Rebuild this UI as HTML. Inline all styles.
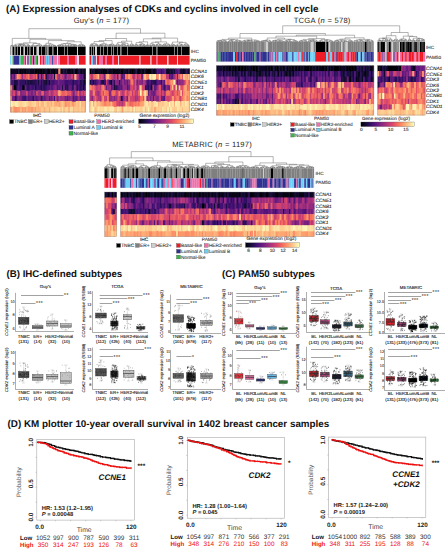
<!DOCTYPE html><html><head><meta charset="utf-8"><style>html,body{margin:0;padding:0;background:#fff;}svg{display:block;}</style></head><body><svg width="447" height="550" viewBox="0 0 447 550" text-rendering="geometricPrecision" font-family='"Liberation Sans", sans-serif'>
<rect width="447" height="550" fill="#fff"/>
<text x="6.00" y="12.20" font-size="9.85" text-anchor="start" font-weight="bold" font-style="normal" fill="#111" >(A) Expression analyses of CDKs and cyclins involved in cell cycle</text>
<text x="101.50" y="23.00" font-size="7.6" text-anchor="middle" font-weight="normal" font-style="normal" fill="#222" letter-spacing="0.25">Guy's (<tspan font-style='italic'>n</tspan> = 177)</text>
<path d="M10.6 46.6V46.0H11.2V46.6M11.9 46.6V46.0H12.4V46.6M10.9 46.0V45.6H12.1V46.0M12.8 46.6V45.9H13.2V46.6M11.5 45.6V45.3H13.0V45.9M13.7 46.6V45.9H14.3V46.6M15.1 46.6V46.0H15.8V46.6M16.6 46.6V46.0H17.4V46.6M15.5 46.0V45.7H17.0V46.0M14.0 45.9V45.3H16.2V45.7M18.0 46.6V45.9H18.5V46.6M18.2 45.9V45.5H19.1V46.6M19.7 46.6V46.0H20.2V46.6M21.3 46.6V46.2H21.7V46.6M20.7 46.6V45.8H21.5V46.2M19.9 46.0V45.4H21.1V45.8M18.7 45.5V45.0H20.5V45.4M22.4 46.6V45.8H22.9V46.6M24.3 46.6V46.2H24.8V46.6M23.5 46.6V45.8H24.6V46.2M22.7 45.8V45.5H24.0V45.8M25.4 46.6V46.0H26.0V46.6M23.3 45.5V45.1H25.7V46.0M19.6 45.0V44.5H24.5V45.1M15.1 45.3V44.2H22.1V44.5M26.4 46.6V46.1H27.1V46.6M26.7 46.1V45.8H27.8V46.6M28.3 46.6V46.0H28.9V46.6M29.9 46.6V46.2H30.5V46.6M29.3 46.6V45.8H30.2V46.2M28.6 46.0V45.5H29.8V45.8M27.2 45.8V45.0H29.2V45.5M18.6 44.2V43.8H28.2V45.0M31.9 46.6V46.4H32.4V46.6M32.1 46.4V46.0H32.9V46.6M31.2 46.6V45.7H32.5V46.0M33.4 46.6V46.1H34.0V46.6M33.7 46.1V45.7H34.6V46.6M31.9 45.7V45.0H34.1V45.7M35.8 46.6V46.5H36.3V46.6M36.0 46.5V46.2H36.9V46.6M35.2 46.6V45.8H36.5V46.2M37.6 46.6V45.8H38.3V46.6M35.8 45.8V45.5H38.0V45.8M39.0 46.6V45.9H39.7V46.6M36.9 45.5V45.1H39.3V45.9M40.2 46.6V46.3H40.7V46.6M40.4 46.3V46.0H41.4V46.6M40.9 46.0V45.6H42.1V46.6M38.1 45.1V44.8H41.5V45.6M33.0 45.0V43.5H39.8V44.8M23.4 43.8V42.8H36.4V43.5M43.7 46.6V46.5H44.3V46.6M44.0 46.5V46.1H44.9V46.6M42.9 46.6V45.8H44.4V46.1M45.3 46.6V45.9H45.9V46.6M43.7 45.8V45.4H45.6V45.9M46.5 46.6V46.0H47.0V46.6M46.7 46.0V45.6H47.5V46.6M44.6 45.4V45.1H47.1V45.6M48.1 46.6V45.9H48.6V46.6M49.8 46.6V46.0H50.3V46.6M49.2 46.6V45.6H50.1V46.0M48.3 45.9V45.3H49.6V45.6M51.4 46.6V46.2H51.9V46.6M50.9 46.6V45.8H51.6V46.2M52.5 46.6V46.5H52.9V46.6M52.7 46.5V46.1H53.5V46.6M53.1 46.1V45.8H54.2V46.6M55.8 46.6V46.5H56.3V46.6M55.4 46.6V46.1H56.1V46.5M54.9 46.6V45.8H55.7V46.1M53.6 45.8V45.4H55.3V45.8M51.3 45.8V45.1H54.5V45.4M49.0 45.3V44.2H52.9V45.1M45.9 45.1V43.3H50.9V44.2M57.0 46.6V45.8H57.6V46.6M58.9 46.6V46.2H59.3V46.6M58.2 46.6V45.8H59.1V46.2M57.3 45.8V45.5H58.6V45.8M59.7 46.6V45.9H60.2V46.6M59.9 45.9V45.5H60.9V46.6M58.0 45.5V45.1H60.4V45.5M61.7 46.6V46.0H62.1V46.6M61.9 46.0V45.7H62.6V46.6M63.4 46.6V45.9H64.1V46.6M62.3 45.7V45.3H63.7V45.9M59.2 45.1V44.8H63.0V45.3M64.6 46.6V45.8H65.2V46.6M65.8 46.6V46.1H66.3V46.6M66.0 46.1V45.8H66.7V46.6M64.9 45.8V45.4H66.4V45.8M61.1 44.8V43.9H65.6V45.4M67.2 46.6V45.9H67.8V46.6M68.6 46.6V46.4H69.1V46.6M68.2 46.6V46.0H68.8V46.4M68.5 46.0V45.7H69.5V46.6M67.5 45.9V45.3H69.0V45.7M70.6 46.6V46.2H71.1V46.6M70.1 46.6V45.9H70.9V46.2M71.7 46.6V45.9H72.3V46.6M70.5 45.9V45.5H72.0V45.9M73.4 46.6V46.1H73.9V46.6M72.8 46.6V45.7H73.6V46.1M74.2 46.6V46.4H74.7V46.6M74.4 46.4V46.0H75.2V46.6M74.8 46.0V45.7H75.6V46.6M73.2 45.7V45.3H75.2V45.7M77.0 46.6V46.0H77.4V46.6M76.4 46.6V45.5H77.2V46.0M74.2 45.3V44.9H76.8V45.5M71.2 45.5V44.6H75.5V44.9M68.3 45.3V44.2H73.4V44.6M63.4 43.9V43.5H70.8V44.2M78.1 46.6V45.7H78.8V46.6M80.1 46.6V46.2H80.6V46.6M80.3 46.2V45.9H81.0V46.6M79.5 46.6V45.5H80.7V45.9M78.4 45.7V45.2H80.1V45.5M82.3 46.6V45.9H83.1V46.6M81.6 46.6V45.6H82.7V45.9M84.7 46.6V46.2H85.2V46.6M84.3 46.6V45.9H84.9V46.2M83.8 46.6V45.5H84.6V45.9M82.1 45.6V45.1H84.2V45.5M79.3 45.2V44.4H83.2V45.1M67.1 43.5V41.8H81.2V44.4M48.4 43.3V40.6H74.2V41.8M29.9 42.8V39.3H61.3V40.6M12.3 45.3V38.4H45.6V39.3M89.9 46.6V45.4H90.8V46.6M91.3 46.6V45.6H91.8V46.6M91.6 45.6V45.3H92.4V46.6M93.1 46.6V45.6H93.7V46.6M92.0 45.3V44.8H93.4V45.6M90.4 45.4V44.3H92.7V44.8M94.3 46.6V45.5H95.1V46.6M95.9 46.6V45.6H96.5V46.6M94.7 45.5V45.1H96.2V45.6M97.0 46.6V45.6H97.6V46.6M97.3 45.6V45.3H98.2V46.6M95.5 45.1V44.6H97.8V45.3M91.5 44.3V43.7H96.6V44.6M98.8 46.6V45.7H99.3V46.6M99.1 45.7V45.4H99.7V46.6M100.0 46.6V45.5H100.5V46.6M101.4 46.6V45.8H101.9V46.6M101.0 46.6V45.5H101.7V45.8M100.3 45.5V45.1H101.3V45.5M99.4 45.4V44.8H100.8V45.1M102.3 46.6V45.6H102.9V46.6M102.6 45.6V45.2H103.7V46.6M100.1 44.8V44.4H103.1V45.2M105.1 46.6V45.9H105.6V46.6M105.4 45.9V45.6H106.3V46.6M104.5 46.6V45.2H105.8V45.6M107.0 46.6V45.3H107.7V46.6M105.2 45.2V44.4H107.3V45.3M101.6 44.4V43.8H106.3V44.4M94.1 43.7V41.5H103.9V43.8M109.2 46.6V45.7H109.8V46.6M110.3 46.6V45.6H110.8V46.6M109.5 45.7V45.3H110.6V45.6M108.5 46.6V44.8H110.0V45.3M111.5 46.6V45.4H112.1V46.6M109.3 44.8V44.5H111.8V45.4M112.4 46.6V45.9H112.9V46.6M112.7 45.9V45.5H113.4V46.6M114.1 46.6V45.6H114.7V46.6M113.0 45.5V44.9H114.4V45.6M110.5 44.5V44.1H113.7V44.9M99.0 41.5V40.6H112.1V44.1M115.3 46.6V45.5H116.0V46.6M116.7 46.6V45.5H117.4V46.6M115.7 45.5V45.2H117.0V45.5M118.0 46.6V45.6H118.7V46.6M119.4 46.6V45.7H119.8V46.6M118.4 45.6V44.9H119.6V45.7M116.3 45.2V44.2H119.0V44.9M120.3 46.6V45.5H121.0V46.6M120.6 45.5V45.2H121.7V46.6M122.7 46.6V45.7H123.2V46.6M122.3 46.6V45.3H123.0V45.7M123.8 46.6V45.7H124.4V46.6M125.7 46.6V45.5H126.2V46.6M125.1 46.6V45.1H125.9V45.5M124.1 45.7V44.8H125.5V45.1M122.6 45.3V44.4H124.8V44.8M121.2 45.2V44.1H123.7V44.4M127.5 46.6V45.8H128.0V46.6M126.9 46.6V45.5H127.8V45.8M128.5 46.6V45.6H129.0V46.6M127.3 45.5V45.0H128.8V45.6M122.4 44.1V43.3H128.0V45.0M117.7 44.2V42.4H125.2V43.3M130.5 46.6V45.5H131.2V46.6M129.7 46.6V45.1H130.9V45.5M131.7 46.6V45.7H132.2V46.6M132.0 45.7V45.3H132.9V46.6M133.6 46.6V45.4H134.3V46.6M132.4 45.3V44.9H133.9V45.4M130.3 45.1V44.2H133.2V44.9M121.5 42.4V41.2H131.7V44.2M105.6 40.6V38.5H126.6V41.2M134.9 46.6V45.4H135.5V46.6M136.8 46.6V45.7H137.4V46.6M137.1 45.7V45.3H138.2V46.6M136.2 46.6V44.9H137.6V45.3M135.2 45.4V44.4H136.9V44.9M138.9 46.6V45.5H139.5V46.6M140.6 46.6V45.8H141.2V46.6M140.1 46.6V45.5H140.9V45.8M141.8 46.6V45.7H142.4V46.6M140.5 45.5V44.8H142.1V45.7M139.2 45.5V44.4H141.3V44.8M143.6 46.6V45.9H144.1V46.6M142.9 46.6V45.5H143.8V45.9M144.3 46.6V46.0H144.8V46.6M144.5 46.0V45.6H145.3V46.6M143.4 45.5V44.6H144.9V45.6M140.3 44.4V44.0H144.2V44.6M136.0 44.4V42.6H142.2V44.0M145.8 46.6V45.6H146.3V46.6M147.0 46.6V45.6H147.8V46.6M146.0 45.6V45.2H147.4V45.6M148.3 46.6V45.6H148.8V46.6M146.7 45.2V44.9H148.6V45.6M139.1 42.6V41.8H147.6V44.9M150.1 46.6V46.0H150.6V46.6M150.3 46.0V45.7H151.0V46.6M149.5 46.6V45.3H150.7V45.7M151.5 46.6V45.5H152.1V46.6M152.8 46.6V45.5H153.4V46.6M151.8 45.5V45.2H153.1V45.5M153.9 46.6V45.6H154.5V46.6M154.2 45.6V45.3H155.0V46.6M152.5 45.2V44.5H154.6V45.3M150.1 45.3V43.8H153.5V44.5M156.3 46.6V45.6H156.8V46.6M155.7 46.6V45.2H156.5V45.6M157.4 46.6V45.4H158.0V46.6M156.1 45.2V44.6H157.7V45.4M158.5 46.6V45.8H159.0V46.6M158.8 45.8V45.5H159.7V46.6M160.4 46.6V45.7H161.1V46.6M160.7 45.7V45.3H161.7V46.6M159.3 45.5V44.4H161.2V45.3M156.9 44.6V44.0H160.3V44.4M151.8 43.8V42.3H158.6V44.0M162.3 46.6V45.8H162.8V46.6M162.5 45.8V45.4H163.2V46.6M162.8 45.4V44.9H163.8V46.6M164.9 46.6V45.8H165.6V46.6M164.4 46.6V45.4H165.3V45.8M166.1 46.6V45.7H166.6V46.6M164.8 45.4V44.9H166.3V45.7M163.3 44.9V44.2H165.6V44.9M167.3 46.6V45.3H168.0V46.6M168.7 46.6V45.8H169.3V46.6M169.0 45.8V45.4H169.7V46.6M169.4 45.4V45.1H170.2V46.6M167.6 45.3V44.6H169.8V45.1M164.4 44.2V43.8H168.7V44.6M155.2 42.3V41.9H166.6V43.8M143.4 41.8V38.8H160.9V41.9M170.9 46.6V45.2H171.6V46.6M172.6 46.6V45.8H173.1V46.6M172.2 46.6V45.5H172.9V45.8M173.6 46.6V45.5H174.3V46.6M175.1 46.6V45.5H175.7V46.6M174.0 45.5V45.1H175.4V45.5M172.5 45.5V44.8H174.7V45.1M171.3 45.2V44.1H173.6V44.8M176.9 46.6V46.2H177.4V46.6M177.1 46.2V45.9H177.9V46.6M177.5 45.9V45.5H178.5V46.6M176.4 46.6V45.2H178.0V45.5M179.3 46.6V45.7H180.1V46.6M179.7 45.7V45.3H180.8V46.6M181.4 46.6V45.7H181.9V46.6M180.2 45.3V45.0H181.7V45.7M182.4 46.6V45.7H182.9V46.6M181.0 45.0V44.6H182.7V45.7M177.2 45.2V44.0H181.8V44.6M183.6 46.6V45.5H184.4V46.6M185.1 46.6V45.4H185.8V46.6M184.0 45.5V44.5H185.4V45.4M186.4 46.6V45.7H186.9V46.6M187.5 46.6V45.6H188.2V46.6M188.7 46.6V45.7H189.2V46.6M187.9 45.6V45.3H189.0V45.7M186.7 45.7V44.6H188.4V45.3M184.7 44.5V43.8H187.5V44.6M179.5 44.0V42.4H186.1V43.8M172.4 44.1V42.1H182.8V42.4M152.1 38.8V38.1H177.6V42.1M116.1 38.5V33.2H164.9V38.1M28.9 38.4V28.7H140.5V33.2" fill="none" stroke="#505050" stroke-width="0.42"/>
<rect x="10.20" y="46.70" width="0.90" height="8.50" fill="#7f7f7f"/>
<rect x="11.00" y="46.70" width="1.60" height="8.50" fill="#cfcfcf"/>
<rect x="12.50" y="46.70" width="1.60" height="8.50" fill="#000000"/>
<rect x="14.00" y="46.70" width="1.60" height="8.50" fill="#7f7f7f"/>
<rect x="15.50" y="46.70" width="1.60" height="8.50" fill="#000000"/>
<rect x="17.00" y="46.70" width="1.10" height="8.50" fill="#7f7f7f"/>
<rect x="18.00" y="46.70" width="2.10" height="8.50" fill="#000000"/>
<rect x="20.00" y="46.70" width="1.10" height="8.50" fill="#cfcfcf"/>
<rect x="21.00" y="46.70" width="2.10" height="8.50" fill="#000000"/>
<rect x="23.00" y="46.70" width="1.10" height="8.50" fill="#7f7f7f"/>
<rect x="24.00" y="46.70" width="1.10" height="8.50" fill="#cfcfcf"/>
<rect x="25.00" y="46.70" width="2.10" height="8.50" fill="#000000"/>
<rect x="27.00" y="46.70" width="1.10" height="8.50" fill="#7f7f7f"/>
<rect x="28.00" y="46.70" width="1.60" height="8.50" fill="#000000"/>
<rect x="29.50" y="46.70" width="1.10" height="8.50" fill="#7f7f7f"/>
<rect x="30.50" y="46.70" width="2.60" height="8.50" fill="#000000"/>
<rect x="33.00" y="46.70" width="1.10" height="8.50" fill="#cfcfcf"/>
<rect x="34.00" y="46.70" width="2.10" height="8.50" fill="#000000"/>
<rect x="36.00" y="46.70" width="1.10" height="8.50" fill="#7f7f7f"/>
<rect x="37.00" y="46.70" width="2.10" height="8.50" fill="#cfcfcf"/>
<rect x="39.00" y="46.70" width="2.10" height="8.50" fill="#000000"/>
<rect x="41.00" y="46.70" width="1.10" height="8.50" fill="#7f7f7f"/>
<rect x="42.00" y="46.70" width="3.60" height="8.50" fill="#000000"/>
<rect x="45.50" y="46.70" width="1.10" height="8.50" fill="#7f7f7f"/>
<rect x="46.50" y="46.70" width="1.10" height="8.50" fill="#000000"/>
<rect x="47.50" y="46.70" width="1.10" height="8.50" fill="#cfcfcf"/>
<rect x="48.50" y="46.70" width="3.60" height="8.50" fill="#000000"/>
<rect x="52.00" y="46.70" width="1.60" height="8.50" fill="#7f7f7f"/>
<rect x="53.50" y="46.70" width="3.60" height="8.50" fill="#000000"/>
<rect x="57.00" y="46.70" width="1.10" height="8.50" fill="#cfcfcf"/>
<rect x="58.00" y="46.70" width="6.10" height="8.50" fill="#000000"/>
<rect x="64.00" y="46.70" width="1.10" height="8.50" fill="#7f7f7f"/>
<rect x="65.00" y="46.70" width="2.10" height="8.50" fill="#000000"/>
<rect x="67.00" y="46.70" width="1.10" height="8.50" fill="#7f7f7f"/>
<rect x="68.00" y="46.70" width="9.10" height="8.50" fill="#000000"/>
<rect x="77.00" y="46.70" width="1.10" height="8.50" fill="#cfcfcf"/>
<rect x="78.00" y="46.70" width="7.60" height="8.50" fill="#000000"/>
<rect x="89.50" y="46.70" width="1.60" height="8.50" fill="#000000"/>
<rect x="91.00" y="46.70" width="1.10" height="8.50" fill="#7f7f7f"/>
<rect x="92.00" y="46.70" width="1.10" height="8.50" fill="#000000"/>
<rect x="93.00" y="46.70" width="1.10" height="8.50" fill="#7f7f7f"/>
<rect x="94.00" y="46.70" width="1.10" height="8.50" fill="#000000"/>
<rect x="95.00" y="46.70" width="2.10" height="8.50" fill="#cfcfcf"/>
<rect x="97.00" y="46.70" width="3.10" height="8.50" fill="#000000"/>
<rect x="100.00" y="46.70" width="1.10" height="8.50" fill="#7f7f7f"/>
<rect x="101.00" y="46.70" width="2.10" height="8.50" fill="#000000"/>
<rect x="103.00" y="46.70" width="1.10" height="8.50" fill="#7f7f7f"/>
<rect x="104.00" y="46.70" width="3.10" height="8.50" fill="#000000"/>
<rect x="107.00" y="46.70" width="1.10" height="8.50" fill="#7f7f7f"/>
<rect x="108.00" y="46.70" width="3.10" height="8.50" fill="#000000"/>
<rect x="111.00" y="46.70" width="1.10" height="8.50" fill="#7f7f7f"/>
<rect x="112.00" y="46.70" width="1.10" height="8.50" fill="#000000"/>
<rect x="113.00" y="46.70" width="1.10" height="8.50" fill="#7f7f7f"/>
<rect x="114.00" y="46.70" width="3.10" height="8.50" fill="#000000"/>
<rect x="117.00" y="46.70" width="1.10" height="8.50" fill="#7f7f7f"/>
<rect x="118.00" y="46.70" width="2.10" height="8.50" fill="#000000"/>
<rect x="120.00" y="46.70" width="1.60" height="8.50" fill="#7f7f7f"/>
<rect x="121.50" y="46.70" width="5.60" height="8.50" fill="#000000"/>
<rect x="127.00" y="46.70" width="1.10" height="8.50" fill="#7f7f7f"/>
<rect x="128.00" y="46.70" width="24.10" height="8.50" fill="#000000"/>
<rect x="152.00" y="46.70" width="1.10" height="8.50" fill="#7f7f7f"/>
<rect x="153.00" y="46.70" width="3.60" height="8.50" fill="#000000"/>
<rect x="156.50" y="46.70" width="1.10" height="8.50" fill="#7f7f7f"/>
<rect x="157.50" y="46.70" width="16.60" height="8.50" fill="#000000"/>
<rect x="174.00" y="46.70" width="1.10" height="8.50" fill="#7f7f7f"/>
<rect x="175.00" y="46.70" width="2.10" height="8.50" fill="#000000"/>
<rect x="177.00" y="46.70" width="1.10" height="8.50" fill="#7f7f7f"/>
<rect x="178.00" y="46.70" width="3.10" height="8.50" fill="#000000"/>
<rect x="181.00" y="46.70" width="1.10" height="8.50" fill="#7f7f7f"/>
<rect x="182.00" y="46.70" width="7.60" height="8.50" fill="#000000"/>
<rect x="10.20" y="55.70" width="1.40" height="9.00" fill="#6dcff6"/>
<rect x="11.50" y="55.70" width="1.10" height="9.00" fill="#f4d7e4"/>
<rect x="12.50" y="55.70" width="1.10" height="9.00" fill="#39b54a"/>
<rect x="13.50" y="55.70" width="6.10" height="9.00" fill="#2e3192"/>
<rect x="19.50" y="55.70" width="1.10" height="9.00" fill="#6dcff6"/>
<rect x="20.50" y="55.70" width="3.60" height="9.00" fill="#39b54a"/>
<rect x="24.00" y="55.70" width="1.10" height="9.00" fill="#f06eaa"/>
<rect x="25.00" y="55.70" width="1.10" height="9.00" fill="#ee1c25"/>
<rect x="26.00" y="55.70" width="1.10" height="9.00" fill="#f4d7e4"/>
<rect x="27.00" y="55.70" width="2.10" height="9.00" fill="#8b5fa8"/>
<rect x="29.00" y="55.70" width="1.10" height="9.00" fill="#6dcff6"/>
<rect x="30.00" y="55.70" width="2.10" height="9.00" fill="#39b54a"/>
<rect x="32.00" y="55.70" width="1.10" height="9.00" fill="#f06eaa"/>
<rect x="33.00" y="55.70" width="1.60" height="9.00" fill="#2e3192"/>
<rect x="34.50" y="55.70" width="1.60" height="9.00" fill="#f06eaa"/>
<rect x="36.00" y="55.70" width="1.10" height="9.00" fill="#39b54a"/>
<rect x="37.00" y="55.70" width="1.10" height="9.00" fill="#ee1c25"/>
<rect x="38.00" y="55.70" width="2.10" height="9.00" fill="#f4d7e4"/>
<rect x="40.00" y="55.70" width="1.10" height="9.00" fill="#ee1c25"/>
<rect x="41.00" y="55.70" width="2.10" height="9.00" fill="#f06eaa"/>
<rect x="43.00" y="55.70" width="1.60" height="9.00" fill="#ee1c25"/>
<rect x="44.50" y="55.70" width="1.60" height="9.00" fill="#f06eaa"/>
<rect x="46.00" y="55.70" width="1.10" height="9.00" fill="#6dcff6"/>
<rect x="47.00" y="55.70" width="1.10" height="9.00" fill="#f06eaa"/>
<rect x="48.00" y="55.70" width="1.10" height="9.00" fill="#6dcff6"/>
<rect x="49.00" y="55.70" width="3.10" height="9.00" fill="#f06eaa"/>
<rect x="52.00" y="55.70" width="1.60" height="9.00" fill="#3a4fa0"/>
<rect x="53.50" y="55.70" width="3.60" height="9.00" fill="#f06eaa"/>
<rect x="57.00" y="55.70" width="1.10" height="9.00" fill="#f4d7e4"/>
<rect x="58.00" y="55.70" width="2.10" height="9.00" fill="#f06eaa"/>
<rect x="60.00" y="55.70" width="7.10" height="9.00" fill="#ee1c25"/>
<rect x="67.00" y="55.70" width="2.10" height="9.00" fill="#f06eaa"/>
<rect x="69.00" y="55.70" width="6.10" height="9.00" fill="#ee1c25"/>
<rect x="75.00" y="55.70" width="2.10" height="9.00" fill="#f06eaa"/>
<rect x="77.00" y="55.70" width="2.10" height="9.00" fill="#f4d7e4"/>
<rect x="79.00" y="55.70" width="6.60" height="9.00" fill="#ee1c25"/>
<rect x="89.50" y="55.70" width="1.60" height="9.00" fill="#ee1c25"/>
<rect x="91.00" y="55.70" width="2.10" height="9.00" fill="#6dcff6"/>
<rect x="93.00" y="55.70" width="3.10" height="9.00" fill="#8b5fa8"/>
<rect x="96.00" y="55.70" width="1.10" height="9.00" fill="#f4d7e4"/>
<rect x="97.00" y="55.70" width="2.10" height="9.00" fill="#ee1c25"/>
<rect x="99.00" y="55.70" width="4.10" height="9.00" fill="#f06eaa"/>
<rect x="103.00" y="55.70" width="2.10" height="9.00" fill="#ee1c25"/>
<rect x="105.00" y="55.70" width="2.10" height="9.00" fill="#f06eaa"/>
<rect x="107.00" y="55.70" width="5.10" height="9.00" fill="#ee1c25"/>
<rect x="112.00" y="55.70" width="2.10" height="9.00" fill="#f06eaa"/>
<rect x="114.00" y="55.70" width="4.10" height="9.00" fill="#ee1c25"/>
<rect x="118.00" y="55.70" width="1.10" height="9.00" fill="#f4d7e4"/>
<rect x="119.00" y="55.70" width="20.60" height="9.00" fill="#ee1c25"/>
<rect x="139.50" y="55.70" width="1.10" height="9.00" fill="#f4d7e4"/>
<rect x="140.50" y="55.70" width="10.10" height="9.00" fill="#ee1c25"/>
<rect x="150.50" y="55.70" width="1.10" height="9.00" fill="#f4d7e4"/>
<rect x="151.50" y="55.70" width="5.10" height="9.00" fill="#ee1c25"/>
<rect x="156.50" y="55.70" width="1.10" height="9.00" fill="#f06eaa"/>
<rect x="157.50" y="55.70" width="9.60" height="9.00" fill="#ee1c25"/>
<rect x="167.00" y="55.70" width="1.60" height="9.00" fill="#f4d7e4"/>
<rect x="168.50" y="55.70" width="8.60" height="9.00" fill="#ee1c25"/>
<rect x="177.00" y="55.70" width="1.10" height="9.00" fill="#f4d7e4"/>
<rect x="178.00" y="55.70" width="11.60" height="9.00" fill="#ee1c25"/>
<path fill="#070515" d="M10.2 68.5h2.1v5.9h-2.1zM16.6 68.5h2.1v5.9h-2.1zM21.4 68.5h2.1v5.9h-2.1zM34.2 68.5h2.1v5.9h-2.1zM42.2 68.5h2.1v5.9h-2.1zM48.7 68.5h2.1v5.9h-2.1zM56.7 68.5h2.1v5.9h-2.1zM67.9 68.5h2.1v5.9h-2.1zM83.9 68.5h2.1v5.9h-2.1zM83.9 79.4h2.1v5.9h-2.1z"/>
<path fill="#0d0925" d="M11.8 68.5h2.1v5.9h-2.1zM13.4 68.5h2.1v5.9h-2.1zM15.0 68.5h2.1v5.9h-2.1zM23.0 68.5h2.1v5.9h-2.1zM26.2 68.5h2.1v5.9h-2.1zM31.0 68.5h2.1v5.9h-2.1zM51.9 68.5h2.1v5.9h-2.1zM61.5 68.5h2.1v5.9h-2.1zM66.3 68.5h2.1v5.9h-2.1zM15.0 84.8h2.1v5.9h-2.1zM21.4 84.8h2.1v5.9h-2.1zM82.3 84.8h2.1v5.9h-2.1z"/>
<path fill="#140e36" d="M18.2 68.5h2.1v5.9h-2.1zM55.1 68.5h2.1v5.9h-2.1zM79.1 68.5h2.1v5.9h-2.1zM27.8 79.4h2.1v5.9h-2.1zM37.4 79.4h2.1v5.9h-2.1zM43.8 79.4h2.1v5.9h-2.1zM34.2 84.8h2.1v5.9h-2.1zM64.7 84.8h2.1v5.9h-2.1z"/>
<path fill="#03020c" d="M19.8 68.5h2.1v5.9h-2.1zM24.6 68.5h2.1v5.9h-2.1zM37.4 68.5h2.1v5.9h-2.1zM47.0 68.5h2.1v5.9h-2.1zM53.5 68.5h2.1v5.9h-2.1zM71.1 68.5h2.1v5.9h-2.1zM74.3 68.5h2.1v5.9h-2.1z"/>
<path fill="#110c2e" d="M27.8 68.5h2.1v5.9h-2.1zM45.4 68.5h2.1v5.9h-2.1zM64.7 68.5h2.1v5.9h-2.1zM82.3 68.5h2.1v5.9h-2.1zM45.4 79.4h2.1v5.9h-2.1z"/>
<path fill="#0a071d" d="M29.4 68.5h2.1v5.9h-2.1zM32.6 68.5h2.1v5.9h-2.1zM39.0 68.5h2.1v5.9h-2.1zM43.8 68.5h2.1v5.9h-2.1zM50.3 68.5h2.1v5.9h-2.1zM59.9 68.5h2.1v5.9h-2.1zM69.5 68.5h2.1v5.9h-2.1zM80.7 68.5h2.1v5.9h-2.1zM48.7 79.4h2.1v5.9h-2.1z"/>
<path fill="#000004" d="M35.8 68.5h2.1v5.9h-2.1zM40.6 68.5h2.1v5.9h-2.1zM75.9 68.5h2.1v5.9h-2.1zM83.9 73.9h2.1v5.9h-2.1zM13.4 84.8h2.1v5.9h-2.1zM23.0 84.8h2.1v5.9h-2.1z"/>
<path fill="#fa8864" d="M58.3 68.5h2.1v5.9h-2.1zM10.2 95.7h2.1v5.9h-2.1zM15.0 106.6h2.1v5.9h-2.1zM31.0 106.6h2.1v5.9h-2.1z"/>
<path fill="#1a0e40" d="M63.1 68.5h2.1v5.9h-2.1zM72.7 68.5h2.1v5.9h-2.1zM77.5 68.5h2.1v5.9h-2.1zM53.5 73.9h2.1v5.9h-2.1zM13.4 79.4h2.1v5.9h-2.1zM15.0 79.4h2.1v5.9h-2.1zM24.6 79.4h2.1v5.9h-2.1zM29.4 79.4h2.1v5.9h-2.1zM31.0 79.4h2.1v5.9h-2.1zM72.7 79.4h2.1v5.9h-2.1z"/>
<path fill="#421173" d="M10.2 73.9h2.1v5.9h-2.1zM82.3 73.9h2.1v5.9h-2.1zM11.8 79.4h2.1v5.9h-2.1zM32.6 84.8h2.1v5.9h-2.1zM39.0 84.8h2.1v5.9h-2.1zM56.7 84.8h2.1v5.9h-2.1zM53.5 95.7h2.1v5.9h-2.1z"/>
<path fill="#852681" d="M11.8 73.9h2.1v5.9h-2.1zM26.2 95.7h2.1v5.9h-2.1zM45.4 95.7h2.1v5.9h-2.1z"/>
<path fill="#56167b" d="M13.4 73.9h2.1v5.9h-2.1zM80.7 73.9h2.1v5.9h-2.1zM55.1 79.4h2.1v5.9h-2.1zM11.8 84.8h2.1v5.9h-2.1zM48.7 84.8h2.1v5.9h-2.1zM58.3 84.8h2.1v5.9h-2.1zM19.8 90.2h2.1v5.9h-2.1zM48.7 95.7h2.1v5.9h-2.1zM75.9 95.7h2.1v5.9h-2.1zM79.1 95.7h2.1v5.9h-2.1zM83.9 95.7h2.1v5.9h-2.1z"/>
<path fill="#a2307d" d="M15.0 73.9h2.1v5.9h-2.1zM56.7 73.9h2.1v5.9h-2.1zM67.9 73.9h2.1v5.9h-2.1zM69.5 73.9h2.1v5.9h-2.1zM77.5 73.9h2.1v5.9h-2.1zM32.6 90.2h2.1v5.9h-2.1zM45.4 90.2h2.1v5.9h-2.1zM47.0 90.2h2.1v5.9h-2.1zM75.9 90.2h2.1v5.9h-2.1zM61.5 95.7h2.1v5.9h-2.1zM63.1 95.7h2.1v5.9h-2.1zM77.5 95.7h2.1v5.9h-2.1z"/>
<path fill="#fd976a" d="M16.6 73.9h2.1v5.9h-2.1zM71.1 101.1h2.1v5.9h-2.1zM72.7 101.1h2.1v5.9h-2.1zM10.2 106.6h2.1v5.9h-2.1zM16.6 106.6h2.1v5.9h-2.1zM18.2 106.6h2.1v5.9h-2.1zM21.4 106.6h2.1v5.9h-2.1zM24.6 106.6h2.1v5.9h-2.1zM34.2 106.6h2.1v5.9h-2.1z"/>
<path fill="#f98062" d="M18.2 73.9h2.1v5.9h-2.1zM59.9 90.2h2.1v5.9h-2.1z"/>
<path fill="#ef6360" d="M19.8 73.9h2.1v5.9h-2.1zM42.2 90.2h2.1v5.9h-2.1zM77.5 90.2h2.1v5.9h-2.1z"/>
<path fill="#932b80" d="M21.4 73.9h2.1v5.9h-2.1zM23.0 90.2h2.1v5.9h-2.1zM24.6 90.2h2.1v5.9h-2.1zM29.4 90.2h2.1v5.9h-2.1zM71.1 95.7h2.1v5.9h-2.1z"/>
<path fill="#de4968" d="M23.0 73.9h2.1v5.9h-2.1z"/>
<path fill="#d1436e" d="M24.6 73.9h2.1v5.9h-2.1zM26.2 90.2h2.1v5.9h-2.1z"/>
<path fill="#ea5d62" d="M26.2 73.9h2.1v5.9h-2.1zM59.9 73.9h2.1v5.9h-2.1zM18.2 90.2h2.1v5.9h-2.1zM35.8 90.2h2.1v5.9h-2.1zM61.5 90.2h2.1v5.9h-2.1zM63.1 90.2h2.1v5.9h-2.1z"/>
<path fill="#f8785f" d="M27.8 73.9h2.1v5.9h-2.1zM10.2 84.8h2.1v5.9h-2.1z"/>
<path fill="#be3a76" d="M29.4 73.9h2.1v5.9h-2.1zM34.2 73.9h2.1v5.9h-2.1zM55.1 95.7h2.1v5.9h-2.1zM58.3 95.7h2.1v5.9h-2.1z"/>
<path fill="#c43d73" d="M31.0 73.9h2.1v5.9h-2.1z"/>
<path fill="#e25066" d="M32.6 73.9h2.1v5.9h-2.1zM10.2 90.2h2.1v5.9h-2.1zM40.6 90.2h2.1v5.9h-2.1zM67.9 90.2h2.1v5.9h-2.1z"/>
<path fill="#f7705c" d="M35.8 73.9h2.1v5.9h-2.1z"/>
<path fill="#3b0f70" d="M37.4 73.9h2.1v5.9h-2.1zM40.6 73.9h2.1v5.9h-2.1zM51.9 79.4h2.1v5.9h-2.1zM64.7 79.4h2.1v5.9h-2.1zM66.3 79.4h2.1v5.9h-2.1zM74.3 79.4h2.1v5.9h-2.1zM75.9 79.4h2.1v5.9h-2.1zM19.8 84.8h2.1v5.9h-2.1zM31.0 84.8h2.1v5.9h-2.1zM37.4 84.8h2.1v5.9h-2.1zM45.4 84.8h2.1v5.9h-2.1zM23.0 95.7h2.1v5.9h-2.1zM24.6 95.7h2.1v5.9h-2.1z"/>
<path fill="#b0357a" d="M39.0 73.9h2.1v5.9h-2.1zM51.9 73.9h2.1v5.9h-2.1zM66.3 73.9h2.1v5.9h-2.1z"/>
<path fill="#8c2981" d="M42.2 73.9h2.1v5.9h-2.1zM21.4 90.2h2.1v5.9h-2.1zM43.8 90.2h2.1v5.9h-2.1zM39.0 95.7h2.1v5.9h-2.1zM47.0 95.7h2.1v5.9h-2.1zM69.5 95.7h2.1v5.9h-2.1z"/>
<path fill="#e65664" d="M43.8 73.9h2.1v5.9h-2.1zM56.7 90.2h2.1v5.9h-2.1zM66.3 90.2h2.1v5.9h-2.1zM69.5 90.2h2.1v5.9h-2.1zM83.9 90.2h2.1v5.9h-2.1z"/>
<path fill="#210e49" d="M45.4 73.9h2.1v5.9h-2.1zM40.6 79.4h2.1v5.9h-2.1zM79.1 79.4h2.1v5.9h-2.1zM82.3 79.4h2.1v5.9h-2.1zM40.6 84.8h2.1v5.9h-2.1zM61.5 84.8h2.1v5.9h-2.1z"/>
<path fill="#5d187d" d="M47.0 73.9h2.1v5.9h-2.1zM79.1 73.9h2.1v5.9h-2.1zM56.7 79.4h2.1v5.9h-2.1zM61.5 79.4h2.1v5.9h-2.1zM51.9 84.8h2.1v5.9h-2.1zM15.0 90.2h2.1v5.9h-2.1zM29.4 95.7h2.1v5.9h-2.1zM31.0 95.7h2.1v5.9h-2.1zM43.8 95.7h2.1v5.9h-2.1zM66.3 95.7h2.1v5.9h-2.1z"/>
<path fill="#7f2481" d="M48.7 73.9h2.1v5.9h-2.1zM27.8 90.2h2.1v5.9h-2.1zM19.8 95.7h2.1v5.9h-2.1zM67.9 95.7h2.1v5.9h-2.1z"/>
<path fill="#711f80" d="M50.3 73.9h2.1v5.9h-2.1zM72.7 73.9h2.1v5.9h-2.1zM55.1 84.8h2.1v5.9h-2.1zM59.9 84.8h2.1v5.9h-2.1zM11.8 95.7h2.1v5.9h-2.1zM18.2 95.7h2.1v5.9h-2.1zM37.4 95.7h2.1v5.9h-2.1zM42.2 95.7h2.1v5.9h-2.1zM64.7 95.7h2.1v5.9h-2.1z"/>
<path fill="#f36a5e" d="M55.1 73.9h2.1v5.9h-2.1zM64.7 90.2h2.1v5.9h-2.1z"/>
<path fill="#9a2e7e" d="M58.3 73.9h2.1v5.9h-2.1zM63.1 73.9h2.1v5.9h-2.1zM39.0 90.2h2.1v5.9h-2.1zM79.1 90.2h2.1v5.9h-2.1zM51.9 95.7h2.1v5.9h-2.1zM59.9 95.7h2.1v5.9h-2.1z"/>
<path fill="#b73779" d="M61.5 73.9h2.1v5.9h-2.1zM75.9 73.9h2.1v5.9h-2.1zM11.8 90.2h2.1v5.9h-2.1zM51.9 90.2h2.1v5.9h-2.1zM71.1 90.2h2.1v5.9h-2.1zM82.3 90.2h2.1v5.9h-2.1z"/>
<path fill="#6b1c80" d="M64.7 73.9h2.1v5.9h-2.1zM58.3 79.4h2.1v5.9h-2.1zM24.6 84.8h2.1v5.9h-2.1zM63.1 84.8h2.1v5.9h-2.1zM67.9 84.8h2.1v5.9h-2.1zM13.4 95.7h2.1v5.9h-2.1zM50.3 95.7h2.1v5.9h-2.1z"/>
<path fill="#cb4070" d="M71.1 73.9h2.1v5.9h-2.1zM16.6 90.2h2.1v5.9h-2.1zM55.1 90.2h2.1v5.9h-2.1zM74.3 90.2h2.1v5.9h-2.1zM80.7 90.2h2.1v5.9h-2.1z"/>
<path fill="#feaf79" d="M74.3 73.9h2.1v5.9h-2.1zM37.4 101.1h2.1v5.9h-2.1zM53.5 101.1h2.1v5.9h-2.1zM56.7 101.1h2.1v5.9h-2.1zM74.3 101.1h2.1v5.9h-2.1zM32.6 106.6h2.1v5.9h-2.1zM37.4 106.6h2.1v5.9h-2.1zM72.7 106.6h2.1v5.9h-2.1z"/>
<path fill="#501478" d="M10.2 79.4h2.1v5.9h-2.1zM39.0 79.4h2.1v5.9h-2.1zM63.1 79.4h2.1v5.9h-2.1zM77.5 79.4h2.1v5.9h-2.1zM16.6 84.8h2.1v5.9h-2.1zM29.4 84.8h2.1v5.9h-2.1zM47.0 84.8h2.1v5.9h-2.1zM50.3 84.8h2.1v5.9h-2.1zM77.5 84.8h2.1v5.9h-2.1zM27.8 95.7h2.1v5.9h-2.1zM35.8 95.7h2.1v5.9h-2.1z"/>
<path fill="#280e53" d="M16.6 79.4h2.1v5.9h-2.1zM19.8 79.4h2.1v5.9h-2.1zM26.2 79.4h2.1v5.9h-2.1zM32.6 79.4h2.1v5.9h-2.1zM34.2 79.4h2.1v5.9h-2.1zM43.8 84.8h2.1v5.9h-2.1zM66.3 84.8h2.1v5.9h-2.1zM75.9 84.8h2.1v5.9h-2.1zM79.1 84.8h2.1v5.9h-2.1zM32.6 95.7h2.1v5.9h-2.1z"/>
<path fill="#491375" d="M18.2 79.4h2.1v5.9h-2.1zM50.3 79.4h2.1v5.9h-2.1zM53.5 79.4h2.1v5.9h-2.1zM67.9 79.4h2.1v5.9h-2.1zM69.5 79.4h2.1v5.9h-2.1zM18.2 84.8h2.1v5.9h-2.1zM72.7 84.8h2.1v5.9h-2.1zM21.4 95.7h2.1v5.9h-2.1zM72.7 95.7h2.1v5.9h-2.1z"/>
<path fill="#2e0f5d" d="M21.4 79.4h2.1v5.9h-2.1zM42.2 79.4h2.1v5.9h-2.1zM80.7 79.4h2.1v5.9h-2.1zM27.8 84.8h2.1v5.9h-2.1zM42.2 84.8h2.1v5.9h-2.1zM71.1 84.8h2.1v5.9h-2.1zM83.9 84.8h2.1v5.9h-2.1zM15.0 95.7h2.1v5.9h-2.1zM40.6 95.7h2.1v5.9h-2.1z"/>
<path fill="#340f66" d="M23.0 79.4h2.1v5.9h-2.1zM35.8 79.4h2.1v5.9h-2.1zM47.0 79.4h2.1v5.9h-2.1zM71.1 79.4h2.1v5.9h-2.1zM26.2 84.8h2.1v5.9h-2.1zM35.8 84.8h2.1v5.9h-2.1zM80.7 84.8h2.1v5.9h-2.1z"/>
<path fill="#641a80" d="M59.9 79.4h2.1v5.9h-2.1zM69.5 84.8h2.1v5.9h-2.1zM34.2 95.7h2.1v5.9h-2.1zM74.3 95.7h2.1v5.9h-2.1z"/>
<path fill="#782180" d="M53.5 84.8h2.1v5.9h-2.1zM74.3 84.8h2.1v5.9h-2.1zM31.0 90.2h2.1v5.9h-2.1zM34.2 90.2h2.1v5.9h-2.1zM72.7 90.2h2.1v5.9h-2.1zM16.6 95.7h2.1v5.9h-2.1zM56.7 95.7h2.1v5.9h-2.1zM80.7 95.7h2.1v5.9h-2.1zM82.3 95.7h2.1v5.9h-2.1z"/>
<path fill="#d8466b" d="M13.4 90.2h2.1v5.9h-2.1zM48.7 90.2h2.1v5.9h-2.1zM53.5 90.2h2.1v5.9h-2.1z"/>
<path fill="#a9327c" d="M37.4 90.2h2.1v5.9h-2.1zM50.3 90.2h2.1v5.9h-2.1z"/>
<path fill="#fea773" d="M58.3 90.2h2.1v5.9h-2.1zM42.2 101.1h2.1v5.9h-2.1zM50.3 101.1h2.1v5.9h-2.1zM55.1 101.1h2.1v5.9h-2.1zM66.3 101.1h2.1v5.9h-2.1zM80.7 101.1h2.1v5.9h-2.1zM23.0 106.6h2.1v5.9h-2.1zM29.4 106.6h2.1v5.9h-2.1zM43.8 106.6h2.1v5.9h-2.1zM48.7 106.6h2.1v5.9h-2.1z"/>
<path fill="#fcf5b7" d="M10.2 101.1h2.1v5.9h-2.1z"/>
<path fill="#fde6a8" d="M11.8 101.1h2.1v5.9h-2.1zM16.6 101.1h2.1v5.9h-2.1zM24.6 101.1h2.1v5.9h-2.1z"/>
<path fill="#fddea1" d="M13.4 101.1h2.1v5.9h-2.1zM23.0 101.1h2.1v5.9h-2.1zM34.2 101.1h2.1v5.9h-2.1zM79.1 101.1h2.1v5.9h-2.1zM51.9 106.6h2.1v5.9h-2.1zM58.3 106.6h2.1v5.9h-2.1zM61.5 106.6h2.1v5.9h-2.1zM69.5 106.6h2.1v5.9h-2.1z"/>
<path fill="#fdeeb0" d="M15.0 101.1h2.1v5.9h-2.1z"/>
<path fill="#fed799" d="M18.2 101.1h2.1v5.9h-2.1zM21.4 101.1h2.1v5.9h-2.1zM26.2 101.1h2.1v5.9h-2.1zM39.0 101.1h2.1v5.9h-2.1zM43.8 101.1h2.1v5.9h-2.1zM56.7 106.6h2.1v5.9h-2.1zM64.7 106.6h2.1v5.9h-2.1zM66.3 106.6h2.1v5.9h-2.1zM71.1 106.6h2.1v5.9h-2.1zM79.1 106.6h2.1v5.9h-2.1z"/>
<path fill="#fecf92" d="M19.8 101.1h2.1v5.9h-2.1zM31.0 101.1h2.1v5.9h-2.1zM32.6 101.1h2.1v5.9h-2.1zM40.6 106.6h2.1v5.9h-2.1zM50.3 106.6h2.1v5.9h-2.1zM55.1 106.6h2.1v5.9h-2.1zM82.3 106.6h2.1v5.9h-2.1z"/>
<path fill="#fec78c" d="M27.8 101.1h2.1v5.9h-2.1zM45.4 101.1h2.1v5.9h-2.1zM51.9 101.1h2.1v5.9h-2.1zM61.5 101.1h2.1v5.9h-2.1zM75.9 101.1h2.1v5.9h-2.1zM45.4 106.6h2.1v5.9h-2.1zM47.0 106.6h2.1v5.9h-2.1zM53.5 106.6h2.1v5.9h-2.1zM59.9 106.6h2.1v5.9h-2.1zM74.3 106.6h2.1v5.9h-2.1zM75.9 106.6h2.1v5.9h-2.1z"/>
<path fill="#febf86" d="M29.4 101.1h2.1v5.9h-2.1zM35.8 101.1h2.1v5.9h-2.1zM48.7 101.1h2.1v5.9h-2.1zM59.9 101.1h2.1v5.9h-2.1zM11.8 106.6h2.1v5.9h-2.1zM42.2 106.6h2.1v5.9h-2.1zM63.1 106.6h2.1v5.9h-2.1zM77.5 106.6h2.1v5.9h-2.1zM80.7 106.6h2.1v5.9h-2.1z"/>
<path fill="#feb77f" d="M40.6 101.1h2.1v5.9h-2.1zM47.0 101.1h2.1v5.9h-2.1zM63.1 101.1h2.1v5.9h-2.1zM69.5 101.1h2.1v5.9h-2.1zM77.5 101.1h2.1v5.9h-2.1zM82.3 101.1h2.1v5.9h-2.1zM83.9 101.1h2.1v5.9h-2.1zM19.8 106.6h2.1v5.9h-2.1zM26.2 106.6h2.1v5.9h-2.1zM35.8 106.6h2.1v5.9h-2.1zM39.0 106.6h2.1v5.9h-2.1zM67.9 106.6h2.1v5.9h-2.1zM83.9 106.6h2.1v5.9h-2.1z"/>
<path fill="#fe9f6d" d="M58.3 101.1h2.1v5.9h-2.1zM67.9 101.1h2.1v5.9h-2.1zM27.8 106.6h2.1v5.9h-2.1z"/>
<path fill="#fc8f67" d="M64.7 101.1h2.1v5.9h-2.1zM13.4 106.6h2.1v5.9h-2.1z"/>
<rect x="10.20" y="68.50" width="75.30" height="43.50" fill="none" stroke="#888" stroke-width="0.35"/>
<path fill="#000004" d="M89.5 68.5h2.1v5.9h-2.1zM112.1 68.5h2.1v5.9h-2.1zM121.8 68.5h2.1v5.9h-2.1zM131.4 68.5h2.1v5.9h-2.1zM137.9 68.5h2.1v5.9h-2.1zM146.0 68.5h2.1v5.9h-2.1zM147.6 68.5h2.1v5.9h-2.1zM149.2 68.5h2.1v5.9h-2.1zM150.8 84.8h2.1v5.9h-2.1z"/>
<path fill="#140e36" d="M91.1 68.5h2.1v5.9h-2.1zM92.7 68.5h2.1v5.9h-2.1zM150.8 68.5h2.1v5.9h-2.1zM165.3 68.5h2.1v5.9h-2.1zM168.5 68.5h2.1v5.9h-2.1zM173.4 68.5h2.1v5.9h-2.1z"/>
<path fill="#070515" d="M94.3 68.5h2.1v5.9h-2.1zM96.0 68.5h2.1v5.9h-2.1zM100.8 68.5h2.1v5.9h-2.1zM104.0 68.5h2.1v5.9h-2.1zM105.6 68.5h2.1v5.9h-2.1zM113.7 68.5h2.1v5.9h-2.1zM115.3 68.5h2.1v5.9h-2.1zM116.9 68.5h2.1v5.9h-2.1zM120.1 68.5h2.1v5.9h-2.1zM126.6 68.5h2.1v5.9h-2.1zM141.1 68.5h2.1v5.9h-2.1zM142.7 68.5h2.1v5.9h-2.1zM154.0 68.5h2.1v5.9h-2.1z"/>
<path fill="#0d0925" d="M97.6 68.5h2.1v5.9h-2.1zM99.2 68.5h2.1v5.9h-2.1zM110.5 68.5h2.1v5.9h-2.1zM139.5 68.5h2.1v5.9h-2.1zM152.4 68.5h2.1v5.9h-2.1zM166.9 68.5h2.1v5.9h-2.1zM92.7 79.4h2.1v5.9h-2.1zM110.5 79.4h2.1v5.9h-2.1z"/>
<path fill="#03020c" d="M102.4 68.5h2.1v5.9h-2.1zM129.8 68.5h2.1v5.9h-2.1z"/>
<path fill="#110c2e" d="M107.2 68.5h2.1v5.9h-2.1zM123.4 68.5h2.1v5.9h-2.1zM125.0 68.5h2.1v5.9h-2.1zM128.2 68.5h2.1v5.9h-2.1zM144.3 68.5h2.1v5.9h-2.1zM170.1 68.5h2.1v5.9h-2.1zM181.4 68.5h2.1v5.9h-2.1z"/>
<path fill="#0a071d" d="M108.9 68.5h2.1v5.9h-2.1zM118.5 68.5h2.1v5.9h-2.1zM133.0 68.5h2.1v5.9h-2.1zM136.3 68.5h2.1v5.9h-2.1zM179.8 68.5h2.1v5.9h-2.1zM183.0 68.5h2.1v5.9h-2.1zM187.9 68.5h2.1v5.9h-2.1zM113.7 84.8h2.1v5.9h-2.1z"/>
<path fill="#1a0e40" d="M134.7 68.5h2.1v5.9h-2.1zM171.8 68.5h2.1v5.9h-2.1zM89.5 79.4h2.1v5.9h-2.1zM100.8 79.4h2.1v5.9h-2.1zM102.4 79.4h2.1v5.9h-2.1zM150.8 79.4h2.1v5.9h-2.1zM154.0 79.4h2.1v5.9h-2.1zM120.1 95.7h2.1v5.9h-2.1z"/>
<path fill="#2e0f5d" d="M155.6 68.5h2.1v5.9h-2.1zM160.5 68.5h2.1v5.9h-2.1zM118.5 79.4h2.1v5.9h-2.1zM152.4 79.4h2.1v5.9h-2.1zM160.5 79.4h2.1v5.9h-2.1zM144.3 84.8h2.1v5.9h-2.1z"/>
<path fill="#491375" d="M157.2 68.5h2.1v5.9h-2.1zM175.0 68.5h2.1v5.9h-2.1zM171.8 73.9h2.1v5.9h-2.1zM126.6 84.8h2.1v5.9h-2.1zM147.6 90.2h2.1v5.9h-2.1zM121.8 95.7h2.1v5.9h-2.1z"/>
<path fill="#501478" d="M158.9 68.5h2.1v5.9h-2.1zM176.6 68.5h2.1v5.9h-2.1zM168.5 73.9h2.1v5.9h-2.1zM149.2 79.4h2.1v5.9h-2.1zM116.9 84.8h2.1v5.9h-2.1zM120.1 84.8h2.1v5.9h-2.1zM152.4 95.7h2.1v5.9h-2.1z"/>
<path fill="#421173" d="M162.1 68.5h2.1v5.9h-2.1zM146.0 79.4h2.1v5.9h-2.1zM146.0 84.8h2.1v5.9h-2.1z"/>
<path fill="#641a80" d="M163.7 68.5h2.1v5.9h-2.1zM120.1 73.9h2.1v5.9h-2.1zM176.6 73.9h2.1v5.9h-2.1zM120.1 79.4h2.1v5.9h-2.1zM141.1 79.4h2.1v5.9h-2.1zM105.6 84.8h2.1v5.9h-2.1zM112.1 84.8h2.1v5.9h-2.1zM152.4 90.2h2.1v5.9h-2.1zM162.1 95.7h2.1v5.9h-2.1z"/>
<path fill="#56167b" d="M178.2 68.5h2.1v5.9h-2.1zM121.8 73.9h2.1v5.9h-2.1zM99.2 79.4h2.1v5.9h-2.1zM158.9 79.4h2.1v5.9h-2.1zM163.7 79.4h2.1v5.9h-2.1zM163.7 95.7h2.1v5.9h-2.1z"/>
<path fill="#210e49" d="M184.7 68.5h2.1v5.9h-2.1zM108.9 79.4h2.1v5.9h-2.1z"/>
<path fill="#280e53" d="M186.3 68.5h2.1v5.9h-2.1zM113.7 79.4h2.1v5.9h-2.1zM115.3 84.8h2.1v5.9h-2.1zM147.6 84.8h2.1v5.9h-2.1z"/>
<path fill="#d8466b" d="M89.5 73.9h2.1v5.9h-2.1zM110.5 73.9h2.1v5.9h-2.1zM115.3 73.9h2.1v5.9h-2.1zM131.4 73.9h2.1v5.9h-2.1zM105.6 79.4h2.1v5.9h-2.1zM166.9 79.4h2.1v5.9h-2.1zM141.1 84.8h2.1v5.9h-2.1zM102.4 90.2h2.1v5.9h-2.1zM116.9 90.2h2.1v5.9h-2.1zM123.4 90.2h2.1v5.9h-2.1zM176.6 90.2h2.1v5.9h-2.1zM181.4 90.2h2.1v5.9h-2.1zM142.7 95.7h2.1v5.9h-2.1zM165.3 95.7h2.1v5.9h-2.1z"/>
<path fill="#a9327c" d="M91.1 73.9h2.1v5.9h-2.1zM136.3 73.9h2.1v5.9h-2.1zM99.2 84.8h2.1v5.9h-2.1zM160.5 90.2h2.1v5.9h-2.1zM97.6 95.7h2.1v5.9h-2.1zM123.4 95.7h2.1v5.9h-2.1zM136.3 95.7h2.1v5.9h-2.1zM154.0 95.7h2.1v5.9h-2.1zM121.8 101.1h2.1v5.9h-2.1z"/>
<path fill="#ea5d62" d="M92.7 73.9h2.1v5.9h-2.1zM108.9 73.9h2.1v5.9h-2.1zM126.6 73.9h2.1v5.9h-2.1zM91.1 84.8h2.1v5.9h-2.1zM100.8 84.8h2.1v5.9h-2.1zM134.7 84.8h2.1v5.9h-2.1zM107.2 90.2h2.1v5.9h-2.1zM173.4 90.2h2.1v5.9h-2.1zM100.8 95.7h2.1v5.9h-2.1zM129.8 101.1h2.1v5.9h-2.1z"/>
<path fill="#f7705c" d="M94.3 73.9h2.1v5.9h-2.1zM129.8 73.9h2.1v5.9h-2.1zM129.8 79.4h2.1v5.9h-2.1zM92.7 84.8h2.1v5.9h-2.1zM113.7 90.2h2.1v5.9h-2.1zM165.3 90.2h2.1v5.9h-2.1zM168.5 90.2h2.1v5.9h-2.1zM141.1 95.7h2.1v5.9h-2.1zM175.0 95.7h2.1v5.9h-2.1zM128.2 101.1h2.1v5.9h-2.1zM137.9 101.1h2.1v5.9h-2.1z"/>
<path fill="#fa8864" d="M96.0 73.9h2.1v5.9h-2.1zM89.5 84.8h2.1v5.9h-2.1zM183.0 90.2h2.1v5.9h-2.1zM102.4 95.7h2.1v5.9h-2.1zM108.9 101.1h2.1v5.9h-2.1zM126.6 101.1h2.1v5.9h-2.1zM133.0 101.1h2.1v5.9h-2.1zM136.3 101.1h2.1v5.9h-2.1z"/>
<path fill="#feb77f" d="M97.6 73.9h2.1v5.9h-2.1zM184.7 95.7h2.1v5.9h-2.1zM96.0 101.1h2.1v5.9h-2.1zM110.5 101.1h2.1v5.9h-2.1zM125.0 101.1h2.1v5.9h-2.1zM157.2 101.1h2.1v5.9h-2.1z"/>
<path fill="#c43d73" d="M99.2 73.9h2.1v5.9h-2.1zM137.9 73.9h2.1v5.9h-2.1zM175.0 79.4h2.1v5.9h-2.1zM94.3 90.2h2.1v5.9h-2.1zM99.2 90.2h2.1v5.9h-2.1zM115.3 90.2h2.1v5.9h-2.1zM157.2 90.2h2.1v5.9h-2.1zM96.0 95.7h2.1v5.9h-2.1zM118.5 95.7h2.1v5.9h-2.1zM125.0 95.7h2.1v5.9h-2.1zM120.1 101.1h2.1v5.9h-2.1z"/>
<path fill="#de4968" d="M100.8 73.9h2.1v5.9h-2.1zM175.0 73.9h2.1v5.9h-2.1zM94.3 84.8h2.1v5.9h-2.1zM131.4 84.8h2.1v5.9h-2.1zM110.5 90.2h2.1v5.9h-2.1zM158.9 90.2h2.1v5.9h-2.1zM116.9 95.7h2.1v5.9h-2.1zM170.1 95.7h2.1v5.9h-2.1zM123.4 101.1h2.1v5.9h-2.1z"/>
<path fill="#b73779" d="M102.4 73.9h2.1v5.9h-2.1zM142.7 79.4h2.1v5.9h-2.1zM152.4 84.8h2.1v5.9h-2.1zM157.2 84.8h2.1v5.9h-2.1zM96.0 90.2h2.1v5.9h-2.1zM136.3 90.2h2.1v5.9h-2.1z"/>
<path fill="#782180" d="M104.0 73.9h2.1v5.9h-2.1zM162.1 79.4h2.1v5.9h-2.1zM121.8 84.8h2.1v5.9h-2.1zM155.6 84.8h2.1v5.9h-2.1zM160.5 84.8h2.1v5.9h-2.1zM113.7 95.7h2.1v5.9h-2.1zM126.6 95.7h2.1v5.9h-2.1zM146.0 95.7h2.1v5.9h-2.1z"/>
<path fill="#fe9f6d" d="M105.6 73.9h2.1v5.9h-2.1zM170.1 79.4h2.1v5.9h-2.1zM183.0 84.8h2.1v5.9h-2.1zM142.7 90.2h2.1v5.9h-2.1zM187.9 90.2h2.1v5.9h-2.1zM183.0 95.7h2.1v5.9h-2.1zM187.9 95.7h2.1v5.9h-2.1zM92.7 101.1h2.1v5.9h-2.1zM100.8 101.1h2.1v5.9h-2.1zM139.5 101.1h2.1v5.9h-2.1zM141.1 101.1h2.1v5.9h-2.1zM179.8 101.1h2.1v5.9h-2.1z"/>
<path fill="#feaf79" d="M107.2 73.9h2.1v5.9h-2.1zM99.2 101.1h2.1v5.9h-2.1zM173.4 101.1h2.1v5.9h-2.1z"/>
<path fill="#be3a76" d="M112.1 73.9h2.1v5.9h-2.1zM165.3 73.9h2.1v5.9h-2.1zM166.9 73.9h2.1v5.9h-2.1zM183.0 79.4h2.1v5.9h-2.1zM96.0 84.8h2.1v5.9h-2.1zM104.0 84.8h2.1v5.9h-2.1zM133.0 84.8h2.1v5.9h-2.1zM137.9 84.8h2.1v5.9h-2.1zM89.5 90.2h2.1v5.9h-2.1zM131.4 90.2h2.1v5.9h-2.1zM134.7 90.2h2.1v5.9h-2.1zM105.6 95.7h2.1v5.9h-2.1zM129.8 95.7h2.1v5.9h-2.1zM179.8 95.7h2.1v5.9h-2.1zM118.5 101.1h2.1v5.9h-2.1z"/>
<path fill="#9a2e7e" d="M113.7 73.9h2.1v5.9h-2.1zM133.0 79.4h2.1v5.9h-2.1zM144.3 79.4h2.1v5.9h-2.1zM97.6 90.2h2.1v5.9h-2.1zM115.3 95.7h2.1v5.9h-2.1z"/>
<path fill="#6b1c80" d="M116.9 73.9h2.1v5.9h-2.1zM123.4 73.9h2.1v5.9h-2.1zM107.2 79.4h2.1v5.9h-2.1zM123.4 79.4h2.1v5.9h-2.1zM157.2 79.4h2.1v5.9h-2.1zM166.9 84.8h2.1v5.9h-2.1zM168.5 84.8h2.1v5.9h-2.1zM150.8 90.2h2.1v5.9h-2.1zM154.0 90.2h2.1v5.9h-2.1zM91.1 95.7h2.1v5.9h-2.1zM149.2 95.7h2.1v5.9h-2.1zM160.5 95.7h2.1v5.9h-2.1z"/>
<path fill="#e65664" d="M118.5 73.9h2.1v5.9h-2.1zM134.7 73.9h2.1v5.9h-2.1zM181.4 73.9h2.1v5.9h-2.1zM184.7 79.4h2.1v5.9h-2.1zM187.9 79.4h2.1v5.9h-2.1zM128.2 90.2h2.1v5.9h-2.1zM133.0 90.2h2.1v5.9h-2.1zM173.4 95.7h2.1v5.9h-2.1z"/>
<path fill="#f8785f" d="M125.0 73.9h2.1v5.9h-2.1zM155.6 73.9h2.1v5.9h-2.1zM131.4 79.4h2.1v5.9h-2.1zM165.3 79.4h2.1v5.9h-2.1zM187.9 84.8h2.1v5.9h-2.1zM141.1 90.2h2.1v5.9h-2.1zM166.9 90.2h2.1v5.9h-2.1zM107.2 95.7h2.1v5.9h-2.1zM181.4 95.7h2.1v5.9h-2.1zM134.7 101.1h2.1v5.9h-2.1z"/>
<path fill="#fd976a" d="M128.2 73.9h2.1v5.9h-2.1zM142.7 73.9h2.1v5.9h-2.1zM162.1 73.9h2.1v5.9h-2.1zM179.8 73.9h2.1v5.9h-2.1zM186.3 73.9h2.1v5.9h-2.1zM186.3 90.2h2.1v5.9h-2.1zM171.8 95.7h2.1v5.9h-2.1zM102.4 101.1h2.1v5.9h-2.1zM107.2 101.1h2.1v5.9h-2.1zM121.8 106.6h2.1v5.9h-2.1z"/>
<path fill="#b0357a" d="M133.0 73.9h2.1v5.9h-2.1zM91.1 90.2h2.1v5.9h-2.1zM121.8 90.2h2.1v5.9h-2.1zM155.6 90.2h2.1v5.9h-2.1zM89.5 95.7h2.1v5.9h-2.1z"/>
<path fill="#e25066" d="M139.5 73.9h2.1v5.9h-2.1zM134.7 79.4h2.1v5.9h-2.1zM158.9 84.8h2.1v5.9h-2.1zM179.8 84.8h2.1v5.9h-2.1zM181.4 84.8h2.1v5.9h-2.1zM170.1 90.2h2.1v5.9h-2.1zM178.2 95.7h2.1v5.9h-2.1zM115.3 101.1h2.1v5.9h-2.1z"/>
<path fill="#711f80" d="M141.1 73.9h2.1v5.9h-2.1zM97.6 79.4h2.1v5.9h-2.1zM136.3 79.4h2.1v5.9h-2.1zM162.1 84.8h2.1v5.9h-2.1z"/>
<path fill="#fec78c" d="M144.3 73.9h2.1v5.9h-2.1zM150.8 73.9h2.1v5.9h-2.1zM178.2 84.8h2.1v5.9h-2.1zM179.8 90.2h2.1v5.9h-2.1zM144.3 95.7h2.1v5.9h-2.1zM147.6 101.1h2.1v5.9h-2.1zM158.9 101.1h2.1v5.9h-2.1zM134.7 106.6h2.1v5.9h-2.1zM157.2 106.6h2.1v5.9h-2.1zM160.5 106.6h2.1v5.9h-2.1zM165.3 106.6h2.1v5.9h-2.1zM168.5 106.6h2.1v5.9h-2.1zM173.4 106.6h2.1v5.9h-2.1z"/>
<path fill="#fc8f67" d="M146.0 73.9h2.1v5.9h-2.1zM157.2 73.9h2.1v5.9h-2.1zM171.8 79.4h2.1v5.9h-2.1zM186.3 79.4h2.1v5.9h-2.1zM146.0 90.2h2.1v5.9h-2.1zM105.6 101.1h2.1v5.9h-2.1z"/>
<path fill="#f98062" d="M147.6 73.9h2.1v5.9h-2.1zM163.7 73.9h2.1v5.9h-2.1zM102.4 84.8h2.1v5.9h-2.1zM92.7 90.2h2.1v5.9h-2.1zM104.0 90.2h2.1v5.9h-2.1zM118.5 90.2h2.1v5.9h-2.1zM176.6 95.7h2.1v5.9h-2.1zM186.3 95.7h2.1v5.9h-2.1zM104.0 101.1h2.1v5.9h-2.1zM112.1 101.1h2.1v5.9h-2.1z"/>
<path fill="#fcf5b7" d="M149.2 73.9h2.1v5.9h-2.1zM154.0 73.9h2.1v5.9h-2.1zM175.0 101.1h2.1v5.9h-2.1zM104.0 106.6h2.1v5.9h-2.1zM112.1 106.6h2.1v5.9h-2.1zM147.6 106.6h2.1v5.9h-2.1z"/>
<path fill="#fdeeb0" d="M152.4 73.9h2.1v5.9h-2.1zM173.4 79.4h2.1v5.9h-2.1zM155.6 101.1h2.1v5.9h-2.1zM184.7 101.1h2.1v5.9h-2.1zM91.1 106.6h2.1v5.9h-2.1zM92.7 106.6h2.1v5.9h-2.1zM108.9 106.6h2.1v5.9h-2.1zM133.0 106.6h2.1v5.9h-2.1zM166.9 106.6h2.1v5.9h-2.1zM170.1 106.6h2.1v5.9h-2.1zM176.6 106.6h2.1v5.9h-2.1z"/>
<path fill="#fcfdbf" d="M158.9 73.9h2.1v5.9h-2.1zM139.5 90.2h2.1v5.9h-2.1zM168.5 101.1h2.1v5.9h-2.1z"/>
<path fill="#ef6360" d="M160.5 73.9h2.1v5.9h-2.1zM178.2 73.9h2.1v5.9h-2.1zM170.1 84.8h2.1v5.9h-2.1zM186.3 84.8h2.1v5.9h-2.1zM100.8 90.2h2.1v5.9h-2.1zM178.2 90.2h2.1v5.9h-2.1zM94.3 95.7h2.1v5.9h-2.1z"/>
<path fill="#5d187d" d="M170.1 73.9h2.1v5.9h-2.1zM96.0 79.4h2.1v5.9h-2.1zM112.1 79.4h2.1v5.9h-2.1zM126.6 79.4h2.1v5.9h-2.1zM176.6 79.4h2.1v5.9h-2.1zM110.5 84.8h2.1v5.9h-2.1zM118.5 84.8h2.1v5.9h-2.1zM128.2 84.8h2.1v5.9h-2.1zM154.0 84.8h2.1v5.9h-2.1z"/>
<path fill="#a2307d" d="M173.4 73.9h2.1v5.9h-2.1zM137.9 79.4h2.1v5.9h-2.1zM108.9 84.8h2.1v5.9h-2.1zM176.6 84.8h2.1v5.9h-2.1zM99.2 95.7h2.1v5.9h-2.1zM112.1 95.7h2.1v5.9h-2.1zM134.7 95.7h2.1v5.9h-2.1zM147.6 95.7h2.1v5.9h-2.1z"/>
<path fill="#fecf92" d="M183.0 73.9h2.1v5.9h-2.1zM139.5 84.8h2.1v5.9h-2.1zM175.0 84.8h2.1v5.9h-2.1zM152.4 101.1h2.1v5.9h-2.1zM160.5 101.1h2.1v5.9h-2.1zM166.9 101.1h2.1v5.9h-2.1zM183.0 101.1h2.1v5.9h-2.1zM187.9 101.1h2.1v5.9h-2.1zM89.5 106.6h2.1v5.9h-2.1zM96.0 106.6h2.1v5.9h-2.1zM113.7 106.6h2.1v5.9h-2.1zM126.6 106.6h2.1v5.9h-2.1zM128.2 106.6h2.1v5.9h-2.1zM139.5 106.6h2.1v5.9h-2.1zM141.1 106.6h2.1v5.9h-2.1zM149.2 106.6h2.1v5.9h-2.1zM152.4 106.6h2.1v5.9h-2.1zM155.6 106.6h2.1v5.9h-2.1zM158.9 106.6h2.1v5.9h-2.1zM171.8 106.6h2.1v5.9h-2.1zM175.0 106.6h2.1v5.9h-2.1zM187.9 106.6h2.1v5.9h-2.1z"/>
<path fill="#fea773" d="M184.7 73.9h2.1v5.9h-2.1zM184.7 84.8h2.1v5.9h-2.1zM184.7 90.2h2.1v5.9h-2.1zM142.7 101.1h2.1v5.9h-2.1zM154.0 106.6h2.1v5.9h-2.1z"/>
<path fill="#febf86" d="M187.9 73.9h2.1v5.9h-2.1zM171.8 84.8h2.1v5.9h-2.1zM89.5 101.1h2.1v5.9h-2.1zM97.6 101.1h2.1v5.9h-2.1zM150.8 101.1h2.1v5.9h-2.1zM162.1 101.1h2.1v5.9h-2.1zM94.3 106.6h2.1v5.9h-2.1zM115.3 106.6h2.1v5.9h-2.1zM120.1 106.6h2.1v5.9h-2.1zM131.4 106.6h2.1v5.9h-2.1zM144.3 106.6h2.1v5.9h-2.1zM150.8 106.6h2.1v5.9h-2.1zM181.4 106.6h2.1v5.9h-2.1z"/>
<path fill="#3b0f70" d="M91.1 79.4h2.1v5.9h-2.1zM94.3 79.4h2.1v5.9h-2.1zM104.0 79.4h2.1v5.9h-2.1zM147.6 79.4h2.1v5.9h-2.1zM155.6 79.4h2.1v5.9h-2.1zM149.2 84.8h2.1v5.9h-2.1z"/>
<path fill="#8c2981" d="M115.3 79.4h2.1v5.9h-2.1zM128.2 79.4h2.1v5.9h-2.1zM139.5 79.4h2.1v5.9h-2.1zM181.4 79.4h2.1v5.9h-2.1zM125.0 84.8h2.1v5.9h-2.1zM108.9 95.7h2.1v5.9h-2.1zM110.5 95.7h2.1v5.9h-2.1z"/>
<path fill="#7f2481" d="M116.9 79.4h2.1v5.9h-2.1zM125.0 79.4h2.1v5.9h-2.1z"/>
<path fill="#932b80" d="M121.8 79.4h2.1v5.9h-2.1zM179.8 79.4h2.1v5.9h-2.1zM107.2 84.8h2.1v5.9h-2.1zM123.4 84.8h2.1v5.9h-2.1zM136.3 84.8h2.1v5.9h-2.1zM165.3 84.8h2.1v5.9h-2.1zM149.2 90.2h2.1v5.9h-2.1zM163.7 90.2h2.1v5.9h-2.1zM150.8 95.7h2.1v5.9h-2.1z"/>
<path fill="#f36a5e" d="M168.5 79.4h2.1v5.9h-2.1zM105.6 90.2h2.1v5.9h-2.1zM112.1 90.2h2.1v5.9h-2.1zM125.0 90.2h2.1v5.9h-2.1zM129.8 90.2h2.1v5.9h-2.1zM137.9 90.2h2.1v5.9h-2.1zM175.0 90.2h2.1v5.9h-2.1zM128.2 95.7h2.1v5.9h-2.1zM139.5 95.7h2.1v5.9h-2.1zM113.7 101.1h2.1v5.9h-2.1zM131.4 101.1h2.1v5.9h-2.1z"/>
<path fill="#852681" d="M178.2 79.4h2.1v5.9h-2.1zM108.9 90.2h2.1v5.9h-2.1zM155.6 95.7h2.1v5.9h-2.1zM157.2 95.7h2.1v5.9h-2.1z"/>
<path fill="#d1436e" d="M97.6 84.8h2.1v5.9h-2.1zM142.7 84.8h2.1v5.9h-2.1zM173.4 84.8h2.1v5.9h-2.1zM120.1 90.2h2.1v5.9h-2.1zM162.1 90.2h2.1v5.9h-2.1zM104.0 95.7h2.1v5.9h-2.1zM131.4 95.7h2.1v5.9h-2.1zM137.9 95.7h2.1v5.9h-2.1zM168.5 95.7h2.1v5.9h-2.1zM116.9 101.1h2.1v5.9h-2.1z"/>
<path fill="#cb4070" d="M129.8 84.8h2.1v5.9h-2.1zM126.6 90.2h2.1v5.9h-2.1zM171.8 90.2h2.1v5.9h-2.1zM92.7 95.7h2.1v5.9h-2.1zM133.0 95.7h2.1v5.9h-2.1zM158.9 95.7h2.1v5.9h-2.1zM166.9 95.7h2.1v5.9h-2.1z"/>
<path fill="#340f66" d="M163.7 84.8h2.1v5.9h-2.1z"/>
<path fill="#fddea1" d="M144.3 90.2h2.1v5.9h-2.1zM144.3 101.1h2.1v5.9h-2.1zM154.0 101.1h2.1v5.9h-2.1zM181.4 101.1h2.1v5.9h-2.1zM186.3 101.1h2.1v5.9h-2.1zM100.8 106.6h2.1v5.9h-2.1zM123.4 106.6h2.1v5.9h-2.1zM129.8 106.6h2.1v5.9h-2.1zM178.2 106.6h2.1v5.9h-2.1z"/>
<path fill="#fde6a8" d="M91.1 101.1h2.1v5.9h-2.1zM146.0 101.1h2.1v5.9h-2.1zM171.8 101.1h2.1v5.9h-2.1zM176.6 101.1h2.1v5.9h-2.1zM178.2 101.1h2.1v5.9h-2.1zM97.6 106.6h2.1v5.9h-2.1zM105.6 106.6h2.1v5.9h-2.1zM110.5 106.6h2.1v5.9h-2.1zM116.9 106.6h2.1v5.9h-2.1zM142.7 106.6h2.1v5.9h-2.1zM162.1 106.6h2.1v5.9h-2.1z"/>
<path fill="#fed799" d="M94.3 101.1h2.1v5.9h-2.1zM149.2 101.1h2.1v5.9h-2.1zM163.7 101.1h2.1v5.9h-2.1zM165.3 101.1h2.1v5.9h-2.1zM170.1 101.1h2.1v5.9h-2.1zM99.2 106.6h2.1v5.9h-2.1zM102.4 106.6h2.1v5.9h-2.1zM107.2 106.6h2.1v5.9h-2.1zM118.5 106.6h2.1v5.9h-2.1zM125.0 106.6h2.1v5.9h-2.1zM136.3 106.6h2.1v5.9h-2.1zM137.9 106.6h2.1v5.9h-2.1zM146.0 106.6h2.1v5.9h-2.1zM163.7 106.6h2.1v5.9h-2.1zM179.8 106.6h2.1v5.9h-2.1zM183.0 106.6h2.1v5.9h-2.1zM184.7 106.6h2.1v5.9h-2.1zM186.3 106.6h2.1v5.9h-2.1z"/>
<rect x="89.50" y="68.50" width="100.00" height="43.50" fill="none" stroke="#888" stroke-width="0.35"/>
<text x="190.80" y="53.00" font-size="4.7" text-anchor="start" font-weight="normal" font-style="normal" fill="#333"  stroke="#333" stroke-width="0.1">IHC</text>
<text x="190.80" y="62.30" font-size="4.7" text-anchor="start" font-weight="normal" font-style="normal" fill="#333"  stroke="#333" stroke-width="0.1">PAM50</text>
<text x="190.80" y="72.92" font-size="4.8" text-anchor="start" font-weight="normal" font-style="italic" fill="#222"  stroke="#222" stroke-width="0.1">CCNA1</text>
<text x="190.80" y="78.36" font-size="4.8" text-anchor="start" font-weight="normal" font-style="italic" fill="#222"  stroke="#222" stroke-width="0.1">CDK6</text>
<text x="190.80" y="83.79" font-size="4.8" text-anchor="start" font-weight="normal" font-style="italic" fill="#222"  stroke="#222" stroke-width="0.1">CCNE1</text>
<text x="190.80" y="89.23" font-size="4.8" text-anchor="start" font-weight="normal" font-style="italic" fill="#222"  stroke="#222" stroke-width="0.1">CDK1</text>
<text x="190.80" y="94.67" font-size="4.8" text-anchor="start" font-weight="normal" font-style="italic" fill="#222"  stroke="#222" stroke-width="0.1">CDK2</text>
<text x="190.80" y="100.11" font-size="4.8" text-anchor="start" font-weight="normal" font-style="italic" fill="#222"  stroke="#222" stroke-width="0.1">CCNB1</text>
<text x="190.80" y="105.54" font-size="4.8" text-anchor="start" font-weight="normal" font-style="italic" fill="#222"  stroke="#222" stroke-width="0.1">CCND1</text>
<text x="190.80" y="110.98" font-size="4.8" text-anchor="start" font-weight="normal" font-style="italic" fill="#222"  stroke="#222" stroke-width="0.1">CDK4</text>
<text x="37.10" y="116.80" font-size="4.8" text-anchor="middle" font-weight="normal" font-style="normal" fill="#222"  stroke="#222" stroke-width="0.1">IHC</text>
<rect x="9.60" y="119.80" width="4.00" height="3.70" fill="#000" stroke="#444" stroke-width="0.3"/>
<text x="14.20" y="123.10" font-size="4.8" text-anchor="start" font-weight="normal" font-style="normal" fill="#333"  stroke="#333" stroke-width="0.1">TNBC</text>
<rect x="28.50" y="119.80" width="4.00" height="3.70" fill="#7f7f7f" stroke="#444" stroke-width="0.3"/>
<text x="33.00" y="123.10" font-size="4.8" text-anchor="start" font-weight="normal" font-style="normal" fill="#333"  stroke="#333" stroke-width="0.1">ER+</text>
<rect x="44.40" y="119.80" width="4.00" height="3.70" fill="#cfcfcf" stroke="#444" stroke-width="0.3"/>
<text x="48.90" y="123.10" font-size="4.8" text-anchor="start" font-weight="normal" font-style="normal" fill="#333"  stroke="#333" stroke-width="0.1">HER2+</text>
<text x="102.00" y="116.80" font-size="4.8" text-anchor="middle" font-weight="normal" font-style="normal" fill="#333"  stroke="#333" stroke-width="0.1">PAM50</text>
<rect x="69.00" y="119.80" width="4.00" height="3.70" fill="#ee1c25" stroke="#444" stroke-width="0.3"/>
<text x="73.60" y="123.10" font-size="4.8" text-anchor="start" font-weight="normal" font-style="normal" fill="#333"  stroke="#333" stroke-width="0.1">Basal-like</text>
<rect x="96.80" y="119.80" width="4.00" height="3.70" fill="#f06eaa" stroke="#444" stroke-width="0.3"/>
<text x="101.40" y="123.10" font-size="4.8" text-anchor="start" font-weight="normal" font-style="normal" fill="#333"  stroke="#333" stroke-width="0.1">HER2-enriched</text>
<rect x="69.00" y="125.60" width="4.00" height="3.70" fill="#2e3192" stroke="#444" stroke-width="0.3"/>
<text x="73.60" y="128.90" font-size="4.8" text-anchor="start" font-weight="normal" font-style="normal" fill="#333"  stroke="#333" stroke-width="0.1">Luminal A</text>
<rect x="96.80" y="125.60" width="4.00" height="3.70" fill="#6dcff6" stroke="#444" stroke-width="0.3"/>
<text x="101.40" y="128.90" font-size="4.8" text-anchor="start" font-weight="normal" font-style="normal" fill="#333"  stroke="#333" stroke-width="0.1">Luminal B</text>
<rect x="69.00" y="131.40" width="4.00" height="3.70" fill="#39b54a" stroke="#444" stroke-width="0.3"/>
<text x="73.60" y="134.70" font-size="4.8" text-anchor="start" font-weight="normal" font-style="normal" fill="#333"  stroke="#333" stroke-width="0.1">Normal-like</text>
<text x="139.60" y="116.60" font-size="4.8" text-anchor="start" font-weight="normal" font-style="normal" fill="#333"  stroke="#333" stroke-width="0.1">Gene expression (log2)</text>
<defs><linearGradient id="g138"><stop offset="0.0" stop-color="#000004"/><stop offset="0.1" stop-color="#140e36"/><stop offset="0.2" stop-color="#3b0f70"/><stop offset="0.3" stop-color="#641a80"/><stop offset="0.4" stop-color="#8c2981"/><stop offset="0.5" stop-color="#b73779"/><stop offset="0.6" stop-color="#de4968"/><stop offset="0.7" stop-color="#f7705c"/><stop offset="0.8" stop-color="#fe9f6d"/><stop offset="0.9" stop-color="#fecf92"/><stop offset="1.0" stop-color="#fcfdbf"/></linearGradient></defs>
<rect x="138.60" y="119.00" width="55" height="4.6" fill="url(#g138)" stroke="#555" stroke-width="0.3"/>
<text x="139.50" y="127.70" font-size="4.8" text-anchor="middle" font-weight="normal" font-style="normal" fill="#333"  stroke="#333" stroke-width="0.1">5</text>
<text x="154.30" y="127.70" font-size="4.8" text-anchor="middle" font-weight="normal" font-style="normal" fill="#333"  stroke="#333" stroke-width="0.1">7</text>
<text x="167.60" y="127.70" font-size="4.8" text-anchor="middle" font-weight="normal" font-style="normal" fill="#333"  stroke="#333" stroke-width="0.1">9</text>
<text x="182.00" y="127.70" font-size="4.8" text-anchor="middle" font-weight="normal" font-style="normal" fill="#333"  stroke="#333" stroke-width="0.1">11</text>
<text x="322.20" y="23.00" font-size="7.6" text-anchor="middle" font-weight="normal" font-style="normal" fill="#222" letter-spacing="0.25">TCGA (<tspan font-style='italic'>n</tspan> = 578)</text>
<path d="M216.7 41.8V41.3H217.4V41.8M219.5 41.8V42.0H220.0V41.8M218.7 41.8V41.6H219.7V42.0M218.0 41.8V41.3H219.2V41.6M217.0 41.3V40.9H218.6V41.3M221.7 41.8V42.1H222.2V41.8M221.1 41.8V41.7H222.0V42.1M221.6 41.7V41.4H222.7V41.8M220.5 41.8V41.0H222.1V41.4M217.8 40.9V40.5H221.3V41.0M223.3 41.8V41.3H224.0V41.8M225.3 41.8V41.8H225.9V41.8M224.6 41.8V41.4H225.6V41.8M226.5 41.8V41.4H227.2V41.8M225.1 41.4V41.1H226.8V41.4M223.6 41.3V40.7H226.0V41.1M219.6 40.5V40.2H224.8V40.7M227.9 41.8V41.8H228.5V41.8M229.1 41.8V41.8H229.5V41.8M228.2 41.8V41.4H229.3V41.8M228.7 41.4V41.1H230.1V41.8M230.8 41.8V41.3H231.3V41.8M232.3 41.8V41.8H233.0V41.8M231.8 41.8V41.5H232.6V41.8M232.2 41.5V41.1H233.7V41.8M231.0 41.3V40.8H233.0V41.1M229.4 41.1V40.4H232.0V40.8M234.5 41.8V41.6H234.9V41.8M234.7 41.6V41.3H235.5V41.8M237.3 41.8V42.0H237.8V41.8M236.9 41.8V41.6H237.6V42.0M236.2 41.8V41.3H237.2V41.6M235.1 41.3V40.9H236.7V41.3M239.3 41.8V41.6H239.8V41.8M238.6 41.8V41.2H239.5V41.6M240.2 41.8V41.9H240.7V41.8M240.4 41.9V41.6H241.2V41.8M240.8 41.6V41.2H241.7V41.8M239.1 41.2V40.9H241.3V41.2M235.9 40.9V40.4H240.2V40.9M230.7 40.4V39.7H238.0V40.4M222.2 40.2V39.4H234.4V39.7M242.3 41.8V41.6H242.8V41.8M242.6 41.6V41.3H243.3V41.8M244.1 41.8V41.5H244.8V41.8M245.2 41.8V41.8H245.6V41.8M245.4 41.8V41.5H246.2V41.8M244.4 41.5V41.1H245.8V41.5M242.9 41.3V40.7H245.1V41.1M247.2 41.8V41.6H247.6V41.8M246.6 41.8V41.3H247.4V41.6M249.0 41.8V41.6H249.7V41.8M248.2 41.8V41.3H249.3V41.6M247.0 41.3V40.9H248.8V41.3M251.2 41.8V41.6H251.8V41.8M250.4 41.8V41.3H251.5V41.6M252.5 41.8V41.3H253.2V41.8M251.0 41.3V40.9H252.8V41.3M247.9 40.9V40.6H251.9V40.9M244.0 40.7V40.2H249.9V40.6M254.5 41.8V41.7H255.0V41.8M254.8 41.7V41.4H255.4V41.8M253.9 41.8V41.0H255.1V41.4M255.8 41.8V42.1H256.3V41.8M256.1 42.1V41.7H256.9V41.8M258.2 41.8V42.1H258.7V41.8M257.6 41.8V41.7H258.5V42.1M256.5 41.7V41.4H258.0V41.7M259.7 41.8V41.7H260.2V41.8M259.2 41.8V41.4H259.9V41.7M257.3 41.4V41.0H259.5V41.4M254.5 41.0V40.7H258.4V41.0M246.9 40.2V39.9H256.4V40.7M228.3 39.4V38.1H251.7V39.9M260.5 41.8V41.6H261.2V41.8M262.3 41.8V41.9H262.9V41.8M261.8 41.8V41.6H262.6V41.9M260.9 41.6V41.2H262.2V41.6M263.5 41.8V41.6H264.1V41.8M263.8 41.6V41.2H264.6V41.8M261.5 41.2V40.9H264.2V41.2M265.3 41.8V41.3H266.1V41.8M267.4 41.8V41.6H268.1V41.8M266.8 41.8V41.2H267.8V41.6M265.7 41.3V40.9H267.3V41.2M262.9 40.9V40.5H266.5V40.9M268.7 41.8V41.3H269.2V41.8M270.8 41.8V41.6H271.3V41.8M270.1 41.8V41.3H271.1V41.6M268.9 41.3V40.9H270.6V41.3M264.7 40.5V40.1H269.8V40.9M272.1 41.8V41.3H272.7V41.8M273.9 41.8V41.6H274.5V41.8M273.2 41.8V41.3H274.2V41.6M272.4 41.3V40.9H273.7V41.3M275.0 41.8V41.6H275.6V41.8M275.3 41.6V41.2H276.0V41.8M277.1 41.8V41.5H277.6V41.8M276.5 41.8V41.2H277.4V41.5M275.6 41.2V40.8H277.0V41.2M273.0 40.9V40.5H276.3V40.8M278.1 41.8V41.4H278.6V41.8M280.4 41.8V42.1H280.8V41.8M279.8 41.8V41.7H280.6V42.1M279.2 41.8V41.4H280.2V41.7M278.4 41.4V41.0H279.7V41.4M281.3 41.8V41.4H282.0V41.8M283.4 41.8V41.7H284.0V41.8M282.7 41.8V41.4H283.7V41.7M281.7 41.4V41.0H283.2V41.4M279.0 41.0V40.7H282.4V41.0M274.7 40.5V40.1H280.7V40.7M284.4 41.8V41.5H285.0V41.8M284.7 41.5V41.2H285.7V41.8M286.2 41.8V41.5H286.7V41.8M287.4 41.8V41.9H287.9V41.8M287.6 41.9V41.5H288.3V41.8M286.4 41.5V41.2H288.0V41.5M285.2 41.2V40.8H287.2V41.2M289.4 41.8V41.6H289.9V41.8M288.8 41.8V41.3H289.6V41.6M291.2 41.8V42.0H291.7V41.8M290.9 41.8V41.6H291.4V42.0M290.4 41.8V41.3H291.2V41.6M289.2 41.3V40.9H290.8V41.3M286.2 40.8V40.2H290.0V40.9M293.1 41.8V41.5H293.7V41.8M292.5 41.8V41.2H293.4V41.5M295.0 41.8V41.6H295.6V41.8M294.4 41.8V41.3H295.3V41.6M296.3 41.8V41.6H296.8V41.8M297.4 41.8V41.6H298.0V41.8M296.6 41.6V41.3H297.7V41.6M294.8 41.3V40.9H297.1V41.3M292.9 41.2V40.6H296.0V40.9M288.1 40.2V39.5H294.5V40.6M277.7 40.1V39.2H291.3V39.5M267.2 40.1V38.0H284.5V39.2M298.7 41.8V41.8H299.1V41.8M299.6 41.8V41.8H300.2V41.8M298.9 41.8V41.4H299.9V41.8M299.4 41.4V41.1H300.7V41.8M303.0 41.8V42.1H303.5V41.8M302.7 41.8V41.8H303.3V42.1M302.2 41.8V41.4H303.0V41.8M301.5 41.8V41.1H302.6V41.4M300.0 41.1V40.7H302.0V41.1M304.2 41.8V41.3H304.7V41.8M305.1 41.8V41.8H305.8V41.8M305.4 41.8V41.4H306.4V41.8M305.9 41.4V41.1H307.0V41.8M304.5 41.3V40.7H306.5V41.1M301.0 40.7V40.3H305.5V40.7M307.7 41.8V41.5H308.2V41.8M308.8 41.8V41.5H309.2V41.8M308.0 41.5V41.2H309.0V41.5M309.7 41.8V41.4H310.4V41.8M310.8 41.8V41.8H311.3V41.8M311.1 41.8V41.4H312.0V41.8M310.0 41.4V41.1H311.5V41.4M308.5 41.2V40.7H310.8V41.1M312.5 41.8V41.6H313.0V41.8M312.8 41.6V41.3H313.5V41.8M314.0 41.8V41.6H314.6V41.8M314.3 41.6V41.3H315.1V41.8M313.1 41.3V40.9H314.7V41.3M309.6 40.7V40.4H313.9V40.9M315.5 41.8V41.4H316.1V41.8M317.5 41.8V41.7H318.2V41.8M316.8 41.8V41.4H317.9V41.7M315.8 41.4V41.0H317.3V41.4M311.8 40.4V40.0H316.6V41.0M303.3 40.3V39.4H314.2V40.0M318.7 41.8V41.4H319.1V41.8M319.6 41.8V41.7H320.2V41.8M320.7 41.8V41.7H321.2V41.8M319.9 41.7V41.4H321.0V41.7M318.9 41.4V41.0H320.4V41.4M322.5 41.8V41.5H323.0V41.8M321.9 41.8V41.2H322.7V41.5M319.7 41.0V40.7H322.3V41.2M323.5 41.8V41.5H324.0V41.8M324.6 41.8V41.5H325.3V41.8M323.8 41.5V41.1H325.0V41.5M326.0 41.8V41.7H326.4V41.8M326.2 41.7V41.4H327.0V41.8M327.5 41.8V41.4H328.2V41.8M326.6 41.4V41.0H327.9V41.4M324.4 41.1V40.7H327.2V41.0M328.9 41.8V41.5H329.4V41.8M329.1 41.5V41.1H330.1V41.8M330.8 41.8V41.5H331.4V41.8M332.1 41.8V41.8H332.7V41.8M332.4 41.8V41.5H333.4V41.8M331.1 41.5V41.1H332.9V41.5M329.6 41.1V40.8H332.0V41.1M325.8 40.7V40.0H330.8V40.8M321.0 40.7V39.6H328.3V40.0M308.7 39.4V38.6H324.6V39.6M275.9 38.0V36.2H316.7V38.6M334.2 41.8V41.4H334.7V41.8M335.2 41.8V41.4H335.7V41.8M334.4 41.4V41.1H335.5V41.4M336.4 41.8V41.7H336.9V41.8M336.7 41.7V41.3H337.3V41.8M337.8 41.8V41.9H338.3V41.8M338.1 41.9V41.5H338.9V41.8M338.5 41.5V41.2H339.5V41.8M337.0 41.3V40.8H339.0V41.2M335.0 41.1V40.5H338.0V40.8M342.2 41.8V42.0H342.6V41.8M341.8 41.8V41.7H342.4V42.0M341.1 41.8V41.3H342.1V41.7M340.3 41.8V41.0H341.6V41.3M344.1 41.8V41.9H344.6V41.8M344.3 41.9V41.6H345.1V41.8M343.3 41.8V41.2H344.7V41.6M345.6 41.8V41.9H346.0V41.8M345.8 41.9V41.6H346.4V41.8M347.0 41.8V41.6H347.6V41.8M346.1 41.6V41.2H347.3V41.6M344.0 41.2V40.9H346.7V41.2M340.9 41.0V40.2H345.3V40.9M336.5 40.5V39.9H343.1V40.2M349.3 41.8V41.8H349.7V41.8M348.7 41.8V41.4H349.5V41.8M348.1 41.8V41.1H349.1V41.4M350.0 41.8V41.7H350.5V41.8M351.2 41.8V41.7H351.7V41.8M350.3 41.7V41.3H351.5V41.7M352.2 41.8V41.3H352.9V41.8M350.9 41.3V41.0H352.6V41.3M348.6 41.1V40.6H351.7V41.0M339.8 39.9V39.1H350.2V40.6M353.7 41.8V41.3H354.5V41.8M354.1 41.3V40.9H355.3V41.8M356.0 41.8V41.8H356.6V41.8M357.3 41.8V41.8H357.9V41.8M356.3 41.8V41.4H357.6V41.8M356.9 41.4V41.1H358.5V41.8M354.7 40.9V40.6H357.7V41.1M359.2 41.8V41.3H359.8V41.8M360.9 41.8V41.6H361.5V41.8M360.5 41.8V41.3H361.2V41.6M359.5 41.3V40.9H360.9V41.3M362.3 41.8V41.4H362.8V41.8M363.3 41.8V41.4H363.8V41.8M362.6 41.4V41.1H363.5V41.4M360.2 40.9V40.5H363.0V41.1M356.2 40.6V39.9H361.6V40.5M365.4 41.8V41.4H366.1V41.8M364.5 41.8V41.1H365.7V41.4M366.5 41.8V41.5H367.0V41.8M368.0 41.8V41.8H368.6V41.8M367.5 41.8V41.5H368.3V41.8M366.8 41.5V41.1H367.9V41.5M369.6 41.8V41.5H370.1V41.8M369.1 41.8V41.2H369.8V41.5M367.3 41.1V40.8H369.5V41.2M365.1 41.1V40.4H368.4V40.8M370.7 41.8V41.2H371.4V41.8M372.0 41.8V41.5H372.7V41.8M372.3 41.5V41.1H373.4V41.8M371.1 41.2V40.8H372.9V41.1M366.8 40.4V40.0H372.0V40.8M358.9 39.9V39.4H369.4V40.0M345.0 39.1V37.8H364.1V39.4M296.3 36.2V35.2H354.6V37.8M240.0 38.1V33.5H325.4V35.2M377.9 41.8V40.9H378.4V41.8M379.0 41.8V40.7H379.8V41.8M380.6 41.8V40.7H381.2V41.8M379.4 40.7V40.3H380.9V40.7M378.1 40.9V40.0H380.2V40.3M381.5 41.8V41.0H382.0V41.8M382.5 41.8V41.0H383.0V41.8M381.8 41.0V40.6H382.8V41.0M382.3 40.6V40.3H383.8V41.8M384.6 41.8V40.7H385.1V41.8M385.6 41.8V40.8H386.1V41.8M384.9 40.7V40.1H385.9V40.8M386.5 41.8V40.8H387.0V41.8M386.7 40.8V40.4H387.6V41.8M387.2 40.4V40.1H388.2V41.8M385.4 40.1V39.3H387.7V40.1M383.0 40.3V38.7H386.5V39.3M379.1 40.0V38.3H384.8V38.7M389.9 41.8V41.0H390.3V41.8M389.5 41.8V40.7H390.1V41.0M388.9 41.8V40.3H389.8V40.7M391.0 41.8V40.8H391.9V41.8M391.5 40.8V40.4H392.6V41.8M389.3 40.3V39.4H392.0V40.4M382.0 38.3V38.0H390.7V39.4M393.0 41.8V40.8H393.6V41.8M393.3 40.8V40.4H394.5V41.8M393.9 40.4V40.1H395.3V41.8M395.8 41.8V41.0H396.3V41.8M396.1 41.0V40.6H397.0V41.8M397.7 41.8V41.0H398.1V41.8M397.9 41.0V40.6H398.6V41.8M396.5 40.6V40.1H398.2V40.6M394.6 40.1V39.3H397.4V40.1M386.3 38.0V35.7H396.0V39.3M399.1 41.8V40.9H399.6V41.8M399.4 40.9V40.3H400.2V41.8M401.2 41.8V40.9H401.8V41.8M400.7 41.8V40.6H401.5V40.9M403.0 41.8V40.7H403.5V41.8M402.4 41.8V40.4H403.3V40.7M401.1 40.6V39.9H402.8V40.4M399.8 40.3V39.3H402.0V39.9M404.5 41.8V41.1H405.0V41.8M403.9 41.8V40.7H404.7V41.1M404.3 40.7V40.3H405.5V41.8M406.8 41.8V41.1H407.3V41.8M406.2 41.8V40.7H407.1V41.1M404.9 40.3V39.7H406.6V40.7M400.9 39.3V39.0H405.8V39.7M407.8 41.8V40.9H408.4V41.8M408.1 40.9V40.6H409.0V41.8M411.2 41.8V40.9H411.8V41.8M410.4 41.8V40.5H411.5V40.9M409.7 41.8V40.1H411.0V40.5M408.6 40.6V39.3H410.3V40.1M412.3 41.8V40.9H412.9V41.8M414.5 41.8V41.0H415.0V41.8M414.2 41.8V40.7H414.8V41.0M413.5 41.8V40.3H414.5V40.7M412.6 40.9V39.9H414.0V40.3M415.6 41.8V40.8H416.3V41.8M416.0 40.8V40.2H416.9V41.8M416.4 40.2V39.9H417.5V41.8M418.0 41.8V40.8H418.5V41.8M418.2 40.8V40.4H419.2V41.8M419.7 41.8V40.8H420.2V41.8M418.7 40.4V40.1H420.0V40.8M417.0 39.9V39.1H419.3V40.1M421.0 41.8V40.8H421.5V41.8M422.1 41.8V40.6H422.8V41.8M422.5 40.6V40.0H423.5V41.8M424.1 41.8V40.8H424.6V41.8M423.0 40.0V39.6H424.4V40.8M421.2 40.8V39.3H423.7V39.6M418.2 39.1V38.5H422.5V39.3M413.3 39.9V38.2H420.3V38.5M409.4 39.3V36.5H416.8V38.2M403.3 39.0V36.1H413.1V36.5M391.2 35.7V32.5H408.2V36.1M282.7 33.5V25.8H399.7V32.5" fill="none" stroke="#505050" stroke-width="0.42"/>
<rect x="216.30" y="42.00" width="2.19" height="10.00" fill="#7f7f7f"/>
<rect x="218.39" y="42.00" width="2.61" height="10.00" fill="#7f7f7f"/>
<rect x="220.90" y="42.00" width="2.48" height="10.00" fill="#7f7f7f"/>
<rect x="223.28" y="42.00" width="0.77" height="10.00" fill="#7f7f7f"/>
<rect x="223.95" y="42.00" width="2.96" height="10.00" fill="#7f7f7f"/>
<rect x="226.81" y="42.00" width="2.86" height="10.00" fill="#7f7f7f"/>
<rect x="229.58" y="42.00" width="1.83" height="10.00" fill="#7f7f7f"/>
<rect x="231.30" y="42.00" width="2.01" height="10.00" fill="#7f7f7f"/>
<rect x="233.21" y="42.00" width="0.73" height="10.00" fill="#7f7f7f"/>
<rect x="233.84" y="42.00" width="1.37" height="10.00" fill="#7f7f7f"/>
<rect x="235.11" y="42.00" width="2.54" height="10.00" fill="#7f7f7f"/>
<rect x="237.55" y="42.00" width="2.61" height="10.00" fill="#7f7f7f"/>
<rect x="240.06" y="42.00" width="2.18" height="10.00" fill="#7f7f7f"/>
<rect x="242.14" y="42.00" width="0.70" height="10.00" fill="#7f7f7f"/>
<rect x="242.75" y="42.00" width="1.20" height="10.00" fill="#7f7f7f"/>
<rect x="243.85" y="42.00" width="3.06" height="10.00" fill="#7f7f7f"/>
<rect x="246.81" y="42.00" width="1.39" height="10.00" fill="#7f7f7f"/>
<rect x="248.10" y="42.00" width="1.99" height="10.00" fill="#7f7f7f"/>
<rect x="249.99" y="42.00" width="1.19" height="10.00" fill="#7f7f7f"/>
<rect x="251.09" y="42.00" width="2.36" height="10.00" fill="#7f7f7f"/>
<rect x="253.34" y="42.00" width="2.84" height="10.00" fill="#7f7f7f"/>
<rect x="256.09" y="42.00" width="1.57" height="10.00" fill="#7f7f7f"/>
<rect x="257.55" y="42.00" width="1.05" height="10.00" fill="#7f7f7f"/>
<rect x="258.50" y="42.00" width="1.42" height="10.00" fill="#7f7f7f"/>
<rect x="259.83" y="42.00" width="0.71" height="10.00" fill="#7f7f7f"/>
<rect x="260.44" y="42.00" width="1.51" height="10.00" fill="#7f7f7f"/>
<rect x="261.85" y="42.00" width="2.66" height="10.00" fill="#7f7f7f"/>
<rect x="264.41" y="42.00" width="1.46" height="10.00" fill="#7f7f7f"/>
<rect x="265.77" y="42.00" width="2.39" height="10.00" fill="#cfcfcf"/>
<rect x="268.06" y="42.00" width="2.98" height="10.00" fill="#7f7f7f"/>
<rect x="270.94" y="42.00" width="1.67" height="10.00" fill="#7f7f7f"/>
<rect x="272.51" y="42.00" width="1.71" height="10.00" fill="#7f7f7f"/>
<rect x="274.11" y="42.00" width="2.72" height="10.00" fill="#7f7f7f"/>
<rect x="276.73" y="42.00" width="2.40" height="10.00" fill="#7f7f7f"/>
<rect x="279.03" y="42.00" width="2.99" height="10.00" fill="#7f7f7f"/>
<rect x="281.92" y="42.00" width="1.29" height="10.00" fill="#7f7f7f"/>
<rect x="283.11" y="42.00" width="1.81" height="10.00" fill="#7f7f7f"/>
<rect x="284.82" y="42.00" width="2.84" height="10.00" fill="#7f7f7f"/>
<rect x="287.56" y="42.00" width="1.81" height="10.00" fill="#7f7f7f"/>
<rect x="289.28" y="42.00" width="2.57" height="10.00" fill="#7f7f7f"/>
<rect x="291.75" y="42.00" width="1.41" height="10.00" fill="#7f7f7f"/>
<rect x="293.06" y="42.00" width="3.05" height="10.00" fill="#7f7f7f"/>
<rect x="296.01" y="42.00" width="1.93" height="10.00" fill="#7f7f7f"/>
<rect x="297.84" y="42.00" width="1.06" height="10.00" fill="#7f7f7f"/>
<rect x="298.79" y="42.00" width="2.39" height="10.00" fill="#7f7f7f"/>
<rect x="301.08" y="42.00" width="2.35" height="10.00" fill="#7f7f7f"/>
<rect x="303.33" y="42.00" width="2.62" height="10.00" fill="#7f7f7f"/>
<rect x="305.84" y="42.00" width="2.43" height="10.00" fill="#7f7f7f"/>
<rect x="308.17" y="42.00" width="1.86" height="10.00" fill="#7f7f7f"/>
<rect x="309.94" y="42.00" width="0.89" height="10.00" fill="#7f7f7f"/>
<rect x="310.73" y="42.00" width="2.92" height="10.00" fill="#cfcfcf"/>
<rect x="313.55" y="42.00" width="2.13" height="10.00" fill="#7f7f7f"/>
<rect x="315.57" y="42.00" width="0.53" height="10.00" fill="#7f7f7f"/>
<rect x="316.00" y="42.00" width="9.10" height="10.00" fill="#000000"/>
<rect x="325.00" y="42.00" width="0.81" height="10.00" fill="#7f7f7f"/>
<rect x="325.71" y="42.00" width="0.76" height="10.00" fill="#7f7f7f"/>
<rect x="326.37" y="42.00" width="2.29" height="10.00" fill="#000000"/>
<rect x="328.56" y="42.00" width="1.77" height="10.00" fill="#cfcfcf"/>
<rect x="330.23" y="42.00" width="0.90" height="10.00" fill="#7f7f7f"/>
<rect x="331.04" y="42.00" width="0.98" height="10.00" fill="#7f7f7f"/>
<rect x="331.92" y="42.00" width="1.26" height="10.00" fill="#7f7f7f"/>
<rect x="333.08" y="42.00" width="2.60" height="10.00" fill="#7f7f7f"/>
<rect x="335.58" y="42.00" width="2.55" height="10.00" fill="#7f7f7f"/>
<rect x="338.03" y="42.00" width="1.63" height="10.00" fill="#7f7f7f"/>
<rect x="339.56" y="42.00" width="1.61" height="10.00" fill="#7f7f7f"/>
<rect x="341.07" y="42.00" width="1.47" height="10.00" fill="#cfcfcf"/>
<rect x="342.44" y="42.00" width="2.26" height="10.00" fill="#7f7f7f"/>
<rect x="344.60" y="42.00" width="1.04" height="10.00" fill="#7f7f7f"/>
<rect x="345.54" y="42.00" width="2.35" height="10.00" fill="#cfcfcf"/>
<rect x="347.79" y="42.00" width="1.22" height="10.00" fill="#7f7f7f"/>
<rect x="348.91" y="42.00" width="2.35" height="10.00" fill="#7f7f7f"/>
<rect x="351.15" y="42.00" width="2.19" height="10.00" fill="#7f7f7f"/>
<rect x="353.25" y="42.00" width="2.02" height="10.00" fill="#7f7f7f"/>
<rect x="355.17" y="42.00" width="2.14" height="10.00" fill="#7f7f7f"/>
<rect x="357.21" y="42.00" width="2.04" height="10.00" fill="#7f7f7f"/>
<rect x="359.15" y="42.00" width="1.62" height="10.00" fill="#7f7f7f"/>
<rect x="360.67" y="42.00" width="2.01" height="10.00" fill="#7f7f7f"/>
<rect x="362.58" y="42.00" width="2.50" height="10.00" fill="#7f7f7f"/>
<rect x="364.98" y="42.00" width="1.80" height="10.00" fill="#000000"/>
<rect x="366.68" y="42.00" width="2.17" height="10.00" fill="#7f7f7f"/>
<rect x="368.75" y="42.00" width="1.22" height="10.00" fill="#7f7f7f"/>
<rect x="369.87" y="42.00" width="1.65" height="10.00" fill="#7f7f7f"/>
<rect x="371.42" y="42.00" width="1.38" height="10.00" fill="#7f7f7f"/>
<rect x="372.70" y="42.00" width="1.00" height="10.00" fill="#7f7f7f"/>
<rect x="377.50" y="42.00" width="1.27" height="10.00" fill="#000000"/>
<rect x="378.67" y="42.00" width="0.94" height="10.00" fill="#000000"/>
<rect x="379.51" y="42.00" width="1.33" height="10.00" fill="#7f7f7f"/>
<rect x="380.74" y="42.00" width="1.43" height="10.00" fill="#000000"/>
<rect x="382.07" y="42.00" width="0.93" height="10.00" fill="#000000"/>
<rect x="382.90" y="42.00" width="2.01" height="10.00" fill="#000000"/>
<rect x="384.81" y="42.00" width="0.29" height="10.00" fill="#000000"/>
<rect x="385.00" y="42.00" width="1.72" height="10.00" fill="#cfcfcf"/>
<rect x="386.62" y="42.00" width="1.42" height="10.00" fill="#7f7f7f"/>
<rect x="387.95" y="42.00" width="1.12" height="10.00" fill="#7f7f7f"/>
<rect x="388.97" y="42.00" width="1.91" height="10.00" fill="#000000"/>
<rect x="390.78" y="42.00" width="0.97" height="10.00" fill="#7f7f7f"/>
<rect x="391.66" y="42.00" width="1.57" height="10.00" fill="#cfcfcf"/>
<rect x="393.13" y="42.00" width="0.95" height="10.00" fill="#7f7f7f"/>
<rect x="393.98" y="42.00" width="2.08" height="10.00" fill="#7f7f7f"/>
<rect x="395.96" y="42.00" width="0.93" height="10.00" fill="#7f7f7f"/>
<rect x="396.80" y="42.00" width="0.86" height="10.00" fill="#7f7f7f"/>
<rect x="397.55" y="42.00" width="1.38" height="10.00" fill="#7f7f7f"/>
<rect x="398.83" y="42.00" width="1.27" height="10.00" fill="#cfcfcf"/>
<rect x="400.00" y="42.00" width="1.56" height="10.00" fill="#000000"/>
<rect x="401.46" y="42.00" width="1.03" height="10.00" fill="#000000"/>
<rect x="402.39" y="42.00" width="0.70" height="10.00" fill="#000000"/>
<rect x="402.99" y="42.00" width="1.09" height="10.00" fill="#000000"/>
<rect x="403.98" y="42.00" width="0.86" height="10.00" fill="#000000"/>
<rect x="404.74" y="42.00" width="1.22" height="10.00" fill="#7f7f7f"/>
<rect x="405.86" y="42.00" width="0.83" height="10.00" fill="#000000"/>
<rect x="406.60" y="42.00" width="1.18" height="10.00" fill="#000000"/>
<rect x="407.67" y="42.00" width="2.04" height="10.00" fill="#000000"/>
<rect x="409.61" y="42.00" width="0.49" height="10.00" fill="#000000"/>
<rect x="410.00" y="42.00" width="1.60" height="10.00" fill="#000000"/>
<rect x="411.50" y="42.00" width="0.92" height="10.00" fill="#000000"/>
<rect x="412.32" y="42.00" width="2.04" height="10.00" fill="#7f7f7f"/>
<rect x="414.26" y="42.00" width="1.55" height="10.00" fill="#000000"/>
<rect x="415.71" y="42.00" width="1.23" height="10.00" fill="#000000"/>
<rect x="416.85" y="42.00" width="1.16" height="10.00" fill="#7f7f7f"/>
<rect x="417.90" y="42.00" width="1.49" height="10.00" fill="#7f7f7f"/>
<rect x="419.29" y="42.00" width="0.81" height="10.00" fill="#7f7f7f"/>
<rect x="420.00" y="42.00" width="1.37" height="10.00" fill="#000000"/>
<rect x="421.27" y="42.00" width="1.24" height="10.00" fill="#000000"/>
<rect x="422.41" y="42.00" width="0.92" height="10.00" fill="#000000"/>
<rect x="423.23" y="42.00" width="1.74" height="10.00" fill="#000000"/>
<rect x="424.87" y="42.00" width="0.23" height="10.00" fill="#7f7f7f"/>
<rect x="216.30" y="52.00" width="1.49" height="9.60" fill="#8b5fa8"/>
<rect x="217.69" y="52.00" width="0.74" height="9.60" fill="#2e3192"/>
<rect x="218.32" y="52.00" width="2.24" height="9.60" fill="#39b54a"/>
<rect x="220.46" y="52.00" width="1.95" height="9.60" fill="#2e3192"/>
<rect x="222.31" y="52.00" width="0.72" height="9.60" fill="#2e3192"/>
<rect x="222.93" y="52.00" width="1.14" height="9.60" fill="#2e3192"/>
<rect x="223.97" y="52.00" width="1.95" height="9.60" fill="#3a4fa0"/>
<rect x="225.82" y="52.00" width="2.05" height="9.60" fill="#2e3192"/>
<rect x="227.77" y="52.00" width="1.16" height="9.60" fill="#2e3192"/>
<rect x="228.83" y="52.00" width="2.29" height="9.60" fill="#2e3192"/>
<rect x="231.02" y="52.00" width="2.08" height="9.60" fill="#2e3192"/>
<rect x="233.00" y="52.00" width="2.13" height="9.60" fill="#6dcff6"/>
<rect x="235.03" y="52.00" width="1.18" height="9.60" fill="#2e3192"/>
<rect x="236.11" y="52.00" width="1.24" height="9.60" fill="#ee1c25"/>
<rect x="237.25" y="52.00" width="0.74" height="9.60" fill="#2e3192"/>
<rect x="237.89" y="52.00" width="1.89" height="9.60" fill="#2e3192"/>
<rect x="239.69" y="52.00" width="0.76" height="9.60" fill="#8b5fa8"/>
<rect x="240.34" y="52.00" width="1.80" height="9.60" fill="#2e3192"/>
<rect x="242.04" y="52.00" width="1.57" height="9.60" fill="#f06eaa"/>
<rect x="243.51" y="52.00" width="1.99" height="9.60" fill="#2e3192"/>
<rect x="245.41" y="52.00" width="1.80" height="9.60" fill="#2e3192"/>
<rect x="247.11" y="52.00" width="1.74" height="9.60" fill="#2e3192"/>
<rect x="248.75" y="52.00" width="2.05" height="9.60" fill="#2e3192"/>
<rect x="250.69" y="52.00" width="1.79" height="9.60" fill="#2e3192"/>
<rect x="252.38" y="52.00" width="2.14" height="9.60" fill="#2e3192"/>
<rect x="254.42" y="52.00" width="1.91" height="9.60" fill="#39b54a"/>
<rect x="256.24" y="52.00" width="1.81" height="9.60" fill="#2e3192"/>
<rect x="257.95" y="52.00" width="1.16" height="9.60" fill="#2e3192"/>
<rect x="259.01" y="52.00" width="2.16" height="9.60" fill="#8b5fa8"/>
<rect x="261.06" y="52.00" width="1.81" height="9.60" fill="#2e3192"/>
<rect x="262.77" y="52.00" width="2.26" height="9.60" fill="#2e3192"/>
<rect x="264.93" y="52.00" width="1.38" height="9.60" fill="#2e3192"/>
<rect x="266.21" y="52.00" width="0.78" height="9.60" fill="#2e3192"/>
<rect x="266.89" y="52.00" width="1.13" height="9.60" fill="#39b54a"/>
<rect x="267.92" y="52.00" width="1.76" height="9.60" fill="#2e3192"/>
<rect x="269.58" y="52.00" width="1.39" height="9.60" fill="#8b5fa8"/>
<rect x="270.87" y="52.00" width="1.82" height="9.60" fill="#f06eaa"/>
<rect x="272.59" y="52.00" width="0.90" height="9.60" fill="#2e3192"/>
<rect x="273.38" y="52.00" width="2.02" height="9.60" fill="#6dcff6"/>
<rect x="275.30" y="52.00" width="0.80" height="9.60" fill="#2e3192"/>
<rect x="276.00" y="52.00" width="1.40" height="9.60" fill="#f06eaa"/>
<rect x="277.30" y="52.00" width="1.36" height="9.60" fill="#3a4fa0"/>
<rect x="278.56" y="52.00" width="1.04" height="9.60" fill="#6dcff6"/>
<rect x="279.50" y="52.00" width="1.76" height="9.60" fill="#6dcff6"/>
<rect x="281.16" y="52.00" width="1.15" height="9.60" fill="#6dcff6"/>
<rect x="282.21" y="52.00" width="0.89" height="9.60" fill="#3a4fa0"/>
<rect x="283.00" y="52.00" width="0.91" height="9.60" fill="#8b5fa8"/>
<rect x="283.81" y="52.00" width="1.80" height="9.60" fill="#8b5fa8"/>
<rect x="285.51" y="52.00" width="2.20" height="9.60" fill="#2e3192"/>
<rect x="287.61" y="52.00" width="0.92" height="9.60" fill="#3a4fa0"/>
<rect x="288.43" y="52.00" width="1.71" height="9.60" fill="#6dcff6"/>
<rect x="290.04" y="52.00" width="2.16" height="9.60" fill="#6dcff6"/>
<rect x="292.10" y="52.00" width="1.69" height="9.60" fill="#3a4fa0"/>
<rect x="293.69" y="52.00" width="1.08" height="9.60" fill="#6dcff6"/>
<rect x="294.67" y="52.00" width="1.15" height="9.60" fill="#6dcff6"/>
<rect x="295.72" y="52.00" width="1.99" height="9.60" fill="#6dcff6"/>
<rect x="297.62" y="52.00" width="1.43" height="9.60" fill="#f06eaa"/>
<rect x="298.94" y="52.00" width="1.84" height="9.60" fill="#6dcff6"/>
<rect x="300.68" y="52.00" width="0.84" height="9.60" fill="#6dcff6"/>
<rect x="301.42" y="52.00" width="0.85" height="9.60" fill="#3a4fa0"/>
<rect x="302.16" y="52.00" width="1.43" height="9.60" fill="#ee1c25"/>
<rect x="303.49" y="52.00" width="1.47" height="9.60" fill="#3a4fa0"/>
<rect x="304.86" y="52.00" width="0.75" height="9.60" fill="#6dcff6"/>
<rect x="305.51" y="52.00" width="0.79" height="9.60" fill="#ee1c25"/>
<rect x="306.19" y="52.00" width="1.79" height="9.60" fill="#2e3192"/>
<rect x="307.88" y="52.00" width="0.83" height="9.60" fill="#6dcff6"/>
<rect x="308.62" y="52.00" width="1.49" height="9.60" fill="#3a4fa0"/>
<rect x="310.00" y="52.00" width="1.30" height="9.60" fill="#6dcff6"/>
<rect x="311.20" y="52.00" width="1.16" height="9.60" fill="#6dcff6"/>
<rect x="312.27" y="52.00" width="1.83" height="9.60" fill="#6dcff6"/>
<rect x="314.00" y="52.00" width="1.31" height="9.60" fill="#6dcff6"/>
<rect x="315.20" y="52.00" width="0.90" height="9.60" fill="#ee1c25"/>
<rect x="316.00" y="52.00" width="10.10" height="9.60" fill="#ee1c25"/>
<rect x="326.00" y="52.00" width="2.24" height="9.60" fill="#6dcff6"/>
<rect x="328.14" y="52.00" width="1.65" height="9.60" fill="#ee1c25"/>
<rect x="329.69" y="52.00" width="1.88" height="9.60" fill="#6dcff6"/>
<rect x="331.47" y="52.00" width="0.76" height="9.60" fill="#f06eaa"/>
<rect x="332.13" y="52.00" width="0.76" height="9.60" fill="#ee1c25"/>
<rect x="332.79" y="52.00" width="1.47" height="9.60" fill="#ee1c25"/>
<rect x="334.16" y="52.00" width="0.70" height="9.60" fill="#8b5fa8"/>
<rect x="334.76" y="52.00" width="1.22" height="9.60" fill="#f06eaa"/>
<rect x="335.88" y="52.00" width="0.95" height="9.60" fill="#2e3192"/>
<rect x="336.73" y="52.00" width="2.09" height="9.60" fill="#ee1c25"/>
<rect x="338.72" y="52.00" width="1.45" height="9.60" fill="#ee1c25"/>
<rect x="340.07" y="52.00" width="0.88" height="9.60" fill="#ee1c25"/>
<rect x="340.85" y="52.00" width="1.90" height="9.60" fill="#ee1c25"/>
<rect x="342.65" y="52.00" width="0.75" height="9.60" fill="#ee1c25"/>
<rect x="343.30" y="52.00" width="1.25" height="9.60" fill="#ee1c25"/>
<rect x="344.45" y="52.00" width="1.21" height="9.60" fill="#6dcff6"/>
<rect x="345.56" y="52.00" width="1.78" height="9.60" fill="#f06eaa"/>
<rect x="347.23" y="52.00" width="0.89" height="9.60" fill="#ee1c25"/>
<rect x="348.02" y="52.00" width="1.17" height="9.60" fill="#ee1c25"/>
<rect x="349.09" y="52.00" width="1.87" height="9.60" fill="#f06eaa"/>
<rect x="350.86" y="52.00" width="1.84" height="9.60" fill="#ee1c25"/>
<rect x="352.60" y="52.00" width="1.75" height="9.60" fill="#ee1c25"/>
<rect x="354.25" y="52.00" width="2.16" height="9.60" fill="#ee1c25"/>
<rect x="356.31" y="52.00" width="1.79" height="9.60" fill="#2e3192"/>
<rect x="358.00" y="52.00" width="0.10" height="9.60" fill="#ee1c25"/>
<rect x="358.00" y="52.00" width="1.85" height="9.60" fill="#6dcff6"/>
<rect x="359.75" y="52.00" width="0.98" height="9.60" fill="#6dcff6"/>
<rect x="360.63" y="52.00" width="1.73" height="9.60" fill="#2e3192"/>
<rect x="362.26" y="52.00" width="2.26" height="9.60" fill="#6dcff6"/>
<rect x="364.42" y="52.00" width="1.42" height="9.60" fill="#2e3192"/>
<rect x="365.75" y="52.00" width="0.97" height="9.60" fill="#3a4fa0"/>
<rect x="366.62" y="52.00" width="2.20" height="9.60" fill="#2e3192"/>
<rect x="368.72" y="52.00" width="1.08" height="9.60" fill="#2e3192"/>
<rect x="369.70" y="52.00" width="0.85" height="9.60" fill="#2e3192"/>
<rect x="370.45" y="52.00" width="1.79" height="9.60" fill="#2e3192"/>
<rect x="372.14" y="52.00" width="1.50" height="9.60" fill="#2e3192"/>
<rect x="373.54" y="52.00" width="0.16" height="9.60" fill="#2e3192"/>
<rect x="377.50" y="52.00" width="1.32" height="9.60" fill="#ee1c25"/>
<rect x="378.72" y="52.00" width="1.93" height="9.60" fill="#ee1c25"/>
<rect x="380.55" y="52.00" width="0.97" height="9.60" fill="#ee1c25"/>
<rect x="381.42" y="52.00" width="1.60" height="9.60" fill="#8b5fa8"/>
<rect x="382.92" y="52.00" width="0.82" height="9.60" fill="#f06eaa"/>
<rect x="383.64" y="52.00" width="0.82" height="9.60" fill="#ee1c25"/>
<rect x="384.36" y="52.00" width="0.93" height="9.60" fill="#8b5fa8"/>
<rect x="385.18" y="52.00" width="1.57" height="9.60" fill="#6dcff6"/>
<rect x="386.66" y="52.00" width="1.38" height="9.60" fill="#ee1c25"/>
<rect x="387.94" y="52.00" width="1.23" height="9.60" fill="#ee1c25"/>
<rect x="389.07" y="52.00" width="1.72" height="9.60" fill="#ee1c25"/>
<rect x="390.68" y="52.00" width="1.13" height="9.60" fill="#8b5fa8"/>
<rect x="391.71" y="52.00" width="1.48" height="9.60" fill="#f4d7e4"/>
<rect x="393.09" y="52.00" width="0.82" height="9.60" fill="#ee1c25"/>
<rect x="393.81" y="52.00" width="1.85" height="9.60" fill="#8b5fa8"/>
<rect x="395.56" y="52.00" width="1.45" height="9.60" fill="#f06eaa"/>
<rect x="396.91" y="52.00" width="1.82" height="9.60" fill="#ee1c25"/>
<rect x="398.63" y="52.00" width="1.47" height="9.60" fill="#f4d7e4"/>
<rect x="400.00" y="52.00" width="1.68" height="9.60" fill="#f06eaa"/>
<rect x="401.58" y="52.00" width="1.81" height="9.60" fill="#ee1c25"/>
<rect x="403.30" y="52.00" width="1.94" height="9.60" fill="#f06eaa"/>
<rect x="405.14" y="52.00" width="1.23" height="9.60" fill="#ee1c25"/>
<rect x="406.27" y="52.00" width="0.70" height="9.60" fill="#ee1c25"/>
<rect x="406.87" y="52.00" width="2.02" height="9.60" fill="#f06eaa"/>
<rect x="408.78" y="52.00" width="1.32" height="9.60" fill="#ee1c25"/>
<rect x="410.00" y="52.00" width="1.62" height="9.60" fill="#ee1c25"/>
<rect x="411.52" y="52.00" width="1.72" height="9.60" fill="#ee1c25"/>
<rect x="413.14" y="52.00" width="1.07" height="9.60" fill="#ee1c25"/>
<rect x="414.11" y="52.00" width="1.24" height="9.60" fill="#f06eaa"/>
<rect x="415.25" y="52.00" width="1.13" height="9.60" fill="#f06eaa"/>
<rect x="416.28" y="52.00" width="1.65" height="9.60" fill="#ee1c25"/>
<rect x="417.82" y="52.00" width="0.79" height="9.60" fill="#ee1c25"/>
<rect x="418.51" y="52.00" width="1.48" height="9.60" fill="#f06eaa"/>
<rect x="419.89" y="52.00" width="2.06" height="9.60" fill="#ee1c25"/>
<rect x="421.85" y="52.00" width="1.31" height="9.60" fill="#ee1c25"/>
<rect x="423.06" y="52.00" width="2.03" height="9.60" fill="#f06eaa"/>
<rect x="424.99" y="52.00" width="0.11" height="9.60" fill="#ee1c25"/>
<path fill="#0a071d" d="M216.3 65.6h2.0v6.0h-2.0zM222.3 65.6h2.0v6.0h-2.0zM223.8 65.6h2.0v6.0h-2.0zM226.8 65.6h2.0v6.0h-2.0zM229.8 65.6h2.0v6.0h-2.0zM243.3 65.6h2.0v6.0h-2.0zM246.3 65.6h2.0v6.0h-2.0zM271.7 65.6h2.0v6.0h-2.0zM279.2 65.6h2.0v6.0h-2.0zM283.7 65.6h2.0v6.0h-2.0zM289.7 65.6h2.0v6.0h-2.0zM292.7 65.6h2.0v6.0h-2.0zM303.2 65.6h2.0v6.0h-2.0zM315.2 65.6h2.0v6.0h-2.0zM331.7 65.6h2.0v6.0h-2.0zM343.6 65.6h2.0v6.0h-2.0zM352.6 65.6h2.0v6.0h-2.0zM364.6 65.6h2.0v6.0h-2.0zM231.3 71.1h2.0v6.0h-2.0zM234.3 71.1h2.0v6.0h-2.0zM249.3 71.1h2.0v6.0h-2.0zM259.7 71.1h2.0v6.0h-2.0zM264.2 71.1h2.0v6.0h-2.0zM280.7 71.1h2.0v6.0h-2.0zM288.2 71.1h2.0v6.0h-2.0zM342.1 71.1h2.0v6.0h-2.0zM357.1 71.1h2.0v6.0h-2.0zM358.6 71.1h2.0v6.0h-2.0zM370.6 71.1h2.0v6.0h-2.0zM345.1 76.6h2.0v6.0h-2.0zM348.1 76.6h2.0v6.0h-2.0zM361.6 76.6h2.0v6.0h-2.0z"/>
<path fill="#110c2e" d="M217.8 65.6h2.0v6.0h-2.0zM219.3 65.6h2.0v6.0h-2.0zM220.8 65.6h2.0v6.0h-2.0zM247.8 65.6h2.0v6.0h-2.0zM249.3 65.6h2.0v6.0h-2.0zM258.2 65.6h2.0v6.0h-2.0zM277.7 65.6h2.0v6.0h-2.0zM297.2 65.6h2.0v6.0h-2.0zM300.2 65.6h2.0v6.0h-2.0zM355.6 65.6h2.0v6.0h-2.0zM366.1 65.6h2.0v6.0h-2.0zM247.8 71.1h2.0v6.0h-2.0zM255.3 71.1h2.0v6.0h-2.0zM256.7 71.1h2.0v6.0h-2.0zM261.2 71.1h2.0v6.0h-2.0zM283.7 71.1h2.0v6.0h-2.0zM349.6 71.1h2.0v6.0h-2.0zM352.6 71.1h2.0v6.0h-2.0zM361.6 71.1h2.0v6.0h-2.0zM366.1 71.1h2.0v6.0h-2.0zM343.6 76.6h2.0v6.0h-2.0zM352.6 76.6h2.0v6.0h-2.0zM372.1 76.6h2.0v6.0h-2.0z"/>
<path fill="#0d0925" d="M225.3 65.6h2.0v6.0h-2.0zM231.3 65.6h2.0v6.0h-2.0zM235.8 65.6h2.0v6.0h-2.0zM256.7 65.6h2.0v6.0h-2.0zM259.7 65.6h2.0v6.0h-2.0zM261.2 65.6h2.0v6.0h-2.0zM262.7 65.6h2.0v6.0h-2.0zM264.2 65.6h2.0v6.0h-2.0zM267.2 65.6h2.0v6.0h-2.0zM280.7 65.6h2.0v6.0h-2.0zM288.2 65.6h2.0v6.0h-2.0zM294.2 65.6h2.0v6.0h-2.0zM301.7 65.6h2.0v6.0h-2.0zM312.2 65.6h2.0v6.0h-2.0zM313.7 65.6h2.0v6.0h-2.0zM318.2 65.6h2.0v6.0h-2.0zM324.2 65.6h2.0v6.0h-2.0zM340.6 65.6h2.0v6.0h-2.0zM342.1 65.6h2.0v6.0h-2.0zM345.1 65.6h2.0v6.0h-2.0zM361.6 65.6h2.0v6.0h-2.0zM369.1 65.6h2.0v6.0h-2.0zM240.3 71.1h2.0v6.0h-2.0zM243.3 71.1h2.0v6.0h-2.0zM258.2 71.1h2.0v6.0h-2.0zM273.2 71.1h2.0v6.0h-2.0zM289.7 71.1h2.0v6.0h-2.0zM363.1 71.1h2.0v6.0h-2.0zM340.6 76.6h2.0v6.0h-2.0zM370.6 76.6h2.0v6.0h-2.0zM234.3 98.5h2.0v6.0h-2.0z"/>
<path fill="#03020c" d="M228.3 65.6h2.0v6.0h-2.0zM237.3 65.6h2.0v6.0h-2.0zM244.8 65.6h2.0v6.0h-2.0zM286.7 65.6h2.0v6.0h-2.0zM291.2 65.6h2.0v6.0h-2.0zM295.7 65.6h2.0v6.0h-2.0zM304.7 65.6h2.0v6.0h-2.0zM306.2 65.6h2.0v6.0h-2.0zM325.7 65.6h2.0v6.0h-2.0zM328.7 65.6h2.0v6.0h-2.0zM333.2 65.6h2.0v6.0h-2.0zM337.6 65.6h2.0v6.0h-2.0zM348.1 65.6h2.0v6.0h-2.0zM349.6 65.6h2.0v6.0h-2.0zM354.1 65.6h2.0v6.0h-2.0zM372.1 65.6h2.0v6.0h-2.0zM277.7 71.1h2.0v6.0h-2.0zM285.2 71.1h2.0v6.0h-2.0zM349.6 76.6h2.0v6.0h-2.0zM355.6 76.6h2.0v6.0h-2.0z"/>
<path fill="#070515" d="M232.8 65.6h2.0v6.0h-2.0zM240.3 65.6h2.0v6.0h-2.0zM250.8 65.6h2.0v6.0h-2.0zM253.8 65.6h2.0v6.0h-2.0zM265.7 65.6h2.0v6.0h-2.0zM268.7 65.6h2.0v6.0h-2.0zM274.7 65.6h2.0v6.0h-2.0zM282.2 65.6h2.0v6.0h-2.0zM309.2 65.6h2.0v6.0h-2.0zM310.7 65.6h2.0v6.0h-2.0zM316.7 65.6h2.0v6.0h-2.0zM319.7 65.6h2.0v6.0h-2.0zM321.2 65.6h2.0v6.0h-2.0zM330.2 65.6h2.0v6.0h-2.0zM339.1 65.6h2.0v6.0h-2.0zM370.6 65.6h2.0v6.0h-2.0zM268.7 71.1h2.0v6.0h-2.0zM292.7 71.1h2.0v6.0h-2.0zM364.6 71.1h2.0v6.0h-2.0zM357.1 76.6h2.0v6.0h-2.0z"/>
<path fill="#000004" d="M234.3 65.6h2.0v6.0h-2.0zM238.8 65.6h2.0v6.0h-2.0zM241.8 65.6h2.0v6.0h-2.0zM252.3 65.6h2.0v6.0h-2.0zM255.3 65.6h2.0v6.0h-2.0zM270.2 65.6h2.0v6.0h-2.0zM276.2 65.6h2.0v6.0h-2.0zM298.7 65.6h2.0v6.0h-2.0zM307.7 65.6h2.0v6.0h-2.0zM322.7 65.6h2.0v6.0h-2.0zM334.6 65.6h2.0v6.0h-2.0zM336.1 65.6h2.0v6.0h-2.0zM346.6 65.6h2.0v6.0h-2.0zM351.1 65.6h2.0v6.0h-2.0zM222.3 71.1h2.0v6.0h-2.0zM237.3 98.5h2.0v6.0h-2.0z"/>
<path fill="#140e36" d="M273.2 65.6h2.0v6.0h-2.0zM285.2 65.6h2.0v6.0h-2.0zM327.2 65.6h2.0v6.0h-2.0zM358.6 65.6h2.0v6.0h-2.0zM265.7 71.1h2.0v6.0h-2.0zM271.7 71.1h2.0v6.0h-2.0zM286.7 71.1h2.0v6.0h-2.0zM291.2 71.1h2.0v6.0h-2.0zM300.2 71.1h2.0v6.0h-2.0zM355.6 71.1h2.0v6.0h-2.0zM237.3 76.6h2.0v6.0h-2.0zM255.3 76.6h2.0v6.0h-2.0zM364.6 76.6h2.0v6.0h-2.0zM366.1 76.6h2.0v6.0h-2.0z"/>
<path fill="#280e53" d="M357.1 65.6h2.0v6.0h-2.0zM363.1 65.6h2.0v6.0h-2.0zM217.8 71.1h2.0v6.0h-2.0zM219.3 71.1h2.0v6.0h-2.0zM253.8 71.1h2.0v6.0h-2.0zM297.2 71.1h2.0v6.0h-2.0zM303.2 71.1h2.0v6.0h-2.0zM327.2 71.1h2.0v6.0h-2.0zM333.2 71.1h2.0v6.0h-2.0zM360.1 71.1h2.0v6.0h-2.0zM372.1 71.1h2.0v6.0h-2.0zM256.7 76.6h2.0v6.0h-2.0zM300.2 76.6h2.0v6.0h-2.0zM360.1 76.6h2.0v6.0h-2.0zM369.1 76.6h2.0v6.0h-2.0zM219.3 82.1h2.0v6.0h-2.0zM295.7 82.1h2.0v6.0h-2.0zM300.2 82.1h2.0v6.0h-2.0zM232.8 98.5h2.0v6.0h-2.0z"/>
<path fill="#1a0e40" d="M360.1 65.6h2.0v6.0h-2.0zM367.6 65.6h2.0v6.0h-2.0zM235.8 71.1h2.0v6.0h-2.0zM237.3 71.1h2.0v6.0h-2.0zM244.8 71.1h2.0v6.0h-2.0zM250.8 71.1h2.0v6.0h-2.0zM267.2 71.1h2.0v6.0h-2.0zM310.7 71.1h2.0v6.0h-2.0zM336.1 71.1h2.0v6.0h-2.0zM340.6 71.1h2.0v6.0h-2.0zM343.6 71.1h2.0v6.0h-2.0zM346.6 71.1h2.0v6.0h-2.0zM348.1 71.1h2.0v6.0h-2.0zM367.6 71.1h2.0v6.0h-2.0zM244.8 76.6h2.0v6.0h-2.0zM265.7 76.6h2.0v6.0h-2.0zM273.2 76.6h2.0v6.0h-2.0zM342.1 76.6h2.0v6.0h-2.0zM358.6 76.6h2.0v6.0h-2.0zM219.3 93.0h2.0v6.0h-2.0z"/>
<path fill="#501478" d="M216.3 71.1h2.0v6.0h-2.0zM318.2 71.1h2.0v6.0h-2.0zM235.8 76.6h2.0v6.0h-2.0zM241.8 76.6h2.0v6.0h-2.0zM247.8 76.6h2.0v6.0h-2.0zM258.2 76.6h2.0v6.0h-2.0zM268.7 76.6h2.0v6.0h-2.0zM274.7 76.6h2.0v6.0h-2.0zM276.2 76.6h2.0v6.0h-2.0zM277.7 76.6h2.0v6.0h-2.0zM313.7 76.6h2.0v6.0h-2.0zM316.7 76.6h2.0v6.0h-2.0zM217.8 82.1h2.0v6.0h-2.0zM297.2 82.1h2.0v6.0h-2.0zM298.7 82.1h2.0v6.0h-2.0zM265.7 93.0h2.0v6.0h-2.0zM225.3 98.5h2.0v6.0h-2.0zM244.8 98.5h2.0v6.0h-2.0zM249.3 98.5h2.0v6.0h-2.0zM265.7 98.5h2.0v6.0h-2.0z"/>
<path fill="#3b0f70" d="M220.8 71.1h2.0v6.0h-2.0zM246.3 71.1h2.0v6.0h-2.0zM304.7 71.1h2.0v6.0h-2.0zM306.2 71.1h2.0v6.0h-2.0zM321.2 71.1h2.0v6.0h-2.0zM328.7 71.1h2.0v6.0h-2.0zM339.1 71.1h2.0v6.0h-2.0zM369.1 71.1h2.0v6.0h-2.0zM234.3 76.6h2.0v6.0h-2.0zM243.3 76.6h2.0v6.0h-2.0zM249.3 76.6h2.0v6.0h-2.0zM252.3 76.6h2.0v6.0h-2.0zM280.7 76.6h2.0v6.0h-2.0zM283.7 76.6h2.0v6.0h-2.0zM307.7 76.6h2.0v6.0h-2.0zM321.2 76.6h2.0v6.0h-2.0zM354.1 76.6h2.0v6.0h-2.0zM367.6 76.6h2.0v6.0h-2.0zM313.7 82.1h2.0v6.0h-2.0zM217.8 93.0h2.0v6.0h-2.0zM225.3 93.0h2.0v6.0h-2.0zM235.8 93.0h2.0v6.0h-2.0zM237.3 93.0h2.0v6.0h-2.0zM241.8 98.5h2.0v6.0h-2.0z"/>
<path fill="#2e0f5d" d="M223.8 71.1h2.0v6.0h-2.0zM226.8 71.1h2.0v6.0h-2.0zM229.8 71.1h2.0v6.0h-2.0zM262.7 71.1h2.0v6.0h-2.0zM279.2 71.1h2.0v6.0h-2.0zM295.7 71.1h2.0v6.0h-2.0zM345.1 71.1h2.0v6.0h-2.0zM238.8 76.6h2.0v6.0h-2.0zM315.2 76.6h2.0v6.0h-2.0zM324.2 76.6h2.0v6.0h-2.0zM351.1 76.6h2.0v6.0h-2.0zM222.3 93.0h2.0v6.0h-2.0z"/>
<path fill="#210e49" d="M225.3 71.1h2.0v6.0h-2.0zM228.3 71.1h2.0v6.0h-2.0zM232.8 71.1h2.0v6.0h-2.0zM241.8 71.1h2.0v6.0h-2.0zM252.3 71.1h2.0v6.0h-2.0zM276.2 71.1h2.0v6.0h-2.0zM309.2 71.1h2.0v6.0h-2.0zM324.2 71.1h2.0v6.0h-2.0zM351.1 71.1h2.0v6.0h-2.0zM261.2 76.6h2.0v6.0h-2.0zM289.7 76.6h2.0v6.0h-2.0zM309.2 76.6h2.0v6.0h-2.0zM219.3 98.5h2.0v6.0h-2.0zM235.8 98.5h2.0v6.0h-2.0z"/>
<path fill="#340f66" d="M238.8 71.1h2.0v6.0h-2.0zM274.7 71.1h2.0v6.0h-2.0zM282.2 71.1h2.0v6.0h-2.0zM294.2 71.1h2.0v6.0h-2.0zM334.6 71.1h2.0v6.0h-2.0zM310.7 76.6h2.0v6.0h-2.0zM301.7 82.1h2.0v6.0h-2.0zM228.3 98.5h2.0v6.0h-2.0z"/>
<path fill="#421173" d="M270.2 71.1h2.0v6.0h-2.0zM315.2 71.1h2.0v6.0h-2.0zM223.8 76.6h2.0v6.0h-2.0zM253.8 76.6h2.0v6.0h-2.0zM288.2 76.6h2.0v6.0h-2.0zM292.7 76.6h2.0v6.0h-2.0zM303.2 76.6h2.0v6.0h-2.0zM333.2 76.6h2.0v6.0h-2.0zM334.6 76.6h2.0v6.0h-2.0zM234.3 93.0h2.0v6.0h-2.0zM241.8 93.0h2.0v6.0h-2.0zM231.3 98.5h2.0v6.0h-2.0z"/>
<path fill="#491375" d="M298.7 71.1h2.0v6.0h-2.0zM312.2 71.1h2.0v6.0h-2.0zM313.7 71.1h2.0v6.0h-2.0zM354.1 71.1h2.0v6.0h-2.0zM246.3 76.6h2.0v6.0h-2.0zM267.2 76.6h2.0v6.0h-2.0zM271.7 76.6h2.0v6.0h-2.0zM279.2 76.6h2.0v6.0h-2.0zM304.7 76.6h2.0v6.0h-2.0zM328.7 76.6h2.0v6.0h-2.0zM336.1 76.6h2.0v6.0h-2.0zM363.1 76.6h2.0v6.0h-2.0zM309.2 82.1h2.0v6.0h-2.0zM216.3 93.0h2.0v6.0h-2.0zM271.7 93.0h2.0v6.0h-2.0zM222.3 98.5h2.0v6.0h-2.0zM240.3 98.5h2.0v6.0h-2.0zM256.7 98.5h2.0v6.0h-2.0z"/>
<path fill="#56167b" d="M301.7 71.1h2.0v6.0h-2.0zM319.7 71.1h2.0v6.0h-2.0zM322.7 71.1h2.0v6.0h-2.0zM219.3 76.6h2.0v6.0h-2.0zM259.7 76.6h2.0v6.0h-2.0zM270.2 76.6h2.0v6.0h-2.0zM282.2 76.6h2.0v6.0h-2.0zM301.7 76.6h2.0v6.0h-2.0zM310.7 82.1h2.0v6.0h-2.0zM223.8 93.0h2.0v6.0h-2.0zM216.3 98.5h2.0v6.0h-2.0zM255.3 98.5h2.0v6.0h-2.0zM262.7 98.5h2.0v6.0h-2.0zM324.2 98.5h2.0v6.0h-2.0z"/>
<path fill="#641a80" d="M307.7 71.1h2.0v6.0h-2.0zM325.7 71.1h2.0v6.0h-2.0zM337.6 71.1h2.0v6.0h-2.0zM217.8 76.6h2.0v6.0h-2.0zM225.3 76.6h2.0v6.0h-2.0zM240.3 76.6h2.0v6.0h-2.0zM250.8 76.6h2.0v6.0h-2.0zM286.7 76.6h2.0v6.0h-2.0zM291.2 76.6h2.0v6.0h-2.0zM298.7 76.6h2.0v6.0h-2.0zM330.2 76.6h2.0v6.0h-2.0zM265.7 82.1h2.0v6.0h-2.0zM304.7 82.1h2.0v6.0h-2.0zM228.3 93.0h2.0v6.0h-2.0zM240.3 93.0h2.0v6.0h-2.0zM244.8 93.0h2.0v6.0h-2.0zM267.2 93.0h2.0v6.0h-2.0zM358.6 93.0h2.0v6.0h-2.0zM217.8 98.5h2.0v6.0h-2.0zM229.8 98.5h2.0v6.0h-2.0zM271.7 98.5h2.0v6.0h-2.0z"/>
<path fill="#5d187d" d="M316.7 71.1h2.0v6.0h-2.0zM331.7 71.1h2.0v6.0h-2.0zM232.8 76.6h2.0v6.0h-2.0zM294.2 76.6h2.0v6.0h-2.0zM226.8 98.5h2.0v6.0h-2.0zM250.8 98.5h2.0v6.0h-2.0z"/>
<path fill="#711f80" d="M330.2 71.1h2.0v6.0h-2.0zM228.3 76.6h2.0v6.0h-2.0zM297.2 76.6h2.0v6.0h-2.0zM319.7 76.6h2.0v6.0h-2.0zM322.7 76.6h2.0v6.0h-2.0zM337.6 76.6h2.0v6.0h-2.0zM339.1 76.6h2.0v6.0h-2.0zM261.2 82.1h2.0v6.0h-2.0zM268.7 82.1h2.0v6.0h-2.0zM261.2 87.6h2.0v6.0h-2.0zM229.8 93.0h2.0v6.0h-2.0zM249.3 93.0h2.0v6.0h-2.0zM261.2 93.0h2.0v6.0h-2.0zM285.2 93.0h2.0v6.0h-2.0zM259.7 98.5h2.0v6.0h-2.0zM268.7 98.5h2.0v6.0h-2.0zM355.6 98.5h2.0v6.0h-2.0z"/>
<path fill="#782180" d="M216.3 76.6h2.0v6.0h-2.0zM262.7 76.6h2.0v6.0h-2.0zM220.8 82.1h2.0v6.0h-2.0zM273.2 82.1h2.0v6.0h-2.0zM265.7 87.6h2.0v6.0h-2.0zM226.8 93.0h2.0v6.0h-2.0zM232.8 93.0h2.0v6.0h-2.0zM247.8 93.0h2.0v6.0h-2.0zM256.7 93.0h2.0v6.0h-2.0zM223.8 98.5h2.0v6.0h-2.0zM289.7 98.5h2.0v6.0h-2.0zM364.6 98.5h2.0v6.0h-2.0z"/>
<path fill="#932b80" d="M220.8 76.6h2.0v6.0h-2.0zM252.3 82.1h2.0v6.0h-2.0zM315.2 82.1h2.0v6.0h-2.0zM219.3 87.6h2.0v6.0h-2.0zM241.8 87.6h2.0v6.0h-2.0zM244.8 87.6h2.0v6.0h-2.0zM246.3 87.6h2.0v6.0h-2.0zM231.3 93.0h2.0v6.0h-2.0zM286.7 98.5h2.0v6.0h-2.0zM363.1 98.5h2.0v6.0h-2.0z"/>
<path fill="#6b1c80" d="M222.3 76.6h2.0v6.0h-2.0zM229.8 76.6h2.0v6.0h-2.0zM231.3 76.6h2.0v6.0h-2.0zM264.2 76.6h2.0v6.0h-2.0zM285.2 76.6h2.0v6.0h-2.0zM295.7 76.6h2.0v6.0h-2.0zM312.2 76.6h2.0v6.0h-2.0zM318.2 76.6h2.0v6.0h-2.0zM325.7 76.6h2.0v6.0h-2.0zM327.2 76.6h2.0v6.0h-2.0zM346.6 76.6h2.0v6.0h-2.0zM303.2 82.1h2.0v6.0h-2.0zM306.2 82.1h2.0v6.0h-2.0zM312.2 82.1h2.0v6.0h-2.0zM237.3 87.6h2.0v6.0h-2.0zM246.3 98.5h2.0v6.0h-2.0zM264.2 98.5h2.0v6.0h-2.0z"/>
<path fill="#8c2981" d="M226.8 76.6h2.0v6.0h-2.0zM306.2 76.6h2.0v6.0h-2.0zM241.8 82.1h2.0v6.0h-2.0zM280.7 82.1h2.0v6.0h-2.0zM286.7 82.1h2.0v6.0h-2.0zM327.2 82.1h2.0v6.0h-2.0zM336.1 82.1h2.0v6.0h-2.0zM222.3 87.6h2.0v6.0h-2.0zM240.3 87.6h2.0v6.0h-2.0zM220.8 93.0h2.0v6.0h-2.0zM250.8 93.0h2.0v6.0h-2.0zM357.1 93.0h2.0v6.0h-2.0zM252.3 98.5h2.0v6.0h-2.0z"/>
<path fill="#852681" d="M331.7 76.6h2.0v6.0h-2.0zM216.3 82.1h2.0v6.0h-2.0zM237.3 82.1h2.0v6.0h-2.0zM276.2 82.1h2.0v6.0h-2.0zM271.7 87.6h2.0v6.0h-2.0zM243.3 93.0h2.0v6.0h-2.0zM247.8 98.5h2.0v6.0h-2.0zM253.8 98.5h2.0v6.0h-2.0z"/>
<path fill="#f36a5e" d="M222.3 82.1h2.0v6.0h-2.0zM244.8 82.1h2.0v6.0h-2.0zM357.1 87.6h2.0v6.0h-2.0zM279.2 93.0h2.0v6.0h-2.0zM286.7 93.0h2.0v6.0h-2.0zM289.7 93.0h2.0v6.0h-2.0zM294.2 93.0h2.0v6.0h-2.0zM303.2 93.0h2.0v6.0h-2.0zM312.2 93.0h2.0v6.0h-2.0zM315.2 93.0h2.0v6.0h-2.0zM318.2 98.5h2.0v6.0h-2.0z"/>
<path fill="#e65664" d="M223.8 82.1h2.0v6.0h-2.0zM229.8 82.1h2.0v6.0h-2.0zM238.8 82.1h2.0v6.0h-2.0zM340.6 82.1h2.0v6.0h-2.0zM243.3 87.6h2.0v6.0h-2.0zM258.2 87.6h2.0v6.0h-2.0zM286.7 87.6h2.0v6.0h-2.0zM313.7 87.6h2.0v6.0h-2.0zM327.2 87.6h2.0v6.0h-2.0zM328.7 87.6h2.0v6.0h-2.0zM355.6 87.6h2.0v6.0h-2.0zM363.1 87.6h2.0v6.0h-2.0zM304.7 93.0h2.0v6.0h-2.0zM313.7 93.0h2.0v6.0h-2.0zM325.7 93.0h2.0v6.0h-2.0zM337.6 93.0h2.0v6.0h-2.0zM346.6 93.0h2.0v6.0h-2.0zM372.1 93.0h2.0v6.0h-2.0zM274.7 98.5h2.0v6.0h-2.0zM306.2 98.5h2.0v6.0h-2.0zM354.1 98.5h2.0v6.0h-2.0zM366.1 98.5h2.0v6.0h-2.0z"/>
<path fill="#be3a76" d="M225.3 82.1h2.0v6.0h-2.0zM240.3 82.1h2.0v6.0h-2.0zM319.7 82.1h2.0v6.0h-2.0zM345.1 82.1h2.0v6.0h-2.0zM361.6 82.1h2.0v6.0h-2.0zM364.6 82.1h2.0v6.0h-2.0zM217.8 87.6h2.0v6.0h-2.0zM231.3 87.6h2.0v6.0h-2.0zM259.7 87.6h2.0v6.0h-2.0zM280.7 87.6h2.0v6.0h-2.0zM285.2 87.6h2.0v6.0h-2.0zM321.2 87.6h2.0v6.0h-2.0zM273.2 93.0h2.0v6.0h-2.0zM301.7 93.0h2.0v6.0h-2.0zM288.2 98.5h2.0v6.0h-2.0zM312.2 98.5h2.0v6.0h-2.0zM339.1 98.5h2.0v6.0h-2.0zM367.6 98.5h2.0v6.0h-2.0z"/>
<path fill="#a2307d" d="M226.8 82.1h2.0v6.0h-2.0zM262.7 82.1h2.0v6.0h-2.0zM228.3 87.6h2.0v6.0h-2.0zM229.8 87.6h2.0v6.0h-2.0zM249.3 87.6h2.0v6.0h-2.0zM252.3 87.6h2.0v6.0h-2.0zM267.2 87.6h2.0v6.0h-2.0zM324.2 87.6h2.0v6.0h-2.0zM364.6 87.6h2.0v6.0h-2.0zM268.7 93.0h2.0v6.0h-2.0zM270.2 93.0h2.0v6.0h-2.0zM343.6 93.0h2.0v6.0h-2.0zM364.6 93.0h2.0v6.0h-2.0zM367.6 93.0h2.0v6.0h-2.0zM238.8 98.5h2.0v6.0h-2.0zM349.6 98.5h2.0v6.0h-2.0z"/>
<path fill="#f8785f" d="M228.3 82.1h2.0v6.0h-2.0zM274.7 82.1h2.0v6.0h-2.0zM282.2 87.6h2.0v6.0h-2.0zM292.7 87.6h2.0v6.0h-2.0zM300.2 87.6h2.0v6.0h-2.0zM322.7 87.6h2.0v6.0h-2.0zM283.7 93.0h2.0v6.0h-2.0zM306.2 93.0h2.0v6.0h-2.0zM330.2 93.0h2.0v6.0h-2.0zM331.7 93.0h2.0v6.0h-2.0zM339.1 93.0h2.0v6.0h-2.0zM370.6 93.0h2.0v6.0h-2.0z"/>
<path fill="#ea5d62" d="M231.3 82.1h2.0v6.0h-2.0zM274.7 87.6h2.0v6.0h-2.0zM319.7 87.6h2.0v6.0h-2.0zM367.6 87.6h2.0v6.0h-2.0zM369.1 87.6h2.0v6.0h-2.0zM372.1 87.6h2.0v6.0h-2.0zM334.6 93.0h2.0v6.0h-2.0zM283.7 98.5h2.0v6.0h-2.0zM295.7 98.5h2.0v6.0h-2.0zM334.6 98.5h2.0v6.0h-2.0z"/>
<path fill="#d1436e" d="M232.8 82.1h2.0v6.0h-2.0zM292.7 82.1h2.0v6.0h-2.0zM334.6 82.1h2.0v6.0h-2.0zM349.6 82.1h2.0v6.0h-2.0zM268.7 87.6h2.0v6.0h-2.0zM270.2 87.6h2.0v6.0h-2.0zM295.7 87.6h2.0v6.0h-2.0zM301.7 87.6h2.0v6.0h-2.0zM310.7 87.6h2.0v6.0h-2.0zM348.1 87.6h2.0v6.0h-2.0zM360.1 87.6h2.0v6.0h-2.0zM366.1 87.6h2.0v6.0h-2.0zM324.2 93.0h2.0v6.0h-2.0zM354.1 93.0h2.0v6.0h-2.0zM310.7 98.5h2.0v6.0h-2.0zM321.2 98.5h2.0v6.0h-2.0zM331.7 98.5h2.0v6.0h-2.0zM343.6 98.5h2.0v6.0h-2.0z"/>
<path fill="#b73779" d="M234.3 82.1h2.0v6.0h-2.0zM282.2 82.1h2.0v6.0h-2.0zM283.7 82.1h2.0v6.0h-2.0zM357.1 82.1h2.0v6.0h-2.0zM238.8 87.6h2.0v6.0h-2.0zM264.2 87.6h2.0v6.0h-2.0zM316.7 87.6h2.0v6.0h-2.0zM331.7 87.6h2.0v6.0h-2.0zM252.3 93.0h2.0v6.0h-2.0zM309.2 93.0h2.0v6.0h-2.0zM360.1 93.0h2.0v6.0h-2.0zM258.2 98.5h2.0v6.0h-2.0zM309.2 98.5h2.0v6.0h-2.0zM315.2 98.5h2.0v6.0h-2.0zM358.6 98.5h2.0v6.0h-2.0z"/>
<path fill="#de4968" d="M235.8 82.1h2.0v6.0h-2.0zM247.8 82.1h2.0v6.0h-2.0zM333.2 82.1h2.0v6.0h-2.0zM363.1 82.1h2.0v6.0h-2.0zM220.8 87.6h2.0v6.0h-2.0zM273.2 87.6h2.0v6.0h-2.0zM334.6 87.6h2.0v6.0h-2.0zM336.1 87.6h2.0v6.0h-2.0zM276.2 93.0h2.0v6.0h-2.0zM361.6 93.0h2.0v6.0h-2.0zM352.6 98.5h2.0v6.0h-2.0z"/>
<path fill="#f98062" d="M243.3 82.1h2.0v6.0h-2.0zM330.2 82.1h2.0v6.0h-2.0zM276.2 87.6h2.0v6.0h-2.0zM312.2 87.6h2.0v6.0h-2.0zM282.2 93.0h2.0v6.0h-2.0zM328.7 93.0h2.0v6.0h-2.0zM307.7 98.5h2.0v6.0h-2.0zM304.7 109.5h2.0v6.0h-2.0z"/>
<path fill="#cb4070" d="M246.3 82.1h2.0v6.0h-2.0zM255.3 82.1h2.0v6.0h-2.0zM270.2 82.1h2.0v6.0h-2.0zM294.2 82.1h2.0v6.0h-2.0zM328.7 82.1h2.0v6.0h-2.0zM360.1 82.1h2.0v6.0h-2.0zM370.6 82.1h2.0v6.0h-2.0zM225.3 87.6h2.0v6.0h-2.0zM250.8 87.6h2.0v6.0h-2.0zM255.3 87.6h2.0v6.0h-2.0zM262.7 87.6h2.0v6.0h-2.0zM283.7 87.6h2.0v6.0h-2.0zM288.2 87.6h2.0v6.0h-2.0zM303.2 87.6h2.0v6.0h-2.0zM333.2 87.6h2.0v6.0h-2.0zM358.6 87.6h2.0v6.0h-2.0zM274.7 93.0h2.0v6.0h-2.0zM280.7 93.0h2.0v6.0h-2.0zM316.7 93.0h2.0v6.0h-2.0zM282.2 98.5h2.0v6.0h-2.0zM294.2 98.5h2.0v6.0h-2.0zM336.1 98.5h2.0v6.0h-2.0zM337.6 98.5h2.0v6.0h-2.0z"/>
<path fill="#d8466b" d="M249.3 82.1h2.0v6.0h-2.0zM250.8 82.1h2.0v6.0h-2.0zM291.2 82.1h2.0v6.0h-2.0zM346.6 82.1h2.0v6.0h-2.0zM235.8 87.6h2.0v6.0h-2.0zM277.7 87.6h2.0v6.0h-2.0zM318.2 87.6h2.0v6.0h-2.0zM345.1 87.6h2.0v6.0h-2.0zM349.6 87.6h2.0v6.0h-2.0zM288.2 93.0h2.0v6.0h-2.0zM333.2 93.0h2.0v6.0h-2.0zM345.1 93.0h2.0v6.0h-2.0zM352.6 93.0h2.0v6.0h-2.0zM276.2 98.5h2.0v6.0h-2.0zM277.7 98.5h2.0v6.0h-2.0zM313.7 98.5h2.0v6.0h-2.0zM340.6 98.5h2.0v6.0h-2.0zM361.6 98.5h2.0v6.0h-2.0z"/>
<path fill="#7f2481" d="M253.8 82.1h2.0v6.0h-2.0zM271.7 82.1h2.0v6.0h-2.0zM277.7 82.1h2.0v6.0h-2.0zM285.2 82.1h2.0v6.0h-2.0zM288.2 82.1h2.0v6.0h-2.0zM307.7 82.1h2.0v6.0h-2.0zM358.6 82.1h2.0v6.0h-2.0zM238.8 93.0h2.0v6.0h-2.0zM246.3 93.0h2.0v6.0h-2.0zM243.3 98.5h2.0v6.0h-2.0zM292.7 98.5h2.0v6.0h-2.0z"/>
<path fill="#c43d73" d="M256.7 82.1h2.0v6.0h-2.0zM343.6 82.1h2.0v6.0h-2.0zM348.1 82.1h2.0v6.0h-2.0zM352.6 82.1h2.0v6.0h-2.0zM355.6 82.1h2.0v6.0h-2.0zM372.1 82.1h2.0v6.0h-2.0zM216.3 87.6h2.0v6.0h-2.0zM226.8 87.6h2.0v6.0h-2.0zM234.3 87.6h2.0v6.0h-2.0zM298.7 87.6h2.0v6.0h-2.0zM340.6 87.6h2.0v6.0h-2.0zM342.1 87.6h2.0v6.0h-2.0zM298.7 98.5h2.0v6.0h-2.0zM304.7 98.5h2.0v6.0h-2.0zM316.7 98.5h2.0v6.0h-2.0zM325.7 98.5h2.0v6.0h-2.0zM327.2 98.5h2.0v6.0h-2.0zM333.2 98.5h2.0v6.0h-2.0zM346.6 98.5h2.0v6.0h-2.0zM360.1 98.5h2.0v6.0h-2.0z"/>
<path fill="#a9327c" d="M258.2 82.1h2.0v6.0h-2.0zM267.2 82.1h2.0v6.0h-2.0zM279.2 82.1h2.0v6.0h-2.0zM289.7 82.1h2.0v6.0h-2.0zM324.2 82.1h2.0v6.0h-2.0zM367.6 82.1h2.0v6.0h-2.0zM223.8 87.6h2.0v6.0h-2.0zM256.7 87.6h2.0v6.0h-2.0zM289.7 87.6h2.0v6.0h-2.0zM253.8 93.0h2.0v6.0h-2.0zM258.2 93.0h2.0v6.0h-2.0zM259.7 93.0h2.0v6.0h-2.0zM262.7 93.0h2.0v6.0h-2.0zM264.2 93.0h2.0v6.0h-2.0zM327.2 93.0h2.0v6.0h-2.0zM220.8 98.5h2.0v6.0h-2.0zM261.2 98.5h2.0v6.0h-2.0zM267.2 98.5h2.0v6.0h-2.0zM273.2 98.5h2.0v6.0h-2.0zM279.2 98.5h2.0v6.0h-2.0zM285.2 98.5h2.0v6.0h-2.0zM348.1 98.5h2.0v6.0h-2.0z"/>
<path fill="#b0357a" d="M259.7 82.1h2.0v6.0h-2.0zM354.1 82.1h2.0v6.0h-2.0zM369.1 82.1h2.0v6.0h-2.0zM232.8 87.6h2.0v6.0h-2.0zM247.8 87.6h2.0v6.0h-2.0zM253.8 87.6h2.0v6.0h-2.0zM361.6 87.6h2.0v6.0h-2.0zM255.3 93.0h2.0v6.0h-2.0zM292.7 93.0h2.0v6.0h-2.0zM336.1 93.0h2.0v6.0h-2.0zM342.1 93.0h2.0v6.0h-2.0zM270.2 98.5h2.0v6.0h-2.0zM303.2 98.5h2.0v6.0h-2.0zM319.7 98.5h2.0v6.0h-2.0zM322.7 98.5h2.0v6.0h-2.0zM342.1 98.5h2.0v6.0h-2.0zM345.1 98.5h2.0v6.0h-2.0z"/>
<path fill="#e25066" d="M264.2 82.1h2.0v6.0h-2.0zM366.1 82.1h2.0v6.0h-2.0zM304.7 87.6h2.0v6.0h-2.0zM309.2 87.6h2.0v6.0h-2.0zM315.2 87.6h2.0v6.0h-2.0zM297.2 93.0h2.0v6.0h-2.0zM319.7 93.0h2.0v6.0h-2.0zM280.7 98.5h2.0v6.0h-2.0zM297.2 98.5h2.0v6.0h-2.0zM328.7 98.5h2.0v6.0h-2.0z"/>
<path fill="#febf86" d="M316.7 82.1h2.0v6.0h-2.0zM291.2 98.5h2.0v6.0h-2.0zM270.2 104.0h2.0v6.0h-2.0zM298.7 104.0h2.0v6.0h-2.0zM358.6 104.0h2.0v6.0h-2.0zM220.8 109.5h2.0v6.0h-2.0zM234.3 109.5h2.0v6.0h-2.0zM258.2 109.5h2.0v6.0h-2.0zM270.2 109.5h2.0v6.0h-2.0zM271.7 109.5h2.0v6.0h-2.0zM283.7 109.5h2.0v6.0h-2.0zM286.7 109.5h2.0v6.0h-2.0zM301.7 109.5h2.0v6.0h-2.0zM307.7 109.5h2.0v6.0h-2.0zM310.7 109.5h2.0v6.0h-2.0zM343.6 109.5h2.0v6.0h-2.0zM361.6 109.5h2.0v6.0h-2.0zM364.6 109.5h2.0v6.0h-2.0zM370.6 109.5h2.0v6.0h-2.0z"/>
<path fill="#fde6a8" d="M318.2 82.1h2.0v6.0h-2.0zM219.3 104.0h2.0v6.0h-2.0zM226.8 104.0h2.0v6.0h-2.0zM229.8 104.0h2.0v6.0h-2.0zM273.2 104.0h2.0v6.0h-2.0zM274.7 104.0h2.0v6.0h-2.0zM276.2 104.0h2.0v6.0h-2.0zM277.7 104.0h2.0v6.0h-2.0zM282.2 104.0h2.0v6.0h-2.0zM291.2 104.0h2.0v6.0h-2.0zM300.2 104.0h2.0v6.0h-2.0zM301.7 104.0h2.0v6.0h-2.0zM310.7 104.0h2.0v6.0h-2.0zM331.7 104.0h2.0v6.0h-2.0zM334.6 104.0h2.0v6.0h-2.0zM340.6 104.0h2.0v6.0h-2.0zM361.6 104.0h2.0v6.0h-2.0zM367.6 104.0h2.0v6.0h-2.0zM369.1 104.0h2.0v6.0h-2.0z"/>
<path fill="#fc8f67" d="M321.2 82.1h2.0v6.0h-2.0zM297.2 87.6h2.0v6.0h-2.0zM330.2 87.6h2.0v6.0h-2.0zM346.6 87.6h2.0v6.0h-2.0zM352.6 87.6h2.0v6.0h-2.0zM291.2 93.0h2.0v6.0h-2.0zM216.3 109.5h2.0v6.0h-2.0zM252.3 109.5h2.0v6.0h-2.0zM315.2 109.5h2.0v6.0h-2.0zM318.2 109.5h2.0v6.0h-2.0zM321.2 109.5h2.0v6.0h-2.0z"/>
<path fill="#feaf79" d="M322.7 82.1h2.0v6.0h-2.0zM339.1 87.6h2.0v6.0h-2.0zM231.3 109.5h2.0v6.0h-2.0zM237.3 109.5h2.0v6.0h-2.0zM246.3 109.5h2.0v6.0h-2.0zM249.3 109.5h2.0v6.0h-2.0zM250.8 109.5h2.0v6.0h-2.0zM259.7 109.5h2.0v6.0h-2.0zM268.7 109.5h2.0v6.0h-2.0zM277.7 109.5h2.0v6.0h-2.0zM279.2 109.5h2.0v6.0h-2.0zM285.2 109.5h2.0v6.0h-2.0zM291.2 109.5h2.0v6.0h-2.0zM295.7 109.5h2.0v6.0h-2.0zM297.2 109.5h2.0v6.0h-2.0zM330.2 109.5h2.0v6.0h-2.0zM331.7 109.5h2.0v6.0h-2.0zM336.1 109.5h2.0v6.0h-2.0zM339.1 109.5h2.0v6.0h-2.0z"/>
<path fill="#fa8864" d="M325.7 82.1h2.0v6.0h-2.0zM370.6 87.6h2.0v6.0h-2.0zM307.7 93.0h2.0v6.0h-2.0zM330.2 98.5h2.0v6.0h-2.0zM247.8 109.5h2.0v6.0h-2.0zM298.7 109.5h2.0v6.0h-2.0zM354.1 109.5h2.0v6.0h-2.0z"/>
<path fill="#fd976a" d="M331.7 82.1h2.0v6.0h-2.0zM279.2 87.6h2.0v6.0h-2.0zM294.2 87.6h2.0v6.0h-2.0zM337.6 87.6h2.0v6.0h-2.0zM277.7 93.0h2.0v6.0h-2.0zM351.1 93.0h2.0v6.0h-2.0zM222.3 109.5h2.0v6.0h-2.0zM225.3 109.5h2.0v6.0h-2.0zM232.8 109.5h2.0v6.0h-2.0zM238.8 109.5h2.0v6.0h-2.0zM241.8 109.5h2.0v6.0h-2.0zM244.8 109.5h2.0v6.0h-2.0zM264.2 109.5h2.0v6.0h-2.0zM288.2 109.5h2.0v6.0h-2.0zM303.2 109.5h2.0v6.0h-2.0zM346.6 109.5h2.0v6.0h-2.0zM367.6 109.5h2.0v6.0h-2.0z"/>
<path fill="#feb77f" d="M337.6 82.1h2.0v6.0h-2.0zM342.1 82.1h2.0v6.0h-2.0zM226.8 109.5h2.0v6.0h-2.0zM229.8 109.5h2.0v6.0h-2.0zM255.3 109.5h2.0v6.0h-2.0zM256.7 109.5h2.0v6.0h-2.0zM262.7 109.5h2.0v6.0h-2.0zM273.2 109.5h2.0v6.0h-2.0zM274.7 109.5h2.0v6.0h-2.0zM280.7 109.5h2.0v6.0h-2.0zM294.2 109.5h2.0v6.0h-2.0zM306.2 109.5h2.0v6.0h-2.0zM327.2 109.5h2.0v6.0h-2.0zM337.6 109.5h2.0v6.0h-2.0zM357.1 109.5h2.0v6.0h-2.0z"/>
<path fill="#fec78c" d="M339.1 82.1h2.0v6.0h-2.0zM244.8 104.0h2.0v6.0h-2.0zM271.7 104.0h2.0v6.0h-2.0zM294.2 104.0h2.0v6.0h-2.0zM322.7 104.0h2.0v6.0h-2.0zM324.2 104.0h2.0v6.0h-2.0zM339.1 104.0h2.0v6.0h-2.0zM276.2 109.5h2.0v6.0h-2.0zM289.7 109.5h2.0v6.0h-2.0zM334.6 109.5h2.0v6.0h-2.0zM348.1 109.5h2.0v6.0h-2.0zM351.1 109.5h2.0v6.0h-2.0zM363.1 109.5h2.0v6.0h-2.0zM369.1 109.5h2.0v6.0h-2.0z"/>
<path fill="#f7705c" d="M351.1 82.1h2.0v6.0h-2.0zM343.6 87.6h2.0v6.0h-2.0zM351.1 87.6h2.0v6.0h-2.0zM354.1 87.6h2.0v6.0h-2.0zM340.6 93.0h2.0v6.0h-2.0zM366.1 93.0h2.0v6.0h-2.0zM372.1 98.5h2.0v6.0h-2.0z"/>
<path fill="#fe9f6d" d="M291.2 87.6h2.0v6.0h-2.0zM295.7 93.0h2.0v6.0h-2.0zM322.7 93.0h2.0v6.0h-2.0zM217.8 109.5h2.0v6.0h-2.0zM223.8 109.5h2.0v6.0h-2.0zM228.3 109.5h2.0v6.0h-2.0zM261.2 109.5h2.0v6.0h-2.0zM265.7 109.5h2.0v6.0h-2.0zM300.2 109.5h2.0v6.0h-2.0zM316.7 109.5h2.0v6.0h-2.0zM319.7 109.5h2.0v6.0h-2.0zM322.7 109.5h2.0v6.0h-2.0zM325.7 109.5h2.0v6.0h-2.0zM333.2 109.5h2.0v6.0h-2.0zM366.1 109.5h2.0v6.0h-2.0z"/>
<path fill="#ef6360" d="M306.2 87.6h2.0v6.0h-2.0zM325.7 87.6h2.0v6.0h-2.0zM300.2 93.0h2.0v6.0h-2.0zM310.7 93.0h2.0v6.0h-2.0zM318.2 93.0h2.0v6.0h-2.0zM355.6 93.0h2.0v6.0h-2.0zM363.1 93.0h2.0v6.0h-2.0zM300.2 98.5h2.0v6.0h-2.0zM301.7 98.5h2.0v6.0h-2.0zM351.1 98.5h2.0v6.0h-2.0zM370.6 98.5h2.0v6.0h-2.0z"/>
<path fill="#fea773" d="M307.7 87.6h2.0v6.0h-2.0zM298.7 93.0h2.0v6.0h-2.0zM369.1 98.5h2.0v6.0h-2.0zM219.3 109.5h2.0v6.0h-2.0zM235.8 109.5h2.0v6.0h-2.0zM240.3 109.5h2.0v6.0h-2.0zM243.3 109.5h2.0v6.0h-2.0zM253.8 109.5h2.0v6.0h-2.0zM267.2 109.5h2.0v6.0h-2.0zM292.7 109.5h2.0v6.0h-2.0zM312.2 109.5h2.0v6.0h-2.0zM313.7 109.5h2.0v6.0h-2.0zM324.2 109.5h2.0v6.0h-2.0zM328.7 109.5h2.0v6.0h-2.0zM345.1 109.5h2.0v6.0h-2.0zM352.6 109.5h2.0v6.0h-2.0zM372.1 109.5h2.0v6.0h-2.0z"/>
<path fill="#9a2e7e" d="M321.2 93.0h2.0v6.0h-2.0zM348.1 93.0h2.0v6.0h-2.0zM349.6 93.0h2.0v6.0h-2.0zM369.1 93.0h2.0v6.0h-2.0zM357.1 98.5h2.0v6.0h-2.0z"/>
<path fill="#fcfdbf" d="M216.3 104.0h2.0v6.0h-2.0zM240.3 104.0h2.0v6.0h-2.0zM267.2 104.0h2.0v6.0h-2.0z"/>
<path fill="#fed799" d="M217.8 104.0h2.0v6.0h-2.0zM228.3 104.0h2.0v6.0h-2.0zM232.8 104.0h2.0v6.0h-2.0zM238.8 104.0h2.0v6.0h-2.0zM243.3 104.0h2.0v6.0h-2.0zM252.3 104.0h2.0v6.0h-2.0zM253.8 104.0h2.0v6.0h-2.0zM261.2 104.0h2.0v6.0h-2.0zM264.2 104.0h2.0v6.0h-2.0zM279.2 104.0h2.0v6.0h-2.0zM283.7 104.0h2.0v6.0h-2.0zM285.2 104.0h2.0v6.0h-2.0zM289.7 104.0h2.0v6.0h-2.0zM295.7 104.0h2.0v6.0h-2.0zM297.2 104.0h2.0v6.0h-2.0zM321.2 104.0h2.0v6.0h-2.0zM333.2 104.0h2.0v6.0h-2.0zM337.6 104.0h2.0v6.0h-2.0zM354.1 104.0h2.0v6.0h-2.0zM357.1 104.0h2.0v6.0h-2.0zM372.1 104.0h2.0v6.0h-2.0zM282.2 109.5h2.0v6.0h-2.0zM342.1 109.5h2.0v6.0h-2.0zM355.6 109.5h2.0v6.0h-2.0z"/>
<path fill="#fecf92" d="M220.8 104.0h2.0v6.0h-2.0zM223.8 104.0h2.0v6.0h-2.0zM225.3 104.0h2.0v6.0h-2.0zM231.3 104.0h2.0v6.0h-2.0zM237.3 104.0h2.0v6.0h-2.0zM246.3 104.0h2.0v6.0h-2.0zM258.2 104.0h2.0v6.0h-2.0zM306.2 104.0h2.0v6.0h-2.0zM342.1 104.0h2.0v6.0h-2.0zM345.1 104.0h2.0v6.0h-2.0zM349.6 104.0h2.0v6.0h-2.0zM355.6 104.0h2.0v6.0h-2.0zM370.6 104.0h2.0v6.0h-2.0zM309.2 109.5h2.0v6.0h-2.0zM340.6 109.5h2.0v6.0h-2.0zM349.6 109.5h2.0v6.0h-2.0zM358.6 109.5h2.0v6.0h-2.0zM360.1 109.5h2.0v6.0h-2.0z"/>
<path fill="#fcf5b7" d="M222.3 104.0h2.0v6.0h-2.0zM250.8 104.0h2.0v6.0h-2.0zM309.2 104.0h2.0v6.0h-2.0zM327.2 104.0h2.0v6.0h-2.0zM348.1 104.0h2.0v6.0h-2.0z"/>
<path fill="#fddea1" d="M234.3 104.0h2.0v6.0h-2.0zM235.8 104.0h2.0v6.0h-2.0zM241.8 104.0h2.0v6.0h-2.0zM249.3 104.0h2.0v6.0h-2.0zM255.3 104.0h2.0v6.0h-2.0zM262.7 104.0h2.0v6.0h-2.0zM268.7 104.0h2.0v6.0h-2.0zM292.7 104.0h2.0v6.0h-2.0zM307.7 104.0h2.0v6.0h-2.0zM312.2 104.0h2.0v6.0h-2.0zM313.7 104.0h2.0v6.0h-2.0zM316.7 104.0h2.0v6.0h-2.0zM318.2 104.0h2.0v6.0h-2.0zM319.7 104.0h2.0v6.0h-2.0zM328.7 104.0h2.0v6.0h-2.0zM330.2 104.0h2.0v6.0h-2.0zM343.6 104.0h2.0v6.0h-2.0zM352.6 104.0h2.0v6.0h-2.0zM363.1 104.0h2.0v6.0h-2.0zM366.1 104.0h2.0v6.0h-2.0z"/>
<path fill="#fdeeb0" d="M247.8 104.0h2.0v6.0h-2.0zM256.7 104.0h2.0v6.0h-2.0zM259.7 104.0h2.0v6.0h-2.0zM265.7 104.0h2.0v6.0h-2.0zM280.7 104.0h2.0v6.0h-2.0zM286.7 104.0h2.0v6.0h-2.0zM288.2 104.0h2.0v6.0h-2.0zM303.2 104.0h2.0v6.0h-2.0zM304.7 104.0h2.0v6.0h-2.0zM315.2 104.0h2.0v6.0h-2.0zM325.7 104.0h2.0v6.0h-2.0zM336.1 104.0h2.0v6.0h-2.0zM346.6 104.0h2.0v6.0h-2.0zM351.1 104.0h2.0v6.0h-2.0zM360.1 104.0h2.0v6.0h-2.0zM364.6 104.0h2.0v6.0h-2.0z"/>
<rect x="216.30" y="65.60" width="157.30" height="49.40" fill="none" stroke="#888" stroke-width="0.35"/>
<path fill="#070515" d="M377.5 65.6h2.1v6.0h-2.1zM387.0 65.6h2.1v6.0h-2.1zM396.5 65.6h2.1v6.0h-2.1z"/>
<path fill="#0d0925" d="M379.1 65.6h2.1v6.0h-2.1zM398.1 65.6h2.1v6.0h-2.1zM412.3 65.6h2.1v6.0h-2.1zM413.9 65.6h2.1v6.0h-2.1z"/>
<path fill="#000004" d="M380.7 65.6h2.1v6.0h-2.1zM388.6 65.6h2.1v6.0h-2.1zM390.2 65.6h2.1v6.0h-2.1zM399.7 65.6h2.1v6.0h-2.1z"/>
<path fill="#210e49" d="M382.2 65.6h2.1v6.0h-2.1z"/>
<path fill="#110c2e" d="M383.8 65.6h2.1v6.0h-2.1zM410.8 65.6h2.1v6.0h-2.1z"/>
<path fill="#140e36" d="M385.4 65.6h2.1v6.0h-2.1z"/>
<path fill="#03020c" d="M391.8 65.6h2.1v6.0h-2.1zM393.3 65.6h2.1v6.0h-2.1zM394.9 65.6h2.1v6.0h-2.1zM383.8 71.1h2.1v6.0h-2.1z"/>
<path fill="#a2307d" d="M401.2 65.6h2.1v6.0h-2.1zM406.0 71.1h2.1v6.0h-2.1zM410.8 71.1h2.1v6.0h-2.1zM380.7 82.1h2.1v6.0h-2.1zM401.2 82.1h2.1v6.0h-2.1zM388.6 104.0h2.1v6.0h-2.1z"/>
<path fill="#7f2481" d="M402.8 65.6h2.1v6.0h-2.1zM391.8 71.1h2.1v6.0h-2.1zM398.1 71.1h2.1v6.0h-2.1z"/>
<path fill="#852681" d="M404.4 65.6h2.1v6.0h-2.1zM407.6 65.6h2.1v6.0h-2.1zM423.4 71.1h2.1v6.0h-2.1zM379.1 82.1h2.1v6.0h-2.1zM399.7 82.1h2.1v6.0h-2.1z"/>
<path fill="#641a80" d="M406.0 65.6h2.1v6.0h-2.1zM415.5 65.6h2.1v6.0h-2.1zM421.8 65.6h2.1v6.0h-2.1zM404.4 71.1h2.1v6.0h-2.1zM391.8 76.6h2.1v6.0h-2.1zM423.4 76.6h2.1v6.0h-2.1z"/>
<path fill="#6b1c80" d="M409.2 65.6h2.1v6.0h-2.1zM423.4 65.6h2.1v6.0h-2.1zM390.2 71.1h2.1v6.0h-2.1zM402.8 71.1h2.1v6.0h-2.1zM407.6 71.1h2.1v6.0h-2.1zM382.2 76.6h2.1v6.0h-2.1zM402.8 76.6h2.1v6.0h-2.1zM379.1 104.0h2.1v6.0h-2.1zM380.7 104.0h2.1v6.0h-2.1z"/>
<path fill="#5d187d" d="M417.1 65.6h2.1v6.0h-2.1zM418.7 65.6h2.1v6.0h-2.1zM380.7 71.1h2.1v6.0h-2.1zM401.2 71.1h2.1v6.0h-2.1zM396.5 76.6h2.1v6.0h-2.1zM415.5 76.6h2.1v6.0h-2.1z"/>
<path fill="#711f80" d="M420.2 65.6h2.1v6.0h-2.1zM388.6 71.1h2.1v6.0h-2.1zM420.2 71.1h2.1v6.0h-2.1z"/>
<path fill="#fea773" d="M377.5 71.1h2.1v6.0h-2.1zM412.3 71.1h2.1v6.0h-2.1zM406.0 82.1h2.1v6.0h-2.1zM404.4 87.6h2.1v6.0h-2.1zM399.7 109.5h2.1v6.0h-2.1z"/>
<path fill="#b0357a" d="M379.1 71.1h2.1v6.0h-2.1zM409.2 71.1h2.1v6.0h-2.1zM418.7 71.1h2.1v6.0h-2.1zM385.4 104.0h2.1v6.0h-2.1zM390.2 104.0h2.1v6.0h-2.1z"/>
<path fill="#491375" d="M382.2 71.1h2.1v6.0h-2.1zM379.1 76.6h2.1v6.0h-2.1zM399.7 76.6h2.1v6.0h-2.1zM412.3 76.6h2.1v6.0h-2.1zM421.8 76.6h2.1v6.0h-2.1z"/>
<path fill="#a9327c" d="M385.4 71.1h2.1v6.0h-2.1zM407.6 98.5h2.1v6.0h-2.1z"/>
<path fill="#e25066" d="M387.0 71.1h2.1v6.0h-2.1zM398.1 82.1h2.1v6.0h-2.1zM415.5 82.1h2.1v6.0h-2.1zM410.8 87.6h2.1v6.0h-2.1zM415.5 87.6h2.1v6.0h-2.1zM387.0 98.5h2.1v6.0h-2.1zM391.8 98.5h2.1v6.0h-2.1zM394.9 98.5h2.1v6.0h-2.1z"/>
<path fill="#d1436e" d="M393.3 71.1h2.1v6.0h-2.1zM385.4 98.5h2.1v6.0h-2.1z"/>
<path fill="#cb4070" d="M394.9 71.1h2.1v6.0h-2.1zM399.7 71.1h2.1v6.0h-2.1zM377.5 104.0h2.1v6.0h-2.1zM382.2 104.0h2.1v6.0h-2.1z"/>
<path fill="#9a2e7e" d="M396.5 71.1h2.1v6.0h-2.1z"/>
<path fill="#be3a76" d="M413.9 71.1h2.1v6.0h-2.1zM391.8 82.1h2.1v6.0h-2.1z"/>
<path fill="#2e0f5d" d="M415.5 71.1h2.1v6.0h-2.1zM413.9 76.6h2.1v6.0h-2.1zM420.2 76.6h2.1v6.0h-2.1z"/>
<path fill="#501478" d="M417.1 71.1h2.1v6.0h-2.1zM385.4 76.6h2.1v6.0h-2.1zM417.1 76.6h2.1v6.0h-2.1z"/>
<path fill="#fc8f67" d="M421.8 71.1h2.1v6.0h-2.1zM390.2 82.1h2.1v6.0h-2.1zM388.6 87.6h2.1v6.0h-2.1zM402.8 87.6h2.1v6.0h-2.1zM413.9 87.6h2.1v6.0h-2.1zM388.6 93.0h2.1v6.0h-2.1zM390.2 93.0h2.1v6.0h-2.1zM396.5 98.5h2.1v6.0h-2.1zM401.2 104.0h2.1v6.0h-2.1zM404.4 104.0h2.1v6.0h-2.1zM410.8 104.0h2.1v6.0h-2.1zM423.4 104.0h2.1v6.0h-2.1z"/>
<path fill="#421173" d="M377.5 76.6h2.1v6.0h-2.1zM393.3 76.6h2.1v6.0h-2.1zM404.4 76.6h2.1v6.0h-2.1zM409.2 76.6h2.1v6.0h-2.1zM383.8 82.1h2.1v6.0h-2.1z"/>
<path fill="#340f66" d="M380.7 76.6h2.1v6.0h-2.1zM398.1 76.6h2.1v6.0h-2.1zM401.2 76.6h2.1v6.0h-2.1zM407.6 76.6h2.1v6.0h-2.1z"/>
<path fill="#280e53" d="M383.8 76.6h2.1v6.0h-2.1zM394.9 76.6h2.1v6.0h-2.1z"/>
<path fill="#3b0f70" d="M387.0 76.6h2.1v6.0h-2.1z"/>
<path fill="#0a071d" d="M388.6 76.6h2.1v6.0h-2.1z"/>
<path fill="#56167b" d="M390.2 76.6h2.1v6.0h-2.1z"/>
<path fill="#8c2981" d="M406.0 76.6h2.1v6.0h-2.1zM382.2 82.1h2.1v6.0h-2.1z"/>
<path fill="#1a0e40" d="M410.8 76.6h2.1v6.0h-2.1zM377.5 82.1h2.1v6.0h-2.1z"/>
<path fill="#932b80" d="M418.7 76.6h2.1v6.0h-2.1z"/>
<path fill="#fd976a" d="M385.4 82.1h2.1v6.0h-2.1zM382.2 87.6h2.1v6.0h-2.1zM407.6 87.6h2.1v6.0h-2.1zM394.9 93.0h2.1v6.0h-2.1zM421.8 93.0h2.1v6.0h-2.1zM420.2 98.5h2.1v6.0h-2.1zM399.7 104.0h2.1v6.0h-2.1zM417.1 104.0h2.1v6.0h-2.1z"/>
<path fill="#f98062" d="M387.0 82.1h2.1v6.0h-2.1zM398.1 87.6h2.1v6.0h-2.1zM399.7 87.6h2.1v6.0h-2.1zM409.2 87.6h2.1v6.0h-2.1zM377.5 93.0h2.1v6.0h-2.1zM409.2 93.0h2.1v6.0h-2.1zM379.1 98.5h2.1v6.0h-2.1zM417.1 98.5h2.1v6.0h-2.1zM418.7 98.5h2.1v6.0h-2.1zM393.3 104.0h2.1v6.0h-2.1z"/>
<path fill="#f8785f" d="M388.6 82.1h2.1v6.0h-2.1zM385.4 93.0h2.1v6.0h-2.1zM387.0 93.0h2.1v6.0h-2.1zM404.4 93.0h2.1v6.0h-2.1zM410.8 93.0h2.1v6.0h-2.1zM398.1 98.5h2.1v6.0h-2.1zM421.8 98.5h2.1v6.0h-2.1z"/>
<path fill="#fde6a8" d="M393.3 82.1h2.1v6.0h-2.1zM393.3 93.0h2.1v6.0h-2.1zM420.2 104.0h2.1v6.0h-2.1z"/>
<path fill="#d8466b" d="M394.9 82.1h2.1v6.0h-2.1zM377.5 87.6h2.1v6.0h-2.1zM383.8 87.6h2.1v6.0h-2.1zM391.8 87.6h2.1v6.0h-2.1zM404.4 98.5h2.1v6.0h-2.1zM415.5 98.5h2.1v6.0h-2.1zM387.0 104.0h2.1v6.0h-2.1z"/>
<path fill="#ea5d62" d="M396.5 82.1h2.1v6.0h-2.1zM404.4 82.1h2.1v6.0h-2.1zM417.1 82.1h2.1v6.0h-2.1zM420.2 82.1h2.1v6.0h-2.1zM421.8 82.1h2.1v6.0h-2.1zM390.2 87.6h2.1v6.0h-2.1zM406.0 87.6h2.1v6.0h-2.1zM383.8 93.0h2.1v6.0h-2.1zM407.6 93.0h2.1v6.0h-2.1zM406.0 98.5h2.1v6.0h-2.1z"/>
<path fill="#f7705c" d="M402.8 82.1h2.1v6.0h-2.1zM394.9 87.6h2.1v6.0h-2.1zM401.2 87.6h2.1v6.0h-2.1zM421.8 87.6h2.1v6.0h-2.1zM399.7 93.0h2.1v6.0h-2.1zM399.7 98.5h2.1v6.0h-2.1z"/>
<path fill="#feb77f" d="M407.6 82.1h2.1v6.0h-2.1zM402.8 93.0h2.1v6.0h-2.1zM398.1 104.0h2.1v6.0h-2.1zM394.9 109.5h2.1v6.0h-2.1zM402.8 109.5h2.1v6.0h-2.1z"/>
<path fill="#fa8864" d="M409.2 82.1h2.1v6.0h-2.1zM412.3 87.6h2.1v6.0h-2.1zM418.7 87.6h2.1v6.0h-2.1zM420.2 87.6h2.1v6.0h-2.1zM396.5 93.0h2.1v6.0h-2.1zM377.5 98.5h2.1v6.0h-2.1z"/>
<path fill="#e65664" d="M410.8 82.1h2.1v6.0h-2.1zM380.7 93.0h2.1v6.0h-2.1zM398.1 93.0h2.1v6.0h-2.1zM415.5 93.0h2.1v6.0h-2.1zM420.2 93.0h2.1v6.0h-2.1zM388.6 98.5h2.1v6.0h-2.1zM410.8 98.5h2.1v6.0h-2.1zM412.3 98.5h2.1v6.0h-2.1zM413.9 98.5h2.1v6.0h-2.1zM402.8 104.0h2.1v6.0h-2.1z"/>
<path fill="#de4968" d="M412.3 82.1h2.1v6.0h-2.1zM423.4 87.6h2.1v6.0h-2.1zM391.8 93.0h2.1v6.0h-2.1zM383.8 98.5h2.1v6.0h-2.1zM401.2 98.5h2.1v6.0h-2.1z"/>
<path fill="#fe9f6d" d="M413.9 82.1h2.1v6.0h-2.1zM418.7 82.1h2.1v6.0h-2.1zM393.3 87.6h2.1v6.0h-2.1zM412.3 93.0h2.1v6.0h-2.1zM417.1 93.0h2.1v6.0h-2.1zM418.7 93.0h2.1v6.0h-2.1zM421.8 104.0h2.1v6.0h-2.1zM421.8 109.5h2.1v6.0h-2.1z"/>
<path fill="#ef6360" d="M423.4 82.1h2.1v6.0h-2.1zM380.7 87.6h2.1v6.0h-2.1zM387.0 87.6h2.1v6.0h-2.1zM382.2 98.5h2.1v6.0h-2.1zM423.4 98.5h2.1v6.0h-2.1z"/>
<path fill="#f36a5e" d="M379.1 87.6h2.1v6.0h-2.1zM396.5 87.6h2.1v6.0h-2.1zM417.1 87.6h2.1v6.0h-2.1zM401.2 93.0h2.1v6.0h-2.1zM406.0 93.0h2.1v6.0h-2.1zM413.9 93.0h2.1v6.0h-2.1zM423.4 93.0h2.1v6.0h-2.1zM390.2 98.5h2.1v6.0h-2.1zM393.3 98.5h2.1v6.0h-2.1zM402.8 98.5h2.1v6.0h-2.1zM409.2 98.5h2.1v6.0h-2.1z"/>
<path fill="#c43d73" d="M385.4 87.6h2.1v6.0h-2.1zM380.7 98.5h2.1v6.0h-2.1z"/>
<path fill="#fec78c" d="M379.1 93.0h2.1v6.0h-2.1zM394.9 104.0h2.1v6.0h-2.1zM379.1 109.5h2.1v6.0h-2.1zM383.8 109.5h2.1v6.0h-2.1zM390.2 109.5h2.1v6.0h-2.1zM393.3 109.5h2.1v6.0h-2.1zM404.4 109.5h2.1v6.0h-2.1zM407.6 109.5h2.1v6.0h-2.1zM410.8 109.5h2.1v6.0h-2.1z"/>
<path fill="#fcfdbf" d="M382.2 93.0h2.1v6.0h-2.1z"/>
<path fill="#b73779" d="M383.8 104.0h2.1v6.0h-2.1z"/>
<path fill="#fecf92" d="M391.8 104.0h2.1v6.0h-2.1zM415.5 104.0h2.1v6.0h-2.1zM380.7 109.5h2.1v6.0h-2.1zM382.2 109.5h2.1v6.0h-2.1zM387.0 109.5h2.1v6.0h-2.1zM413.9 109.5h2.1v6.0h-2.1zM417.1 109.5h2.1v6.0h-2.1zM423.4 109.5h2.1v6.0h-2.1z"/>
<path fill="#fed799" d="M396.5 104.0h2.1v6.0h-2.1zM388.6 109.5h2.1v6.0h-2.1zM391.8 109.5h2.1v6.0h-2.1zM406.0 109.5h2.1v6.0h-2.1z"/>
<path fill="#fcf5b7" d="M406.0 104.0h2.1v6.0h-2.1zM407.6 104.0h2.1v6.0h-2.1z"/>
<path fill="#feaf79" d="M409.2 104.0h2.1v6.0h-2.1zM412.3 109.5h2.1v6.0h-2.1z"/>
<path fill="#fdeeb0" d="M412.3 104.0h2.1v6.0h-2.1zM413.9 104.0h2.1v6.0h-2.1z"/>
<path fill="#fddea1" d="M418.7 104.0h2.1v6.0h-2.1zM415.5 109.5h2.1v6.0h-2.1zM418.7 109.5h2.1v6.0h-2.1z"/>
<path fill="#febf86" d="M377.5 109.5h2.1v6.0h-2.1zM385.4 109.5h2.1v6.0h-2.1zM396.5 109.5h2.1v6.0h-2.1zM398.1 109.5h2.1v6.0h-2.1zM401.2 109.5h2.1v6.0h-2.1zM409.2 109.5h2.1v6.0h-2.1zM420.2 109.5h2.1v6.0h-2.1z"/>
<rect x="377.50" y="65.60" width="47.50" height="49.40" fill="none" stroke="#888" stroke-width="0.35"/>
<text x="426.00" y="48.80" font-size="4.7" text-anchor="start" font-weight="normal" font-style="normal" fill="#333"  stroke="#333" stroke-width="0.1">IHC</text>
<text x="426.00" y="58.60" font-size="4.7" text-anchor="start" font-weight="normal" font-style="normal" fill="#333"  stroke="#333" stroke-width="0.1">PAM50</text>
<text x="426.00" y="70.04" font-size="4.8" text-anchor="start" font-weight="normal" font-style="italic" fill="#222"  stroke="#222" stroke-width="0.1">CCNA1</text>
<text x="426.00" y="75.53" font-size="4.8" text-anchor="start" font-weight="normal" font-style="italic" fill="#222"  stroke="#222" stroke-width="0.1">CCNE1</text>
<text x="426.00" y="81.02" font-size="4.8" text-anchor="start" font-weight="normal" font-style="italic" fill="#222"  stroke="#222" stroke-width="0.1">CDK3</text>
<text x="426.00" y="86.51" font-size="4.8" text-anchor="start" font-weight="normal" font-style="italic" fill="#222"  stroke="#222" stroke-width="0.1">CDK6</text>
<text x="426.00" y="92.00" font-size="4.8" text-anchor="start" font-weight="normal" font-style="italic" fill="#222"  stroke="#222" stroke-width="0.1">CDK2</text>
<text x="426.00" y="97.49" font-size="4.8" text-anchor="start" font-weight="normal" font-style="italic" fill="#222"  stroke="#222" stroke-width="0.1">CCNB1</text>
<text x="426.00" y="102.98" font-size="4.8" text-anchor="start" font-weight="normal" font-style="italic" fill="#222"  stroke="#222" stroke-width="0.1">CDK1</text>
<text x="426.00" y="108.47" font-size="4.8" text-anchor="start" font-weight="normal" font-style="italic" fill="#222"  stroke="#222" stroke-width="0.1">CCND1</text>
<text x="426.00" y="113.96" font-size="4.8" text-anchor="start" font-weight="normal" font-style="italic" fill="#222"  stroke="#222" stroke-width="0.1">CDK4</text>
<text x="255.98" y="119.80" font-size="4.632000000000001" text-anchor="middle" font-weight="normal" font-style="normal" fill="#222"  stroke="#222" stroke-width="0.1">IHC</text>
<rect x="230.40" y="122.80" width="3.72" height="3.44" fill="#000" stroke="#444" stroke-width="0.3"/>
<text x="234.68" y="125.87" font-size="4.632000000000001" text-anchor="start" font-weight="normal" font-style="normal" fill="#333"  stroke="#333" stroke-width="0.1">TNBC</text>
<rect x="247.98" y="122.80" width="3.72" height="3.44" fill="#7f7f7f" stroke="#444" stroke-width="0.3"/>
<text x="252.16" y="125.87" font-size="4.632000000000001" text-anchor="start" font-weight="normal" font-style="normal" fill="#333"  stroke="#333" stroke-width="0.1">ER+</text>
<rect x="262.76" y="122.80" width="3.72" height="3.44" fill="#cfcfcf" stroke="#444" stroke-width="0.3"/>
<text x="266.95" y="125.87" font-size="4.632000000000001" text-anchor="start" font-weight="normal" font-style="normal" fill="#333"  stroke="#333" stroke-width="0.1">HER2+</text>
<text x="321.49" y="119.80" font-size="4.632000000000001" text-anchor="middle" font-weight="normal" font-style="normal" fill="#333"  stroke="#333" stroke-width="0.1">PAM50</text>
<rect x="290.80" y="122.80" width="3.72" height="3.44" fill="#ee1c25" stroke="#444" stroke-width="0.3"/>
<text x="295.08" y="125.87" font-size="4.632000000000001" text-anchor="start" font-weight="normal" font-style="normal" fill="#333"  stroke="#333" stroke-width="0.1">Basal-like</text>
<rect x="316.65" y="122.80" width="3.72" height="3.44" fill="#f06eaa" stroke="#444" stroke-width="0.3"/>
<text x="320.93" y="125.87" font-size="4.632000000000001" text-anchor="start" font-weight="normal" font-style="normal" fill="#333"  stroke="#333" stroke-width="0.1">HER2-enriched</text>
<rect x="290.80" y="128.19" width="3.72" height="3.44" fill="#2e3192" stroke="#444" stroke-width="0.3"/>
<text x="295.08" y="131.26" font-size="4.632000000000001" text-anchor="start" font-weight="normal" font-style="normal" fill="#333"  stroke="#333" stroke-width="0.1">Luminal A</text>
<rect x="316.65" y="128.19" width="3.72" height="3.44" fill="#6dcff6" stroke="#444" stroke-width="0.3"/>
<text x="320.93" y="131.26" font-size="4.632000000000001" text-anchor="start" font-weight="normal" font-style="normal" fill="#333"  stroke="#333" stroke-width="0.1">Luminal B</text>
<rect x="290.80" y="133.59" width="3.72" height="3.44" fill="#39b54a" stroke="#444" stroke-width="0.3"/>
<text x="295.08" y="136.66" font-size="4.632000000000001" text-anchor="start" font-weight="normal" font-style="normal" fill="#333"  stroke="#333" stroke-width="0.1">Normal-like</text>
<text x="361.90" y="119.60" font-size="4.632000000000001" text-anchor="start" font-weight="normal" font-style="normal" fill="#333"  stroke="#333" stroke-width="0.1">Gene expression (log2)</text>
<defs><linearGradient id="g360"><stop offset="0.0" stop-color="#000004"/><stop offset="0.1" stop-color="#140e36"/><stop offset="0.2" stop-color="#3b0f70"/><stop offset="0.3" stop-color="#641a80"/><stop offset="0.4" stop-color="#8c2981"/><stop offset="0.5" stop-color="#b73779"/><stop offset="0.6" stop-color="#de4968"/><stop offset="0.7" stop-color="#f7705c"/><stop offset="0.8" stop-color="#fe9f6d"/><stop offset="0.9" stop-color="#fecf92"/><stop offset="1.0" stop-color="#fcfdbf"/></linearGradient></defs>
<rect x="360.90" y="122.00" width="53.4" height="4.6" fill="url(#g360)" stroke="#555" stroke-width="0.3"/>
<text x="361.40" y="130.70" font-size="4.632000000000001" text-anchor="middle" font-weight="normal" font-style="normal" fill="#333"  stroke="#333" stroke-width="0.1">0</text>
<text x="375.80" y="130.70" font-size="4.632000000000001" text-anchor="middle" font-weight="normal" font-style="normal" fill="#333"  stroke="#333" stroke-width="0.1">5</text>
<text x="390.70" y="130.70" font-size="4.632000000000001" text-anchor="middle" font-weight="normal" font-style="normal" fill="#333"  stroke="#333" stroke-width="0.1">10</text>
<text x="405.90" y="130.70" font-size="4.632000000000001" text-anchor="middle" font-weight="normal" font-style="normal" fill="#333"  stroke="#333" stroke-width="0.1">15</text>
<text x="212.20" y="147.30" font-size="7.6" text-anchor="middle" font-weight="normal" font-style="normal" fill="#222" letter-spacing="0.25">METABRIC (<tspan font-style='italic'>n</tspan> = 1197)</text>
<path d="M104.7 168.2V167.5H105.1V168.2M105.7 168.2V167.6H106.3V168.2M106.9 168.2V167.6H107.4V168.2M106.0 167.6V167.2H107.1V167.6M104.9 167.5V166.9H106.6V167.2M108.0 168.2V167.3H108.7V168.2M105.7 166.9V166.2H108.3V167.3M109.4 168.2V167.5H110.1V168.2M109.8 167.5V167.1H110.6V168.2M111.2 168.2V167.4H111.8V168.2M112.3 168.2V167.4H112.9V168.2M111.5 167.4V167.1H112.6V167.4M113.6 168.2V167.2H114.2V168.2M112.1 167.1V166.7H113.9V167.2M115.7 168.2V167.5H116.2V168.2M114.9 168.2V166.9H115.9V167.5M113.0 166.7V166.4H115.4V166.9M110.2 167.1V165.6H114.2V166.4M107.0 166.2V164.7H112.2V165.6M121.4 168.2V167.8H122.0V168.2M120.8 168.2V167.4H121.7V167.8M123.1 168.2V167.8H123.6V168.2M122.6 168.2V167.5H123.3V167.8M125.1 168.2V167.7H125.7V168.2M124.4 168.2V167.3H125.4V167.7M123.0 167.5V166.9H124.9V167.3M121.2 167.4V166.5H123.9V166.9M126.1 168.2V167.9H126.6V168.2M126.4 167.9V167.5H127.1V168.2M127.7 168.2V168.2H128.3V168.2M128.0 168.2V167.8H128.8V168.2M128.4 167.8V167.5H129.6V168.2M126.7 167.5V167.1H129.0V167.5M130.4 168.2V167.6H131.0V168.2M131.5 168.2V167.7H132.0V168.2M130.7 167.6V167.2H131.7V167.7M127.9 167.1V166.8H131.2V167.2M132.5 168.2V167.7H133.2V168.2M133.8 168.2V167.7H134.3V168.2M132.8 167.7V167.3H134.0V167.7M129.5 166.8V166.3H133.4V167.3M134.9 168.2V167.5H135.4V168.2M136.8 168.2V167.7H137.6V168.2M136.1 168.2V167.4H137.2V167.7M135.1 167.5V166.9H136.6V167.4M131.5 166.3V165.9H135.9V166.9M122.6 166.5V165.2H133.7V165.9M139.0 168.2V168.0H139.6V168.2M138.3 168.2V167.7H139.3V168.0M138.8 167.7V167.3H140.2V168.2M140.9 168.2V167.6H141.4V168.2M142.5 168.2V168.2H143.0V168.2M143.5 168.2V168.2H144.0V168.2M142.7 168.2V167.9H143.7V168.2M141.9 168.2V167.5H143.2V167.9M141.2 167.6V167.2H142.6V167.5M139.5 167.3V166.8H141.9V167.2M145.1 168.2V168.1H145.6V168.2M144.5 168.2V167.7H145.3V168.1M144.9 167.7V167.4H146.1V168.2M146.7 168.2V167.5H147.3V168.2M148.8 168.2V167.7H149.5V168.2M148.1 168.2V167.4H149.2V167.7M147.0 167.5V167.0H148.7V167.4M145.5 167.4V166.6H147.8V167.0M140.7 166.8V165.6H146.7V166.6M128.1 165.2V163.9H143.7V165.6M150.4 168.2V167.9H150.9V168.2M150.1 168.2V167.6H150.7V167.9M151.9 168.2V167.9H152.4V168.2M151.5 168.2V167.5H152.1V167.9M150.4 167.6V167.2H151.8V167.5M154.7 168.2V168.0H155.1V168.2M153.9 168.2V167.6H154.9V168.0M153.1 168.2V167.3H154.4V167.6M151.1 167.2V166.8H153.8V167.3M157.7 168.2V168.1H158.1V168.2M157.1 168.2V167.8H157.9V168.1M156.4 168.2V167.4H157.5V167.8M155.7 168.2V167.1H157.0V167.4M152.4 166.8V166.2H156.3V167.1M158.6 168.2V167.9H159.1V168.2M158.9 167.9V167.6H159.7V168.2M160.7 168.2V168.0H161.2V168.2M160.2 168.2V167.7H161.0V168.0M161.7 168.2V168.4H162.2V168.2M161.9 168.4V168.0H162.6V168.2M162.3 168.0V167.7H163.1V168.2M160.6 167.7V167.3H162.7V167.7M159.3 167.6V167.0H161.6V167.3M154.4 166.2V165.7H160.4V167.0M164.6 168.2V168.1H165.3V168.2M164.9 168.1V167.8H166.0V168.2M163.8 168.2V167.4H165.4V167.8M166.8 168.2V167.6H167.3V168.2M164.6 167.4V167.1H167.0V167.6M167.9 168.2V167.7H168.7V168.2M168.3 167.7V167.3H169.4V168.2M165.8 167.1V166.7H168.8V167.3M169.9 168.2V167.4H170.5V168.2M171.4 168.2V168.0H171.9V168.2M171.1 168.2V167.7H171.6V168.0M171.4 167.7V167.3H172.5V168.2M170.2 167.4V167.0H171.9V167.3M173.1 168.2V167.6H173.8V168.2M173.5 167.6V167.3H174.5V168.2M175.2 168.2V168.0H175.7V168.2M176.1 168.2V168.0H176.7V168.2M175.4 168.0V167.6H176.4V168.0M175.9 167.6V167.3H177.3V168.2M174.0 167.3V166.9H176.6V167.3M171.1 167.0V166.1H175.3V166.9M178.9 168.2V168.0H179.5V168.2M178.6 168.2V167.7H179.2V168.0M178.0 168.2V167.3H178.9V167.7M180.2 168.2V167.5H180.8V168.2M181.8 168.2V167.9H182.3V168.2M181.3 168.2V167.6H182.0V167.9M182.8 168.2V167.6H183.5V168.2M181.7 167.6V167.2H183.1V167.6M180.5 167.5V166.9H182.4V167.2M178.5 167.3V166.4H181.5V166.9M173.2 166.1V165.6H180.0V166.4M167.3 166.7V164.8H176.6V165.6M184.1 168.2V167.6H184.6V168.2M185.3 168.2V167.5H186.0V168.2M187.0 168.2V167.9H187.5V168.2M186.5 168.2V167.5H187.2V167.9M185.6 167.5V167.1H186.8V167.5M184.3 167.6V166.8H186.2V167.1M188.1 168.2V167.8H188.7V168.2M188.4 167.8V167.5H189.3V168.2M190.0 168.2V167.8H190.5V168.2M190.2 167.8V167.5H190.8V168.2M188.9 167.5V167.1H190.5V167.5M191.1 168.2V168.0H191.6V168.2M191.4 168.0V167.7H192.2V168.2M192.9 168.2V167.7H193.5V168.2M191.8 167.7V167.3H193.2V167.7M194.1 168.2V167.7H194.6V168.2M194.3 167.7V167.3H195.2V168.2M192.5 167.3V167.0H194.8V167.3M189.7 167.1V166.6H193.6V167.0M185.3 166.8V166.2H191.7V166.6M196.0 168.2V167.8H196.6V168.2M196.3 167.8V167.5H196.9V168.2M197.5 168.2V167.5H198.2V168.2M196.6 167.5V167.1H197.8V167.5M199.0 168.2V167.4H199.7V168.2M197.2 167.1V166.7H199.4V167.4M188.5 166.2V165.0H198.3V166.7M171.9 164.8V164.4H193.4V165.0M157.4 165.7V162.1H182.7V164.4M135.9 163.9V160.7H170.0V162.1M200.9 168.2V167.7H201.6V168.2M200.3 168.2V167.4H201.2V167.7M202.4 168.2V167.6H203.0V168.2M200.8 167.4V167.0H202.7V167.6M203.4 168.2V167.4H204.0V168.2M205.1 168.2V167.9H205.7V168.2M204.7 168.2V167.6H205.4V167.9M205.0 167.6V167.2H206.4V168.2M203.7 167.4V166.9H205.7V167.2M201.8 167.0V166.2H204.7V166.9M207.3 168.2V167.8H207.8V168.2M206.9 168.2V167.5H207.5V167.8M209.4 168.2V167.7H210.0V168.2M208.6 168.2V167.4H209.7V167.7M207.2 167.5V166.7H209.2V167.4M203.2 166.2V165.9H208.2V166.7M210.6 168.2V167.4H211.3V168.2M211.8 168.2V167.5H212.5V168.2M210.9 167.4V167.1H212.2V167.5M213.6 168.2V167.8H214.2V168.2M213.1 168.2V167.4H213.9V167.8M214.9 168.2V167.4H215.7V168.2M213.5 167.4V167.1H215.3V167.4M216.2 168.2V167.4H216.8V168.2M218.1 168.2V168.0H218.5V168.2M217.5 168.2V167.7H218.3V168.0M217.9 167.7V167.3H219.2V168.2M216.5 167.4V167.0H218.6V167.3M214.4 167.1V166.3H217.5V167.0M211.5 167.1V165.7H216.0V166.3M220.0 168.2V167.3H220.8V168.2M221.3 168.2V167.8H221.8V168.2M222.3 168.2V167.8H222.9V168.2M221.6 167.8V167.5H222.6V167.8M223.6 168.2V167.8H224.0V168.2M223.8 167.8V167.5H224.5V168.2M222.1 167.5V167.1H224.2V167.5M220.4 167.3V166.8H223.1V167.1M213.8 165.7V165.2H221.8V166.8M225.8 168.2V167.9H226.3V168.2M225.1 168.2V167.6H226.1V167.9M225.6 167.6V167.2H226.9V168.2M228.4 168.2V167.6H229.2V168.2M227.6 168.2V167.3H228.8V167.6M226.2 167.2V166.8H228.2V167.3M229.9 168.2V167.8H230.3V168.2M230.1 167.8V167.5H231.0V168.2M231.7 168.2V167.5H232.4V168.2M230.5 167.5V167.1H232.1V167.5M234.5 168.2V167.8H235.0V168.2M233.9 168.2V167.5H234.7V167.8M233.2 168.2V167.1H234.3V167.5M231.3 167.1V166.8H233.7V167.1M227.2 166.8V165.7H232.5V166.8M217.8 165.2V164.5H229.9V165.7M205.7 165.9V163.3H223.8V164.5M235.7 168.2V167.6H236.3V168.2M236.0 167.6V167.2H236.9V168.2M237.5 168.2V167.5H238.1V168.2M238.7 168.2V167.6H239.3V168.2M237.8 167.5V167.1H239.0V167.6M236.5 167.2V166.7H238.4V167.1M240.5 168.2V167.5H241.0V168.2M239.9 168.2V167.2H240.8V167.5M241.7 168.2V167.8H242.3V168.2M242.0 167.8V167.5H242.8V168.2M240.4 167.2V166.8H242.4V167.5M237.5 166.7V166.3H241.4V166.8M243.5 168.2V167.3H244.2V168.2M245.6 168.2V167.7H246.1V168.2M244.9 168.2V167.3H245.9V167.7M243.8 167.3V166.9H245.4V167.3M247.2 168.2V167.8H247.7V168.2M246.7 168.2V167.4H247.5V167.8M248.3 168.2V168.1H248.8V168.2M248.6 168.1V167.8H249.3V168.2M248.9 167.8V167.4H249.7V168.2M247.1 167.4V167.1H249.3V167.4M244.6 166.9V166.1H248.2V167.1M239.4 166.3V165.5H246.4V166.1M214.8 163.3V162.0H242.9V165.5M250.2 168.2V167.8H250.8V168.2M251.6 168.2V167.8H252.3V168.2M250.5 167.8V167.5H252.0V167.8M252.7 168.2V168.2H253.1V168.2M252.9 168.2V167.8H253.8V168.2M254.4 168.2V167.8H255.2V168.2M253.3 167.8V167.5H254.8V167.8M251.2 167.5V167.1H254.1V167.5M255.8 168.2V168.0H256.3V168.2M256.0 168.0V167.6H256.8V168.2M257.5 168.2V168.0H257.9V168.2M258.7 168.2V168.3H259.3V168.2M258.3 168.2V168.0H259.0V168.3M257.7 168.0V167.6H258.7V168.0M256.4 167.6V167.3H258.2V167.6M252.7 167.1V166.8H257.3V167.3M259.8 168.2V168.2H260.3V168.2M260.1 168.2V167.9H261.0V168.2M261.5 168.2V167.9H262.1V168.2M260.5 167.9V167.5H261.8V167.9M263.8 168.2V167.9H264.5V168.2M262.9 168.2V167.5H264.1V167.9M261.2 167.5V167.2H263.5V167.5M264.9 168.2V168.3H265.4V168.2M265.2 168.3V168.0H266.0V168.2M266.6 168.2V168.0H267.2V168.2M265.6 168.0V167.6H266.9V168.0M267.7 168.2V168.0H268.3V168.2M268.0 168.0V167.6H268.9V168.2M266.2 167.6V167.3H268.4V167.6M262.4 167.2V166.4H267.3V167.3M255.0 166.8V165.4H264.8V166.4M269.9 168.2V168.2H270.4V168.2M269.4 168.2V167.8H270.1V168.2M269.8 167.8V167.5H271.1V168.2M271.6 168.2V167.9H272.2V168.2M271.9 167.9V167.6H272.9V168.2M273.9 168.2V168.2H274.4V168.2M273.5 168.2V167.8H274.2V168.2M273.9 167.8V167.5H275.2V168.2M272.4 167.6V167.1H274.5V167.5M270.4 167.5V166.8H273.5V167.1M275.7 168.2V168.1H276.2V168.2M276.9 168.2V168.1H277.4V168.2M276.0 168.1V167.8H277.1V168.1M277.8 168.2V167.8H278.3V168.2M276.5 167.8V167.4H278.1V167.8M278.9 168.2V168.0H279.3V168.2M279.1 168.0V167.6H279.7V168.2M277.3 167.4V167.1H279.4V167.6M280.2 168.2V167.6H280.9V168.2M281.6 168.2V167.9H282.3V168.2M283.0 168.2V167.9H283.5V168.2M282.0 167.9V167.6H283.2V167.9M280.6 167.6V167.2H282.6V167.6M284.7 168.2V167.8H285.3V168.2M284.2 168.2V167.4H285.0V167.8M281.6 167.2V166.9H284.6V167.4M278.4 167.1V166.5H283.1V166.9M271.9 166.8V165.8H280.7V166.5M285.8 168.2V167.7H286.4V168.2M286.9 168.2V168.2H287.5V168.2M287.2 168.2V167.9H288.0V168.2M288.5 168.2V167.9H289.1V168.2M287.6 167.9V167.5H288.8V167.9M286.1 167.7V167.2H288.2V167.5M289.9 168.2V167.9H290.5V168.2M291.3 168.2V168.2H291.8V168.2M290.8 168.2V167.9H291.6V168.2M290.2 167.9V167.5H291.2V167.9M292.5 168.2V167.6H293.2V168.2M290.7 167.5V167.2H292.8V167.6M287.2 167.2V166.8H291.7V167.2M293.9 168.2V168.4H294.4V168.2M293.6 168.2V168.1H294.2V168.4M293.9 168.1V167.7H295.0V168.2M296.2 168.2V168.4H296.8V168.2M295.6 168.2V168.1H296.5V168.4M296.1 168.1V167.7H297.6V168.2M294.5 167.7V167.4H296.8V167.7M298.7 168.2V168.0H299.3V168.2M298.2 168.2V167.6H299.0V168.0M295.6 167.4V167.0H298.6V167.6M299.7 168.2V167.8H300.3V168.2M301.1 168.2V167.8H301.7V168.2M300.0 167.8V167.4H301.4V167.8M302.1 168.2V167.8H302.6V168.2M304.8 168.2V168.5H305.2V168.2M304.1 168.2V168.1H305.0V168.5M303.4 168.2V167.8H304.6V168.1M302.4 167.8V167.4H304.0V167.8M300.7 167.4V167.1H303.2V167.4M297.1 167.0V166.5H301.9V167.1M305.8 168.2V167.7H306.4V168.2M307.1 168.2V167.7H307.8V168.2M306.1 167.7V167.3H307.4V167.7M308.5 168.2V167.9H309.0V168.2M309.3 168.2V167.9H309.8V168.2M308.7 167.9V167.5H309.6V167.9M310.4 168.2V167.8H311.0V168.2M311.4 168.2V168.2H312.0V168.2M311.7 168.2V167.8H312.5V168.2M310.7 167.8V167.5H312.1V167.8M313.0 168.2V168.0H313.5V168.2M313.2 168.0V167.6H313.8V168.2M311.4 167.5V167.1H313.5V167.6M309.1 167.5V166.8H312.5V167.1M306.8 167.3V166.4H310.8V166.8M299.5 166.5V165.2H308.8V166.4M289.4 166.8V164.8H304.2V165.2M276.3 165.8V164.3H296.8V164.8M259.9 165.4V162.9H286.6V164.3M109.6 164.7V157.9H153.0V160.7M228.8 162.0V156.6H273.2V162.9M131.3 157.9V151.6H251.0V156.6" fill="none" stroke="#505050" stroke-width="0.42"/>
<rect x="104.50" y="168.30" width="1.46" height="10.10" fill="#000000"/>
<rect x="105.86" y="168.30" width="1.07" height="10.10" fill="#000000"/>
<rect x="106.82" y="168.30" width="0.91" height="10.10" fill="#000000"/>
<rect x="107.63" y="168.30" width="1.98" height="10.10" fill="#7f7f7f"/>
<rect x="109.51" y="168.30" width="1.77" height="10.10" fill="#cfcfcf"/>
<rect x="111.18" y="168.30" width="2.04" height="10.10" fill="#000000"/>
<rect x="113.12" y="168.30" width="1.10" height="10.10" fill="#7f7f7f"/>
<rect x="114.13" y="168.30" width="1.51" height="10.10" fill="#000000"/>
<rect x="115.53" y="168.30" width="0.97" height="10.10" fill="#000000"/>
<rect x="120.40" y="168.30" width="1.43" height="10.10" fill="#7f7f7f"/>
<rect x="121.73" y="168.30" width="0.89" height="10.10" fill="#7f7f7f"/>
<rect x="122.52" y="168.30" width="1.98" height="10.10" fill="#7f7f7f"/>
<rect x="124.40" y="168.30" width="1.50" height="10.10" fill="#000000"/>
<rect x="125.80" y="168.30" width="2.43" height="10.10" fill="#7f7f7f"/>
<rect x="128.14" y="168.30" width="1.35" height="10.10" fill="#000000"/>
<rect x="129.39" y="168.30" width="2.38" height="10.10" fill="#7f7f7f"/>
<rect x="131.67" y="168.30" width="0.80" height="10.10" fill="#7f7f7f"/>
<rect x="132.37" y="168.30" width="1.63" height="10.10" fill="#000000"/>
<rect x="133.91" y="168.30" width="2.10" height="10.10" fill="#7f7f7f"/>
<rect x="135.91" y="168.30" width="2.53" height="10.10" fill="#000000"/>
<rect x="138.34" y="168.30" width="1.08" height="10.10" fill="#7f7f7f"/>
<rect x="139.31" y="168.30" width="1.33" height="10.10" fill="#7f7f7f"/>
<rect x="140.54" y="168.30" width="0.95" height="10.10" fill="#7f7f7f"/>
<rect x="141.39" y="168.30" width="1.65" height="10.10" fill="#7f7f7f"/>
<rect x="142.95" y="168.30" width="1.72" height="10.10" fill="#7f7f7f"/>
<rect x="144.57" y="168.30" width="0.83" height="10.10" fill="#7f7f7f"/>
<rect x="145.30" y="168.30" width="2.15" height="10.10" fill="#7f7f7f"/>
<rect x="147.35" y="168.30" width="0.98" height="10.10" fill="#7f7f7f"/>
<rect x="148.23" y="168.30" width="2.07" height="10.10" fill="#000000"/>
<rect x="150.19" y="168.30" width="1.75" height="10.10" fill="#7f7f7f"/>
<rect x="151.85" y="168.30" width="0.98" height="10.10" fill="#7f7f7f"/>
<rect x="152.73" y="168.30" width="2.59" height="10.10" fill="#7f7f7f"/>
<rect x="155.22" y="168.30" width="0.93" height="10.10" fill="#7f7f7f"/>
<rect x="156.05" y="168.30" width="2.51" height="10.10" fill="#7f7f7f"/>
<rect x="158.46" y="168.30" width="1.86" height="10.10" fill="#000000"/>
<rect x="160.22" y="168.30" width="2.31" height="10.10" fill="#7f7f7f"/>
<rect x="162.43" y="168.30" width="1.77" height="10.10" fill="#7f7f7f"/>
<rect x="164.10" y="168.30" width="1.00" height="10.10" fill="#000000"/>
<rect x="165.00" y="168.30" width="1.21" height="10.10" fill="#000000"/>
<rect x="166.11" y="168.30" width="2.08" height="10.10" fill="#7f7f7f"/>
<rect x="168.09" y="168.30" width="0.73" height="10.10" fill="#7f7f7f"/>
<rect x="168.72" y="168.30" width="1.16" height="10.10" fill="#7f7f7f"/>
<rect x="169.78" y="168.30" width="1.00" height="10.10" fill="#7f7f7f"/>
<rect x="170.68" y="168.30" width="1.15" height="10.10" fill="#000000"/>
<rect x="171.73" y="168.30" width="1.10" height="10.10" fill="#7f7f7f"/>
<rect x="172.73" y="168.30" width="0.78" height="10.10" fill="#7f7f7f"/>
<rect x="173.41" y="168.30" width="1.48" height="10.10" fill="#7f7f7f"/>
<rect x="174.79" y="168.30" width="1.18" height="10.10" fill="#7f7f7f"/>
<rect x="175.88" y="168.30" width="1.49" height="10.10" fill="#000000"/>
<rect x="177.27" y="168.30" width="1.02" height="10.10" fill="#7f7f7f"/>
<rect x="178.19" y="168.30" width="1.26" height="10.10" fill="#7f7f7f"/>
<rect x="179.35" y="168.30" width="1.90" height="10.10" fill="#7f7f7f"/>
<rect x="181.16" y="168.30" width="1.63" height="10.10" fill="#cfcfcf"/>
<rect x="182.69" y="168.30" width="0.74" height="10.10" fill="#7f7f7f"/>
<rect x="183.33" y="168.30" width="1.83" height="10.10" fill="#000000"/>
<rect x="185.07" y="168.30" width="2.08" height="10.10" fill="#7f7f7f"/>
<rect x="187.05" y="168.30" width="0.72" height="10.10" fill="#000000"/>
<rect x="187.66" y="168.30" width="1.80" height="10.10" fill="#000000"/>
<rect x="189.37" y="168.30" width="2.05" height="10.10" fill="#7f7f7f"/>
<rect x="191.32" y="168.30" width="0.90" height="10.10" fill="#7f7f7f"/>
<rect x="192.12" y="168.30" width="0.89" height="10.10" fill="#000000"/>
<rect x="192.91" y="168.30" width="1.11" height="10.10" fill="#cfcfcf"/>
<rect x="193.92" y="168.30" width="1.33" height="10.10" fill="#7f7f7f"/>
<rect x="195.15" y="168.30" width="1.77" height="10.10" fill="#7f7f7f"/>
<rect x="196.82" y="168.30" width="1.94" height="10.10" fill="#000000"/>
<rect x="198.67" y="168.30" width="1.08" height="10.10" fill="#7f7f7f"/>
<rect x="199.65" y="168.30" width="1.55" height="10.10" fill="#7f7f7f"/>
<rect x="201.10" y="168.30" width="1.99" height="10.10" fill="#000000"/>
<rect x="202.99" y="168.30" width="0.94" height="10.10" fill="#7f7f7f"/>
<rect x="203.84" y="168.30" width="0.82" height="10.10" fill="#7f7f7f"/>
<rect x="204.55" y="168.30" width="0.55" height="10.10" fill="#000000"/>
<rect x="205.00" y="168.30" width="1.84" height="10.10" fill="#7f7f7f"/>
<rect x="206.74" y="168.30" width="2.01" height="10.10" fill="#7f7f7f"/>
<rect x="208.65" y="168.30" width="2.02" height="10.10" fill="#7f7f7f"/>
<rect x="210.56" y="168.30" width="1.33" height="10.10" fill="#7f7f7f"/>
<rect x="211.79" y="168.30" width="2.26" height="10.10" fill="#7f7f7f"/>
<rect x="213.96" y="168.30" width="2.10" height="10.10" fill="#7f7f7f"/>
<rect x="215.96" y="168.30" width="1.44" height="10.10" fill="#7f7f7f"/>
<rect x="217.30" y="168.30" width="2.24" height="10.10" fill="#7f7f7f"/>
<rect x="219.44" y="168.30" width="2.81" height="10.10" fill="#7f7f7f"/>
<rect x="222.15" y="168.30" width="2.99" height="10.10" fill="#7f7f7f"/>
<rect x="225.04" y="168.30" width="1.24" height="10.10" fill="#7f7f7f"/>
<rect x="226.18" y="168.30" width="0.94" height="10.10" fill="#7f7f7f"/>
<rect x="227.02" y="168.30" width="0.85" height="10.10" fill="#7f7f7f"/>
<rect x="227.76" y="168.30" width="2.45" height="10.10" fill="#7f7f7f"/>
<rect x="230.11" y="168.30" width="0.77" height="10.10" fill="#7f7f7f"/>
<rect x="230.78" y="168.30" width="1.80" height="10.10" fill="#7f7f7f"/>
<rect x="232.48" y="168.30" width="3.01" height="10.10" fill="#7f7f7f"/>
<rect x="235.39" y="168.30" width="1.89" height="10.10" fill="#7f7f7f"/>
<rect x="237.18" y="168.30" width="2.19" height="10.10" fill="#7f7f7f"/>
<rect x="239.27" y="168.30" width="0.81" height="10.10" fill="#7f7f7f"/>
<rect x="239.99" y="168.30" width="2.11" height="10.10" fill="#7f7f7f"/>
<rect x="242.00" y="168.30" width="0.78" height="10.10" fill="#7f7f7f"/>
<rect x="242.68" y="168.30" width="0.90" height="10.10" fill="#000000"/>
<rect x="243.48" y="168.30" width="2.01" height="10.10" fill="#7f7f7f"/>
<rect x="245.40" y="168.30" width="2.39" height="10.10" fill="#7f7f7f"/>
<rect x="247.68" y="168.30" width="0.90" height="10.10" fill="#7f7f7f"/>
<rect x="248.49" y="168.30" width="1.81" height="10.10" fill="#7f7f7f"/>
<rect x="250.20" y="168.30" width="1.06" height="10.10" fill="#7f7f7f"/>
<rect x="251.16" y="168.30" width="1.85" height="10.10" fill="#7f7f7f"/>
<rect x="252.90" y="168.30" width="2.84" height="10.10" fill="#7f7f7f"/>
<rect x="255.65" y="168.30" width="1.78" height="10.10" fill="#7f7f7f"/>
<rect x="257.33" y="168.30" width="3.02" height="10.10" fill="#7f7f7f"/>
<rect x="260.26" y="168.30" width="0.83" height="10.10" fill="#7f7f7f"/>
<rect x="260.98" y="168.30" width="2.25" height="10.10" fill="#7f7f7f"/>
<rect x="263.13" y="168.30" width="0.95" height="10.10" fill="#cfcfcf"/>
<rect x="263.98" y="168.30" width="1.59" height="10.10" fill="#7f7f7f"/>
<rect x="265.47" y="168.30" width="1.27" height="10.10" fill="#7f7f7f"/>
<rect x="266.63" y="168.30" width="1.94" height="10.10" fill="#7f7f7f"/>
<rect x="268.48" y="168.30" width="1.75" height="10.10" fill="#7f7f7f"/>
<rect x="270.13" y="168.30" width="0.75" height="10.10" fill="#7f7f7f"/>
<rect x="270.78" y="168.30" width="2.62" height="10.10" fill="#000000"/>
<rect x="273.30" y="168.30" width="1.84" height="10.10" fill="#7f7f7f"/>
<rect x="275.04" y="168.30" width="2.80" height="10.10" fill="#7f7f7f"/>
<rect x="277.74" y="168.30" width="2.33" height="10.10" fill="#7f7f7f"/>
<rect x="279.98" y="168.30" width="0.79" height="10.10" fill="#7f7f7f"/>
<rect x="280.67" y="168.30" width="1.55" height="10.10" fill="#7f7f7f"/>
<rect x="282.12" y="168.30" width="1.67" height="10.10" fill="#000000"/>
<rect x="283.69" y="168.30" width="3.02" height="10.10" fill="#7f7f7f"/>
<rect x="286.61" y="168.30" width="1.46" height="10.10" fill="#7f7f7f"/>
<rect x="287.97" y="168.30" width="2.15" height="10.10" fill="#7f7f7f"/>
<rect x="290.02" y="168.30" width="1.53" height="10.10" fill="#7f7f7f"/>
<rect x="291.46" y="168.30" width="1.66" height="10.10" fill="#7f7f7f"/>
<rect x="293.01" y="168.30" width="1.36" height="10.10" fill="#7f7f7f"/>
<rect x="294.28" y="168.30" width="2.17" height="10.10" fill="#7f7f7f"/>
<rect x="296.34" y="168.30" width="1.76" height="10.10" fill="#7f7f7f"/>
<rect x="298.00" y="168.30" width="1.67" height="10.10" fill="#7f7f7f"/>
<rect x="299.56" y="168.30" width="1.11" height="10.10" fill="#7f7f7f"/>
<rect x="300.57" y="168.30" width="1.15" height="10.10" fill="#7f7f7f"/>
<rect x="301.62" y="168.30" width="2.28" height="10.10" fill="#7f7f7f"/>
<rect x="303.81" y="168.30" width="2.20" height="10.10" fill="#7f7f7f"/>
<rect x="305.91" y="168.30" width="1.77" height="10.10" fill="#7f7f7f"/>
<rect x="307.58" y="168.30" width="2.53" height="10.10" fill="#7f7f7f"/>
<rect x="310.01" y="168.30" width="2.46" height="10.10" fill="#7f7f7f"/>
<rect x="312.37" y="168.30" width="1.73" height="10.10" fill="#7f7f7f"/>
<rect x="104.50" y="178.40" width="0.93" height="9.40" fill="#ee1c25"/>
<rect x="105.33" y="178.40" width="1.70" height="9.40" fill="#ee1c25"/>
<rect x="106.93" y="178.40" width="1.45" height="9.40" fill="#ee1c25"/>
<rect x="108.28" y="178.40" width="1.77" height="9.40" fill="#f06eaa"/>
<rect x="109.96" y="178.40" width="1.38" height="9.40" fill="#ee1c25"/>
<rect x="111.24" y="178.40" width="1.02" height="9.40" fill="#f4d7e4"/>
<rect x="112.16" y="178.40" width="0.97" height="9.40" fill="#f06eaa"/>
<rect x="113.03" y="178.40" width="2.08" height="9.40" fill="#ee1c25"/>
<rect x="115.01" y="178.40" width="1.49" height="9.40" fill="#ee1c25"/>
<rect x="120.40" y="178.40" width="2.31" height="9.40" fill="#2e3192"/>
<rect x="122.61" y="178.40" width="1.71" height="9.40" fill="#3a4fa0"/>
<rect x="124.22" y="178.40" width="1.45" height="9.40" fill="#3a4fa0"/>
<rect x="125.57" y="178.40" width="2.45" height="9.40" fill="#6dcff6"/>
<rect x="127.92" y="178.40" width="2.24" height="9.40" fill="#6dcff6"/>
<rect x="130.06" y="178.40" width="1.12" height="9.40" fill="#3a4fa0"/>
<rect x="131.08" y="178.40" width="2.03" height="9.40" fill="#f06eaa"/>
<rect x="133.01" y="178.40" width="1.74" height="9.40" fill="#6dcff6"/>
<rect x="134.65" y="178.40" width="1.57" height="9.40" fill="#6dcff6"/>
<rect x="136.12" y="178.40" width="0.97" height="9.40" fill="#2e3192"/>
<rect x="136.99" y="178.40" width="1.61" height="9.40" fill="#6dcff6"/>
<rect x="138.50" y="178.40" width="1.22" height="9.40" fill="#3a4fa0"/>
<rect x="139.62" y="178.40" width="2.14" height="9.40" fill="#3a4fa0"/>
<rect x="141.65" y="178.40" width="2.47" height="9.40" fill="#2e3192"/>
<rect x="144.03" y="178.40" width="1.77" height="9.40" fill="#6dcff6"/>
<rect x="145.69" y="178.40" width="2.17" height="9.40" fill="#3a4fa0"/>
<rect x="147.77" y="178.40" width="1.18" height="9.40" fill="#f06eaa"/>
<rect x="148.85" y="178.40" width="1.19" height="9.40" fill="#2e3192"/>
<rect x="149.94" y="178.40" width="1.56" height="9.40" fill="#6dcff6"/>
<rect x="151.40" y="178.40" width="2.60" height="9.40" fill="#6dcff6"/>
<rect x="153.89" y="178.40" width="2.09" height="9.40" fill="#8b5fa8"/>
<rect x="155.88" y="178.40" width="1.47" height="9.40" fill="#6dcff6"/>
<rect x="157.25" y="178.40" width="2.40" height="9.40" fill="#2e3192"/>
<rect x="159.55" y="178.40" width="1.80" height="9.40" fill="#6dcff6"/>
<rect x="161.25" y="178.40" width="2.54" height="9.40" fill="#3a4fa0"/>
<rect x="163.69" y="178.40" width="1.27" height="9.40" fill="#f06eaa"/>
<rect x="164.85" y="178.40" width="0.25" height="9.40" fill="#2e3192"/>
<rect x="165.00" y="178.40" width="0.82" height="9.40" fill="#f06eaa"/>
<rect x="165.72" y="178.40" width="1.40" height="9.40" fill="#6dcff6"/>
<rect x="167.03" y="178.40" width="0.85" height="9.40" fill="#f06eaa"/>
<rect x="167.78" y="178.40" width="1.86" height="9.40" fill="#f06eaa"/>
<rect x="169.53" y="178.40" width="1.98" height="9.40" fill="#6dcff6"/>
<rect x="171.41" y="178.40" width="1.39" height="9.40" fill="#ee1c25"/>
<rect x="172.71" y="178.40" width="1.53" height="9.40" fill="#f06eaa"/>
<rect x="174.14" y="178.40" width="1.62" height="9.40" fill="#f06eaa"/>
<rect x="175.66" y="178.40" width="0.88" height="9.40" fill="#6dcff6"/>
<rect x="176.43" y="178.40" width="2.39" height="9.40" fill="#f06eaa"/>
<rect x="178.72" y="178.40" width="1.95" height="9.40" fill="#f06eaa"/>
<rect x="180.57" y="178.40" width="2.46" height="9.40" fill="#2e3192"/>
<rect x="182.93" y="178.40" width="1.07" height="9.40" fill="#ee1c25"/>
<rect x="183.91" y="178.40" width="1.05" height="9.40" fill="#6dcff6"/>
<rect x="184.86" y="178.40" width="2.30" height="9.40" fill="#f06eaa"/>
<rect x="187.06" y="178.40" width="1.91" height="9.40" fill="#ee1c25"/>
<rect x="188.87" y="178.40" width="1.74" height="9.40" fill="#2e3192"/>
<rect x="190.51" y="178.40" width="2.19" height="9.40" fill="#f06eaa"/>
<rect x="192.60" y="178.40" width="1.77" height="9.40" fill="#f06eaa"/>
<rect x="194.27" y="178.40" width="2.13" height="9.40" fill="#f06eaa"/>
<rect x="196.30" y="178.40" width="1.63" height="9.40" fill="#f06eaa"/>
<rect x="197.83" y="178.40" width="0.99" height="9.40" fill="#f06eaa"/>
<rect x="198.72" y="178.40" width="1.16" height="9.40" fill="#f06eaa"/>
<rect x="199.77" y="178.40" width="1.26" height="9.40" fill="#ee1c25"/>
<rect x="200.93" y="178.40" width="1.12" height="9.40" fill="#f06eaa"/>
<rect x="201.95" y="178.40" width="2.49" height="9.40" fill="#8b5fa8"/>
<rect x="204.34" y="178.40" width="0.76" height="9.40" fill="#f06eaa"/>
<rect x="205.00" y="178.40" width="1.80" height="9.40" fill="#3a4fa0"/>
<rect x="206.70" y="178.40" width="0.96" height="9.40" fill="#39b54a"/>
<rect x="207.56" y="178.40" width="2.31" height="9.40" fill="#2e3192"/>
<rect x="209.77" y="178.40" width="1.44" height="9.40" fill="#2e3192"/>
<rect x="211.11" y="178.40" width="2.07" height="9.40" fill="#8b5fa8"/>
<rect x="213.08" y="178.40" width="2.08" height="9.40" fill="#2e3192"/>
<rect x="215.06" y="178.40" width="0.91" height="9.40" fill="#2e3192"/>
<rect x="215.86" y="178.40" width="1.71" height="9.40" fill="#2e3192"/>
<rect x="217.48" y="178.40" width="1.46" height="9.40" fill="#2e3192"/>
<rect x="218.83" y="178.40" width="2.41" height="9.40" fill="#8b5fa8"/>
<rect x="221.15" y="178.40" width="0.86" height="9.40" fill="#2e3192"/>
<rect x="221.91" y="178.40" width="1.36" height="9.40" fill="#2e3192"/>
<rect x="223.17" y="178.40" width="1.32" height="9.40" fill="#2e3192"/>
<rect x="224.39" y="178.40" width="1.76" height="9.40" fill="#2e3192"/>
<rect x="226.05" y="178.40" width="0.99" height="9.40" fill="#2e3192"/>
<rect x="226.94" y="178.40" width="2.28" height="9.40" fill="#2e3192"/>
<rect x="229.12" y="178.40" width="1.20" height="9.40" fill="#8b5fa8"/>
<rect x="230.22" y="178.40" width="1.47" height="9.40" fill="#2e3192"/>
<rect x="231.59" y="178.40" width="2.25" height="9.40" fill="#2e3192"/>
<rect x="233.74" y="178.40" width="2.11" height="9.40" fill="#6dcff6"/>
<rect x="235.76" y="178.40" width="2.24" height="9.40" fill="#2e3192"/>
<rect x="237.89" y="178.40" width="1.56" height="9.40" fill="#8b5fa8"/>
<rect x="239.36" y="178.40" width="0.94" height="9.40" fill="#3a4fa0"/>
<rect x="240.20" y="178.40" width="2.55" height="9.40" fill="#2e3192"/>
<rect x="242.65" y="178.40" width="2.56" height="9.40" fill="#6dcff6"/>
<rect x="245.11" y="178.40" width="1.24" height="9.40" fill="#2e3192"/>
<rect x="246.25" y="178.40" width="1.73" height="9.40" fill="#2e3192"/>
<rect x="247.88" y="178.40" width="0.81" height="9.40" fill="#2e3192"/>
<rect x="248.59" y="178.40" width="0.98" height="9.40" fill="#2e3192"/>
<rect x="249.48" y="178.40" width="0.62" height="9.40" fill="#2e3192"/>
<rect x="250.00" y="178.40" width="2.55" height="9.40" fill="#8b5fa8"/>
<rect x="252.45" y="178.40" width="1.99" height="9.40" fill="#f06eaa"/>
<rect x="254.34" y="178.40" width="2.40" height="9.40" fill="#f06eaa"/>
<rect x="256.64" y="178.40" width="1.31" height="9.40" fill="#2e3192"/>
<rect x="257.86" y="178.40" width="2.25" height="9.40" fill="#2e3192"/>
<rect x="260.01" y="178.40" width="2.52" height="9.40" fill="#2e3192"/>
<rect x="262.43" y="178.40" width="1.71" height="9.40" fill="#2e3192"/>
<rect x="264.04" y="178.40" width="0.91" height="9.40" fill="#2e3192"/>
<rect x="264.85" y="178.40" width="2.08" height="9.40" fill="#2e3192"/>
<rect x="266.82" y="178.40" width="0.95" height="9.40" fill="#2e3192"/>
<rect x="267.67" y="178.40" width="2.31" height="9.40" fill="#f06eaa"/>
<rect x="269.88" y="178.40" width="1.09" height="9.40" fill="#2e3192"/>
<rect x="270.88" y="178.40" width="1.90" height="9.40" fill="#2e3192"/>
<rect x="272.67" y="178.40" width="1.68" height="9.40" fill="#f06eaa"/>
<rect x="274.25" y="178.40" width="2.49" height="9.40" fill="#2e3192"/>
<rect x="276.65" y="178.40" width="0.82" height="9.40" fill="#8b5fa8"/>
<rect x="277.37" y="178.40" width="0.94" height="9.40" fill="#2e3192"/>
<rect x="278.21" y="178.40" width="2.06" height="9.40" fill="#2e3192"/>
<rect x="280.17" y="178.40" width="1.11" height="9.40" fill="#3a4fa0"/>
<rect x="281.18" y="178.40" width="1.72" height="9.40" fill="#8b5fa8"/>
<rect x="282.80" y="178.40" width="2.52" height="9.40" fill="#2e3192"/>
<rect x="285.21" y="178.40" width="1.38" height="9.40" fill="#3a4fa0"/>
<rect x="286.49" y="178.40" width="2.05" height="9.40" fill="#f06eaa"/>
<rect x="288.45" y="178.40" width="0.95" height="9.40" fill="#2e3192"/>
<rect x="289.29" y="178.40" width="2.47" height="9.40" fill="#6dcff6"/>
<rect x="291.67" y="178.40" width="2.53" height="9.40" fill="#6dcff6"/>
<rect x="294.10" y="178.40" width="1.90" height="9.40" fill="#2e3192"/>
<rect x="295.89" y="178.40" width="0.93" height="9.40" fill="#f06eaa"/>
<rect x="296.72" y="178.40" width="1.33" height="9.40" fill="#8b5fa8"/>
<rect x="297.95" y="178.40" width="0.88" height="9.40" fill="#6dcff6"/>
<rect x="298.72" y="178.40" width="1.83" height="9.40" fill="#3a4fa0"/>
<rect x="300.46" y="178.40" width="0.82" height="9.40" fill="#2e3192"/>
<rect x="301.17" y="178.40" width="2.20" height="9.40" fill="#6dcff6"/>
<rect x="303.27" y="178.40" width="1.09" height="9.40" fill="#6dcff6"/>
<rect x="304.26" y="178.40" width="1.02" height="9.40" fill="#2e3192"/>
<rect x="305.18" y="178.40" width="1.09" height="9.40" fill="#2e3192"/>
<rect x="306.16" y="178.40" width="1.27" height="9.40" fill="#6dcff6"/>
<rect x="307.33" y="178.40" width="1.69" height="9.40" fill="#2e3192"/>
<rect x="308.92" y="178.40" width="1.53" height="9.40" fill="#2e3192"/>
<rect x="310.35" y="178.40" width="1.28" height="9.40" fill="#6dcff6"/>
<rect x="311.54" y="178.40" width="1.26" height="9.40" fill="#2e3192"/>
<rect x="312.69" y="178.40" width="1.41" height="9.40" fill="#6dcff6"/>
<path fill="#140e36" d="M104.5 192.0h2.2v6.0h-2.2zM106.2 192.0h2.2v6.0h-2.2z"/>
<path fill="#03020c" d="M107.9 192.0h2.2v6.0h-2.2zM113.0 208.6h2.2v6.0h-2.2z"/>
<path fill="#280e53" d="M109.6 192.0h2.2v6.0h-2.2z"/>
<path fill="#000004" d="M111.3 192.0h2.2v6.0h-2.2z"/>
<path fill="#2e0f5d" d="M113.0 192.0h2.2v6.0h-2.2z"/>
<path fill="#0a071d" d="M114.7 192.0h2.2v6.0h-2.2z"/>
<path fill="#ea5d62" d="M104.5 197.5h2.2v6.0h-2.2zM107.9 208.6h2.2v6.0h-2.2zM104.5 214.2h2.2v6.0h-2.2zM113.0 214.2h2.2v6.0h-2.2z"/>
<path fill="#f7705c" d="M106.2 197.5h2.2v6.0h-2.2zM114.7 219.7h2.2v6.0h-2.2z"/>
<path fill="#f36a5e" d="M107.9 197.5h2.2v6.0h-2.2zM113.0 219.7h2.2v6.0h-2.2z"/>
<path fill="#ef6360" d="M109.6 197.5h2.2v6.0h-2.2zM109.6 208.6h2.2v6.0h-2.2zM107.9 219.7h2.2v6.0h-2.2z"/>
<path fill="#cb4070" d="M111.3 197.5h2.2v6.0h-2.2zM113.0 197.5h2.2v6.0h-2.2zM104.5 203.1h2.2v6.0h-2.2z"/>
<path fill="#f98062" d="M114.7 197.5h2.2v6.0h-2.2zM104.5 219.7h2.2v6.0h-2.2z"/>
<path fill="#f8785f" d="M106.2 203.1h2.2v6.0h-2.2zM111.3 214.2h2.2v6.0h-2.2z"/>
<path fill="#d1436e" d="M107.9 203.1h2.2v6.0h-2.2zM106.2 208.6h2.2v6.0h-2.2z"/>
<path fill="#de4968" d="M109.6 203.1h2.2v6.0h-2.2zM106.2 214.2h2.2v6.0h-2.2zM111.3 219.7h2.2v6.0h-2.2z"/>
<path fill="#8c2981" d="M111.3 203.1h2.2v6.0h-2.2z"/>
<path fill="#a2307d" d="M113.0 203.1h2.2v6.0h-2.2z"/>
<path fill="#6b1c80" d="M114.7 203.1h2.2v6.0h-2.2z"/>
<path fill="#c43d73" d="M104.5 208.6h2.2v6.0h-2.2z"/>
<path fill="#421173" d="M111.3 208.6h2.2v6.0h-2.2z"/>
<path fill="#b0357a" d="M114.7 208.6h2.2v6.0h-2.2z"/>
<path fill="#e65664" d="M107.9 214.2h2.2v6.0h-2.2z"/>
<path fill="#fc8f67" d="M109.6 214.2h2.2v6.0h-2.2zM106.2 225.2h2.2v6.0h-2.2z"/>
<path fill="#d8466b" d="M114.7 214.2h2.2v6.0h-2.2z"/>
<path fill="#fd976a" d="M106.2 219.7h2.2v6.0h-2.2zM109.6 225.2h2.2v6.0h-2.2zM106.2 230.8h2.2v6.0h-2.2z"/>
<path fill="#fe9f6d" d="M109.6 219.7h2.2v6.0h-2.2zM104.5 230.8h2.2v6.0h-2.2z"/>
<path fill="#feb77f" d="M104.5 225.2h2.2v6.0h-2.2zM113.0 230.8h2.2v6.0h-2.2z"/>
<path fill="#febf86" d="M107.9 225.2h2.2v6.0h-2.2z"/>
<path fill="#fec78c" d="M111.3 225.2h2.2v6.0h-2.2zM114.7 230.8h2.2v6.0h-2.2z"/>
<path fill="#fa8864" d="M113.0 225.2h2.2v6.0h-2.2z"/>
<path fill="#fea773" d="M114.7 225.2h2.2v6.0h-2.2z"/>
<path fill="#feaf79" d="M107.9 230.8h2.2v6.0h-2.2zM109.6 230.8h2.2v6.0h-2.2z"/>
<path fill="#fed799" d="M111.3 230.8h2.2v6.0h-2.2z"/>
<rect x="104.50" y="192.00" width="11.90" height="44.30" fill="none" stroke="#888" stroke-width="0.35"/>
<path fill="#03020c" d="M120.4 192.0h2.0v6.0h-2.0zM136.9 192.0h2.0v6.0h-2.0zM154.9 192.0h2.0v6.0h-2.0zM193.9 192.0h2.0v6.0h-2.0zM245.0 192.0h2.0v6.0h-2.0zM249.5 192.0h2.0v6.0h-2.0zM275.0 192.0h2.0v6.0h-2.0zM276.5 192.0h2.0v6.0h-2.0zM284.0 192.0h2.0v6.0h-2.0zM287.0 192.0h2.0v6.0h-2.0z"/>
<path fill="#0a071d" d="M121.9 192.0h2.0v6.0h-2.0zM133.9 192.0h2.0v6.0h-2.0zM138.4 192.0h2.0v6.0h-2.0zM139.9 192.0h2.0v6.0h-2.0zM148.9 192.0h2.0v6.0h-2.0zM153.4 192.0h2.0v6.0h-2.0zM163.9 192.0h2.0v6.0h-2.0zM172.9 192.0h2.0v6.0h-2.0zM175.9 192.0h2.0v6.0h-2.0zM178.9 192.0h2.0v6.0h-2.0zM187.9 192.0h2.0v6.0h-2.0zM196.9 192.0h2.0v6.0h-2.0zM201.4 192.0h2.0v6.0h-2.0zM214.9 192.0h2.0v6.0h-2.0zM222.5 192.0h2.0v6.0h-2.0zM225.5 192.0h2.0v6.0h-2.0zM234.5 192.0h2.0v6.0h-2.0zM237.5 192.0h2.0v6.0h-2.0zM242.0 192.0h2.0v6.0h-2.0zM258.5 192.0h2.0v6.0h-2.0zM267.5 192.0h2.0v6.0h-2.0zM278.0 192.0h2.0v6.0h-2.0zM296.0 192.0h2.0v6.0h-2.0zM309.5 192.0h2.0v6.0h-2.0zM218.0 197.5h2.0v6.0h-2.0zM251.0 203.1h2.0v6.0h-2.0zM130.9 208.6h2.0v6.0h-2.0zM148.9 208.6h2.0v6.0h-2.0z"/>
<path fill="#0d0925" d="M123.4 192.0h2.0v6.0h-2.0zM129.4 192.0h2.0v6.0h-2.0zM132.4 192.0h2.0v6.0h-2.0zM144.4 192.0h2.0v6.0h-2.0zM150.4 192.0h2.0v6.0h-2.0zM156.4 192.0h2.0v6.0h-2.0zM157.9 192.0h2.0v6.0h-2.0zM159.4 192.0h2.0v6.0h-2.0zM165.4 192.0h2.0v6.0h-2.0zM168.4 192.0h2.0v6.0h-2.0zM169.9 192.0h2.0v6.0h-2.0zM180.4 192.0h2.0v6.0h-2.0zM186.4 192.0h2.0v6.0h-2.0zM192.4 192.0h2.0v6.0h-2.0zM195.4 192.0h2.0v6.0h-2.0zM199.9 192.0h2.0v6.0h-2.0zM204.4 192.0h2.0v6.0h-2.0zM205.9 192.0h2.0v6.0h-2.0zM208.9 192.0h2.0v6.0h-2.0zM213.4 192.0h2.0v6.0h-2.0zM219.5 192.0h2.0v6.0h-2.0zM230.0 192.0h2.0v6.0h-2.0zM246.5 192.0h2.0v6.0h-2.0zM254.0 192.0h2.0v6.0h-2.0zM255.5 192.0h2.0v6.0h-2.0zM264.5 192.0h2.0v6.0h-2.0zM272.0 192.0h2.0v6.0h-2.0zM273.5 192.0h2.0v6.0h-2.0zM279.5 192.0h2.0v6.0h-2.0zM281.0 192.0h2.0v6.0h-2.0zM288.5 192.0h2.0v6.0h-2.0zM293.0 192.0h2.0v6.0h-2.0zM306.5 192.0h2.0v6.0h-2.0zM311.0 192.0h2.0v6.0h-2.0zM312.5 192.0h2.0v6.0h-2.0zM213.4 203.1h2.0v6.0h-2.0zM282.5 208.6h2.0v6.0h-2.0z"/>
<path fill="#140e36" d="M124.9 192.0h2.0v6.0h-2.0zM130.9 192.0h2.0v6.0h-2.0zM151.9 192.0h2.0v6.0h-2.0zM177.4 192.0h2.0v6.0h-2.0zM224.0 192.0h2.0v6.0h-2.0zM243.5 192.0h2.0v6.0h-2.0zM269.0 192.0h2.0v6.0h-2.0zM294.5 192.0h2.0v6.0h-2.0zM303.5 192.0h2.0v6.0h-2.0zM175.9 203.1h2.0v6.0h-2.0zM243.5 203.1h2.0v6.0h-2.0zM132.4 208.6h2.0v6.0h-2.0zM242.0 219.7h2.0v6.0h-2.0z"/>
<path fill="#000004" d="M126.4 192.0h2.0v6.0h-2.0zM145.9 192.0h2.0v6.0h-2.0zM184.9 192.0h2.0v6.0h-2.0zM198.4 192.0h2.0v6.0h-2.0zM218.0 192.0h2.0v6.0h-2.0zM239.0 192.0h2.0v6.0h-2.0zM251.0 192.0h2.0v6.0h-2.0zM260.0 192.0h2.0v6.0h-2.0zM266.0 192.0h2.0v6.0h-2.0zM290.0 192.0h2.0v6.0h-2.0zM201.4 203.1h2.0v6.0h-2.0zM202.9 203.1h2.0v6.0h-2.0z"/>
<path fill="#110c2e" d="M127.9 192.0h2.0v6.0h-2.0zM162.4 192.0h2.0v6.0h-2.0zM166.9 192.0h2.0v6.0h-2.0zM181.9 192.0h2.0v6.0h-2.0zM190.9 192.0h2.0v6.0h-2.0zM210.4 192.0h2.0v6.0h-2.0zM257.0 192.0h2.0v6.0h-2.0zM263.0 192.0h2.0v6.0h-2.0zM297.5 192.0h2.0v6.0h-2.0zM305.0 192.0h2.0v6.0h-2.0zM214.9 197.5h2.0v6.0h-2.0zM142.9 203.1h2.0v6.0h-2.0zM168.4 203.1h2.0v6.0h-2.0zM169.9 203.1h2.0v6.0h-2.0zM183.4 203.1h2.0v6.0h-2.0zM196.9 203.1h2.0v6.0h-2.0zM218.0 203.1h2.0v6.0h-2.0zM245.0 203.1h2.0v6.0h-2.0zM133.9 208.6h2.0v6.0h-2.0zM201.4 219.7h2.0v6.0h-2.0zM216.4 219.7h2.0v6.0h-2.0zM233.0 219.7h2.0v6.0h-2.0z"/>
<path fill="#070515" d="M135.4 192.0h2.0v6.0h-2.0zM142.9 192.0h2.0v6.0h-2.0zM147.4 192.0h2.0v6.0h-2.0zM160.9 192.0h2.0v6.0h-2.0zM174.4 192.0h2.0v6.0h-2.0zM183.4 192.0h2.0v6.0h-2.0zM189.4 192.0h2.0v6.0h-2.0zM202.9 192.0h2.0v6.0h-2.0zM207.4 192.0h2.0v6.0h-2.0zM211.9 192.0h2.0v6.0h-2.0zM221.0 192.0h2.0v6.0h-2.0zM228.5 192.0h2.0v6.0h-2.0zM231.5 192.0h2.0v6.0h-2.0zM233.0 192.0h2.0v6.0h-2.0zM236.0 192.0h2.0v6.0h-2.0zM252.5 192.0h2.0v6.0h-2.0zM261.5 192.0h2.0v6.0h-2.0zM282.5 192.0h2.0v6.0h-2.0zM285.5 192.0h2.0v6.0h-2.0zM291.5 192.0h2.0v6.0h-2.0zM299.0 192.0h2.0v6.0h-2.0zM300.5 192.0h2.0v6.0h-2.0zM302.0 192.0h2.0v6.0h-2.0z"/>
<path fill="#1a0e40" d="M141.4 192.0h2.0v6.0h-2.0zM171.4 192.0h2.0v6.0h-2.0zM216.4 192.0h2.0v6.0h-2.0zM227.0 192.0h2.0v6.0h-2.0zM240.5 192.0h2.0v6.0h-2.0zM270.5 192.0h2.0v6.0h-2.0zM142.9 197.5h2.0v6.0h-2.0zM127.9 208.6h2.0v6.0h-2.0zM129.4 208.6h2.0v6.0h-2.0zM202.9 219.7h2.0v6.0h-2.0zM245.0 219.7h2.0v6.0h-2.0z"/>
<path fill="#280e53" d="M248.0 192.0h2.0v6.0h-2.0zM308.0 192.0h2.0v6.0h-2.0zM222.5 197.5h2.0v6.0h-2.0zM236.0 203.1h2.0v6.0h-2.0zM288.5 208.6h2.0v6.0h-2.0zM222.5 219.7h2.0v6.0h-2.0z"/>
<path fill="#5d187d" d="M120.4 197.5h2.0v6.0h-2.0zM153.4 197.5h2.0v6.0h-2.0zM198.4 197.5h2.0v6.0h-2.0zM221.0 197.5h2.0v6.0h-2.0zM132.4 203.1h2.0v6.0h-2.0zM141.4 203.1h2.0v6.0h-2.0zM172.9 203.1h2.0v6.0h-2.0zM186.4 203.1h2.0v6.0h-2.0zM249.5 203.1h2.0v6.0h-2.0zM293.0 203.1h2.0v6.0h-2.0zM230.0 208.6h2.0v6.0h-2.0zM260.0 208.6h2.0v6.0h-2.0zM294.5 208.6h2.0v6.0h-2.0zM308.0 208.6h2.0v6.0h-2.0zM148.9 219.7h2.0v6.0h-2.0zM168.4 219.7h2.0v6.0h-2.0z"/>
<path fill="#a2307d" d="M121.9 197.5h2.0v6.0h-2.0zM181.9 197.5h2.0v6.0h-2.0zM272.0 197.5h2.0v6.0h-2.0zM309.5 197.5h2.0v6.0h-2.0zM311.0 197.5h2.0v6.0h-2.0zM263.0 203.1h2.0v6.0h-2.0zM287.0 203.1h2.0v6.0h-2.0zM291.5 203.1h2.0v6.0h-2.0zM294.5 203.1h2.0v6.0h-2.0zM299.0 203.1h2.0v6.0h-2.0zM169.9 219.7h2.0v6.0h-2.0zM174.4 219.7h2.0v6.0h-2.0zM181.9 219.7h2.0v6.0h-2.0zM293.0 219.7h2.0v6.0h-2.0z"/>
<path fill="#8c2981" d="M123.4 197.5h2.0v6.0h-2.0zM172.9 197.5h2.0v6.0h-2.0zM210.4 197.5h2.0v6.0h-2.0zM239.0 197.5h2.0v6.0h-2.0zM254.0 197.5h2.0v6.0h-2.0zM255.5 197.5h2.0v6.0h-2.0zM263.0 197.5h2.0v6.0h-2.0zM278.0 197.5h2.0v6.0h-2.0zM303.5 197.5h2.0v6.0h-2.0zM123.4 203.1h2.0v6.0h-2.0zM297.5 203.1h2.0v6.0h-2.0zM308.0 203.1h2.0v6.0h-2.0zM193.9 208.6h2.0v6.0h-2.0zM205.9 208.6h2.0v6.0h-2.0zM278.0 208.6h2.0v6.0h-2.0zM135.4 219.7h2.0v6.0h-2.0zM157.9 219.7h2.0v6.0h-2.0zM221.0 219.7h2.0v6.0h-2.0zM225.5 219.7h2.0v6.0h-2.0zM249.5 219.7h2.0v6.0h-2.0zM254.0 219.7h2.0v6.0h-2.0zM296.0 219.7h2.0v6.0h-2.0z"/>
<path fill="#491375" d="M124.9 197.5h2.0v6.0h-2.0zM163.9 197.5h2.0v6.0h-2.0zM202.9 197.5h2.0v6.0h-2.0zM231.5 197.5h2.0v6.0h-2.0zM249.5 197.5h2.0v6.0h-2.0zM153.4 203.1h2.0v6.0h-2.0zM160.9 203.1h2.0v6.0h-2.0zM171.4 203.1h2.0v6.0h-2.0zM198.4 203.1h2.0v6.0h-2.0zM208.9 203.1h2.0v6.0h-2.0zM135.4 208.6h2.0v6.0h-2.0zM141.4 208.6h2.0v6.0h-2.0zM233.0 208.6h2.0v6.0h-2.0zM242.0 208.6h2.0v6.0h-2.0zM272.0 208.6h2.0v6.0h-2.0zM305.0 208.6h2.0v6.0h-2.0z"/>
<path fill="#56167b" d="M126.4 197.5h2.0v6.0h-2.0zM127.9 197.5h2.0v6.0h-2.0zM154.9 197.5h2.0v6.0h-2.0zM165.4 197.5h2.0v6.0h-2.0zM166.9 197.5h2.0v6.0h-2.0zM175.9 197.5h2.0v6.0h-2.0zM195.4 197.5h2.0v6.0h-2.0zM237.5 197.5h2.0v6.0h-2.0zM246.5 197.5h2.0v6.0h-2.0zM248.0 197.5h2.0v6.0h-2.0zM288.5 197.5h2.0v6.0h-2.0zM157.9 203.1h2.0v6.0h-2.0zM123.4 208.6h2.0v6.0h-2.0zM245.0 208.6h2.0v6.0h-2.0zM252.5 208.6h2.0v6.0h-2.0zM264.5 208.6h2.0v6.0h-2.0zM269.0 208.6h2.0v6.0h-2.0zM273.5 208.6h2.0v6.0h-2.0zM302.0 208.6h2.0v6.0h-2.0zM311.0 208.6h2.0v6.0h-2.0zM163.9 219.7h2.0v6.0h-2.0zM205.9 219.7h2.0v6.0h-2.0z"/>
<path fill="#7f2481" d="M129.4 197.5h2.0v6.0h-2.0zM147.4 197.5h2.0v6.0h-2.0zM178.9 197.5h2.0v6.0h-2.0zM193.9 197.5h2.0v6.0h-2.0zM219.5 197.5h2.0v6.0h-2.0zM251.0 197.5h2.0v6.0h-2.0zM269.0 197.5h2.0v6.0h-2.0zM273.5 197.5h2.0v6.0h-2.0zM279.5 197.5h2.0v6.0h-2.0zM290.0 197.5h2.0v6.0h-2.0zM294.5 197.5h2.0v6.0h-2.0zM127.9 203.1h2.0v6.0h-2.0zM145.9 203.1h2.0v6.0h-2.0zM150.4 203.1h2.0v6.0h-2.0zM305.0 203.1h2.0v6.0h-2.0zM210.4 208.6h2.0v6.0h-2.0zM211.9 208.6h2.0v6.0h-2.0zM234.5 208.6h2.0v6.0h-2.0zM270.5 208.6h2.0v6.0h-2.0zM281.0 208.6h2.0v6.0h-2.0zM239.0 219.7h2.0v6.0h-2.0zM248.0 219.7h2.0v6.0h-2.0z"/>
<path fill="#3b0f70" d="M130.9 197.5h2.0v6.0h-2.0zM151.9 203.1h2.0v6.0h-2.0zM180.4 203.1h2.0v6.0h-2.0zM181.9 203.1h2.0v6.0h-2.0zM190.9 203.1h2.0v6.0h-2.0zM237.5 203.1h2.0v6.0h-2.0zM121.9 208.6h2.0v6.0h-2.0zM157.9 208.6h2.0v6.0h-2.0zM254.0 208.6h2.0v6.0h-2.0zM255.5 208.6h2.0v6.0h-2.0zM275.0 208.6h2.0v6.0h-2.0zM207.4 219.7h2.0v6.0h-2.0zM214.9 219.7h2.0v6.0h-2.0zM219.5 219.7h2.0v6.0h-2.0zM251.0 219.7h2.0v6.0h-2.0z"/>
<path fill="#210e49" d="M132.4 197.5h2.0v6.0h-2.0zM196.9 197.5h2.0v6.0h-2.0zM236.0 197.5h2.0v6.0h-2.0zM204.4 203.1h2.0v6.0h-2.0zM225.5 203.1h2.0v6.0h-2.0zM144.4 208.6h2.0v6.0h-2.0zM147.4 208.6h2.0v6.0h-2.0z"/>
<path fill="#2e0f5d" d="M133.9 197.5h2.0v6.0h-2.0zM159.4 197.5h2.0v6.0h-2.0zM192.4 197.5h2.0v6.0h-2.0zM205.9 197.5h2.0v6.0h-2.0zM230.0 197.5h2.0v6.0h-2.0zM240.5 197.5h2.0v6.0h-2.0zM245.0 197.5h2.0v6.0h-2.0zM159.4 203.1h2.0v6.0h-2.0zM163.9 203.1h2.0v6.0h-2.0zM166.9 203.1h2.0v6.0h-2.0zM178.9 203.1h2.0v6.0h-2.0zM207.4 203.1h2.0v6.0h-2.0zM210.4 203.1h2.0v6.0h-2.0zM216.4 203.1h2.0v6.0h-2.0zM233.0 203.1h2.0v6.0h-2.0zM120.4 208.6h2.0v6.0h-2.0zM153.4 208.6h2.0v6.0h-2.0zM154.9 208.6h2.0v6.0h-2.0zM211.9 219.7h2.0v6.0h-2.0zM213.4 219.7h2.0v6.0h-2.0zM224.0 219.7h2.0v6.0h-2.0z"/>
<path fill="#641a80" d="M135.4 197.5h2.0v6.0h-2.0zM150.4 197.5h2.0v6.0h-2.0zM156.4 197.5h2.0v6.0h-2.0zM189.4 197.5h2.0v6.0h-2.0zM190.9 197.5h2.0v6.0h-2.0zM204.4 197.5h2.0v6.0h-2.0zM228.5 197.5h2.0v6.0h-2.0zM275.0 197.5h2.0v6.0h-2.0zM282.5 197.5h2.0v6.0h-2.0zM305.0 197.5h2.0v6.0h-2.0zM136.9 203.1h2.0v6.0h-2.0zM214.9 203.1h2.0v6.0h-2.0zM240.5 203.1h2.0v6.0h-2.0zM312.5 203.1h2.0v6.0h-2.0zM156.4 208.6h2.0v6.0h-2.0zM231.5 208.6h2.0v6.0h-2.0zM267.5 208.6h2.0v6.0h-2.0zM276.5 208.6h2.0v6.0h-2.0zM284.0 208.6h2.0v6.0h-2.0zM297.5 208.6h2.0v6.0h-2.0zM141.4 219.7h2.0v6.0h-2.0zM156.4 219.7h2.0v6.0h-2.0zM208.9 219.7h2.0v6.0h-2.0zM230.0 219.7h2.0v6.0h-2.0z"/>
<path fill="#711f80" d="M136.9 197.5h2.0v6.0h-2.0zM144.4 197.5h2.0v6.0h-2.0zM151.9 197.5h2.0v6.0h-2.0zM171.4 197.5h2.0v6.0h-2.0zM187.9 197.5h2.0v6.0h-2.0zM208.9 197.5h2.0v6.0h-2.0zM276.5 197.5h2.0v6.0h-2.0zM299.0 197.5h2.0v6.0h-2.0zM144.4 203.1h2.0v6.0h-2.0zM287.0 208.6h2.0v6.0h-2.0zM299.0 208.6h2.0v6.0h-2.0zM142.9 219.7h2.0v6.0h-2.0zM210.4 219.7h2.0v6.0h-2.0zM234.5 219.7h2.0v6.0h-2.0zM306.5 219.7h2.0v6.0h-2.0z"/>
<path fill="#782180" d="M138.4 197.5h2.0v6.0h-2.0zM148.9 197.5h2.0v6.0h-2.0zM162.4 197.5h2.0v6.0h-2.0zM216.4 197.5h2.0v6.0h-2.0zM260.0 197.5h2.0v6.0h-2.0zM297.5 197.5h2.0v6.0h-2.0zM300.5 197.5h2.0v6.0h-2.0zM130.9 203.1h2.0v6.0h-2.0zM135.4 203.1h2.0v6.0h-2.0zM174.4 203.1h2.0v6.0h-2.0zM195.4 203.1h2.0v6.0h-2.0zM205.9 203.1h2.0v6.0h-2.0zM257.0 208.6h2.0v6.0h-2.0zM258.5 208.6h2.0v6.0h-2.0zM279.5 208.6h2.0v6.0h-2.0zM285.5 208.6h2.0v6.0h-2.0zM171.4 219.7h2.0v6.0h-2.0zM246.5 219.7h2.0v6.0h-2.0zM303.5 219.7h2.0v6.0h-2.0zM305.0 219.7h2.0v6.0h-2.0zM308.0 219.7h2.0v6.0h-2.0z"/>
<path fill="#501478" d="M139.9 197.5h2.0v6.0h-2.0zM157.9 197.5h2.0v6.0h-2.0zM242.0 197.5h2.0v6.0h-2.0zM293.0 197.5h2.0v6.0h-2.0zM138.4 203.1h2.0v6.0h-2.0zM139.9 203.1h2.0v6.0h-2.0zM147.4 203.1h2.0v6.0h-2.0zM162.4 203.1h2.0v6.0h-2.0zM177.4 203.1h2.0v6.0h-2.0zM211.9 203.1h2.0v6.0h-2.0zM224.0 203.1h2.0v6.0h-2.0zM227.0 203.1h2.0v6.0h-2.0zM230.0 203.1h2.0v6.0h-2.0zM239.0 203.1h2.0v6.0h-2.0zM246.5 203.1h2.0v6.0h-2.0zM126.4 208.6h2.0v6.0h-2.0zM138.4 208.6h2.0v6.0h-2.0zM150.4 208.6h2.0v6.0h-2.0zM240.5 208.6h2.0v6.0h-2.0zM263.0 208.6h2.0v6.0h-2.0zM266.0 208.6h2.0v6.0h-2.0zM293.0 208.6h2.0v6.0h-2.0zM303.5 208.6h2.0v6.0h-2.0zM162.4 219.7h2.0v6.0h-2.0zM218.0 219.7h2.0v6.0h-2.0zM227.0 219.7h2.0v6.0h-2.0zM228.5 219.7h2.0v6.0h-2.0z"/>
<path fill="#340f66" d="M141.4 197.5h2.0v6.0h-2.0zM207.4 197.5h2.0v6.0h-2.0zM233.0 197.5h2.0v6.0h-2.0zM243.5 197.5h2.0v6.0h-2.0zM192.4 203.1h2.0v6.0h-2.0zM193.9 203.1h2.0v6.0h-2.0zM199.9 203.1h2.0v6.0h-2.0zM228.5 203.1h2.0v6.0h-2.0zM242.0 203.1h2.0v6.0h-2.0zM248.0 203.1h2.0v6.0h-2.0zM139.9 208.6h2.0v6.0h-2.0zM243.5 219.7h2.0v6.0h-2.0z"/>
<path fill="#852681" d="M145.9 197.5h2.0v6.0h-2.0zM169.9 197.5h2.0v6.0h-2.0zM184.9 197.5h2.0v6.0h-2.0zM211.9 197.5h2.0v6.0h-2.0zM234.5 197.5h2.0v6.0h-2.0zM257.0 197.5h2.0v6.0h-2.0zM266.0 197.5h2.0v6.0h-2.0zM287.0 197.5h2.0v6.0h-2.0zM126.4 203.1h2.0v6.0h-2.0zM148.9 203.1h2.0v6.0h-2.0zM154.9 203.1h2.0v6.0h-2.0zM269.0 203.1h2.0v6.0h-2.0zM290.0 203.1h2.0v6.0h-2.0zM162.4 208.6h2.0v6.0h-2.0zM221.0 208.6h2.0v6.0h-2.0zM224.0 208.6h2.0v6.0h-2.0zM246.5 208.6h2.0v6.0h-2.0zM248.0 208.6h2.0v6.0h-2.0zM296.0 208.6h2.0v6.0h-2.0zM309.5 208.6h2.0v6.0h-2.0zM168.4 214.2h2.0v6.0h-2.0zM187.9 219.7h2.0v6.0h-2.0zM192.4 219.7h2.0v6.0h-2.0zM204.4 219.7h2.0v6.0h-2.0zM237.5 219.7h2.0v6.0h-2.0zM297.5 219.7h2.0v6.0h-2.0z"/>
<path fill="#6b1c80" d="M160.9 197.5h2.0v6.0h-2.0zM168.4 197.5h2.0v6.0h-2.0zM199.9 197.5h2.0v6.0h-2.0zM213.4 197.5h2.0v6.0h-2.0zM225.5 197.5h2.0v6.0h-2.0zM165.4 203.1h2.0v6.0h-2.0zM184.9 203.1h2.0v6.0h-2.0zM187.9 203.1h2.0v6.0h-2.0zM222.5 203.1h2.0v6.0h-2.0zM234.5 203.1h2.0v6.0h-2.0zM228.5 208.6h2.0v6.0h-2.0zM251.0 208.6h2.0v6.0h-2.0zM261.5 208.6h2.0v6.0h-2.0zM290.0 208.6h2.0v6.0h-2.0zM300.5 208.6h2.0v6.0h-2.0zM193.9 219.7h2.0v6.0h-2.0zM294.5 219.7h2.0v6.0h-2.0z"/>
<path fill="#932b80" d="M174.4 197.5h2.0v6.0h-2.0zM224.0 197.5h2.0v6.0h-2.0zM306.5 197.5h2.0v6.0h-2.0zM129.4 203.1h2.0v6.0h-2.0zM189.4 203.1h2.0v6.0h-2.0zM254.0 203.1h2.0v6.0h-2.0zM258.5 203.1h2.0v6.0h-2.0zM272.0 203.1h2.0v6.0h-2.0zM302.0 203.1h2.0v6.0h-2.0zM309.5 203.1h2.0v6.0h-2.0zM311.0 203.1h2.0v6.0h-2.0zM160.9 208.6h2.0v6.0h-2.0zM178.9 208.6h2.0v6.0h-2.0zM202.9 208.6h2.0v6.0h-2.0zM216.4 208.6h2.0v6.0h-2.0zM219.5 208.6h2.0v6.0h-2.0zM227.0 208.6h2.0v6.0h-2.0zM236.0 208.6h2.0v6.0h-2.0zM243.5 208.6h2.0v6.0h-2.0zM312.5 208.6h2.0v6.0h-2.0zM139.9 219.7h2.0v6.0h-2.0zM150.4 219.7h2.0v6.0h-2.0zM199.9 219.7h2.0v6.0h-2.0zM291.5 219.7h2.0v6.0h-2.0zM302.0 219.7h2.0v6.0h-2.0zM311.0 219.7h2.0v6.0h-2.0z"/>
<path fill="#9a2e7e" d="M177.4 197.5h2.0v6.0h-2.0zM267.5 203.1h2.0v6.0h-2.0zM303.5 203.1h2.0v6.0h-2.0zM159.4 208.6h2.0v6.0h-2.0zM168.4 208.6h2.0v6.0h-2.0zM198.4 208.6h2.0v6.0h-2.0zM214.9 208.6h2.0v6.0h-2.0zM222.5 208.6h2.0v6.0h-2.0zM306.5 208.6h2.0v6.0h-2.0zM145.9 219.7h2.0v6.0h-2.0zM166.9 219.7h2.0v6.0h-2.0zM180.4 219.7h2.0v6.0h-2.0zM190.9 219.7h2.0v6.0h-2.0zM300.5 219.7h2.0v6.0h-2.0z"/>
<path fill="#c43d73" d="M180.4 197.5h2.0v6.0h-2.0zM267.5 197.5h2.0v6.0h-2.0zM284.0 197.5h2.0v6.0h-2.0zM282.5 203.1h2.0v6.0h-2.0zM199.9 208.6h2.0v6.0h-2.0zM163.9 214.2h2.0v6.0h-2.0zM195.4 214.2h2.0v6.0h-2.0zM218.0 214.2h2.0v6.0h-2.0zM240.5 214.2h2.0v6.0h-2.0zM273.5 214.2h2.0v6.0h-2.0zM275.0 214.2h2.0v6.0h-2.0zM294.5 214.2h2.0v6.0h-2.0zM144.4 219.7h2.0v6.0h-2.0zM186.4 219.7h2.0v6.0h-2.0zM252.5 219.7h2.0v6.0h-2.0z"/>
<path fill="#b0357a" d="M183.4 197.5h2.0v6.0h-2.0zM281.0 197.5h2.0v6.0h-2.0zM302.0 197.5h2.0v6.0h-2.0zM275.0 203.1h2.0v6.0h-2.0zM281.0 203.1h2.0v6.0h-2.0zM172.9 208.6h2.0v6.0h-2.0zM192.4 214.2h2.0v6.0h-2.0zM299.0 214.2h2.0v6.0h-2.0zM165.4 219.7h2.0v6.0h-2.0zM290.0 219.7h2.0v6.0h-2.0z"/>
<path fill="#a9327c" d="M186.4 197.5h2.0v6.0h-2.0zM252.5 197.5h2.0v6.0h-2.0zM261.5 197.5h2.0v6.0h-2.0zM291.5 197.5h2.0v6.0h-2.0zM296.0 197.5h2.0v6.0h-2.0zM308.0 197.5h2.0v6.0h-2.0zM260.0 203.1h2.0v6.0h-2.0zM273.5 203.1h2.0v6.0h-2.0zM300.5 203.1h2.0v6.0h-2.0zM163.9 208.6h2.0v6.0h-2.0zM166.9 208.6h2.0v6.0h-2.0zM171.4 208.6h2.0v6.0h-2.0zM239.0 208.6h2.0v6.0h-2.0zM291.5 208.6h2.0v6.0h-2.0zM175.9 219.7h2.0v6.0h-2.0zM287.0 219.7h2.0v6.0h-2.0z"/>
<path fill="#421173" d="M201.4 197.5h2.0v6.0h-2.0zM227.0 197.5h2.0v6.0h-2.0zM133.9 203.1h2.0v6.0h-2.0zM156.4 203.1h2.0v6.0h-2.0zM219.5 203.1h2.0v6.0h-2.0zM221.0 203.1h2.0v6.0h-2.0zM231.5 203.1h2.0v6.0h-2.0zM124.9 208.6h2.0v6.0h-2.0zM136.9 208.6h2.0v6.0h-2.0zM142.9 208.6h2.0v6.0h-2.0zM145.9 208.6h2.0v6.0h-2.0zM151.9 208.6h2.0v6.0h-2.0zM213.4 208.6h2.0v6.0h-2.0zM225.5 208.6h2.0v6.0h-2.0zM237.5 208.6h2.0v6.0h-2.0zM249.5 208.6h2.0v6.0h-2.0zM153.4 219.7h2.0v6.0h-2.0zM231.5 219.7h2.0v6.0h-2.0zM236.0 219.7h2.0v6.0h-2.0z"/>
<path fill="#b73779" d="M258.5 197.5h2.0v6.0h-2.0zM264.5 197.5h2.0v6.0h-2.0zM312.5 197.5h2.0v6.0h-2.0zM120.4 203.1h2.0v6.0h-2.0zM255.5 203.1h2.0v6.0h-2.0zM288.5 203.1h2.0v6.0h-2.0zM306.5 203.1h2.0v6.0h-2.0zM169.9 208.6h2.0v6.0h-2.0zM186.4 208.6h2.0v6.0h-2.0zM189.4 208.6h2.0v6.0h-2.0zM201.4 208.6h2.0v6.0h-2.0zM218.0 208.6h2.0v6.0h-2.0zM198.4 214.2h2.0v6.0h-2.0zM202.9 214.2h2.0v6.0h-2.0zM213.4 214.2h2.0v6.0h-2.0zM302.0 214.2h2.0v6.0h-2.0zM151.9 219.7h2.0v6.0h-2.0zM159.4 219.7h2.0v6.0h-2.0zM172.9 219.7h2.0v6.0h-2.0zM240.5 219.7h2.0v6.0h-2.0zM264.5 219.7h2.0v6.0h-2.0zM272.0 219.7h2.0v6.0h-2.0z"/>
<path fill="#be3a76" d="M270.5 197.5h2.0v6.0h-2.0zM284.0 203.1h2.0v6.0h-2.0zM184.9 208.6h2.0v6.0h-2.0zM157.9 214.2h2.0v6.0h-2.0zM243.5 214.2h2.0v6.0h-2.0zM130.9 219.7h2.0v6.0h-2.0zM133.9 219.7h2.0v6.0h-2.0zM138.4 219.7h2.0v6.0h-2.0zM183.4 219.7h2.0v6.0h-2.0zM184.9 219.7h2.0v6.0h-2.0zM196.9 219.7h2.0v6.0h-2.0zM266.0 219.7h2.0v6.0h-2.0z"/>
<path fill="#d8466b" d="M285.5 197.5h2.0v6.0h-2.0zM175.9 208.6h2.0v6.0h-2.0zM127.9 214.2h2.0v6.0h-2.0zM135.4 214.2h2.0v6.0h-2.0zM151.9 214.2h2.0v6.0h-2.0zM153.4 214.2h2.0v6.0h-2.0zM154.9 214.2h2.0v6.0h-2.0zM181.9 214.2h2.0v6.0h-2.0zM196.9 214.2h2.0v6.0h-2.0zM230.0 214.2h2.0v6.0h-2.0zM263.0 214.2h2.0v6.0h-2.0zM264.5 214.2h2.0v6.0h-2.0zM266.0 214.2h2.0v6.0h-2.0zM269.0 214.2h2.0v6.0h-2.0zM282.5 214.2h2.0v6.0h-2.0zM288.5 214.2h2.0v6.0h-2.0zM293.0 214.2h2.0v6.0h-2.0zM120.4 219.7h2.0v6.0h-2.0zM132.4 219.7h2.0v6.0h-2.0zM160.9 219.7h2.0v6.0h-2.0zM178.9 219.7h2.0v6.0h-2.0zM195.4 219.7h2.0v6.0h-2.0zM198.4 219.7h2.0v6.0h-2.0zM309.5 219.7h2.0v6.0h-2.0z"/>
<path fill="#cb4070" d="M121.9 203.1h2.0v6.0h-2.0zM207.4 208.6h2.0v6.0h-2.0zM142.9 214.2h2.0v6.0h-2.0zM204.4 214.2h2.0v6.0h-2.0zM219.5 214.2h2.0v6.0h-2.0zM287.0 214.2h2.0v6.0h-2.0zM127.9 219.7h2.0v6.0h-2.0zM147.4 219.7h2.0v6.0h-2.0zM154.9 219.7h2.0v6.0h-2.0zM299.0 219.7h2.0v6.0h-2.0z"/>
<path fill="#d1436e" d="M124.9 203.1h2.0v6.0h-2.0zM261.5 203.1h2.0v6.0h-2.0zM276.5 203.1h2.0v6.0h-2.0zM278.0 203.1h2.0v6.0h-2.0zM279.5 203.1h2.0v6.0h-2.0zM285.5 203.1h2.0v6.0h-2.0zM296.0 203.1h2.0v6.0h-2.0zM183.4 208.6h2.0v6.0h-2.0zM190.9 208.6h2.0v6.0h-2.0zM204.4 208.6h2.0v6.0h-2.0zM120.4 214.2h2.0v6.0h-2.0zM123.4 214.2h2.0v6.0h-2.0zM150.4 214.2h2.0v6.0h-2.0zM166.9 214.2h2.0v6.0h-2.0zM237.5 214.2h2.0v6.0h-2.0zM248.0 214.2h2.0v6.0h-2.0zM254.0 214.2h2.0v6.0h-2.0zM260.0 214.2h2.0v6.0h-2.0zM297.5 214.2h2.0v6.0h-2.0zM126.4 219.7h2.0v6.0h-2.0zM189.4 219.7h2.0v6.0h-2.0zM258.5 219.7h2.0v6.0h-2.0zM273.5 219.7h2.0v6.0h-2.0z"/>
<path fill="#e25066" d="M252.5 203.1h2.0v6.0h-2.0zM192.4 208.6h2.0v6.0h-2.0zM141.4 214.2h2.0v6.0h-2.0zM144.4 214.2h2.0v6.0h-2.0zM169.9 214.2h2.0v6.0h-2.0zM187.9 214.2h2.0v6.0h-2.0zM193.9 214.2h2.0v6.0h-2.0zM252.5 214.2h2.0v6.0h-2.0zM278.0 214.2h2.0v6.0h-2.0zM260.0 219.7h2.0v6.0h-2.0zM279.5 219.7h2.0v6.0h-2.0zM282.5 219.7h2.0v6.0h-2.0z"/>
<path fill="#e65664" d="M257.0 203.1h2.0v6.0h-2.0zM266.0 203.1h2.0v6.0h-2.0zM126.4 214.2h2.0v6.0h-2.0zM147.4 214.2h2.0v6.0h-2.0zM148.9 214.2h2.0v6.0h-2.0zM171.4 214.2h2.0v6.0h-2.0zM174.4 214.2h2.0v6.0h-2.0zM180.4 214.2h2.0v6.0h-2.0zM201.4 214.2h2.0v6.0h-2.0zM207.4 214.2h2.0v6.0h-2.0zM211.9 214.2h2.0v6.0h-2.0zM224.0 214.2h2.0v6.0h-2.0zM246.5 214.2h2.0v6.0h-2.0zM255.5 214.2h2.0v6.0h-2.0zM257.0 214.2h2.0v6.0h-2.0zM276.5 214.2h2.0v6.0h-2.0zM276.5 219.7h2.0v6.0h-2.0zM284.0 219.7h2.0v6.0h-2.0z"/>
<path fill="#f36a5e" d="M264.5 203.1h2.0v6.0h-2.0zM174.4 208.6h2.0v6.0h-2.0zM195.4 208.6h2.0v6.0h-2.0zM121.9 214.2h2.0v6.0h-2.0zM130.9 214.2h2.0v6.0h-2.0zM159.4 214.2h2.0v6.0h-2.0zM160.9 214.2h2.0v6.0h-2.0zM177.4 214.2h2.0v6.0h-2.0zM208.9 214.2h2.0v6.0h-2.0zM245.0 214.2h2.0v6.0h-2.0zM296.0 214.2h2.0v6.0h-2.0zM311.0 214.2h2.0v6.0h-2.0zM129.4 219.7h2.0v6.0h-2.0zM263.0 219.7h2.0v6.0h-2.0zM281.0 219.7h2.0v6.0h-2.0z"/>
<path fill="#ea5d62" d="M270.5 203.1h2.0v6.0h-2.0zM165.4 208.6h2.0v6.0h-2.0zM177.4 208.6h2.0v6.0h-2.0zM156.4 214.2h2.0v6.0h-2.0zM162.4 214.2h2.0v6.0h-2.0zM172.9 214.2h2.0v6.0h-2.0zM178.9 214.2h2.0v6.0h-2.0zM199.9 214.2h2.0v6.0h-2.0zM225.5 214.2h2.0v6.0h-2.0zM231.5 214.2h2.0v6.0h-2.0zM236.0 214.2h2.0v6.0h-2.0zM258.5 214.2h2.0v6.0h-2.0zM285.5 214.2h2.0v6.0h-2.0zM290.0 214.2h2.0v6.0h-2.0zM124.9 219.7h2.0v6.0h-2.0zM136.9 219.7h2.0v6.0h-2.0z"/>
<path fill="#f8785f" d="M180.4 208.6h2.0v6.0h-2.0zM145.9 214.2h2.0v6.0h-2.0zM261.5 214.2h2.0v6.0h-2.0zM275.0 219.7h2.0v6.0h-2.0zM285.5 219.7h2.0v6.0h-2.0zM148.9 230.8h2.0v6.0h-2.0zM230.0 230.8h2.0v6.0h-2.0z"/>
<path fill="#f7705c" d="M181.9 208.6h2.0v6.0h-2.0zM196.9 208.6h2.0v6.0h-2.0zM138.4 214.2h2.0v6.0h-2.0zM205.9 214.2h2.0v6.0h-2.0zM216.4 214.2h2.0v6.0h-2.0zM221.0 214.2h2.0v6.0h-2.0zM249.5 214.2h2.0v6.0h-2.0zM305.0 214.2h2.0v6.0h-2.0zM309.5 214.2h2.0v6.0h-2.0zM261.5 219.7h2.0v6.0h-2.0zM267.5 219.7h2.0v6.0h-2.0zM233.0 230.8h2.0v6.0h-2.0z"/>
<path fill="#de4968" d="M187.9 208.6h2.0v6.0h-2.0zM124.9 214.2h2.0v6.0h-2.0zM132.4 214.2h2.0v6.0h-2.0zM165.4 214.2h2.0v6.0h-2.0zM175.9 214.2h2.0v6.0h-2.0zM183.4 214.2h2.0v6.0h-2.0zM189.4 214.2h2.0v6.0h-2.0zM190.9 214.2h2.0v6.0h-2.0zM214.9 214.2h2.0v6.0h-2.0zM222.5 214.2h2.0v6.0h-2.0zM242.0 214.2h2.0v6.0h-2.0zM281.0 214.2h2.0v6.0h-2.0zM300.5 214.2h2.0v6.0h-2.0zM308.0 214.2h2.0v6.0h-2.0zM121.9 219.7h2.0v6.0h-2.0zM177.4 219.7h2.0v6.0h-2.0zM269.0 219.7h2.0v6.0h-2.0zM288.5 219.7h2.0v6.0h-2.0zM312.5 219.7h2.0v6.0h-2.0z"/>
<path fill="#f98062" d="M208.9 208.6h2.0v6.0h-2.0zM210.4 214.2h2.0v6.0h-2.0zM233.0 214.2h2.0v6.0h-2.0zM278.0 219.7h2.0v6.0h-2.0zM174.4 230.8h2.0v6.0h-2.0zM184.9 230.8h2.0v6.0h-2.0zM249.5 230.8h2.0v6.0h-2.0z"/>
<path fill="#ef6360" d="M129.4 214.2h2.0v6.0h-2.0zM133.9 214.2h2.0v6.0h-2.0zM139.9 214.2h2.0v6.0h-2.0zM184.9 214.2h2.0v6.0h-2.0zM228.5 214.2h2.0v6.0h-2.0zM251.0 214.2h2.0v6.0h-2.0zM272.0 214.2h2.0v6.0h-2.0zM303.5 214.2h2.0v6.0h-2.0zM257.0 219.7h2.0v6.0h-2.0z"/>
<path fill="#fa8864" d="M136.9 214.2h2.0v6.0h-2.0zM186.4 214.2h2.0v6.0h-2.0zM234.5 214.2h2.0v6.0h-2.0zM284.0 214.2h2.0v6.0h-2.0zM291.5 214.2h2.0v6.0h-2.0zM312.5 214.2h2.0v6.0h-2.0zM270.5 219.7h2.0v6.0h-2.0zM133.9 230.8h2.0v6.0h-2.0zM136.9 230.8h2.0v6.0h-2.0zM139.9 230.8h2.0v6.0h-2.0zM150.4 230.8h2.0v6.0h-2.0zM160.9 230.8h2.0v6.0h-2.0zM177.4 230.8h2.0v6.0h-2.0zM187.9 230.8h2.0v6.0h-2.0zM201.4 230.8h2.0v6.0h-2.0zM218.0 230.8h2.0v6.0h-2.0zM219.5 230.8h2.0v6.0h-2.0zM246.5 230.8h2.0v6.0h-2.0z"/>
<path fill="#fd976a" d="M227.0 214.2h2.0v6.0h-2.0zM267.5 214.2h2.0v6.0h-2.0zM306.5 214.2h2.0v6.0h-2.0zM255.5 219.7h2.0v6.0h-2.0zM159.4 230.8h2.0v6.0h-2.0zM163.9 230.8h2.0v6.0h-2.0zM178.9 230.8h2.0v6.0h-2.0zM180.4 230.8h2.0v6.0h-2.0zM181.9 230.8h2.0v6.0h-2.0zM183.4 230.8h2.0v6.0h-2.0zM195.4 230.8h2.0v6.0h-2.0zM198.4 230.8h2.0v6.0h-2.0zM204.4 230.8h2.0v6.0h-2.0zM211.9 230.8h2.0v6.0h-2.0zM222.5 230.8h2.0v6.0h-2.0zM231.5 230.8h2.0v6.0h-2.0zM236.0 230.8h2.0v6.0h-2.0zM237.5 230.8h2.0v6.0h-2.0zM239.0 230.8h2.0v6.0h-2.0zM240.5 230.8h2.0v6.0h-2.0zM242.0 230.8h2.0v6.0h-2.0zM275.0 230.8h2.0v6.0h-2.0zM285.5 230.8h2.0v6.0h-2.0zM288.5 230.8h2.0v6.0h-2.0zM305.0 230.8h2.0v6.0h-2.0zM306.5 230.8h2.0v6.0h-2.0zM312.5 230.8h2.0v6.0h-2.0z"/>
<path fill="#fec78c" d="M239.0 214.2h2.0v6.0h-2.0zM126.4 225.2h2.0v6.0h-2.0zM144.4 225.2h2.0v6.0h-2.0zM147.4 225.2h2.0v6.0h-2.0zM148.9 225.2h2.0v6.0h-2.0zM150.4 225.2h2.0v6.0h-2.0zM180.4 225.2h2.0v6.0h-2.0zM202.9 225.2h2.0v6.0h-2.0zM243.5 225.2h2.0v6.0h-2.0zM266.0 230.8h2.0v6.0h-2.0zM273.5 230.8h2.0v6.0h-2.0z"/>
<path fill="#feaf79" d="M270.5 214.2h2.0v6.0h-2.0zM127.9 230.8h2.0v6.0h-2.0zM141.4 230.8h2.0v6.0h-2.0zM142.9 230.8h2.0v6.0h-2.0zM166.9 230.8h2.0v6.0h-2.0zM168.4 230.8h2.0v6.0h-2.0zM196.9 230.8h2.0v6.0h-2.0zM202.9 230.8h2.0v6.0h-2.0zM214.9 230.8h2.0v6.0h-2.0zM267.5 230.8h2.0v6.0h-2.0zM278.0 230.8h2.0v6.0h-2.0zM287.0 230.8h2.0v6.0h-2.0zM291.5 230.8h2.0v6.0h-2.0zM294.5 230.8h2.0v6.0h-2.0zM296.0 230.8h2.0v6.0h-2.0zM308.0 230.8h2.0v6.0h-2.0z"/>
<path fill="#fe9f6d" d="M279.5 214.2h2.0v6.0h-2.0zM120.4 230.8h2.0v6.0h-2.0zM121.9 230.8h2.0v6.0h-2.0zM124.9 230.8h2.0v6.0h-2.0zM126.4 230.8h2.0v6.0h-2.0zM129.4 230.8h2.0v6.0h-2.0zM132.4 230.8h2.0v6.0h-2.0zM135.4 230.8h2.0v6.0h-2.0zM145.9 230.8h2.0v6.0h-2.0zM151.9 230.8h2.0v6.0h-2.0zM154.9 230.8h2.0v6.0h-2.0zM157.9 230.8h2.0v6.0h-2.0zM189.4 230.8h2.0v6.0h-2.0zM208.9 230.8h2.0v6.0h-2.0zM228.5 230.8h2.0v6.0h-2.0zM257.0 230.8h2.0v6.0h-2.0zM276.5 230.8h2.0v6.0h-2.0zM284.0 230.8h2.0v6.0h-2.0zM300.5 230.8h2.0v6.0h-2.0zM302.0 230.8h2.0v6.0h-2.0zM303.5 230.8h2.0v6.0h-2.0zM311.0 230.8h2.0v6.0h-2.0z"/>
<path fill="#fea773" d="M123.4 219.7h2.0v6.0h-2.0zM130.9 230.8h2.0v6.0h-2.0zM138.4 230.8h2.0v6.0h-2.0zM144.4 230.8h2.0v6.0h-2.0zM147.4 230.8h2.0v6.0h-2.0zM153.4 230.8h2.0v6.0h-2.0zM162.4 230.8h2.0v6.0h-2.0zM169.9 230.8h2.0v6.0h-2.0zM193.9 230.8h2.0v6.0h-2.0zM199.9 230.8h2.0v6.0h-2.0zM205.9 230.8h2.0v6.0h-2.0zM207.4 230.8h2.0v6.0h-2.0zM210.4 230.8h2.0v6.0h-2.0zM216.4 230.8h2.0v6.0h-2.0zM224.0 230.8h2.0v6.0h-2.0zM263.0 230.8h2.0v6.0h-2.0zM269.0 230.8h2.0v6.0h-2.0zM279.5 230.8h2.0v6.0h-2.0zM281.0 230.8h2.0v6.0h-2.0zM282.5 230.8h2.0v6.0h-2.0zM309.5 230.8h2.0v6.0h-2.0z"/>
<path fill="#fed799" d="M120.4 225.2h2.0v6.0h-2.0zM121.9 225.2h2.0v6.0h-2.0zM124.9 225.2h2.0v6.0h-2.0zM133.9 225.2h2.0v6.0h-2.0zM138.4 225.2h2.0v6.0h-2.0zM142.9 225.2h2.0v6.0h-2.0zM151.9 225.2h2.0v6.0h-2.0zM153.4 225.2h2.0v6.0h-2.0zM159.4 225.2h2.0v6.0h-2.0zM160.9 225.2h2.0v6.0h-2.0zM168.4 225.2h2.0v6.0h-2.0zM171.4 225.2h2.0v6.0h-2.0zM174.4 225.2h2.0v6.0h-2.0zM181.9 225.2h2.0v6.0h-2.0zM189.4 225.2h2.0v6.0h-2.0zM190.9 225.2h2.0v6.0h-2.0zM195.4 225.2h2.0v6.0h-2.0zM205.9 225.2h2.0v6.0h-2.0zM227.0 225.2h2.0v6.0h-2.0zM233.0 225.2h2.0v6.0h-2.0zM246.5 225.2h2.0v6.0h-2.0zM249.5 225.2h2.0v6.0h-2.0zM251.0 225.2h2.0v6.0h-2.0zM264.5 225.2h2.0v6.0h-2.0zM272.0 225.2h2.0v6.0h-2.0zM284.0 225.2h2.0v6.0h-2.0zM300.5 225.2h2.0v6.0h-2.0zM175.9 230.8h2.0v6.0h-2.0zM252.5 230.8h2.0v6.0h-2.0zM261.5 230.8h2.0v6.0h-2.0z"/>
<path fill="#fdeeb0" d="M123.4 225.2h2.0v6.0h-2.0zM127.9 225.2h2.0v6.0h-2.0zM198.4 225.2h2.0v6.0h-2.0zM199.9 225.2h2.0v6.0h-2.0zM208.9 225.2h2.0v6.0h-2.0zM224.0 225.2h2.0v6.0h-2.0zM228.5 225.2h2.0v6.0h-2.0zM234.5 225.2h2.0v6.0h-2.0zM237.5 225.2h2.0v6.0h-2.0zM245.0 225.2h2.0v6.0h-2.0zM266.0 225.2h2.0v6.0h-2.0zM302.0 225.2h2.0v6.0h-2.0z"/>
<path fill="#fde6a8" d="M129.4 225.2h2.0v6.0h-2.0zM156.4 225.2h2.0v6.0h-2.0zM165.4 225.2h2.0v6.0h-2.0zM175.9 225.2h2.0v6.0h-2.0zM178.9 225.2h2.0v6.0h-2.0zM183.4 225.2h2.0v6.0h-2.0zM184.9 225.2h2.0v6.0h-2.0zM204.4 225.2h2.0v6.0h-2.0zM211.9 225.2h2.0v6.0h-2.0zM213.4 225.2h2.0v6.0h-2.0zM239.0 225.2h2.0v6.0h-2.0zM240.5 225.2h2.0v6.0h-2.0zM261.5 225.2h2.0v6.0h-2.0zM267.5 225.2h2.0v6.0h-2.0zM273.5 225.2h2.0v6.0h-2.0zM276.5 225.2h2.0v6.0h-2.0zM278.0 225.2h2.0v6.0h-2.0zM290.0 225.2h2.0v6.0h-2.0zM291.5 225.2h2.0v6.0h-2.0zM294.5 225.2h2.0v6.0h-2.0zM297.5 225.2h2.0v6.0h-2.0zM299.0 225.2h2.0v6.0h-2.0zM309.5 225.2h2.0v6.0h-2.0zM312.5 225.2h2.0v6.0h-2.0z"/>
<path fill="#febf86" d="M130.9 225.2h2.0v6.0h-2.0zM169.9 225.2h2.0v6.0h-2.0zM210.4 225.2h2.0v6.0h-2.0zM218.0 225.2h2.0v6.0h-2.0zM225.5 225.2h2.0v6.0h-2.0zM123.4 230.8h2.0v6.0h-2.0zM243.5 230.8h2.0v6.0h-2.0zM255.5 230.8h2.0v6.0h-2.0zM290.0 230.8h2.0v6.0h-2.0zM299.0 230.8h2.0v6.0h-2.0z"/>
<path fill="#fddea1" d="M132.4 225.2h2.0v6.0h-2.0zM157.9 225.2h2.0v6.0h-2.0zM163.9 225.2h2.0v6.0h-2.0zM172.9 225.2h2.0v6.0h-2.0zM186.4 225.2h2.0v6.0h-2.0zM201.4 225.2h2.0v6.0h-2.0zM216.4 225.2h2.0v6.0h-2.0zM221.0 225.2h2.0v6.0h-2.0zM222.5 225.2h2.0v6.0h-2.0zM248.0 225.2h2.0v6.0h-2.0zM252.5 225.2h2.0v6.0h-2.0zM255.5 225.2h2.0v6.0h-2.0zM257.0 225.2h2.0v6.0h-2.0zM258.5 225.2h2.0v6.0h-2.0zM275.0 225.2h2.0v6.0h-2.0zM285.5 225.2h2.0v6.0h-2.0zM287.0 225.2h2.0v6.0h-2.0zM296.0 225.2h2.0v6.0h-2.0zM306.5 225.2h2.0v6.0h-2.0zM308.0 225.2h2.0v6.0h-2.0zM311.0 225.2h2.0v6.0h-2.0z"/>
<path fill="#fcf5b7" d="M135.4 225.2h2.0v6.0h-2.0zM162.4 225.2h2.0v6.0h-2.0zM187.9 225.2h2.0v6.0h-2.0zM193.9 225.2h2.0v6.0h-2.0zM214.9 225.2h2.0v6.0h-2.0zM230.0 225.2h2.0v6.0h-2.0zM231.5 225.2h2.0v6.0h-2.0zM236.0 225.2h2.0v6.0h-2.0zM263.0 225.2h2.0v6.0h-2.0zM293.0 225.2h2.0v6.0h-2.0zM303.5 225.2h2.0v6.0h-2.0zM305.0 225.2h2.0v6.0h-2.0z"/>
<path fill="#fecf92" d="M136.9 225.2h2.0v6.0h-2.0zM139.9 225.2h2.0v6.0h-2.0zM141.4 225.2h2.0v6.0h-2.0zM145.9 225.2h2.0v6.0h-2.0zM154.9 225.2h2.0v6.0h-2.0zM177.4 225.2h2.0v6.0h-2.0zM196.9 225.2h2.0v6.0h-2.0zM207.4 225.2h2.0v6.0h-2.0zM219.5 225.2h2.0v6.0h-2.0zM242.0 225.2h2.0v6.0h-2.0zM254.0 225.2h2.0v6.0h-2.0zM260.0 225.2h2.0v6.0h-2.0zM270.5 225.2h2.0v6.0h-2.0zM279.5 225.2h2.0v6.0h-2.0zM281.0 225.2h2.0v6.0h-2.0zM282.5 225.2h2.0v6.0h-2.0zM288.5 225.2h2.0v6.0h-2.0z"/>
<path fill="#feb77f" d="M166.9 225.2h2.0v6.0h-2.0zM192.4 225.2h2.0v6.0h-2.0zM269.0 225.2h2.0v6.0h-2.0zM165.4 230.8h2.0v6.0h-2.0zM213.4 230.8h2.0v6.0h-2.0zM227.0 230.8h2.0v6.0h-2.0zM245.0 230.8h2.0v6.0h-2.0zM248.0 230.8h2.0v6.0h-2.0zM258.5 230.8h2.0v6.0h-2.0zM260.0 230.8h2.0v6.0h-2.0zM264.5 230.8h2.0v6.0h-2.0zM270.5 230.8h2.0v6.0h-2.0zM272.0 230.8h2.0v6.0h-2.0zM297.5 230.8h2.0v6.0h-2.0z"/>
<path fill="#fc8f67" d="M156.4 230.8h2.0v6.0h-2.0zM171.4 230.8h2.0v6.0h-2.0zM172.9 230.8h2.0v6.0h-2.0zM186.4 230.8h2.0v6.0h-2.0zM190.9 230.8h2.0v6.0h-2.0zM192.4 230.8h2.0v6.0h-2.0zM221.0 230.8h2.0v6.0h-2.0zM225.5 230.8h2.0v6.0h-2.0zM234.5 230.8h2.0v6.0h-2.0zM251.0 230.8h2.0v6.0h-2.0zM254.0 230.8h2.0v6.0h-2.0zM293.0 230.8h2.0v6.0h-2.0z"/>
<rect x="120.40" y="192.00" width="193.60" height="44.30" fill="none" stroke="#888" stroke-width="0.35"/>
<text x="315.50" y="174.90" font-size="4.7" text-anchor="start" font-weight="normal" font-style="normal" fill="#333"  stroke="#333" stroke-width="0.1">IHC</text>
<text x="315.50" y="184.40" font-size="4.7" text-anchor="start" font-weight="normal" font-style="normal" fill="#333"  stroke="#333" stroke-width="0.1">PAM50</text>
<text x="315.50" y="196.47" font-size="4.8" text-anchor="start" font-weight="normal" font-style="italic" fill="#222"  stroke="#222" stroke-width="0.1">CCNA1</text>
<text x="315.50" y="202.01" font-size="4.8" text-anchor="start" font-weight="normal" font-style="italic" fill="#222"  stroke="#222" stroke-width="0.1">CCNE1</text>
<text x="315.50" y="207.54" font-size="4.8" text-anchor="start" font-weight="normal" font-style="italic" fill="#222"  stroke="#222" stroke-width="0.1">CCNB1</text>
<text x="315.50" y="213.08" font-size="4.8" text-anchor="start" font-weight="normal" font-style="italic" fill="#222"  stroke="#222" stroke-width="0.1">CDK6</text>
<text x="315.50" y="218.62" font-size="4.8" text-anchor="start" font-weight="normal" font-style="italic" fill="#222"  stroke="#222" stroke-width="0.1">CDK2</text>
<text x="315.50" y="224.16" font-size="4.8" text-anchor="start" font-weight="normal" font-style="italic" fill="#222"  stroke="#222" stroke-width="0.1">CDK1</text>
<text x="315.50" y="229.69" font-size="4.8" text-anchor="start" font-weight="normal" font-style="italic" fill="#222"  stroke="#222" stroke-width="0.1">CCND1</text>
<text x="315.50" y="235.23" font-size="4.8" text-anchor="start" font-weight="normal" font-style="italic" fill="#222"  stroke="#222" stroke-width="0.1">CDK4</text>
<text x="144.10" y="240.60" font-size="4.8" text-anchor="middle" font-weight="normal" font-style="normal" fill="#222"  stroke="#222" stroke-width="0.1">IHC</text>
<rect x="116.60" y="243.60" width="4.00" height="3.70" fill="#000" stroke="#444" stroke-width="0.3"/>
<text x="121.20" y="246.90" font-size="4.8" text-anchor="start" font-weight="normal" font-style="normal" fill="#333"  stroke="#333" stroke-width="0.1">TNBC</text>
<rect x="135.50" y="243.60" width="4.00" height="3.70" fill="#7f7f7f" stroke="#444" stroke-width="0.3"/>
<text x="140.00" y="246.90" font-size="4.8" text-anchor="start" font-weight="normal" font-style="normal" fill="#333"  stroke="#333" stroke-width="0.1">ER+</text>
<rect x="151.40" y="243.60" width="4.00" height="3.70" fill="#cfcfcf" stroke="#444" stroke-width="0.3"/>
<text x="155.90" y="246.90" font-size="4.8" text-anchor="start" font-weight="normal" font-style="normal" fill="#333"  stroke="#333" stroke-width="0.1">HER2+</text>
<text x="209.50" y="240.60" font-size="4.8" text-anchor="middle" font-weight="normal" font-style="normal" fill="#333"  stroke="#333" stroke-width="0.1">PAM50</text>
<rect x="176.50" y="243.60" width="4.00" height="3.70" fill="#ee1c25" stroke="#444" stroke-width="0.3"/>
<text x="181.10" y="246.90" font-size="4.8" text-anchor="start" font-weight="normal" font-style="normal" fill="#333"  stroke="#333" stroke-width="0.1">Basal-like</text>
<rect x="204.30" y="243.60" width="4.00" height="3.70" fill="#f06eaa" stroke="#444" stroke-width="0.3"/>
<text x="208.90" y="246.90" font-size="4.8" text-anchor="start" font-weight="normal" font-style="normal" fill="#333"  stroke="#333" stroke-width="0.1">HER2-enriched</text>
<rect x="176.50" y="249.40" width="4.00" height="3.70" fill="#2e3192" stroke="#444" stroke-width="0.3"/>
<text x="181.10" y="252.70" font-size="4.8" text-anchor="start" font-weight="normal" font-style="normal" fill="#333"  stroke="#333" stroke-width="0.1">Luminal A</text>
<rect x="204.30" y="249.40" width="4.00" height="3.70" fill="#6dcff6" stroke="#444" stroke-width="0.3"/>
<text x="208.90" y="252.70" font-size="4.8" text-anchor="start" font-weight="normal" font-style="normal" fill="#333"  stroke="#333" stroke-width="0.1">Luminal B</text>
<rect x="176.50" y="255.20" width="4.00" height="3.70" fill="#39b54a" stroke="#444" stroke-width="0.3"/>
<text x="181.10" y="258.50" font-size="4.8" text-anchor="start" font-weight="normal" font-style="normal" fill="#333"  stroke="#333" stroke-width="0.1">Normal-like</text>
<text x="246.50" y="240.40" font-size="4.8" text-anchor="start" font-weight="normal" font-style="normal" fill="#333"  stroke="#333" stroke-width="0.1">Gene expression (log2)</text>
<defs><linearGradient id="g245"><stop offset="0.0" stop-color="#000004"/><stop offset="0.1" stop-color="#140e36"/><stop offset="0.2" stop-color="#3b0f70"/><stop offset="0.3" stop-color="#641a80"/><stop offset="0.4" stop-color="#8c2981"/><stop offset="0.5" stop-color="#b73779"/><stop offset="0.6" stop-color="#de4968"/><stop offset="0.7" stop-color="#f7705c"/><stop offset="0.8" stop-color="#fe9f6d"/><stop offset="0.9" stop-color="#fecf92"/><stop offset="1.0" stop-color="#fcfdbf"/></linearGradient></defs>
<rect x="245.50" y="242.80" width="53.7" height="4.6" fill="url(#g245)" stroke="#555" stroke-width="0.3"/>
<text x="248.70" y="251.50" font-size="4.8" text-anchor="middle" font-weight="normal" font-style="normal" fill="#333"  stroke="#333" stroke-width="0.1">6</text>
<text x="260.30" y="251.50" font-size="4.8" text-anchor="middle" font-weight="normal" font-style="normal" fill="#333"  stroke="#333" stroke-width="0.1">8</text>
<text x="272.30" y="251.50" font-size="4.8" text-anchor="middle" font-weight="normal" font-style="normal" fill="#333"  stroke="#333" stroke-width="0.1">10</text>
<text x="283.10" y="251.50" font-size="4.8" text-anchor="middle" font-weight="normal" font-style="normal" fill="#333"  stroke="#333" stroke-width="0.1">12</text>
<text x="294.60" y="251.50" font-size="4.8" text-anchor="middle" font-weight="normal" font-style="normal" fill="#333"  stroke="#333" stroke-width="0.1">14</text>
<text x="6.50" y="277.00" font-size="9.7" text-anchor="start" font-weight="bold" font-style="normal" fill="#111" >(B) IHC-defined subtypes</text>
<text x="222.00" y="277.30" font-size="9.7" text-anchor="start" font-weight="bold" font-style="normal" fill="#111" >(C) PAM50 subtypes</text>
<path d="M15.50 292.80V331.50H74.00" fill="none" stroke="#777" stroke-width="0.6"/>
<text x="14.70" y="302.80" font-size="3.8" fill="#222" stroke="#222" stroke-width="0.06" text-anchor="end">10</text>
<text x="14.70" y="316.30" font-size="3.8" fill="#222" stroke="#222" stroke-width="0.06" text-anchor="end">8</text>
<text x="14.70" y="329.80" font-size="3.8" fill="#222" stroke="#222" stroke-width="0.06" text-anchor="end">6</text>
<text x="7.80" y="312.15" font-size="4.2" fill="#111" stroke="#111" stroke-width="0.06" text-anchor="middle" transform="rotate(-90 7.80 312.15)"><tspan font-style="italic">CCNE1</tspan> expression (log2)</text>
<text x="45.40" y="288.20" font-size="4.4" text-anchor="middle" font-weight="normal" font-style="normal" fill="#111"  stroke="#111" stroke-width="0.1">Guy's</text>
<path d="M21.00 295.50H63.50" stroke="#707070" stroke-width="0.65"/>
<text x="63.80" y="297.20" font-size="6.0" text-anchor="start" font-weight="normal" font-style="normal" fill="#333" >**</text>
<path d="M21.00 303.50H35.50" stroke="#707070" stroke-width="0.65"/>
<text x="35.80" y="305.00" font-size="6.0" text-anchor="start" font-weight="normal" font-style="normal" fill="#333" >***</text>
<path d="M23.70 307.00V317.20M23.70 324.30V330.00M22.20 307.00H25.20M22.20 330.00H25.20" stroke="#777" stroke-width="0.35" stroke-dasharray="0.8 0.5" fill="none"/>
<rect x="18.40" y="317.20" width="10.60" height="7.10" fill="#3c3c3c" stroke="#444" stroke-width="0.4"/>
<path d="M18.40 321.00H29.00" stroke="#222" stroke-width="0.6"/>
<path d="M26.1 320.4h.01M23.1 323.8h.01M19.9 319.3h.01M27.6 317.5h.01M22.0 314.7h.01M20.8 311.7h.01M24.8 319.7h.01M27.8 311.8h.01M26.6 327.7h.01M20.3 321.8h.01M26.2 320.0h.01M26.8 311.4h.01M23.2 312.5h.01M20.3 327.8h.01M24.7 329.3h.01M23.8 324.8h.01M24.0 321.4h.01M22.5 323.3h.01M26.5 322.6h.01M21.5 322.0h.01M25.6 327.9h.01M23.6 318.8h.01M25.3 310.4h.01M26.0 310.8h.01M19.7 309.8h.01M22.0 312.0h.01M25.9 322.0h.01M19.3 314.7h.01M23.9 318.6h.01M22.7 311.8h.01M25.6 316.2h.01M23.5 322.2h.01M20.7 322.2h.01M19.6 327.1h.01M20.0 319.0h.01M20.3 321.8h.01M22.8 323.9h.01M22.3 320.6h.01M24.4 318.6h.01M21.1 318.2h.01M24.6 323.8h.01M21.5 316.2h.01M28.2 311.4h.01M21.6 319.1h.01M28.1 323.9h.01M19.3 312.3h.01M25.0 319.3h.01M26.6 326.6h.01M23.2 322.0h.01M28.0 311.2h.01M22.4 321.6h.01M27.2 310.3h.01M25.5 322.4h.01M22.6 318.4h.01M20.6 318.7h.01M21.6 319.6h.01M20.4 321.6h.01M20.2 320.4h.01M24.4 323.3h.01M23.3 320.0h.01M20.0 326.8h.01M19.4 320.3h.01M20.0 318.0h.01M24.3 309.2h.01" fill="none" stroke="#666" stroke-width="0.75" stroke-linecap="round" opacity="0.8"/>
<path d="M37.65 324.00V325.60M37.65 328.80V330.00M36.15 324.00H39.15M36.15 330.00H39.15" stroke="#777" stroke-width="0.35" stroke-dasharray="0.8 0.5" fill="none"/>
<rect x="32.30" y="325.60" width="10.70" height="3.20" fill="#8c8c8c" stroke="#444" stroke-width="0.4"/>
<path d="M32.30 327.20H43.00" stroke="#222" stroke-width="0.6"/>
<path d="M40.0 324.8h.01M41.7 325.0h.01M41.2 326.3h.01M40.8 328.3h.01M40.2 328.5h.01M39.8 325.7h.01M33.4 326.1h.01M38.1 327.2h.01M33.6 327.6h.01M35.0 327.2h.01M40.9 328.5h.01M37.9 324.2h.01M39.4 328.6h.01M35.2 327.5h.01M35.1 324.1h.01M35.8 324.7h.01" fill="none" stroke="#666" stroke-width="0.75" stroke-linecap="round" opacity="0.8"/>
<path d="M52.25 314.00V321.00M52.25 326.00V329.00M50.75 314.00H53.75M50.75 329.00H53.75" stroke="#777" stroke-width="0.35" stroke-dasharray="0.8 0.5" fill="none"/>
<rect x="46.60" y="321.00" width="11.30" height="5.00" fill="#c4c4c4" stroke="#444" stroke-width="0.4"/>
<path d="M46.60 323.50H57.90" stroke="#222" stroke-width="0.6"/>
<path d="M54.2 325.4h.01M48.3 316.9h.01M53.4 324.8h.01M48.2 324.7h.01M50.0 322.0h.01M54.7 320.7h.01M49.0 325.5h.01M47.8 326.7h.01M47.5 325.9h.01M51.1 323.1h.01M50.0 321.9h.01M56.1 322.5h.01M47.7 317.9h.01M49.1 325.3h.01M50.8 315.4h.01M51.0 324.1h.01M51.3 321.8h.01M47.8 325.2h.01M55.1 325.9h.01M49.9 325.6h.01M54.4 322.6h.01M50.5 323.0h.01M50.7 325.1h.01M49.8 323.3h.01M49.5 321.5h.01M53.4 321.4h.01M49.5 326.5h.01M54.1 319.0h.01M54.1 321.1h.01M52.3 324.4h.01M51.0 325.2h.01M47.8 320.1h.01M52.6 328.1h.01M48.4 324.4h.01" fill="none" stroke="#888" stroke-width="0.75" stroke-linecap="round" opacity="0.8"/>
<path d="M65.85 320.00V323.60M65.85 327.60V330.00M64.35 320.00H67.35M64.35 330.00H67.35" stroke="#777" stroke-width="0.35" stroke-dasharray="0.8 0.5" fill="none"/>
<rect x="60.40" y="323.60" width="10.90" height="4.00" fill="#c4c4c4" stroke="#444" stroke-width="0.4"/>
<path d="M60.40 326.00H71.30" stroke="#222" stroke-width="0.6"/>
<path d="M70.2 326.3h.01M68.4 324.7h.01M61.6 328.7h.01M62.9 329.1h.01M67.3 325.6h.01M64.4 325.3h.01M65.9 329.9h.01M62.9 327.5h.01M68.6 328.4h.01M65.4 326.8h.01M65.1 320.0h.01M63.9 326.5h.01M67.1 325.4h.01M65.6 327.1h.01M64.8 326.2h.01M62.2 325.2h.01" fill="none" stroke="#888" stroke-width="0.75" stroke-linecap="round" opacity="0.8"/>
<text x="23.70" y="337.60" font-size="4.4" text-anchor="middle" font-weight="normal" font-style="normal" fill="#111"  stroke="#111" stroke-width="0.1">TNBC</text>
<text x="23.70" y="343.20" font-size="4.4" text-anchor="middle" font-weight="normal" font-style="normal" fill="#111"  stroke="#111" stroke-width="0.1">(131)</text>
<text x="37.70" y="337.60" font-size="4.4" text-anchor="middle" font-weight="normal" font-style="normal" fill="#111"  stroke="#111" stroke-width="0.1">ER+</text>
<text x="37.70" y="343.20" font-size="4.4" text-anchor="middle" font-weight="normal" font-style="normal" fill="#111"  stroke="#111" stroke-width="0.1">(14)</text>
<text x="52.20" y="337.60" font-size="4.4" text-anchor="middle" font-weight="normal" font-style="normal" fill="#111"  stroke="#111" stroke-width="0.1">HER2+</text>
<text x="52.20" y="343.20" font-size="4.4" text-anchor="middle" font-weight="normal" font-style="normal" fill="#111"  stroke="#111" stroke-width="0.1">(32)</text>
<text x="66.00" y="337.60" font-size="4.4" text-anchor="middle" font-weight="normal" font-style="normal" fill="#111"  stroke="#111" stroke-width="0.1">Normal</text>
<text x="66.00" y="343.20" font-size="4.4" text-anchor="middle" font-weight="normal" font-style="normal" fill="#111"  stroke="#111" stroke-width="0.1">(10)</text>
<path d="M15.50 350.90V389.50H74.00" fill="none" stroke="#777" stroke-width="0.6"/>
<text x="14.70" y="353.90" font-size="3.8" fill="#222" stroke="#222" stroke-width="0.06" text-anchor="end">10</text>
<text x="14.70" y="364.50" font-size="3.8" fill="#222" stroke="#222" stroke-width="0.06" text-anchor="end">9</text>
<text x="14.70" y="374.90" font-size="3.8" fill="#222" stroke="#222" stroke-width="0.06" text-anchor="end">8</text>
<text x="14.70" y="385.30" font-size="3.8" fill="#222" stroke="#222" stroke-width="0.06" text-anchor="end">7</text>
<text x="7.80" y="369.95" font-size="4.2" fill="#111" stroke="#111" stroke-width="0.06" text-anchor="middle" transform="rotate(-90 7.80 369.95)"><tspan font-style="italic">CDK2</tspan> expression (log2)</text>
<path d="M23.70 363.00V371.50M23.70 377.80V383.00M22.20 363.00H25.20M22.20 383.00H25.20" stroke="#777" stroke-width="0.35" stroke-dasharray="0.8 0.5" fill="none"/>
<rect x="18.40" y="371.50" width="10.60" height="6.30" fill="#3c3c3c" stroke="#444" stroke-width="0.4"/>
<path d="M18.40 374.50H29.00" stroke="#222" stroke-width="0.6"/>
<path d="M27.9 366.9h.01M25.2 372.3h.01M21.8 372.9h.01M27.9 367.2h.01M20.0 372.7h.01M23.4 370.3h.01M22.8 375.5h.01M21.9 374.2h.01M25.3 376.7h.01M22.8 380.6h.01M22.8 374.2h.01M23.4 363.1h.01M19.4 373.7h.01M24.3 363.2h.01M20.8 371.7h.01M25.4 372.4h.01M25.1 370.3h.01M27.1 374.6h.01M25.4 377.0h.01M20.0 363.1h.01M27.7 373.7h.01M20.3 379.8h.01M26.5 378.5h.01M20.8 365.8h.01M27.2 377.8h.01M20.5 377.1h.01M22.2 380.7h.01M25.4 375.0h.01M21.7 371.9h.01M27.6 364.8h.01M20.2 372.8h.01M22.1 381.0h.01M27.2 375.6h.01M26.9 375.5h.01M26.4 375.1h.01M25.1 373.2h.01M22.2 373.7h.01M25.3 368.8h.01M19.7 371.0h.01M20.5 371.9h.01M22.5 373.7h.01M25.3 375.7h.01M25.2 370.3h.01M24.1 372.3h.01M25.8 375.8h.01M23.3 374.2h.01M19.6 371.8h.01M23.1 377.8h.01M25.6 368.4h.01M23.4 378.5h.01M19.7 381.4h.01M21.7 374.3h.01M25.9 365.9h.01M25.4 364.2h.01M25.4 375.5h.01M22.3 379.0h.01M25.6 365.9h.01M21.3 373.2h.01M20.1 376.5h.01M20.6 372.7h.01M25.2 374.7h.01M19.5 372.0h.01M25.6 374.8h.01M21.2 373.2h.01" fill="none" stroke="#666" stroke-width="0.75" stroke-linecap="round" opacity="0.8"/>
<path d="M37.65 371.00V374.40M37.65 380.30V383.00M36.15 371.00H39.15M36.15 383.00H39.15" stroke="#777" stroke-width="0.35" stroke-dasharray="0.8 0.5" fill="none"/>
<rect x="32.30" y="374.40" width="10.70" height="5.90" fill="#a0a0a0" stroke="#444" stroke-width="0.4"/>
<path d="M32.30 377.50H43.00" stroke="#222" stroke-width="0.6"/>
<path d="M36.1 382.2h.01M38.3 381.8h.01M34.1 375.2h.01M39.6 378.0h.01M42.1 378.2h.01M33.6 375.2h.01M42.1 377.5h.01M39.7 375.8h.01M34.5 377.7h.01M40.0 382.0h.01M33.4 375.0h.01M37.4 379.7h.01M34.6 375.3h.01M41.1 379.9h.01M34.8 380.1h.01M37.9 373.7h.01" fill="none" stroke="#777" stroke-width="0.75" stroke-linecap="round" opacity="0.8"/>
<path d="M52.25 370.00V374.40M52.25 379.00V382.00M50.75 370.00H53.75M50.75 382.00H53.75" stroke="#777" stroke-width="0.35" stroke-dasharray="0.8 0.5" fill="none"/>
<rect x="46.60" y="374.40" width="11.30" height="4.60" fill="#c4c4c4" stroke="#444" stroke-width="0.4"/>
<path d="M46.60 376.50H57.90" stroke="#222" stroke-width="0.6"/>
<path d="M48.6 378.5h.01M53.6 377.9h.01M55.1 374.4h.01M56.9 377.4h.01M53.9 370.7h.01M51.0 377.4h.01M56.6 370.5h.01M47.4 374.7h.01M55.5 378.9h.01M54.1 372.2h.01M50.0 378.7h.01M54.0 378.7h.01M54.8 376.2h.01M56.3 376.6h.01M47.9 378.4h.01M47.5 377.7h.01M53.5 373.4h.01M56.6 371.6h.01M51.7 375.0h.01M54.8 374.9h.01M56.0 376.9h.01M55.5 378.1h.01M55.0 374.8h.01M54.3 380.2h.01M54.6 378.8h.01M47.9 380.9h.01M47.5 377.0h.01M52.5 377.7h.01M52.9 373.4h.01M52.8 381.8h.01M48.8 371.0h.01M48.6 379.9h.01M50.4 376.7h.01M51.5 375.1h.01" fill="none" stroke="#888" stroke-width="0.75" stroke-linecap="round" opacity="0.8"/>
<path d="M65.85 365.00V372.70M65.85 383.30V385.00M64.35 365.00H67.35M64.35 385.00H67.35" stroke="#777" stroke-width="0.35" stroke-dasharray="0.8 0.5" fill="none"/>
<rect x="60.40" y="372.70" width="10.90" height="10.60" fill="#c4c4c4" stroke="#444" stroke-width="0.4"/>
<path d="M60.40 381.00H71.30" stroke="#222" stroke-width="0.6"/>
<path d="M68.7 368.4h.01M67.4 375.4h.01M62.6 376.1h.01M62.7 382.1h.01M63.5 383.2h.01M68.4 371.4h.01M69.4 372.0h.01M66.5 371.4h.01M69.9 375.7h.01M69.7 368.2h.01M62.2 365.2h.01M69.3 382.1h.01M69.8 377.4h.01M65.1 373.8h.01M69.4 382.5h.01M62.4 374.6h.01" fill="none" stroke="#888" stroke-width="0.75" stroke-linecap="round" opacity="0.8"/>
<text x="23.70" y="393.90" font-size="4.4" text-anchor="middle" font-weight="normal" font-style="normal" fill="#111"  stroke="#111" stroke-width="0.1">TNBC</text>
<text x="23.70" y="399.50" font-size="4.4" text-anchor="middle" font-weight="normal" font-style="normal" fill="#111"  stroke="#111" stroke-width="0.1">(131)</text>
<text x="37.70" y="393.90" font-size="4.4" text-anchor="middle" font-weight="normal" font-style="normal" fill="#111"  stroke="#111" stroke-width="0.1">ER+</text>
<text x="37.70" y="399.50" font-size="4.4" text-anchor="middle" font-weight="normal" font-style="normal" fill="#111"  stroke="#111" stroke-width="0.1">(14)</text>
<text x="52.20" y="393.90" font-size="4.4" text-anchor="middle" font-weight="normal" font-style="normal" fill="#111"  stroke="#111" stroke-width="0.1">HER2+</text>
<text x="52.20" y="399.50" font-size="4.4" text-anchor="middle" font-weight="normal" font-style="normal" fill="#111"  stroke="#111" stroke-width="0.1">(32)</text>
<text x="66.00" y="393.90" font-size="4.4" text-anchor="middle" font-weight="normal" font-style="normal" fill="#111"  stroke="#111" stroke-width="0.1">Normal</text>
<text x="66.00" y="399.50" font-size="4.4" text-anchor="middle" font-weight="normal" font-style="normal" fill="#111"  stroke="#111" stroke-width="0.1">(10)</text>
<path d="M92.50 291.20V332.50H148.00" fill="none" stroke="#777" stroke-width="0.6"/>
<text x="91.40" y="293.70" font-size="3.8" fill="#222" stroke="#222" stroke-width="0.06" text-anchor="end">16</text>
<text x="91.40" y="306.00" font-size="3.8" fill="#222" stroke="#222" stroke-width="0.06" text-anchor="end">12</text>
<text x="91.40" y="317.70" font-size="3.8" fill="#222" stroke="#222" stroke-width="0.06" text-anchor="end">8</text>
<text x="91.40" y="329.90" font-size="3.8" fill="#222" stroke="#222" stroke-width="0.06" text-anchor="end">4</text>
<text x="84.50" y="311.75" font-size="4.2" fill="#111" stroke="#111" stroke-width="0.06" text-anchor="middle" transform="rotate(-90 84.50 311.75)"><tspan font-style="italic">CCNE1</tspan> expression (RSEM)</text>
<text x="117.30" y="288.20" font-size="4.4" text-anchor="middle" font-weight="normal" font-style="normal" fill="#111"  stroke="#111" stroke-width="0.1">TCGA</text>
<path d="M99.70 295.50H142.50" stroke="#707070" stroke-width="0.65"/>
<text x="142.80" y="296.70" font-size="6.0" text-anchor="start" font-weight="normal" font-style="normal" fill="#333" >***</text>
<path d="M99.70 298.50H127.40" stroke="#707070" stroke-width="0.65"/>
<text x="127.70" y="300.50" font-size="6.0" text-anchor="start" font-weight="normal" font-style="normal" fill="#333" >***</text>
<path d="M99.70 303.50H112.30" stroke="#707070" stroke-width="0.65"/>
<text x="112.60" y="304.70" font-size="6.0" text-anchor="start" font-weight="normal" font-style="normal" fill="#333" >***</text>
<path d="M100.95 306.00V313.00M100.95 318.00V324.00M99.45 306.00H102.45M99.45 324.00H102.45" stroke="#777" stroke-width="0.35" stroke-dasharray="0.8 0.5" fill="none"/>
<rect x="95.50" y="313.00" width="10.90" height="5.00" fill="#474747" stroke="#444" stroke-width="0.4"/>
<path d="M95.50 315.50H106.40" stroke="#222" stroke-width="0.6"/>
<path d="M97.9 316.1h.01M99.9 316.9h.01M96.7 316.2h.01M101.1 316.1h.01M99.8 319.2h.01M103.8 313.6h.01M100.4 317.0h.01M101.2 314.1h.01M102.2 316.1h.01M97.2 310.4h.01M101.0 316.4h.01M100.0 313.8h.01M98.2 309.0h.01M100.3 317.4h.01M102.5 313.9h.01M102.2 320.9h.01M100.5 317.7h.01M102.7 321.6h.01M101.9 316.7h.01M101.3 317.2h.01M100.0 315.5h.01M97.9 323.0h.01M104.5 317.3h.01M102.7 314.3h.01M100.5 309.8h.01M100.2 310.0h.01M98.4 315.4h.01M97.7 314.9h.01M100.2 313.8h.01M100.2 316.6h.01M99.1 313.9h.01M100.6 309.6h.01M100.6 320.9h.01M98.4 317.6h.01M103.6 313.9h.01M105.3 317.2h.01M96.4 314.4h.01M102.3 314.1h.01M102.9 322.6h.01M100.7 317.5h.01M103.5 310.9h.01M96.9 321.6h.01M97.6 317.7h.01M100.8 316.0h.01M99.5 323.2h.01M100.5 317.6h.01M96.4 313.7h.01M101.5 311.1h.01M105.2 314.7h.01M103.3 316.8h.01M101.0 306.6h.01M100.7 316.8h.01M104.5 317.5h.01M101.4 323.3h.01M97.3 316.5h.01M98.2 317.7h.01" fill="none" stroke="#666" stroke-width="0.75" stroke-linecap="round" opacity="0.8"/>
<path d="M114.35 313.00V321.00M114.35 326.00V330.00M112.85 313.00H115.85M112.85 330.00H115.85" stroke="#777" stroke-width="0.35" stroke-dasharray="0.8 0.5" fill="none"/>
<rect x="110.60" y="321.00" width="7.50" height="5.00" fill="#555" stroke="#444" stroke-width="0.4"/>
<path d="M110.60 323.50H118.10" stroke="#222" stroke-width="0.6"/>
<path d="M112.4 321.3h.01M116.6 316.9h.01M114.2 322.7h.01M112.8 325.8h.01M112.0 322.0h.01M114.3 318.8h.01M111.7 314.5h.01M111.5 329.9h.01M116.3 326.0h.01M117.1 322.0h.01M116.4 323.4h.01M114.0 323.2h.01M117.1 325.1h.01M116.1 322.6h.01M115.4 326.8h.01M115.1 327.4h.01M116.5 321.4h.01M113.0 328.2h.01M112.6 328.8h.01M112.7 321.9h.01M116.2 327.0h.01M117.1 329.6h.01M115.6 325.6h.01M112.4 323.9h.01M111.5 325.1h.01M113.1 323.2h.01M113.4 323.6h.01M115.4 323.0h.01M111.9 324.9h.01M116.5 322.8h.01M113.1 325.5h.01M114.4 325.1h.01M112.5 325.3h.01M113.4 325.8h.01M111.5 315.6h.01M114.9 322.4h.01M114.3 313.7h.01M116.4 325.5h.01M113.4 325.6h.01M113.6 322.3h.01M116.7 324.2h.01M112.3 322.8h.01M112.0 322.9h.01M116.2 318.8h.01M117.2 324.7h.01M117.1 322.9h.01M112.3 322.6h.01M116.6 318.5h.01M117.3 316.1h.01M114.9 325.7h.01M112.6 329.1h.01M113.9 324.8h.01M114.5 327.2h.01M114.9 324.1h.01M114.2 326.2h.01M112.3 323.1h.01M116.7 315.9h.01M112.6 316.3h.01M113.6 320.8h.01M112.2 318.7h.01M117.1 327.9h.01M113.3 324.7h.01M112.0 319.6h.01M112.4 323.6h.01M115.8 318.6h.01M115.3 323.5h.01M116.4 322.4h.01M115.0 322.7h.01M114.7 327.7h.01M116.9 328.2h.01M115.5 324.8h.01M116.8 321.5h.01M114.6 322.7h.01M112.1 327.1h.01M117.2 329.0h.01M116.6 322.7h.01M117.2 327.4h.01M115.8 321.6h.01M114.1 328.4h.01M116.4 321.6h.01M112.0 321.6h.01M116.1 320.1h.01M115.8 323.4h.01M114.2 316.2h.01M112.0 328.5h.01M115.1 328.1h.01M114.3 318.1h.01M114.7 325.0h.01M112.6 325.7h.01M111.9 324.6h.01M111.5 315.3h.01M115.3 323.4h.01M112.4 325.2h.01M116.5 324.0h.01M116.2 321.3h.01M112.5 317.2h.01M112.6 325.4h.01M115.3 321.9h.01M112.4 324.2h.01M113.7 321.9h.01M115.1 324.1h.01M112.9 330.0h.01M111.6 324.0h.01M115.4 319.8h.01M112.1 323.1h.01M111.8 313.7h.01M113.3 322.8h.01M114.0 324.9h.01M116.5 328.9h.01M112.7 324.9h.01M115.7 326.0h.01M114.0 323.7h.01M114.1 321.9h.01M116.2 325.4h.01M116.7 323.0h.01M115.1 323.2h.01M115.8 323.8h.01M113.9 323.0h.01M116.2 316.7h.01M114.5 324.9h.01M113.0 322.3h.01M113.0 326.0h.01M117.2 324.3h.01M114.8 322.2h.01M114.8 323.3h.01M113.5 319.4h.01M116.6 322.7h.01M114.4 324.2h.01M112.4 321.3h.01M117.3 323.0h.01M114.0 323.5h.01M113.7 319.0h.01M114.2 323.9h.01M113.4 328.9h.01M115.8 329.9h.01M112.6 326.8h.01M113.5 318.9h.01M116.8 324.9h.01M116.8 320.4h.01M116.1 323.5h.01M115.1 313.2h.01M116.2 319.1h.01M113.7 314.5h.01M112.1 322.9h.01M115.6 322.5h.01M112.5 325.8h.01M116.6 317.6h.01M114.0 325.2h.01M111.5 325.4h.01M114.7 321.7h.01M114.8 317.2h.01M115.9 313.1h.01M114.3 321.1h.01M115.2 323.0h.01M112.3 324.0h.01M112.7 321.0h.01M111.8 323.1h.01M116.4 320.3h.01M117.0 327.0h.01M114.8 323.8h.01M115.9 325.7h.01M114.6 323.3h.01M112.1 322.4h.01M112.7 323.3h.01M112.3 325.3h.01M114.2 323.6h.01M114.7 325.8h.01M111.6 321.4h.01M115.4 322.3h.01" fill="none" stroke="#111" stroke-width="0.75" stroke-linecap="round" opacity="0.8"/>
<path d="M127.40 308.00V314.70M127.40 319.80V329.00M125.90 308.00H128.90M125.90 329.00H128.90" stroke="#777" stroke-width="0.35" stroke-dasharray="0.8 0.5" fill="none"/>
<rect x="123.20" y="314.70" width="8.40" height="5.10" fill="#c4c4c4" stroke="#444" stroke-width="0.4"/>
<path d="M123.20 316.50H131.60" stroke="#222" stroke-width="0.6"/>
<path d="M126.6 309.3h.01M127.9 318.0h.01M127.3 308.8h.01M124.3 311.5h.01M124.3 315.9h.01M128.6 323.6h.01M127.0 323.4h.01M130.4 327.5h.01M130.6 324.6h.01M126.9 321.2h.01M124.6 328.5h.01M124.7 315.4h.01M124.7 311.9h.01M127.4 319.6h.01M127.7 315.4h.01M126.3 315.3h.01M130.0 324.1h.01M128.9 310.2h.01M124.4 327.4h.01M126.9 315.4h.01M129.3 316.1h.01M124.5 327.7h.01M129.2 317.0h.01M124.8 325.6h.01M128.7 309.1h.01M126.6 314.6h.01M126.3 319.2h.01M125.1 316.6h.01M127.7 327.7h.01M130.4 317.2h.01M128.6 315.8h.01M124.7 317.2h.01M128.7 319.5h.01M125.2 325.9h.01" fill="none" stroke="#888" stroke-width="0.75" stroke-linecap="round" opacity="0.8"/>
<path d="M140.80 324.00V326.50M140.80 329.00V331.00M139.30 324.00H142.30M139.30 331.00H142.30" stroke="#777" stroke-width="0.35" stroke-dasharray="0.8 0.5" fill="none"/>
<rect x="136.60" y="326.50" width="8.40" height="2.50" fill="#888" stroke="#444" stroke-width="0.4"/>
<path d="M136.60 327.80H145.00" stroke="#222" stroke-width="0.6"/>
<path d="M139.9 330.7h.01M143.6 328.0h.01M142.2 327.2h.01M141.1 329.0h.01M140.7 327.4h.01M140.4 329.3h.01M138.7 328.0h.01M137.5 327.4h.01M139.4 324.6h.01M141.8 330.1h.01M142.9 324.2h.01M143.9 328.9h.01M143.9 326.7h.01M140.5 324.8h.01M137.6 328.1h.01M138.5 328.6h.01M138.6 328.6h.01M138.5 325.2h.01M140.0 329.5h.01M142.3 328.3h.01M141.0 328.2h.01M141.6 328.2h.01M137.7 327.7h.01M143.2 327.8h.01M140.8 329.9h.01M139.8 328.2h.01M143.8 328.4h.01M142.8 328.5h.01M143.3 327.1h.01M141.8 327.1h.01M138.2 330.2h.01M143.1 327.8h.01M139.6 324.7h.01M141.9 328.8h.01M138.7 327.9h.01M141.2 326.9h.01M137.9 327.6h.01M140.3 326.5h.01M144.0 329.4h.01M142.7 328.2h.01M138.1 328.5h.01M138.8 330.7h.01M141.4 328.7h.01M139.0 327.9h.01M139.7 328.2h.01M141.3 329.4h.01M140.0 329.6h.01M137.7 327.0h.01M137.6 327.2h.01M139.1 327.5h.01M140.3 328.2h.01M138.1 328.4h.01M139.9 330.2h.01M138.1 328.4h.01M141.2 327.3h.01M137.6 327.9h.01M140.0 326.8h.01M137.5 324.7h.01M138.0 327.5h.01M143.0 329.6h.01M141.2 327.6h.01M143.9 326.6h.01M141.0 325.9h.01M143.5 328.6h.01" fill="none" stroke="#222" stroke-width="0.75" stroke-linecap="round" opacity="0.8"/>
<text x="101.00" y="337.60" font-size="4.4" text-anchor="middle" font-weight="normal" font-style="normal" fill="#111"  stroke="#111" stroke-width="0.1">TNBC</text>
<text x="101.00" y="343.20" font-size="4.4" text-anchor="middle" font-weight="normal" font-style="normal" fill="#111"  stroke="#111" stroke-width="0.1">(112)</text>
<text x="114.40" y="337.60" font-size="4.4" text-anchor="middle" font-weight="normal" font-style="normal" fill="#111"  stroke="#111" stroke-width="0.1">ER+</text>
<text x="114.40" y="343.20" font-size="4.4" text-anchor="middle" font-weight="normal" font-style="normal" fill="#111"  stroke="#111" stroke-width="0.1">(426)</text>
<text x="127.40" y="337.60" font-size="4.4" text-anchor="middle" font-weight="normal" font-style="normal" fill="#111"  stroke="#111" stroke-width="0.1">HER2+</text>
<text x="127.40" y="343.20" font-size="4.4" text-anchor="middle" font-weight="normal" font-style="normal" fill="#111"  stroke="#111" stroke-width="0.1">(40)</text>
<text x="141.00" y="337.60" font-size="4.4" text-anchor="middle" font-weight="normal" font-style="normal" fill="#111"  stroke="#111" stroke-width="0.1">Normal</text>
<text x="141.00" y="343.20" font-size="4.4" text-anchor="middle" font-weight="normal" font-style="normal" fill="#111"  stroke="#111" stroke-width="0.1">(112)</text>
<path d="M92.50 347.50V389.50H148.00" fill="none" stroke="#777" stroke-width="0.6"/>
<text x="91.40" y="350.50" font-size="3.8" fill="#222" stroke="#222" stroke-width="0.06" text-anchor="end">13</text>
<text x="91.40" y="357.70" font-size="3.8" fill="#222" stroke="#222" stroke-width="0.06" text-anchor="end">12</text>
<text x="91.40" y="364.80" font-size="3.8" fill="#222" stroke="#222" stroke-width="0.06" text-anchor="end">11</text>
<text x="91.40" y="372.30" font-size="3.8" fill="#222" stroke="#222" stroke-width="0.06" text-anchor="end">10</text>
<text x="91.40" y="379.60" font-size="3.8" fill="#222" stroke="#222" stroke-width="0.06" text-anchor="end">9</text>
<text x="91.40" y="386.30" font-size="3.8" fill="#222" stroke="#222" stroke-width="0.06" text-anchor="end">8</text>
<text x="84.50" y="368.25" font-size="4.2" fill="#111" stroke="#111" stroke-width="0.06" text-anchor="middle" transform="rotate(-90 84.50 368.25)"><tspan font-style="italic">CDK2</tspan> expression (RSEM)</text>
<path d="M99.70 349.50H144.00" stroke="#707070" stroke-width="0.65"/>
<text x="144.30" y="351.40" font-size="6.0" text-anchor="start" font-weight="normal" font-style="normal" fill="#333" >***</text>
<path d="M99.70 356.50H113.00" stroke="#707070" stroke-width="0.65"/>
<text x="113.30" y="358.50" font-size="6.0" text-anchor="start" font-weight="normal" font-style="normal" fill="#333" >***</text>
<path d="M100.95 360.00V368.50M100.95 376.00V381.00M99.45 360.00H102.45M99.45 381.00H102.45" stroke="#777" stroke-width="0.35" stroke-dasharray="0.8 0.5" fill="none"/>
<rect x="95.50" y="368.50" width="10.90" height="7.50" fill="#474747" stroke="#444" stroke-width="0.4"/>
<path d="M95.50 372.00H106.40" stroke="#222" stroke-width="0.6"/>
<path d="M103.0 369.6h.01M97.0 364.5h.01M99.9 362.6h.01M97.4 378.3h.01M104.0 370.2h.01M97.3 370.2h.01M98.0 372.4h.01M103.0 374.0h.01M101.6 374.4h.01M99.7 365.2h.01M102.1 379.9h.01M98.9 370.4h.01M104.5 375.9h.01M102.9 371.1h.01M97.7 372.1h.01M97.2 370.4h.01M103.9 362.0h.01M100.8 361.9h.01M101.5 380.7h.01M99.0 374.9h.01M100.0 373.0h.01M103.3 369.3h.01M96.7 371.8h.01M101.4 378.3h.01M98.4 373.1h.01M102.3 372.8h.01M99.4 372.1h.01M99.3 374.2h.01M101.3 377.8h.01M104.9 366.5h.01M103.9 371.2h.01M104.4 373.1h.01M99.5 374.3h.01M96.9 373.2h.01M102.1 375.1h.01M99.0 371.7h.01M103.0 366.0h.01M98.6 366.7h.01M101.8 371.5h.01M100.2 374.5h.01M104.6 374.3h.01M104.4 371.5h.01M100.8 360.2h.01M98.5 371.0h.01M104.3 373.6h.01M105.6 368.6h.01M97.3 371.6h.01M101.2 375.5h.01M103.3 376.5h.01M98.6 365.3h.01M103.7 374.3h.01M100.7 372.2h.01M102.4 373.5h.01M105.4 374.0h.01M99.0 362.3h.01M98.9 374.5h.01" fill="none" stroke="#666" stroke-width="0.75" stroke-linecap="round" opacity="0.8"/>
<path d="M114.35 365.00V371.00M114.35 377.20V383.00M112.85 365.00H115.85M112.85 383.00H115.85" stroke="#777" stroke-width="0.35" stroke-dasharray="0.8 0.5" fill="none"/>
<rect x="110.60" y="371.00" width="7.50" height="6.20" fill="#555" stroke="#444" stroke-width="0.4"/>
<path d="M110.60 374.00H118.10" stroke="#222" stroke-width="0.6"/>
<path d="M115.9 373.3h.01M111.5 372.7h.01M117.0 374.4h.01M113.5 370.9h.01M112.0 372.2h.01M114.1 370.6h.01M114.0 369.9h.01M115.3 373.0h.01M112.0 373.5h.01M117.1 370.4h.01M114.5 375.1h.01M115.2 377.6h.01M115.8 371.9h.01M115.2 377.0h.01M117.1 378.4h.01M113.9 381.9h.01M112.9 371.7h.01M111.7 376.8h.01M114.6 373.9h.01M112.9 371.1h.01M116.2 378.1h.01M112.6 375.1h.01M112.7 376.9h.01M116.5 372.3h.01M116.4 375.6h.01M116.0 376.7h.01M114.6 372.5h.01M115.2 375.9h.01M113.0 375.9h.01M115.2 382.7h.01M112.1 369.2h.01M115.7 374.7h.01M111.9 374.4h.01M113.3 371.8h.01M113.4 371.9h.01M116.9 376.1h.01M111.5 378.3h.01M115.5 377.2h.01M112.8 368.6h.01M113.6 374.3h.01M111.6 371.9h.01M115.3 376.7h.01M114.0 366.1h.01M113.8 374.9h.01M115.7 369.9h.01M116.1 371.9h.01M112.6 370.5h.01M111.9 375.7h.01M113.2 375.2h.01M114.8 373.3h.01M115.7 373.3h.01M115.8 376.1h.01M116.5 367.8h.01M116.8 368.3h.01M112.6 372.1h.01M112.8 379.4h.01M115.5 365.7h.01M116.8 380.6h.01M114.1 380.2h.01M115.7 372.7h.01M116.2 372.3h.01M114.9 367.9h.01M111.6 374.7h.01M115.7 372.1h.01M114.1 371.1h.01M114.6 379.0h.01M112.1 367.9h.01M115.9 375.1h.01M113.5 374.7h.01M112.4 371.6h.01M117.2 371.1h.01M112.5 373.2h.01M112.9 374.2h.01M116.0 374.2h.01M112.0 380.0h.01M112.4 375.8h.01M113.9 366.0h.01M114.1 371.3h.01M116.9 378.7h.01M115.0 376.1h.01M114.5 367.3h.01M116.6 371.1h.01M116.1 371.1h.01M114.6 375.5h.01M111.9 374.1h.01M114.8 369.2h.01M111.8 378.0h.01M114.1 382.4h.01M114.5 373.9h.01M115.2 376.3h.01M112.4 376.1h.01M114.2 380.5h.01M112.0 373.8h.01M114.5 371.9h.01M114.8 373.0h.01M114.0 376.5h.01M112.4 378.1h.01M114.3 372.1h.01M117.1 376.6h.01M113.6 376.3h.01M113.2 374.7h.01M111.6 381.2h.01M112.2 381.0h.01M112.3 375.0h.01M113.4 365.2h.01M113.8 376.0h.01M114.6 373.9h.01M116.4 371.6h.01M112.7 372.2h.01M115.1 366.4h.01M116.0 369.1h.01M111.6 371.7h.01M115.0 365.9h.01M117.1 366.8h.01M116.1 373.0h.01M115.5 375.8h.01M113.0 371.8h.01M111.5 374.9h.01M111.7 372.7h.01M114.4 382.5h.01M116.6 373.6h.01M115.2 375.1h.01M112.6 376.1h.01M112.2 365.8h.01M114.8 373.4h.01M116.6 369.6h.01M116.2 380.7h.01M112.3 373.1h.01M113.5 372.4h.01M113.9 377.0h.01M114.0 371.8h.01M113.2 375.2h.01M113.7 371.1h.01M116.8 373.2h.01M115.7 378.5h.01M115.4 370.6h.01M116.1 372.5h.01M116.0 365.4h.01M116.8 372.3h.01M116.8 369.5h.01M115.7 375.4h.01M113.2 373.5h.01M114.4 375.7h.01M115.7 375.3h.01M115.4 373.6h.01M113.0 379.3h.01M112.9 376.2h.01M116.0 375.2h.01M111.8 382.7h.01M112.2 370.1h.01M111.4 371.6h.01M111.8 374.5h.01M112.7 365.0h.01M111.4 371.7h.01M112.1 371.4h.01M112.3 376.2h.01M112.3 375.8h.01M115.1 376.2h.01M116.3 374.2h.01M112.7 372.7h.01M112.6 372.1h.01M116.5 374.7h.01M113.5 375.9h.01M113.5 375.2h.01M116.8 375.6h.01M115.9 367.2h.01M116.2 371.4h.01M111.8 374.0h.01M116.3 373.6h.01" fill="none" stroke="#111" stroke-width="0.75" stroke-linecap="round" opacity="0.8"/>
<path d="M128.60 366.00V370.20M128.60 377.20V381.00M127.10 366.00H130.10M127.10 381.00H130.10" stroke="#777" stroke-width="0.35" stroke-dasharray="0.8 0.5" fill="none"/>
<rect x="123.20" y="370.20" width="10.80" height="7.00" fill="#c4c4c4" stroke="#444" stroke-width="0.4"/>
<path d="M123.20 373.50H134.00" stroke="#222" stroke-width="0.6"/>
<path d="M132.4 368.0h.01M130.9 370.3h.01M125.4 377.9h.01M132.8 379.9h.01M125.0 376.1h.01M130.1 374.8h.01M126.1 369.9h.01M124.3 375.2h.01M128.6 374.8h.01M128.9 368.1h.01M132.8 375.8h.01M130.7 367.7h.01M128.0 370.9h.01M128.2 376.8h.01M126.9 372.9h.01M129.7 376.9h.01M127.1 366.0h.01M124.2 368.3h.01M129.3 371.2h.01M131.2 376.0h.01M132.0 376.6h.01M132.2 380.4h.01M133.1 372.9h.01M124.2 374.8h.01M124.5 376.2h.01M127.7 375.5h.01M132.4 376.9h.01M125.6 371.9h.01M129.4 371.2h.01M131.7 377.6h.01M124.2 379.9h.01M131.0 372.6h.01M130.1 377.5h.01M124.4 373.9h.01" fill="none" stroke="#888" stroke-width="0.75" stroke-linecap="round" opacity="0.8"/>
<path d="M141.50 374.00V376.60M141.50 380.00V383.00M140.00 374.00H143.00M140.00 383.00H143.00" stroke="#777" stroke-width="0.35" stroke-dasharray="0.8 0.5" fill="none"/>
<rect x="137.00" y="376.60" width="9.00" height="3.40" fill="#888" stroke="#444" stroke-width="0.4"/>
<path d="M137.00 378.50H146.00" stroke="#222" stroke-width="0.6"/>
<path d="M140.0 380.7h.01M138.7 377.7h.01M140.4 379.0h.01M143.0 379.5h.01M144.5 377.4h.01M141.3 375.3h.01M144.1 378.7h.01M139.6 376.7h.01M142.6 377.5h.01M143.3 378.7h.01M139.0 377.2h.01M140.6 379.9h.01M144.6 376.5h.01M142.8 375.6h.01M139.7 376.3h.01M143.5 378.0h.01M140.5 379.3h.01M142.3 377.0h.01M139.9 378.4h.01M142.1 377.2h.01M143.0 376.8h.01M144.3 377.1h.01M142.6 378.0h.01M144.9 377.7h.01M141.0 378.5h.01M140.7 381.4h.01M144.4 377.0h.01M142.2 381.2h.01M138.2 379.8h.01M139.2 377.9h.01M143.5 379.8h.01M144.5 378.1h.01M142.4 376.6h.01M140.6 379.3h.01M139.0 379.3h.01M140.5 377.0h.01M143.4 379.9h.01M139.0 377.1h.01M144.5 378.8h.01M138.4 377.1h.01M143.9 380.3h.01M138.6 376.9h.01M140.4 379.3h.01M141.4 377.1h.01M141.2 378.8h.01M142.0 375.4h.01M139.8 378.9h.01M142.5 377.3h.01M141.8 378.9h.01M140.2 379.8h.01M140.0 377.8h.01M143.0 377.8h.01M138.9 374.0h.01M140.0 379.1h.01M139.1 378.5h.01M139.9 376.7h.01M142.5 378.6h.01M143.9 377.1h.01M142.1 377.7h.01M139.6 380.6h.01M140.3 377.6h.01M141.9 379.8h.01M138.4 382.3h.01M141.4 376.8h.01" fill="none" stroke="#222" stroke-width="0.75" stroke-linecap="round" opacity="0.8"/>
<text x="101.00" y="393.90" font-size="4.4" text-anchor="middle" font-weight="normal" font-style="normal" fill="#111"  stroke="#111" stroke-width="0.1">TNBC</text>
<text x="101.00" y="399.50" font-size="4.4" text-anchor="middle" font-weight="normal" font-style="normal" fill="#111"  stroke="#111" stroke-width="0.1">(112)</text>
<text x="114.40" y="393.90" font-size="4.4" text-anchor="middle" font-weight="normal" font-style="normal" fill="#111"  stroke="#111" stroke-width="0.1">ER+</text>
<text x="114.40" y="399.50" font-size="4.4" text-anchor="middle" font-weight="normal" font-style="normal" fill="#111"  stroke="#111" stroke-width="0.1">(426)</text>
<text x="127.40" y="393.90" font-size="4.4" text-anchor="middle" font-weight="normal" font-style="normal" fill="#111"  stroke="#111" stroke-width="0.1">HER2+</text>
<text x="127.40" y="399.50" font-size="4.4" text-anchor="middle" font-weight="normal" font-style="normal" fill="#111"  stroke="#111" stroke-width="0.1">(40)</text>
<text x="141.00" y="393.90" font-size="4.4" text-anchor="middle" font-weight="normal" font-style="normal" fill="#111"  stroke="#111" stroke-width="0.1">Normal</text>
<text x="141.00" y="399.50" font-size="4.4" text-anchor="middle" font-weight="normal" font-style="normal" fill="#111"  stroke="#111" stroke-width="0.1">(112)</text>
<path d="M170.50 294.60V333.50H221.00" fill="none" stroke="#777" stroke-width="0.6"/>
<text x="170.10" y="303.10" font-size="3.8" fill="#222" stroke="#222" stroke-width="0.06" text-anchor="end">11</text>
<text x="170.10" y="313.50" font-size="3.8" fill="#222" stroke="#222" stroke-width="0.06" text-anchor="end">9</text>
<text x="170.10" y="323.30" font-size="3.8" fill="#222" stroke="#222" stroke-width="0.06" text-anchor="end">7</text>
<text x="170.10" y="333.30" font-size="3.8" fill="#222" stroke="#222" stroke-width="0.06" text-anchor="end">5</text>
<text x="163.20" y="313.90" font-size="4.2" fill="#111" stroke="#111" stroke-width="0.06" text-anchor="middle" transform="rotate(-90 163.20 313.90)"><tspan font-style="italic">CCNE1</tspan> expression (log2)</text>
<text x="191.50" y="288.20" font-size="4.4" text-anchor="middle" font-weight="normal" font-style="normal" fill="#111"  stroke="#111" stroke-width="0.1">METABRIC</text>
<path d="M176.40 299.50H202.40" stroke="#707070" stroke-width="0.65"/>
<text x="202.70" y="300.70" font-size="6.0" text-anchor="start" font-weight="normal" font-style="normal" fill="#333" >***</text>
<path d="M176.40 303.50H189.80" stroke="#707070" stroke-width="0.65"/>
<text x="190.10" y="304.70" font-size="6.0" text-anchor="start" font-weight="normal" font-style="normal" fill="#333" >***</text>
<path d="M178.30 305.00V314.70M178.30 322.30V330.00M176.80 305.00H179.80M176.80 330.00H179.80" stroke="#777" stroke-width="0.35" stroke-dasharray="0.8 0.5" fill="none"/>
<rect x="173.00" y="314.70" width="10.60" height="7.60" fill="#525252" stroke="#444" stroke-width="0.4"/>
<path d="M173.00 318.00H183.60" stroke="#222" stroke-width="0.6"/>
<path d="M180.4 326.8h.01M180.2 317.2h.01M175.3 305.4h.01M179.7 308.0h.01M181.6 319.6h.01M176.7 314.8h.01M177.5 320.7h.01M176.1 318.8h.01M174.7 319.0h.01M181.3 325.0h.01M182.1 317.9h.01M175.6 322.2h.01M179.8 306.0h.01M179.5 318.7h.01M175.4 329.9h.01M177.2 315.0h.01M179.4 315.9h.01M173.9 315.9h.01M174.5 311.1h.01M179.5 322.9h.01M180.3 318.8h.01M180.0 321.1h.01M181.4 327.3h.01M180.4 318.7h.01M182.1 305.7h.01M177.9 318.4h.01M179.1 319.1h.01M176.6 320.3h.01M179.5 329.0h.01M180.0 305.3h.01M176.8 315.9h.01M175.7 315.4h.01M181.0 316.6h.01M174.3 316.2h.01M178.6 316.4h.01M178.2 316.2h.01M178.9 321.4h.01M182.3 318.9h.01M175.8 317.7h.01M179.3 320.6h.01M175.0 321.5h.01M182.0 320.6h.01M178.8 314.8h.01M176.9 314.9h.01M175.4 305.9h.01M176.6 320.8h.01M173.9 321.9h.01M181.0 315.6h.01M181.1 317.5h.01M174.7 306.7h.01M177.8 317.1h.01M179.8 322.1h.01M175.9 320.5h.01M179.1 309.0h.01M176.5 321.8h.01M175.7 310.5h.01M181.3 321.0h.01M175.1 319.4h.01M182.2 314.9h.01M173.8 320.1h.01M175.4 319.3h.01M176.4 321.5h.01M182.7 320.1h.01M177.6 315.0h.01" fill="none" stroke="#777" stroke-width="0.75" stroke-linecap="round" opacity="0.8"/>
<path d="M191.05 316.00V323.60M191.05 328.10V332.00M189.55 316.00H192.55M189.55 332.00H192.55" stroke="#777" stroke-width="0.35" stroke-dasharray="0.8 0.5" fill="none"/>
<rect x="186.40" y="323.60" width="9.30" height="4.50" fill="#3a3a3a" stroke="#444" stroke-width="0.4"/>
<path d="M186.40 326.00H195.70" stroke="#222" stroke-width="0.6"/>
<path d="M190.4 319.9h.01M193.6 326.5h.01M194.8 324.3h.01M192.4 325.9h.01M190.6 323.5h.01M187.6 323.5h.01M192.3 324.8h.01M189.6 316.8h.01M193.2 328.9h.01M193.7 327.9h.01M192.1 324.7h.01M187.3 323.8h.01M194.5 325.9h.01M193.0 328.6h.01M191.0 320.4h.01M192.6 321.3h.01M188.8 324.3h.01M194.0 323.7h.01M193.4 324.7h.01M190.7 327.0h.01M194.8 325.4h.01M188.6 324.9h.01M193.7 319.2h.01M188.1 327.9h.01M187.5 323.7h.01M191.4 326.2h.01M191.8 319.7h.01M189.0 321.1h.01M192.1 327.9h.01M187.8 325.8h.01M189.1 326.7h.01M188.6 327.7h.01M192.9 327.0h.01M191.6 330.6h.01M194.3 325.9h.01M188.7 324.9h.01M188.4 317.6h.01M190.4 327.7h.01M190.2 327.3h.01M192.0 326.7h.01M187.7 327.2h.01M192.8 325.0h.01M188.6 324.7h.01M192.7 325.8h.01M191.5 317.6h.01M188.2 322.3h.01M187.5 329.2h.01M190.0 325.0h.01M190.4 324.0h.01M189.3 325.1h.01M188.3 320.5h.01M194.3 323.7h.01M191.4 328.0h.01M189.9 325.3h.01M192.5 324.0h.01M189.0 330.9h.01M193.7 320.1h.01M188.7 316.2h.01M193.7 331.7h.01M193.1 326.3h.01M193.2 324.7h.01M194.7 326.2h.01M188.2 325.2h.01M194.6 326.7h.01M193.8 327.1h.01M190.4 327.9h.01M189.2 328.5h.01M190.1 325.6h.01M187.7 327.7h.01M188.0 325.8h.01M190.0 330.7h.01M194.0 326.6h.01M189.8 330.3h.01M192.9 326.7h.01M193.7 325.2h.01M189.1 324.5h.01M189.1 324.0h.01M192.0 324.6h.01M191.6 329.6h.01M193.6 325.2h.01M190.6 324.3h.01M188.4 325.4h.01M190.2 329.9h.01M188.0 316.0h.01M189.3 327.1h.01M191.5 329.8h.01M192.3 326.1h.01M188.2 324.7h.01M194.0 327.6h.01M190.6 319.5h.01M193.5 318.8h.01M194.3 326.2h.01M191.8 325.1h.01M188.8 324.7h.01M193.3 326.2h.01M190.0 321.1h.01M191.9 325.8h.01M189.0 327.7h.01M192.8 327.2h.01M191.3 323.8h.01M193.8 326.6h.01M193.4 319.7h.01M188.5 326.5h.01M188.3 326.2h.01M193.2 326.6h.01M192.9 327.4h.01M189.2 326.6h.01M188.3 320.5h.01M190.8 330.8h.01M188.7 326.5h.01M188.8 327.8h.01M192.3 325.6h.01M191.8 331.3h.01M189.1 319.4h.01M190.2 328.6h.01M190.3 324.7h.01M194.2 326.3h.01M189.4 325.2h.01M189.5 326.3h.01M194.3 323.9h.01M190.4 318.1h.01M192.3 322.1h.01M190.7 321.8h.01M190.9 326.8h.01M192.0 325.0h.01M193.1 330.6h.01M190.2 324.2h.01M188.6 324.4h.01M193.3 317.6h.01M190.8 326.9h.01M194.2 325.4h.01M190.4 326.4h.01M190.8 318.4h.01M193.5 325.5h.01M191.5 324.9h.01M190.6 327.7h.01M189.3 324.8h.01M194.4 323.6h.01M190.7 326.8h.01M194.1 325.0h.01M189.3 325.9h.01M194.5 324.1h.01M192.9 326.8h.01M191.0 323.1h.01M189.0 324.8h.01M189.6 327.7h.01M193.4 328.4h.01M194.7 328.4h.01M190.3 325.1h.01M193.7 319.1h.01M192.8 324.3h.01M188.8 327.0h.01M192.7 325.7h.01M194.4 327.9h.01M194.9 327.4h.01M191.5 325.5h.01M189.5 320.1h.01M194.3 320.6h.01M189.6 328.1h.01M193.4 327.0h.01M191.3 320.2h.01M194.6 327.9h.01M192.7 326.7h.01M190.6 329.3h.01M187.7 324.6h.01M189.9 324.9h.01M189.7 327.4h.01M190.9 324.5h.01M193.0 326.2h.01M191.7 331.5h.01M194.5 324.0h.01M192.8 326.0h.01M189.0 321.5h.01M191.3 325.1h.01M194.5 328.0h.01M191.8 330.3h.01M189.8 325.1h.01M187.8 317.0h.01M188.7 318.7h.01M192.9 323.7h.01M190.0 323.7h.01M190.7 319.6h.01M190.9 327.8h.01M188.5 324.3h.01M188.9 328.0h.01M190.4 328.0h.01M194.7 318.3h.01M187.6 325.2h.01M191.4 323.8h.01M191.2 328.0h.01M187.5 327.6h.01M189.1 321.2h.01M191.0 324.0h.01M193.0 326.2h.01M190.3 327.2h.01M190.0 323.8h.01M192.0 327.1h.01M188.8 320.4h.01M188.1 323.8h.01M193.5 328.0h.01M188.3 323.6h.01M189.5 327.8h.01M191.2 327.6h.01M187.6 316.7h.01M190.7 325.0h.01M189.9 325.4h.01M194.8 324.4h.01M189.9 327.2h.01M193.0 317.6h.01M193.8 327.2h.01M194.8 326.8h.01M191.4 323.9h.01M194.9 324.7h.01M190.4 324.6h.01M189.4 324.4h.01M194.7 326.7h.01M193.9 323.9h.01M193.5 331.4h.01M190.1 326.6h.01M187.5 317.2h.01M194.3 325.7h.01M191.5 326.2h.01M192.4 326.4h.01M188.1 325.2h.01M190.7 326.1h.01M189.8 327.0h.01M194.3 325.7h.01M192.4 324.3h.01M191.8 327.3h.01M193.0 325.4h.01M189.1 326.3h.01M191.1 325.5h.01M187.9 325.2h.01M188.0 318.7h.01M188.6 323.2h.01M193.2 327.7h.01M189.4 318.9h.01M192.1 325.7h.01M189.6 328.9h.01M192.4 327.7h.01M190.6 320.3h.01M188.3 327.5h.01M191.8 324.0h.01M194.2 326.6h.01M192.3 317.1h.01M190.9 326.4h.01M194.4 318.1h.01M192.4 327.9h.01M189.1 318.0h.01M192.3 326.0h.01M192.1 326.5h.01M189.2 318.4h.01M188.5 324.0h.01M194.5 327.4h.01M193.4 329.1h.01M191.1 327.2h.01M187.8 325.9h.01M194.0 329.6h.01M191.1 326.7h.01" fill="none" stroke="#000" stroke-width="0.75" stroke-linecap="round" opacity="0.8"/>
<path d="M206.55 313.00V320.30M206.55 325.30V331.00M205.05 313.00H208.05M205.05 331.00H208.05" stroke="#777" stroke-width="0.35" stroke-dasharray="0.8 0.5" fill="none"/>
<rect x="200.70" y="320.30" width="11.70" height="5.00" fill="#c4c4c4" stroke="#444" stroke-width="0.4"/>
<path d="M200.70 323.00H212.40" stroke="#222" stroke-width="0.6"/>
<path d="M208.2 324.3h.01M206.7 323.4h.01M209.9 322.9h.01M202.1 322.0h.01M207.0 321.5h.01M202.6 323.3h.01M204.2 322.4h.01M201.5 327.2h.01M207.8 322.8h.01M210.9 320.5h.01M205.8 320.4h.01M209.2 325.0h.01M201.6 313.2h.01M205.3 320.8h.01M207.4 323.4h.01M202.2 321.7h.01M210.1 317.2h.01M209.2 321.9h.01M206.9 324.2h.01M209.9 324.5h.01M210.7 322.4h.01M205.8 320.9h.01M208.0 323.3h.01M205.8 316.2h.01M210.2 315.0h.01M204.7 324.1h.01M209.2 319.9h.01M207.6 314.8h.01M209.7 323.2h.01M207.0 320.5h.01M203.6 323.9h.01M208.3 320.7h.01M205.9 327.2h.01M207.3 330.2h.01M203.0 321.7h.01M211.5 323.1h.01M205.1 322.4h.01M210.6 322.8h.01M211.2 321.5h.01M210.3 322.7h.01M204.0 314.1h.01M206.0 322.0h.01M211.3 316.1h.01M204.5 324.2h.01M204.7 317.0h.01M211.4 325.1h.01M207.1 322.3h.01M202.3 324.1h.01M203.0 323.0h.01M209.8 322.5h.01M205.0 327.5h.01M210.6 322.3h.01M203.8 324.4h.01M205.3 331.0h.01M205.9 323.8h.01M210.2 320.6h.01M208.4 323.3h.01M205.1 330.0h.01M207.2 321.6h.01M210.5 316.3h.01M208.6 322.2h.01M207.7 321.9h.01M204.6 323.2h.01M203.9 321.5h.01" fill="none" stroke="#666" stroke-width="0.75" stroke-linecap="round" opacity="0.8"/>
<text x="178.30" y="337.60" font-size="4.4" text-anchor="middle" font-weight="normal" font-style="normal" fill="#111"  stroke="#111" stroke-width="0.1">TNBC</text>
<text x="178.30" y="343.20" font-size="4.4" text-anchor="middle" font-weight="normal" font-style="normal" fill="#111"  stroke="#111" stroke-width="0.1">(101)</text>
<text x="191.00" y="337.60" font-size="4.4" text-anchor="middle" font-weight="normal" font-style="normal" fill="#111"  stroke="#111" stroke-width="0.1">ER+</text>
<text x="191.00" y="343.20" font-size="4.4" text-anchor="middle" font-weight="normal" font-style="normal" fill="#111"  stroke="#111" stroke-width="0.1">(979)</text>
<text x="206.50" y="337.60" font-size="4.4" text-anchor="middle" font-weight="normal" font-style="normal" fill="#111"  stroke="#111" stroke-width="0.1">HER2+</text>
<text x="206.50" y="343.20" font-size="4.4" text-anchor="middle" font-weight="normal" font-style="normal" fill="#111"  stroke="#111" stroke-width="0.1">(117)</text>
<path d="M170.50 350.00V389.50H221.00" fill="none" stroke="#777" stroke-width="0.6"/>
<text x="170.10" y="353.00" font-size="3.8" fill="#222" stroke="#222" stroke-width="0.06" text-anchor="end">11</text>
<text x="170.10" y="362.30" font-size="3.8" fill="#222" stroke="#222" stroke-width="0.06" text-anchor="end">10</text>
<text x="170.10" y="371.20" font-size="3.8" fill="#222" stroke="#222" stroke-width="0.06" text-anchor="end">9</text>
<text x="170.10" y="380.30" font-size="3.8" fill="#222" stroke="#222" stroke-width="0.06" text-anchor="end">8</text>
<text x="170.10" y="388.60" font-size="3.8" fill="#222" stroke="#222" stroke-width="0.06" text-anchor="end">7</text>
<text x="163.20" y="369.50" font-size="4.2" fill="#111" stroke="#111" stroke-width="0.06" text-anchor="middle" transform="rotate(-90 163.20 369.50)"><tspan font-style="italic">CDK2</tspan> expression (log2)</text>
<path d="M176.40 356.50H191.50" stroke="#707070" stroke-width="0.65"/>
<text x="191.80" y="358.50" font-size="6.0" text-anchor="start" font-weight="normal" font-style="normal" fill="#333" >*</text>
<path d="M178.30 368.00V373.20M178.30 378.30V382.00M176.80 368.00H179.80M176.80 382.00H179.80" stroke="#777" stroke-width="0.35" stroke-dasharray="0.8 0.5" fill="none"/>
<rect x="173.00" y="373.20" width="10.60" height="5.10" fill="#555" stroke="#444" stroke-width="0.4"/>
<path d="M173.00 376.00H183.60" stroke="#222" stroke-width="0.6"/>
<path d="M180.9 372.9h.01M180.7 372.4h.01M176.9 374.0h.01M179.7 370.1h.01M177.7 374.1h.01M181.7 375.5h.01M182.7 371.2h.01M181.2 381.4h.01M182.2 374.5h.01M174.8 376.7h.01M181.7 378.7h.01M180.4 381.7h.01M178.3 375.9h.01M181.2 376.8h.01M182.5 376.2h.01M180.1 381.0h.01M176.4 375.3h.01M174.8 373.8h.01M181.6 377.2h.01M173.9 376.1h.01M181.6 373.5h.01M177.9 376.9h.01M179.7 379.9h.01M177.0 376.4h.01M176.0 371.7h.01M174.5 373.8h.01M178.2 380.9h.01M176.9 377.6h.01M181.7 373.4h.01M177.1 373.8h.01M175.7 382.0h.01M181.6 371.8h.01M181.3 376.7h.01M173.9 375.6h.01M180.6 376.7h.01M180.5 368.7h.01M180.6 380.0h.01M177.1 372.9h.01M176.9 376.5h.01M176.2 371.2h.01M180.8 374.6h.01M174.1 380.8h.01M176.9 375.9h.01M176.6 377.6h.01M178.0 374.2h.01M174.0 375.6h.01M177.9 372.2h.01M174.4 376.1h.01M181.7 374.3h.01M174.6 378.1h.01M180.5 377.0h.01M177.2 373.6h.01M179.3 380.5h.01M179.0 376.3h.01M178.9 377.5h.01M180.1 376.9h.01M182.6 375.9h.01M178.1 377.4h.01M176.3 378.2h.01M178.4 373.7h.01M182.6 377.7h.01M177.0 374.3h.01M175.7 377.9h.01M177.5 378.3h.01" fill="none" stroke="#777" stroke-width="0.75" stroke-linecap="round" opacity="0.8"/>
<path d="M191.05 366.00V372.70M191.05 381.10V387.00M189.55 366.00H192.55M189.55 387.00H192.55" stroke="#777" stroke-width="0.35" stroke-dasharray="0.8 0.5" fill="none"/>
<rect x="186.40" y="372.70" width="9.30" height="8.40" fill="#555" stroke="#444" stroke-width="0.4"/>
<path d="M186.40 377.00H195.70" stroke="#222" stroke-width="0.6"/>
<path d="M189.7 376.2h.01M187.3 379.7h.01M192.8 379.5h.01M190.8 376.7h.01M189.9 376.3h.01M191.7 373.1h.01M187.3 381.0h.01M188.2 375.9h.01M188.6 375.4h.01M191.4 374.3h.01M189.0 386.2h.01M193.1 377.8h.01M188.1 373.1h.01M187.5 367.1h.01M188.5 373.2h.01M193.1 369.8h.01M190.6 375.6h.01M191.3 375.4h.01M190.0 377.2h.01M190.1 375.6h.01M191.9 379.8h.01M189.9 383.3h.01M190.9 368.0h.01M188.5 376.0h.01M190.2 373.2h.01M193.9 380.0h.01M189.4 376.0h.01M191.9 379.7h.01M189.8 380.5h.01M191.7 368.2h.01M189.4 373.4h.01M187.8 373.7h.01M191.7 386.5h.01M188.0 376.2h.01M193.9 376.5h.01M191.7 386.5h.01M188.5 377.6h.01M193.5 375.0h.01M188.2 370.7h.01M188.7 372.9h.01M190.5 385.4h.01M194.9 370.0h.01M189.3 378.9h.01M192.0 377.2h.01M194.3 382.3h.01M187.9 378.4h.01M187.3 377.1h.01M194.0 379.8h.01M192.5 376.8h.01M193.1 376.4h.01M192.0 374.6h.01M187.7 386.5h.01M190.0 372.4h.01M188.8 386.8h.01M193.7 380.3h.01M193.4 374.9h.01M187.3 375.8h.01M191.1 376.5h.01M189.0 379.0h.01M188.2 374.7h.01M193.3 380.7h.01M189.2 381.1h.01M193.3 377.3h.01M188.2 379.4h.01M191.6 380.8h.01M190.4 378.3h.01M192.6 379.1h.01M190.3 386.9h.01M192.3 367.6h.01M187.4 374.8h.01M188.6 374.2h.01M191.1 374.6h.01M192.4 375.5h.01M190.8 374.6h.01M188.7 372.9h.01M188.3 375.7h.01M194.9 377.6h.01M188.4 374.9h.01M188.4 379.9h.01M193.7 376.3h.01M193.8 387.0h.01M188.0 382.4h.01M188.6 380.9h.01M191.7 377.9h.01M190.4 376.3h.01M188.2 375.7h.01M193.8 373.0h.01M193.1 366.7h.01M191.6 372.2h.01M189.8 379.9h.01M193.8 371.4h.01M188.5 380.7h.01M190.3 378.6h.01M194.8 369.7h.01M188.5 380.2h.01M194.5 376.9h.01M190.2 374.3h.01M188.3 373.3h.01M193.6 368.3h.01M189.6 374.3h.01M189.2 378.0h.01M192.0 375.5h.01M188.7 378.9h.01M194.8 380.7h.01M191.3 376.6h.01M189.4 386.3h.01M189.8 377.4h.01M188.2 376.8h.01M191.5 380.2h.01M189.4 378.6h.01M188.5 377.4h.01M187.5 385.1h.01M194.7 378.5h.01M188.7 375.8h.01M188.4 367.5h.01M194.4 380.8h.01M189.6 379.3h.01M190.0 385.6h.01M190.4 374.5h.01M191.4 375.4h.01M189.8 379.4h.01M194.1 374.0h.01M193.1 377.4h.01M193.1 366.4h.01M187.9 379.4h.01M188.2 380.6h.01M190.5 376.7h.01M188.0 376.9h.01M188.3 373.1h.01M193.8 373.8h.01M192.9 374.8h.01M191.3 373.4h.01M192.4 380.6h.01M193.5 371.9h.01M190.4 379.4h.01M188.1 373.8h.01M192.0 375.5h.01M188.3 379.2h.01M194.9 375.6h.01M189.2 371.2h.01M189.7 378.0h.01M188.6 382.2h.01M190.6 373.3h.01M190.3 376.0h.01M194.8 370.1h.01M190.8 385.5h.01M193.7 376.9h.01M189.0 373.2h.01M191.9 366.0h.01M190.8 374.1h.01M190.5 373.2h.01M188.8 374.6h.01M191.9 383.0h.01M191.8 371.6h.01M190.1 367.8h.01M191.7 374.7h.01M191.0 373.8h.01M188.8 377.3h.01M190.6 380.0h.01M192.7 380.8h.01M192.8 381.4h.01M187.4 367.8h.01M187.7 380.0h.01M189.0 380.1h.01M187.5 368.3h.01M187.8 378.5h.01M191.6 378.3h.01M191.0 373.4h.01M189.9 374.0h.01M187.6 367.4h.01M191.4 377.7h.01M194.1 376.7h.01M191.6 380.5h.01M190.4 369.5h.01M193.4 377.0h.01M194.2 377.6h.01M188.7 375.7h.01M189.1 386.1h.01M189.8 380.4h.01M193.7 377.7h.01M187.9 377.5h.01M191.8 369.3h.01M193.9 377.1h.01M189.4 379.5h.01M189.3 371.6h.01M187.9 377.0h.01M192.8 381.3h.01M192.7 378.4h.01M191.5 369.2h.01M194.1 380.5h.01M189.4 374.8h.01M194.7 380.1h.01M188.8 373.9h.01M191.2 376.9h.01M189.6 376.9h.01M189.3 374.4h.01M190.7 374.7h.01M193.5 376.3h.01M188.1 366.4h.01M194.1 368.8h.01M187.4 376.0h.01M187.6 372.1h.01M189.4 374.8h.01M187.4 385.2h.01M187.2 379.0h.01M189.2 385.2h.01M189.6 373.7h.01M190.9 377.1h.01M191.5 381.0h.01M190.7 384.7h.01M188.5 376.2h.01M193.2 385.9h.01M190.0 374.6h.01M191.1 374.3h.01M187.5 378.2h.01M191.8 374.2h.01M189.2 379.7h.01M188.1 374.7h.01M189.9 386.6h.01M192.4 376.1h.01M190.1 375.9h.01M193.3 373.5h.01M190.9 376.6h.01M189.8 370.6h.01M194.1 375.0h.01M191.1 380.0h.01M193.9 374.5h.01M189.2 380.3h.01M188.9 385.8h.01" fill="none" stroke="#111" stroke-width="0.75" stroke-linecap="round" opacity="0.8"/>
<path d="M206.55 369.00V373.60M206.55 378.60V383.00M205.05 369.00H208.05M205.05 383.00H208.05" stroke="#777" stroke-width="0.35" stroke-dasharray="0.8 0.5" fill="none"/>
<rect x="200.70" y="373.60" width="11.70" height="5.00" fill="#aaa" stroke="#444" stroke-width="0.4"/>
<path d="M200.70 376.00H212.40" stroke="#222" stroke-width="0.6"/>
<path d="M201.7 374.5h.01M201.6 371.5h.01M204.6 377.7h.01M208.8 376.7h.01M206.6 376.6h.01M204.5 378.7h.01M210.0 378.8h.01M211.1 373.4h.01M209.5 377.2h.01M203.5 379.2h.01M205.0 376.1h.01M208.7 376.4h.01M210.4 378.9h.01M203.1 382.5h.01M211.0 373.8h.01M205.8 372.4h.01M209.3 380.5h.01M203.4 377.1h.01M204.5 371.1h.01M210.8 373.0h.01M205.8 374.4h.01M207.4 377.2h.01M210.8 378.5h.01M201.8 378.2h.01M205.4 373.9h.01M208.7 373.9h.01M206.2 376.2h.01M211.5 377.9h.01M209.7 374.2h.01M202.8 382.7h.01M202.2 373.9h.01M208.6 369.7h.01M210.9 375.4h.01M207.3 372.7h.01M201.9 375.9h.01M205.4 376.2h.01M208.6 370.1h.01M204.0 372.2h.01M203.7 380.4h.01M205.3 374.2h.01M209.6 376.8h.01M205.1 377.8h.01M202.9 377.7h.01M211.0 377.3h.01M203.1 374.1h.01M209.3 377.4h.01M207.2 373.2h.01M201.6 374.0h.01M202.2 382.3h.01M204.2 376.3h.01M205.1 378.5h.01M209.6 379.3h.01M202.9 373.7h.01M205.9 376.6h.01M202.6 377.0h.01M209.6 376.3h.01M205.4 376.6h.01M206.1 376.5h.01M202.1 376.9h.01M202.1 376.1h.01M204.2 374.5h.01M203.2 379.1h.01M207.9 377.6h.01M206.2 377.6h.01" fill="none" stroke="#666" stroke-width="0.75" stroke-linecap="round" opacity="0.8"/>
<text x="178.30" y="393.90" font-size="4.4" text-anchor="middle" font-weight="normal" font-style="normal" fill="#111"  stroke="#111" stroke-width="0.1">TNBC</text>
<text x="178.30" y="399.50" font-size="4.4" text-anchor="middle" font-weight="normal" font-style="normal" fill="#111"  stroke="#111" stroke-width="0.1">(101)</text>
<text x="191.00" y="393.90" font-size="4.4" text-anchor="middle" font-weight="normal" font-style="normal" fill="#111"  stroke="#111" stroke-width="0.1">ER+</text>
<text x="191.00" y="399.50" font-size="4.4" text-anchor="middle" font-weight="normal" font-style="normal" fill="#111"  stroke="#111" stroke-width="0.1">(979)</text>
<text x="206.50" y="393.90" font-size="4.4" text-anchor="middle" font-weight="normal" font-style="normal" fill="#111"  stroke="#111" stroke-width="0.1">HER2+</text>
<text x="206.50" y="399.50" font-size="4.4" text-anchor="middle" font-weight="normal" font-style="normal" fill="#111"  stroke="#111" stroke-width="0.1">(117)</text>
<path d="M232.50 292.00V333.50H296.00" fill="none" stroke="#777" stroke-width="0.6"/>
<text x="231.70" y="294.70" font-size="3.8" fill="#222" stroke="#222" stroke-width="0.06" text-anchor="end">12</text>
<text x="231.70" y="306.80" font-size="3.8" fill="#222" stroke="#222" stroke-width="0.06" text-anchor="end">10</text>
<text x="231.70" y="318.50" font-size="3.8" fill="#222" stroke="#222" stroke-width="0.06" text-anchor="end">8</text>
<text x="231.70" y="330.60" font-size="3.8" fill="#222" stroke="#222" stroke-width="0.06" text-anchor="end">6</text>
<text x="224.60" y="312.60" font-size="4.2" fill="#111" stroke="#111" stroke-width="0.06" text-anchor="middle" transform="rotate(-90 224.60 312.60)"><tspan font-style="italic">CCNE1</tspan> expression (log2)</text>
<text x="259.80" y="288.80" font-size="4.4" text-anchor="middle" font-weight="normal" font-style="normal" fill="#111"  stroke="#111" stroke-width="0.1">Guy's</text>
<path d="M236.30 293.50H279.90" stroke="#707070" stroke-width="0.65"/>
<text x="280.20" y="295.10" font-size="6.0" text-anchor="start" font-weight="normal" font-style="normal" fill="#333" >***</text>
<path d="M236.30 296.50H272.30" stroke="#707070" stroke-width="0.65"/>
<text x="272.60" y="298.50" font-size="6.0" text-anchor="start" font-weight="normal" font-style="normal" fill="#333" >***</text>
<path d="M236.30 300.50H260.60" stroke="#707070" stroke-width="0.65"/>
<text x="260.90" y="301.80" font-size="6.0" text-anchor="start" font-weight="normal" font-style="normal" fill="#333" >***</text>
<path d="M236.30 303.50H248.80" stroke="#707070" stroke-width="0.65"/>
<text x="249.10" y="305.20" font-size="6.0" text-anchor="start" font-weight="normal" font-style="normal" fill="#333" >***</text>
<path d="M238.80 311.00V318.60M238.80 324.00V329.00M237.30 311.00H240.30M237.30 329.00H240.30" stroke="#777" stroke-width="0.35" stroke-dasharray="0.8 0.5" fill="none"/>
<rect x="234.60" y="318.60" width="8.40" height="5.40" fill="#e8202a" stroke="#444" stroke-width="0.4"/>
<path d="M234.60 321.00H243.00" stroke="#222" stroke-width="0.6"/>
<path d="M235.5 327.2h.01M235.8 325.8h.01M236.7 325.5h.01M238.5 317.6h.01M240.5 323.4h.01M236.3 321.2h.01M235.9 321.2h.01M236.6 323.0h.01M240.4 318.8h.01M240.5 319.6h.01M239.5 321.6h.01M236.4 320.9h.01M237.1 319.7h.01M236.9 323.4h.01M236.3 320.1h.01M240.6 328.2h.01M238.5 320.9h.01M237.0 322.1h.01M239.9 320.7h.01M236.3 322.8h.01M239.1 324.2h.01M239.1 319.1h.01M240.4 319.9h.01M236.9 323.0h.01M236.2 324.5h.01M240.7 320.2h.01M240.4 312.2h.01M237.3 323.3h.01M238.5 320.4h.01M236.1 321.5h.01M242.1 318.8h.01M236.5 320.1h.01M236.5 311.1h.01M240.2 320.5h.01M240.6 316.8h.01M239.0 325.9h.01M236.7 311.6h.01M239.6 321.0h.01M237.6 318.9h.01M237.0 322.2h.01M238.0 320.6h.01M237.7 327.0h.01M237.4 323.2h.01M238.2 319.6h.01M241.3 313.1h.01M241.9 322.8h.01M242.0 317.1h.01M237.9 320.2h.01M238.4 322.0h.01" fill="none" stroke="#a66" stroke-width="0.75" stroke-linecap="round" opacity="0.8"/>
<path d="M249.70 322.00V324.80M249.70 327.00V329.00M248.20 322.00H251.20M248.20 329.00H251.20" stroke="#777" stroke-width="0.35" stroke-dasharray="0.8 0.5" fill="none"/>
<rect x="245.50" y="324.80" width="8.40" height="2.20" fill="#d8649e" stroke="#444" stroke-width="0.4"/>
<path d="M245.50 326.00H253.90" stroke="#222" stroke-width="0.6"/>
<path d="M249.4 328.2h.01M246.9 326.1h.01M249.3 325.8h.01M248.7 322.6h.01M247.1 325.3h.01M252.9 326.7h.01M246.4 327.4h.01M252.5 326.4h.01M252.9 327.0h.01M252.5 325.7h.01M250.3 325.2h.01M247.8 327.4h.01M252.7 325.2h.01M247.2 328.7h.01M249.5 326.6h.01M246.5 326.5h.01M248.2 326.4h.01M246.7 326.2h.01M246.4 325.9h.01" fill="none" stroke="#866" stroke-width="0.75" stroke-linecap="round" opacity="0.8"/>
<path d="M260.60 326.00V327.30M260.60 329.50V330.50M259.10 326.00H262.10M259.10 330.50H262.10" stroke="#777" stroke-width="0.35" stroke-dasharray="0.8 0.5" fill="none"/>
<rect x="256.40" y="327.30" width="8.40" height="2.20" fill="#232a7e" stroke="#444" stroke-width="0.4"/>
<path d="M256.40 328.50H264.80" stroke="#222" stroke-width="0.6"/>
<path d="M257.9 328.2h.01M261.9 329.0h.01M263.4 328.3h.01M260.6 327.7h.01M259.6 328.5h.01M261.8 327.4h.01M262.9 329.3h.01M260.1 328.2h.01M259.3 327.0h.01M263.9 326.2h.01M261.4 328.3h.01" fill="none" stroke="#446" stroke-width="0.75" stroke-linecap="round" opacity="0.8"/>
<path d="M272.05 325.00V326.80M272.05 329.30V330.00M270.55 325.00H273.55M270.55 330.00H273.55" stroke="#777" stroke-width="0.35" stroke-dasharray="0.8 0.5" fill="none"/>
<rect x="267.60" y="326.80" width="8.90" height="2.50" fill="#66b6e6" stroke="#444" stroke-width="0.4"/>
<path d="M267.60 328.00H276.50" stroke="#222" stroke-width="0.6"/>
<path d="M269.1 327.9h.01M271.3 327.3h.01M269.0 329.3h.01M275.2 328.4h.01M274.7 327.6h.01M272.1 326.8h.01M273.4 325.6h.01M270.8 329.2h.01M270.1 327.4h.01M270.4 328.4h.01M274.8 325.8h.01" fill="none" stroke="#468" stroke-width="0.75" stroke-linecap="round" opacity="0.8"/>
<path d="M283.20 326.00V327.60M283.20 329.50V331.00M281.70 326.00H284.70M281.70 331.00H284.70" stroke="#777" stroke-width="0.35" stroke-dasharray="0.8 0.5" fill="none"/>
<rect x="279.00" y="327.60" width="8.40" height="1.90" fill="#3a9a44" stroke="#444" stroke-width="0.4"/>
<path d="M279.00 328.50H287.40" stroke="#222" stroke-width="0.6"/>
<path d="M281.3 329.4h.01M284.7 327.2h.01M282.5 329.7h.01M285.6 328.2h.01M280.3 327.9h.01M284.4 329.2h.01M282.8 326.3h.01M286.2 328.0h.01M286.5 327.8h.01M282.9 329.2h.01M285.2 329.5h.01" fill="none" stroke="#464" stroke-width="0.75" stroke-linecap="round" opacity="0.8"/>
<text x="238.80" y="338.30" font-size="4.4" text-anchor="middle" font-weight="normal" font-style="normal" fill="#111"  stroke="#111" stroke-width="0.1">BL</text>
<text x="238.80" y="343.90" font-size="4.4" text-anchor="middle" font-weight="normal" font-style="normal" fill="#111"  stroke="#111" stroke-width="0.1">(95)</text>
<text x="249.70" y="338.30" font-size="4.4" text-anchor="middle" font-weight="normal" font-style="normal" fill="#111"  stroke="#111" stroke-width="0.1">HER2</text>
<text x="249.70" y="343.90" font-size="4.4" text-anchor="middle" font-weight="normal" font-style="normal" fill="#111"  stroke="#111" stroke-width="0.1">(28)</text>
<text x="260.60" y="338.30" font-size="4.4" text-anchor="middle" font-weight="normal" font-style="normal" fill="#111"  stroke="#111" stroke-width="0.1">LumA</text>
<text x="260.60" y="343.90" font-size="4.4" text-anchor="middle" font-weight="normal" font-style="normal" fill="#111"  stroke="#111" stroke-width="0.1">(11)</text>
<text x="272.00" y="338.30" font-size="4.4" text-anchor="middle" font-weight="normal" font-style="normal" fill="#111"  stroke="#111" stroke-width="0.1">LumB</text>
<text x="272.00" y="343.90" font-size="4.4" text-anchor="middle" font-weight="normal" font-style="normal" fill="#111"  stroke="#111" stroke-width="0.1">(10)</text>
<text x="283.20" y="338.30" font-size="4.4" text-anchor="middle" font-weight="normal" font-style="normal" fill="#111"  stroke="#111" stroke-width="0.1">NL</text>
<text x="283.20" y="343.90" font-size="4.4" text-anchor="middle" font-weight="normal" font-style="normal" fill="#111"  stroke="#111" stroke-width="0.1">(13)</text>
<path d="M232.50 350.00V389.50H296.00" fill="none" stroke="#777" stroke-width="0.6"/>
<text x="231.70" y="357.30" font-size="3.8" fill="#222" stroke="#222" stroke-width="0.06" text-anchor="end">10</text>
<text x="231.70" y="367.30" font-size="3.8" fill="#222" stroke="#222" stroke-width="0.06" text-anchor="end">9</text>
<text x="231.70" y="376.50" font-size="3.8" fill="#222" stroke="#222" stroke-width="0.06" text-anchor="end">8</text>
<text x="231.70" y="385.80" font-size="3.8" fill="#222" stroke="#222" stroke-width="0.06" text-anchor="end">7</text>
<text x="224.60" y="369.50" font-size="4.2" fill="#111" stroke="#111" stroke-width="0.06" text-anchor="middle" transform="rotate(-90 224.60 369.50)"><tspan font-style="italic">CDK2</tspan> expression (log2)</text>
<path d="M236.30 350.50H279.90" stroke="#707070" stroke-width="0.65"/>
<text x="280.20" y="351.70" font-size="6.0" text-anchor="start" font-weight="normal" font-style="normal" fill="#333" >***</text>
<path d="M236.30 358.50H260.60" stroke="#707070" stroke-width="0.65"/>
<text x="260.90" y="359.80" font-size="6.0" text-anchor="start" font-weight="normal" font-style="normal" fill="#333" >***</text>
<path d="M238.80 365.00V373.60M238.80 378.30V382.00M237.30 365.00H240.30M237.30 382.00H240.30" stroke="#777" stroke-width="0.35" stroke-dasharray="0.8 0.5" fill="none"/>
<rect x="234.60" y="373.60" width="8.40" height="4.70" fill="#e8202a" stroke="#444" stroke-width="0.4"/>
<path d="M234.60 376.00H243.00" stroke="#222" stroke-width="0.6"/>
<path d="M242.0 376.3h.01M237.5 373.2h.01M240.5 378.3h.01M240.2 376.4h.01M237.5 369.8h.01M241.7 376.4h.01M237.9 367.4h.01M238.8 374.4h.01M237.1 374.9h.01M237.0 377.6h.01M237.4 371.8h.01M241.1 377.3h.01M240.4 380.1h.01M239.3 374.7h.01M241.6 378.3h.01M240.0 381.6h.01M238.8 378.6h.01M238.9 379.9h.01M239.6 375.4h.01M238.0 373.4h.01M241.8 376.6h.01M238.1 365.2h.01M239.6 374.1h.01M241.3 375.4h.01M241.6 379.9h.01M241.6 379.7h.01M238.2 380.8h.01M240.6 375.7h.01M238.3 376.4h.01M235.9 374.2h.01M238.1 373.6h.01M236.4 378.1h.01M241.7 377.8h.01M237.7 376.1h.01M236.1 374.9h.01M241.3 379.7h.01M235.8 376.6h.01M239.5 366.2h.01M241.6 378.2h.01M240.7 377.9h.01M241.4 377.6h.01M237.5 376.7h.01M236.3 375.8h.01M237.0 376.9h.01M237.8 373.9h.01M242.0 379.1h.01M241.4 372.6h.01M237.8 378.8h.01M238.1 368.3h.01" fill="none" stroke="#a66" stroke-width="0.75" stroke-linecap="round" opacity="0.8"/>
<path d="M249.70 370.00V375.20M249.70 379.40V382.00M248.20 370.00H251.20M248.20 382.00H251.20" stroke="#777" stroke-width="0.35" stroke-dasharray="0.8 0.5" fill="none"/>
<rect x="245.50" y="375.20" width="8.40" height="4.20" fill="#d8649e" stroke="#444" stroke-width="0.4"/>
<path d="M245.50 377.50H253.90" stroke="#222" stroke-width="0.6"/>
<path d="M250.5 376.8h.01M250.3 370.5h.01M251.3 378.6h.01M250.7 381.6h.01M249.4 378.2h.01M252.4 375.7h.01M247.8 375.8h.01M251.4 375.4h.01M248.5 376.5h.01M250.2 377.3h.01M252.3 376.9h.01M249.0 376.2h.01M248.4 375.8h.01M247.1 375.3h.01M246.6 381.5h.01M248.7 375.7h.01M249.3 372.9h.01M247.3 377.4h.01M248.2 376.9h.01" fill="none" stroke="#866" stroke-width="0.75" stroke-linecap="round" opacity="0.8"/>
<path d="M260.60 376.00V378.90M260.60 381.10V383.00M259.10 376.00H262.10M259.10 383.00H262.10" stroke="#777" stroke-width="0.35" stroke-dasharray="0.8 0.5" fill="none"/>
<rect x="256.40" y="378.90" width="8.40" height="2.20" fill="#232a7e" stroke="#444" stroke-width="0.4"/>
<path d="M256.40 380.00H264.80" stroke="#222" stroke-width="0.6"/>
<path d="M260.2 380.6h.01M262.0 377.2h.01M261.9 382.7h.01M261.5 380.4h.01M257.5 380.2h.01M263.4 379.3h.01M262.4 379.5h.01M260.6 378.9h.01M257.9 378.0h.01M259.4 380.5h.01M262.8 376.5h.01" fill="none" stroke="#446" stroke-width="0.75" stroke-linecap="round" opacity="0.8"/>
<path d="M272.05 372.00V374.40M272.05 378.30V380.00M270.55 372.00H273.55M270.55 380.00H273.55" stroke="#777" stroke-width="0.35" stroke-dasharray="0.8 0.5" fill="none"/>
<rect x="267.60" y="374.40" width="8.90" height="3.90" fill="#66b6e6" stroke="#444" stroke-width="0.4"/>
<path d="M267.60 376.50H276.50" stroke="#222" stroke-width="0.6"/>
<path d="M269.5 379.2h.01M270.0 379.1h.01M271.1 375.0h.01M273.2 372.7h.01M269.6 372.4h.01M270.5 378.5h.01M268.5 377.2h.01M270.9 373.4h.01M274.5 372.1h.01M270.5 376.8h.01M272.7 373.8h.01" fill="none" stroke="#468" stroke-width="0.75" stroke-linecap="round" opacity="0.8"/>
<path d="M283.20 372.00V380.60M283.20 383.60V385.00M281.70 372.00H284.70M281.70 385.00H284.70" stroke="#777" stroke-width="0.35" stroke-dasharray="0.8 0.5" fill="none"/>
<rect x="279.00" y="380.60" width="8.40" height="3.00" fill="#3a9a44" stroke="#444" stroke-width="0.4"/>
<path d="M279.00 382.00H287.40" stroke="#222" stroke-width="0.6"/>
<path d="M279.8 382.4h.01M285.4 374.9h.01M282.7 382.6h.01M284.7 383.5h.01M282.6 380.7h.01M285.5 383.0h.01M281.6 374.8h.01M281.1 380.7h.01M281.4 381.1h.01M282.0 381.0h.01M280.1 372.3h.01" fill="none" stroke="#464" stroke-width="0.75" stroke-linecap="round" opacity="0.8"/>
<text x="238.80" y="395.40" font-size="4.4" text-anchor="middle" font-weight="normal" font-style="normal" fill="#111"  stroke="#111" stroke-width="0.1">BL</text>
<text x="238.80" y="401.00" font-size="4.4" text-anchor="middle" font-weight="normal" font-style="normal" fill="#111"  stroke="#111" stroke-width="0.1">(95)</text>
<text x="249.70" y="395.40" font-size="4.4" text-anchor="middle" font-weight="normal" font-style="normal" fill="#111"  stroke="#111" stroke-width="0.1">HER2</text>
<text x="249.70" y="401.00" font-size="4.4" text-anchor="middle" font-weight="normal" font-style="normal" fill="#111"  stroke="#111" stroke-width="0.1">(28)</text>
<text x="260.60" y="395.40" font-size="4.4" text-anchor="middle" font-weight="normal" font-style="normal" fill="#111"  stroke="#111" stroke-width="0.1">LumA</text>
<text x="260.60" y="401.00" font-size="4.4" text-anchor="middle" font-weight="normal" font-style="normal" fill="#111"  stroke="#111" stroke-width="0.1">(11)</text>
<text x="272.00" y="395.40" font-size="4.4" text-anchor="middle" font-weight="normal" font-style="normal" fill="#111"  stroke="#111" stroke-width="0.1">LumB</text>
<text x="272.00" y="401.00" font-size="4.4" text-anchor="middle" font-weight="normal" font-style="normal" fill="#111"  stroke="#111" stroke-width="0.1">(10)</text>
<text x="283.20" y="395.40" font-size="4.4" text-anchor="middle" font-weight="normal" font-style="normal" fill="#111"  stroke="#111" stroke-width="0.1">NL</text>
<text x="283.20" y="401.00" font-size="4.4" text-anchor="middle" font-weight="normal" font-style="normal" fill="#111"  stroke="#111" stroke-width="0.1">(13)</text>
<path d="M306.50 292.00V332.50H370.00" fill="none" stroke="#777" stroke-width="0.6"/>
<text x="305.70" y="301.40" font-size="3.8" fill="#222" stroke="#222" stroke-width="0.06" text-anchor="end">15</text>
<text x="305.70" y="314.30" font-size="3.8" fill="#222" stroke="#222" stroke-width="0.06" text-anchor="end">10</text>
<text x="305.70" y="327.30" font-size="3.8" fill="#222" stroke="#222" stroke-width="0.06" text-anchor="end">5</text>
<text x="298.80" y="312.00" font-size="4.2" fill="#111" stroke="#111" stroke-width="0.06" text-anchor="middle" transform="rotate(-90 298.80 312.00)"><tspan font-style="italic">CCNE1</tspan> expression (RSEM)</text>
<text x="336.10" y="289.50" font-size="4.4" text-anchor="middle" font-weight="normal" font-style="normal" fill="#111"  stroke="#111" stroke-width="0.1">TCGA</text>
<path d="M311.00 292.50H355.40" stroke="#707070" stroke-width="0.65"/>
<text x="355.70" y="294.10" font-size="6.0" text-anchor="start" font-weight="normal" font-style="normal" fill="#333" >***</text>
<path d="M311.00 296.50H345.30" stroke="#707070" stroke-width="0.65"/>
<text x="345.60" y="298.00" font-size="6.0" text-anchor="start" font-weight="normal" font-style="normal" fill="#333" >***</text>
<path d="M311.00 300.50H334.40" stroke="#707070" stroke-width="0.65"/>
<text x="334.70" y="301.80" font-size="6.0" text-anchor="start" font-weight="normal" font-style="normal" fill="#333" >***</text>
<path d="M311.00 303.50H321.80" stroke="#707070" stroke-width="0.65"/>
<text x="322.10" y="305.50" font-size="6.0" text-anchor="start" font-weight="normal" font-style="normal" fill="#333" >***</text>
<path d="M313.90 308.00V315.60M313.90 321.40V326.00M312.40 308.00H315.40M312.40 326.00H315.40" stroke="#777" stroke-width="0.35" stroke-dasharray="0.8 0.5" fill="none"/>
<rect x="309.30" y="315.60" width="9.20" height="5.80" fill="#e8202a" stroke="#444" stroke-width="0.4"/>
<path d="M309.30 318.50H318.50" stroke="#222" stroke-width="0.6"/>
<path d="M316.8 320.3h.01M311.6 317.2h.01M311.6 316.8h.01M311.5 311.4h.01M310.9 324.5h.01M313.1 321.3h.01M315.0 320.4h.01M316.3 319.8h.01M315.6 317.6h.01M311.6 325.0h.01M317.6 316.8h.01M317.0 316.7h.01M313.2 310.0h.01M313.4 312.2h.01M316.1 314.3h.01M314.3 319.1h.01M316.1 320.2h.01M314.1 311.4h.01M314.8 319.9h.01M312.0 310.5h.01M315.0 321.0h.01M313.5 319.9h.01M315.7 320.1h.01M313.0 317.3h.01M311.4 316.7h.01M314.5 325.5h.01M317.1 315.8h.01M315.6 317.3h.01M310.6 310.0h.01M314.0 321.4h.01M313.9 319.4h.01M312.9 316.0h.01M317.6 315.7h.01M310.9 317.5h.01M317.3 310.9h.01M314.8 308.4h.01M314.7 319.4h.01M314.9 318.4h.01M315.5 320.7h.01M313.2 316.0h.01M311.0 319.3h.01M311.4 317.9h.01M315.6 319.3h.01M315.5 316.0h.01M316.9 318.1h.01M315.1 316.5h.01M315.8 320.6h.01M316.1 317.4h.01M310.4 316.9h.01M315.5 325.4h.01M316.2 311.6h.01M311.8 322.8h.01M315.4 321.1h.01M310.4 317.1h.01M311.2 318.7h.01M317.1 321.3h.01M316.8 316.6h.01M313.8 320.6h.01M312.5 321.1h.01M311.1 322.0h.01M311.0 325.2h.01M312.0 318.4h.01M316.8 324.6h.01M315.0 315.5h.01M315.8 313.8h.01M312.8 320.9h.01M311.2 318.2h.01M314.9 319.9h.01M311.0 322.3h.01M310.2 318.2h.01M312.5 319.5h.01M316.0 319.9h.01M314.0 318.3h.01M310.3 312.1h.01M310.8 321.0h.01M311.0 316.9h.01M312.5 315.2h.01M312.2 322.4h.01M312.1 312.7h.01M311.5 317.3h.01M313.9 320.8h.01M317.2 318.5h.01M312.4 320.6h.01M312.2 321.3h.01M311.1 309.6h.01M316.1 311.0h.01M313.3 321.1h.01M312.7 313.8h.01M314.5 317.3h.01M311.3 318.7h.01M313.7 317.5h.01M313.6 325.6h.01M316.6 322.5h.01M315.0 311.1h.01M311.3 316.4h.01M312.3 312.5h.01M314.1 317.4h.01M315.2 316.6h.01M317.4 320.6h.01M316.5 319.1h.01M312.8 321.2h.01M312.4 315.9h.01M314.4 319.4h.01M312.7 318.9h.01M312.5 320.6h.01M311.9 309.1h.01M310.8 321.9h.01M315.5 322.9h.01M313.5 312.4h.01M310.3 319.8h.01M311.2 317.4h.01M316.9 316.4h.01M316.3 321.3h.01M316.8 316.8h.01M315.7 319.6h.01M315.0 319.6h.01M316.4 311.1h.01M313.4 309.5h.01M312.6 318.6h.01M315.8 316.6h.01M314.4 315.8h.01M317.2 315.4h.01M311.8 321.2h.01M311.8 319.6h.01" fill="none" stroke="#333" stroke-width="0.75" stroke-linecap="round" opacity="0.8"/>
<path d="M324.80 312.00V319.80M324.80 324.00V329.00M323.30 312.00H326.30M323.30 329.00H326.30" stroke="#777" stroke-width="0.35" stroke-dasharray="0.8 0.5" fill="none"/>
<rect x="320.20" y="319.80" width="9.20" height="4.20" fill="#c2498a" stroke="#444" stroke-width="0.4"/>
<path d="M320.20 322.00H329.40" stroke="#222" stroke-width="0.6"/>
<path d="M328.0 312.1h.01M327.3 323.8h.01M321.5 328.0h.01M328.3 315.6h.01M325.7 319.7h.01M323.7 321.0h.01M328.2 322.7h.01M326.7 312.1h.01M322.6 321.1h.01M324.6 323.8h.01M327.2 312.4h.01M326.0 327.2h.01M327.2 317.4h.01M324.5 317.4h.01M326.8 327.8h.01M324.4 319.9h.01M325.0 322.9h.01M321.6 317.4h.01M325.3 321.9h.01M326.9 322.4h.01M323.5 322.4h.01M322.7 325.4h.01M326.2 319.1h.01M322.3 322.3h.01M323.9 314.5h.01M327.9 324.7h.01M325.0 320.4h.01M328.0 328.9h.01M326.5 323.8h.01M327.4 325.0h.01M322.7 322.1h.01M321.0 328.8h.01M326.7 328.1h.01M326.0 327.3h.01M321.5 323.3h.01M328.3 312.6h.01M327.4 323.5h.01M328.3 322.9h.01M321.2 321.2h.01M326.3 323.3h.01M325.2 320.1h.01M322.3 321.2h.01M323.3 315.1h.01M325.7 325.3h.01M327.2 322.7h.01M327.8 323.2h.01M325.8 323.1h.01M327.1 328.1h.01M327.2 320.2h.01M323.2 326.5h.01M326.5 313.0h.01M326.6 322.2h.01M326.4 320.0h.01M321.3 320.1h.01M328.5 322.3h.01M324.5 323.4h.01M323.8 322.0h.01M323.8 323.8h.01M326.9 323.9h.01M325.7 315.1h.01M326.7 322.6h.01M321.4 323.8h.01M325.4 323.7h.01M325.5 321.8h.01M324.0 322.8h.01M322.0 321.6h.01M322.9 323.4h.01M327.2 322.4h.01M327.5 322.3h.01M324.9 322.2h.01M322.6 322.7h.01M322.9 316.6h.01M327.3 321.0h.01M321.4 321.5h.01M324.7 323.2h.01M324.2 327.5h.01M323.8 321.7h.01M321.1 323.0h.01M327.6 323.3h.01" fill="none" stroke="#444" stroke-width="0.75" stroke-linecap="round" opacity="0.8"/>
<path d="M336.65 320.00V324.80M336.65 328.10V331.00M335.15 320.00H338.15M335.15 331.00H338.15" stroke="#777" stroke-width="0.35" stroke-dasharray="0.8 0.5" fill="none"/>
<rect x="332.20" y="324.80" width="8.90" height="3.30" fill="#14143c" stroke="#444" stroke-width="0.4"/>
<path d="M332.20 326.50H341.10" stroke="#222" stroke-width="0.6"/>
<path d="M334.3 326.3h.01M336.3 330.2h.01M337.1 326.0h.01M339.9 320.7h.01M333.5 326.9h.01M333.6 327.2h.01M333.2 326.4h.01M334.3 327.8h.01M333.1 325.7h.01M334.1 326.0h.01M335.3 328.6h.01M340.2 322.1h.01M335.9 320.5h.01M338.6 328.2h.01M337.8 327.8h.01M339.7 328.2h.01M336.5 326.9h.01M338.4 325.0h.01M335.9 320.6h.01M335.1 329.6h.01M335.8 324.6h.01M335.6 326.4h.01M335.1 327.1h.01M338.2 330.8h.01M335.3 320.7h.01M334.1 326.3h.01M338.3 325.5h.01M335.8 326.0h.01M339.2 326.4h.01M333.7 326.4h.01M338.3 326.5h.01M339.3 326.8h.01M338.6 325.3h.01M339.9 328.0h.01M337.1 325.6h.01M336.2 325.9h.01M338.1 327.3h.01M333.5 330.2h.01M333.3 325.8h.01M338.4 321.9h.01M339.4 323.8h.01M336.6 324.5h.01M337.7 326.4h.01M335.6 326.0h.01M337.3 327.2h.01M339.6 327.5h.01M334.6 324.8h.01M333.7 325.8h.01M335.3 325.0h.01M337.0 321.6h.01M337.2 326.1h.01M335.1 326.5h.01M333.8 327.4h.01M339.8 326.5h.01M333.1 326.3h.01M339.3 325.3h.01M337.4 325.6h.01M334.0 328.3h.01M336.1 324.9h.01M336.2 323.8h.01M337.9 326.7h.01M334.1 327.4h.01M334.7 328.1h.01M337.1 326.1h.01M338.5 330.2h.01M339.1 326.0h.01M333.3 326.8h.01M338.2 325.3h.01M339.5 325.9h.01M334.7 328.6h.01M335.9 330.5h.01M339.5 325.3h.01M334.2 330.8h.01M336.7 323.7h.01M335.7 326.9h.01M336.5 326.1h.01M337.0 325.2h.01M337.4 320.4h.01M335.1 327.0h.01M338.8 327.7h.01M339.1 327.9h.01M336.1 327.6h.01M335.9 326.8h.01M334.9 325.3h.01M336.9 327.6h.01M338.4 328.0h.01M340.2 327.1h.01M336.5 325.2h.01M333.5 325.3h.01M336.4 327.6h.01M338.0 324.9h.01M338.0 321.8h.01M334.6 325.2h.01M333.2 326.2h.01M338.7 322.4h.01M334.9 325.3h.01M334.5 327.6h.01M334.1 327.4h.01M336.9 325.2h.01M337.6 326.9h.01M339.3 325.5h.01M338.8 330.3h.01M339.7 330.4h.01M336.9 326.6h.01M333.6 325.5h.01M333.2 330.0h.01M339.9 324.5h.01M334.5 325.5h.01M333.3 327.6h.01M333.7 322.0h.01M334.5 327.6h.01M335.7 321.9h.01M337.9 327.7h.01M338.7 327.8h.01M335.1 320.3h.01M334.9 331.0h.01M334.1 330.3h.01M336.8 329.7h.01M339.3 326.7h.01M335.1 321.7h.01M337.4 326.9h.01M338.7 326.2h.01M338.6 327.7h.01M333.4 326.7h.01M337.9 320.5h.01M334.5 325.1h.01M334.9 320.3h.01M335.1 325.1h.01M337.5 327.7h.01M338.6 329.3h.01M334.5 321.6h.01M333.0 326.0h.01M337.5 327.2h.01M337.3 322.1h.01M338.8 323.5h.01M339.6 325.2h.01M339.5 326.6h.01M335.7 325.1h.01M337.3 325.2h.01" fill="none" stroke="#222" stroke-width="0.75" stroke-linecap="round" opacity="0.8"/>
<path d="M348.05 313.00V322.00M348.05 326.00V329.00M346.55 313.00H349.55M346.55 329.00H349.55" stroke="#777" stroke-width="0.35" stroke-dasharray="0.8 0.5" fill="none"/>
<rect x="343.70" y="322.00" width="8.70" height="4.00" fill="#3a7fa8" stroke="#444" stroke-width="0.4"/>
<path d="M343.70 324.00H352.40" stroke="#222" stroke-width="0.6"/>
<path d="M346.2 324.4h.01M351.5 322.0h.01M346.5 319.9h.01M349.2 323.7h.01M346.9 323.6h.01M351.2 322.3h.01M346.4 325.2h.01M344.8 324.0h.01M349.4 315.4h.01M347.4 323.4h.01M344.7 323.3h.01M348.6 324.3h.01M345.4 324.0h.01M350.6 314.0h.01M349.9 324.1h.01M349.1 314.7h.01M350.5 322.2h.01M347.8 325.4h.01M348.7 313.8h.01M349.2 324.6h.01M345.6 322.6h.01M351.5 322.6h.01M348.5 322.8h.01M347.7 325.3h.01M351.2 324.5h.01M351.4 324.0h.01M347.6 320.7h.01M350.9 314.4h.01M344.7 326.8h.01M349.3 325.1h.01M349.2 324.8h.01M347.0 324.9h.01M350.8 324.8h.01M350.1 323.2h.01M350.4 324.0h.01M351.4 325.2h.01M344.6 325.1h.01M350.0 324.5h.01M349.9 322.1h.01M347.4 324.3h.01M351.1 322.3h.01M351.3 320.1h.01M346.8 319.9h.01M345.0 322.3h.01M351.6 324.1h.01M344.8 323.3h.01M347.5 326.5h.01M344.8 323.4h.01M347.5 325.2h.01M350.0 320.5h.01M346.3 322.9h.01M346.2 328.7h.01M349.6 324.2h.01M345.2 324.5h.01M348.6 315.9h.01M346.0 317.8h.01M345.4 325.9h.01M349.9 324.3h.01M349.7 323.8h.01M345.4 323.9h.01M347.3 324.2h.01M351.6 321.0h.01M344.9 319.2h.01M349.0 318.1h.01M346.3 321.8h.01M351.1 324.8h.01M347.4 327.6h.01M345.2 323.1h.01M350.4 315.6h.01M344.6 323.6h.01M348.3 325.0h.01M348.0 323.4h.01M346.8 319.3h.01M344.9 321.8h.01M345.0 315.2h.01M345.4 320.2h.01M351.1 319.7h.01M351.5 324.4h.01M348.3 323.1h.01M348.9 326.6h.01M345.5 324.9h.01M349.9 323.6h.01M345.3 324.1h.01M345.5 313.9h.01M351.5 323.5h.01M347.9 318.3h.01M351.1 322.4h.01M345.5 324.0h.01M347.4 323.9h.01M351.4 321.1h.01M347.3 323.7h.01M345.4 322.9h.01M346.2 325.0h.01M348.2 322.7h.01M349.1 318.2h.01M349.8 315.7h.01M345.5 323.8h.01M346.8 326.0h.01M346.1 326.8h.01M351.0 314.6h.01M346.9 323.5h.01M349.6 325.1h.01M345.4 324.2h.01M348.9 318.6h.01M348.1 323.5h.01M351.1 324.1h.01M351.5 314.1h.01M351.5 325.5h.01M349.7 329.0h.01M347.5 324.0h.01M346.3 314.8h.01M345.9 322.7h.01M348.1 322.3h.01M346.1 322.1h.01M349.2 326.0h.01M347.1 326.6h.01" fill="none" stroke="#333" stroke-width="0.75" stroke-linecap="round" opacity="0.8"/>
<path d="M359.25 320.00V324.80M359.25 327.60V330.00M357.75 320.00H360.75M357.75 330.00H360.75" stroke="#777" stroke-width="0.35" stroke-dasharray="0.8 0.5" fill="none"/>
<rect x="355.00" y="324.80" width="8.50" height="2.80" fill="#3a9a44" stroke="#444" stroke-width="0.4"/>
<path d="M355.00 326.00H363.50" stroke="#222" stroke-width="0.6"/>
<path d="M360.7 325.1h.01M356.6 325.6h.01M357.0 327.4h.01M360.7 327.1h.01M359.4 320.2h.01M356.9 326.1h.01M359.0 320.4h.01M360.3 327.5h.01M358.2 327.3h.01M360.6 328.3h.01M356.0 326.5h.01M361.4 326.0h.01M362.7 329.4h.01M356.2 324.2h.01M360.3 326.1h.01M361.5 324.8h.01M358.8 326.5h.01M360.0 325.5h.01M362.2 320.4h.01M357.7 325.1h.01M359.8 320.3h.01M360.0 329.2h.01M360.3 327.2h.01M360.9 322.3h.01M361.6 325.1h.01M357.7 327.6h.01M356.0 324.7h.01M358.3 327.5h.01M357.5 327.7h.01M359.0 324.4h.01M360.4 325.3h.01M360.9 322.5h.01M361.4 326.4h.01M362.6 324.0h.01M362.7 327.7h.01M359.0 327.4h.01M357.9 324.9h.01M360.1 323.7h.01M360.3 329.1h.01M356.2 327.2h.01M358.3 327.1h.01M359.5 321.4h.01M361.3 322.5h.01M360.4 321.7h.01M357.3 326.7h.01M355.9 324.8h.01M361.9 327.0h.01M360.9 326.5h.01M361.2 327.0h.01M356.2 326.2h.01M358.4 326.1h.01M361.9 324.1h.01M359.8 327.4h.01M356.8 326.4h.01M357.3 322.6h.01M362.6 325.9h.01M356.5 326.7h.01M355.9 327.0h.01M356.5 326.2h.01M359.4 325.5h.01M356.3 326.2h.01M360.1 323.3h.01M359.1 327.3h.01M356.0 326.8h.01" fill="none" stroke="#444" stroke-width="0.75" stroke-linecap="round" opacity="0.8"/>
<text x="313.90" y="338.30" font-size="4.4" text-anchor="middle" font-weight="normal" font-style="normal" fill="#111"  stroke="#111" stroke-width="0.1">BL</text>
<text x="313.90" y="343.90" font-size="4.4" text-anchor="middle" font-weight="normal" font-style="normal" fill="#111"  stroke="#111" stroke-width="0.1">(142)</text>
<text x="324.80" y="338.30" font-size="4.4" text-anchor="middle" font-weight="normal" font-style="normal" fill="#111"  stroke="#111" stroke-width="0.1">HER2</text>
<text x="324.80" y="343.90" font-size="4.4" text-anchor="middle" font-weight="normal" font-style="normal" fill="#111"  stroke="#111" stroke-width="0.1">(70)</text>
<text x="336.60" y="338.30" font-size="4.4" text-anchor="middle" font-weight="normal" font-style="normal" fill="#111"  stroke="#111" stroke-width="0.1">LumA</text>
<text x="336.60" y="343.90" font-size="4.4" text-anchor="middle" font-weight="normal" font-style="normal" fill="#111"  stroke="#111" stroke-width="0.1">(192)</text>
<text x="348.00" y="338.30" font-size="4.4" text-anchor="middle" font-weight="normal" font-style="normal" fill="#111"  stroke="#111" stroke-width="0.1">LumB</text>
<text x="348.00" y="343.90" font-size="4.4" text-anchor="middle" font-weight="normal" font-style="normal" fill="#111"  stroke="#111" stroke-width="0.1">(123)</text>
<text x="359.30" y="338.30" font-size="4.4" text-anchor="middle" font-weight="normal" font-style="normal" fill="#111"  stroke="#111" stroke-width="0.1">NL</text>
<text x="359.30" y="343.90" font-size="4.4" text-anchor="middle" font-weight="normal" font-style="normal" fill="#111"  stroke="#111" stroke-width="0.1">(51)</text>
<path d="M306.50 346.70V389.50H370.00" fill="none" stroke="#777" stroke-width="0.6"/>
<text x="305.70" y="361.40" font-size="3.8" fill="#222" stroke="#222" stroke-width="0.06" text-anchor="end">12</text>
<text x="305.70" y="374.00" font-size="3.8" fill="#222" stroke="#222" stroke-width="0.06" text-anchor="end">10</text>
<text x="305.70" y="386.30" font-size="3.8" fill="#222" stroke="#222" stroke-width="0.06" text-anchor="end">8</text>
<text x="298.80" y="368.10" font-size="4.2" fill="#111" stroke="#111" stroke-width="0.06" text-anchor="middle" transform="rotate(-90 298.80 368.10)"><tspan font-style="italic">CDK2</tspan> expression (RSEM)</text>
<path d="M311.00 349.50H355.40" stroke="#707070" stroke-width="0.65"/>
<text x="355.70" y="351.40" font-size="6.0" text-anchor="start" font-weight="normal" font-style="normal" fill="#333" >***</text>
<path d="M311.00 357.50H333.60" stroke="#707070" stroke-width="0.65"/>
<text x="333.90" y="358.80" font-size="6.0" text-anchor="start" font-weight="normal" font-style="normal" fill="#333" >***</text>
<path d="M313.90 362.00V371.00M313.90 376.60V382.00M312.40 362.00H315.40M312.40 382.00H315.40" stroke="#777" stroke-width="0.35" stroke-dasharray="0.8 0.5" fill="none"/>
<rect x="309.30" y="371.00" width="9.20" height="5.60" fill="#e8202a" stroke="#444" stroke-width="0.4"/>
<path d="M309.30 373.50H318.50" stroke="#222" stroke-width="0.6"/>
<path d="M314.3 373.6h.01M317.4 373.8h.01M316.1 372.4h.01M316.5 372.5h.01M316.8 376.0h.01M310.6 373.9h.01M315.6 375.3h.01M315.6 364.7h.01M315.2 379.4h.01M311.3 373.4h.01M313.1 376.4h.01M317.6 373.7h.01M316.1 375.8h.01M316.1 374.6h.01M313.6 363.0h.01M317.2 375.4h.01M313.7 370.4h.01M312.8 377.1h.01M313.9 374.4h.01M313.3 379.1h.01M316.3 366.0h.01M312.7 374.1h.01M312.1 372.4h.01M316.6 373.5h.01M311.3 367.4h.01M316.4 370.5h.01M317.3 372.3h.01M315.5 378.0h.01M310.6 379.5h.01M315.8 371.2h.01M310.8 375.0h.01M314.8 375.9h.01M316.2 371.7h.01M317.5 364.3h.01M314.8 373.2h.01M310.3 379.5h.01M310.7 371.8h.01M313.3 364.8h.01M314.2 377.5h.01M311.8 375.0h.01M312.1 376.4h.01M312.5 363.1h.01M317.7 366.6h.01M315.2 379.6h.01M312.9 364.7h.01M311.0 373.1h.01M317.3 373.9h.01M317.0 374.9h.01M314.7 373.4h.01M310.8 371.9h.01M316.2 371.4h.01M317.1 373.8h.01M312.8 376.4h.01M314.6 374.5h.01M312.4 376.2h.01M317.5 371.1h.01M314.6 372.9h.01M315.6 372.9h.01M315.4 364.2h.01M315.5 376.9h.01M316.8 371.3h.01M317.7 376.6h.01M310.4 376.1h.01M316.5 369.9h.01M313.0 363.2h.01M317.3 371.9h.01M315.9 373.5h.01M314.3 362.5h.01M316.3 376.1h.01M315.8 374.4h.01M312.6 376.4h.01M317.0 373.4h.01M315.4 376.7h.01M312.5 376.3h.01M317.5 373.4h.01M311.1 374.3h.01M315.2 375.0h.01M314.4 374.3h.01M316.1 375.0h.01M317.2 373.7h.01M312.3 376.9h.01M316.1 374.9h.01M313.1 380.8h.01M314.2 374.6h.01M314.7 365.8h.01M310.8 362.2h.01M316.2 374.7h.01M311.7 376.4h.01M315.1 366.4h.01M313.0 366.0h.01M316.1 377.2h.01M313.5 376.1h.01M313.7 375.6h.01M310.3 378.7h.01M311.0 374.6h.01M316.6 374.5h.01M316.0 371.9h.01M314.3 373.1h.01M313.2 375.0h.01M315.4 376.1h.01M316.2 367.1h.01M311.6 373.3h.01M311.6 371.8h.01M313.2 362.6h.01M312.7 371.2h.01M313.0 376.0h.01M313.9 381.9h.01M317.0 375.8h.01M312.6 366.5h.01M312.7 372.5h.01M316.8 373.2h.01M317.1 372.9h.01M311.4 372.6h.01M312.6 376.2h.01M313.5 372.4h.01M316.8 373.4h.01M310.8 368.9h.01M312.2 373.3h.01M313.3 366.6h.01M315.0 373.5h.01M314.3 380.3h.01M315.7 368.6h.01M314.6 380.1h.01M311.5 380.3h.01" fill="none" stroke="#333" stroke-width="0.75" stroke-linecap="round" opacity="0.8"/>
<path d="M324.80 366.00V372.20M324.80 376.90V382.00M323.30 366.00H326.30M323.30 382.00H326.30" stroke="#777" stroke-width="0.35" stroke-dasharray="0.8 0.5" fill="none"/>
<rect x="320.20" y="372.20" width="9.20" height="4.70" fill="#c2498a" stroke="#444" stroke-width="0.4"/>
<path d="M320.20 374.50H329.40" stroke="#222" stroke-width="0.6"/>
<path d="M325.9 380.4h.01M326.5 368.1h.01M321.1 375.6h.01M327.3 374.8h.01M322.7 373.4h.01M328.2 372.3h.01M324.4 374.9h.01M326.4 372.9h.01M325.2 372.9h.01M327.1 373.2h.01M328.1 374.9h.01M322.0 371.1h.01M321.6 375.7h.01M327.3 380.5h.01M321.6 372.4h.01M322.1 367.2h.01M326.2 377.5h.01M328.3 373.5h.01M328.5 367.3h.01M325.6 373.9h.01M324.8 371.5h.01M327.0 373.3h.01M328.4 372.8h.01M321.7 372.6h.01M326.8 370.4h.01M322.9 376.8h.01M324.2 374.6h.01M326.4 379.6h.01M328.3 367.3h.01M326.4 376.8h.01M321.5 372.8h.01M327.1 374.8h.01M328.3 373.4h.01M325.9 373.3h.01M326.7 373.2h.01M327.0 376.3h.01M322.5 374.0h.01M324.8 374.8h.01M326.7 376.4h.01M322.4 373.8h.01M326.5 372.4h.01M326.0 373.3h.01M326.0 375.2h.01M324.6 372.4h.01M322.9 366.7h.01M324.8 370.4h.01M323.6 375.8h.01M328.6 372.7h.01M321.6 370.3h.01M321.9 375.8h.01M322.3 378.0h.01M327.7 374.2h.01M322.1 380.2h.01M321.2 379.1h.01M328.0 373.0h.01M328.1 374.4h.01M326.4 380.6h.01M321.4 373.6h.01M321.5 375.1h.01M322.7 376.5h.01M326.3 376.2h.01M322.0 376.6h.01M327.4 378.6h.01M321.3 368.2h.01M327.1 373.8h.01M322.7 372.4h.01M323.3 374.4h.01M325.9 374.0h.01M326.3 373.1h.01M327.9 374.5h.01M325.9 372.3h.01M322.2 373.4h.01M322.7 374.0h.01M322.0 374.4h.01M327.1 368.3h.01M323.3 376.6h.01M325.7 366.8h.01M327.5 372.4h.01M325.2 375.1h.01" fill="none" stroke="#444" stroke-width="0.75" stroke-linecap="round" opacity="0.8"/>
<path d="M336.65 368.00V374.40M336.65 378.90V384.00M335.15 368.00H338.15M335.15 384.00H338.15" stroke="#777" stroke-width="0.35" stroke-dasharray="0.8 0.5" fill="none"/>
<rect x="332.20" y="374.40" width="8.90" height="4.50" fill="#14143c" stroke="#444" stroke-width="0.4"/>
<path d="M332.20 376.50H341.10" stroke="#222" stroke-width="0.6"/>
<path d="M336.3 368.8h.01M337.4 376.2h.01M339.3 380.5h.01M335.2 378.8h.01M338.5 375.3h.01M338.9 375.1h.01M338.1 377.0h.01M340.1 377.9h.01M337.4 375.8h.01M335.6 378.3h.01M337.0 378.6h.01M337.3 383.3h.01M335.8 371.7h.01M334.5 377.3h.01M334.6 375.6h.01M338.5 371.9h.01M338.8 375.1h.01M340.0 369.9h.01M337.3 376.6h.01M336.1 375.0h.01M333.1 377.2h.01M333.7 371.2h.01M336.2 368.2h.01M335.1 377.2h.01M333.9 383.0h.01M333.8 376.6h.01M334.5 378.7h.01M334.4 377.7h.01M333.5 375.9h.01M334.3 377.9h.01M339.3 376.6h.01M333.2 378.0h.01M337.4 375.0h.01M337.4 376.3h.01M337.5 377.7h.01M337.8 375.4h.01M336.1 376.1h.01M335.3 378.3h.01M338.5 380.6h.01M338.3 380.3h.01M333.1 378.3h.01M339.2 378.9h.01M339.9 378.4h.01M334.3 370.5h.01M335.7 376.1h.01M337.3 375.2h.01M337.0 373.7h.01M335.1 380.0h.01M334.3 376.2h.01M338.7 375.1h.01M336.2 378.3h.01M339.7 382.3h.01M338.8 376.4h.01M338.2 374.9h.01M340.0 375.4h.01M338.9 375.5h.01M334.8 378.7h.01M334.9 375.4h.01M333.6 371.8h.01M333.6 376.6h.01M333.3 377.0h.01M335.2 368.1h.01M338.0 375.1h.01M338.6 383.7h.01M338.7 379.3h.01M335.5 376.7h.01M334.1 374.6h.01M339.4 374.9h.01M339.3 376.4h.01M337.4 383.2h.01M333.8 376.2h.01M333.5 378.6h.01M339.3 381.7h.01M334.5 376.6h.01M340.1 374.7h.01M337.7 377.4h.01M335.1 374.6h.01M336.7 375.4h.01M337.9 375.2h.01M335.9 377.1h.01M335.2 378.8h.01M334.5 378.7h.01M334.4 376.5h.01M333.6 378.2h.01M339.8 378.1h.01M338.5 377.2h.01M335.4 382.3h.01M337.3 368.5h.01M339.0 372.0h.01M333.1 377.0h.01M334.7 374.7h.01M337.8 375.3h.01M333.7 373.1h.01M339.1 377.0h.01M334.5 377.7h.01M339.9 378.1h.01M336.8 376.0h.01M338.8 374.5h.01M337.2 377.5h.01M337.7 378.7h.01M335.7 374.5h.01M337.9 375.8h.01M337.4 377.6h.01M339.5 378.9h.01M337.6 375.4h.01M333.4 375.7h.01M338.6 375.0h.01M335.6 376.2h.01M337.3 377.4h.01M338.1 376.9h.01M337.2 375.2h.01M334.3 370.3h.01M335.5 379.9h.01M334.8 378.0h.01M335.7 383.7h.01M338.4 376.9h.01M338.6 377.3h.01M334.5 380.4h.01M338.9 374.5h.01M339.5 378.9h.01M335.5 375.5h.01M337.3 381.7h.01M336.0 375.0h.01M334.0 375.1h.01M335.5 378.5h.01M339.3 378.6h.01M333.1 379.9h.01M336.5 381.6h.01M338.2 378.5h.01M339.1 372.0h.01M334.0 382.8h.01M339.4 376.1h.01M335.5 373.3h.01M335.3 377.0h.01M333.1 383.8h.01M335.6 374.7h.01M334.6 371.2h.01M333.2 376.3h.01M333.5 374.6h.01" fill="none" stroke="#222" stroke-width="0.75" stroke-linecap="round" opacity="0.8"/>
<path d="M348.05 365.00V371.00M348.05 376.60V381.00M346.55 365.00H349.55M346.55 381.00H349.55" stroke="#777" stroke-width="0.35" stroke-dasharray="0.8 0.5" fill="none"/>
<rect x="343.70" y="371.00" width="8.70" height="5.60" fill="#3a7fa8" stroke="#444" stroke-width="0.4"/>
<path d="M343.70 373.50H352.40" stroke="#222" stroke-width="0.6"/>
<path d="M347.9 376.7h.01M348.5 372.5h.01M345.2 372.7h.01M349.6 371.8h.01M349.7 372.8h.01M350.6 366.4h.01M344.5 371.0h.01M344.6 373.1h.01M345.7 375.0h.01M345.8 368.3h.01M346.8 373.0h.01M351.4 366.3h.01M350.5 379.1h.01M347.7 368.2h.01M345.3 374.8h.01M346.7 372.5h.01M348.9 366.8h.01M346.7 376.1h.01M350.5 372.0h.01M349.5 371.8h.01M345.6 366.7h.01M350.4 373.3h.01M346.1 371.9h.01M348.1 375.5h.01M350.7 380.7h.01M348.6 371.4h.01M348.8 371.1h.01M349.9 377.8h.01M349.8 367.6h.01M345.2 375.7h.01M347.3 374.7h.01M347.1 373.6h.01M347.1 375.3h.01M349.6 380.9h.01M345.3 376.0h.01M345.7 376.3h.01M345.5 369.0h.01M350.1 369.2h.01M351.5 375.0h.01M345.7 380.3h.01M348.7 372.8h.01M346.0 372.5h.01M349.7 369.9h.01M345.0 372.1h.01M347.8 373.6h.01M346.1 373.4h.01M346.7 373.4h.01M347.7 368.6h.01M347.0 379.7h.01M346.1 373.5h.01M346.8 375.2h.01M346.8 372.6h.01M349.5 370.3h.01M349.1 374.9h.01M344.7 375.9h.01M346.6 369.8h.01M346.6 374.7h.01M345.4 366.3h.01M345.0 372.1h.01M345.3 375.5h.01M349.2 368.7h.01M349.1 369.9h.01M350.2 373.3h.01M344.7 373.9h.01M345.1 371.3h.01M345.3 376.6h.01M350.9 375.2h.01M348.4 371.9h.01M346.2 375.5h.01M347.7 367.8h.01M346.2 366.2h.01M349.0 377.9h.01M348.7 372.1h.01M350.9 371.7h.01M348.8 373.6h.01M349.4 380.1h.01M346.1 379.2h.01M351.2 367.9h.01M351.4 376.6h.01M349.2 375.7h.01M345.4 380.0h.01M348.7 373.9h.01M348.5 374.1h.01M346.3 372.7h.01M348.8 372.0h.01M348.2 371.1h.01M348.2 372.7h.01M344.5 371.7h.01M345.2 375.7h.01M346.3 374.9h.01M346.7 368.7h.01M350.1 375.4h.01M345.7 376.1h.01M344.8 376.1h.01M346.7 375.1h.01M348.7 371.9h.01M349.3 369.6h.01M351.5 376.5h.01M348.2 376.3h.01M345.0 371.8h.01M350.1 374.8h.01M349.3 377.2h.01M347.3 371.5h.01M351.2 372.1h.01M345.7 372.8h.01M347.5 372.8h.01M351.3 377.4h.01M347.4 371.0h.01M348.8 376.6h.01M350.6 376.5h.01M348.0 378.4h.01M346.0 372.8h.01M347.1 371.2h.01M350.5 366.0h.01M348.2 380.7h.01M346.9 374.1h.01" fill="none" stroke="#333" stroke-width="0.75" stroke-linecap="round" opacity="0.8"/>
<path d="M359.25 370.00V374.90M359.25 378.30V382.00M357.75 370.00H360.75M357.75 382.00H360.75" stroke="#777" stroke-width="0.35" stroke-dasharray="0.8 0.5" fill="none"/>
<rect x="355.00" y="374.90" width="8.50" height="3.40" fill="#3a9a44" stroke="#444" stroke-width="0.4"/>
<path d="M355.00 376.50H363.50" stroke="#222" stroke-width="0.6"/>
<path d="M355.9 380.2h.01M358.0 378.0h.01M362.6 376.1h.01M360.5 374.5h.01M359.6 376.7h.01M361.4 378.1h.01M358.2 370.1h.01M358.6 381.3h.01M360.9 376.7h.01M360.6 372.2h.01M360.9 375.1h.01M356.4 373.8h.01M357.1 377.9h.01M357.9 378.1h.01M356.6 377.9h.01M357.1 376.7h.01M362.6 378.2h.01M361.1 376.2h.01M359.1 373.9h.01M359.2 377.2h.01M357.1 377.4h.01M356.7 370.1h.01M358.9 371.3h.01M360.0 373.3h.01M356.9 377.2h.01M359.9 378.0h.01M359.8 375.8h.01M361.3 370.2h.01M356.0 375.8h.01M357.6 370.3h.01M356.3 377.1h.01M361.7 375.9h.01M362.1 377.7h.01M361.8 376.0h.01M358.3 376.1h.01M359.4 376.7h.01M358.2 375.2h.01M361.1 377.4h.01M359.4 376.3h.01M356.9 372.5h.01M360.1 376.0h.01M356.4 376.5h.01M360.9 375.0h.01M362.5 372.6h.01M357.8 375.3h.01M360.3 370.2h.01M361.5 370.9h.01M358.4 373.6h.01M361.7 375.8h.01M360.3 379.3h.01M359.0 375.1h.01M361.0 375.8h.01M355.8 376.2h.01M356.2 377.2h.01M359.7 376.4h.01M356.3 377.6h.01M358.9 376.3h.01M357.7 377.8h.01M357.6 378.1h.01M362.5 370.1h.01M358.7 376.3h.01M356.3 375.8h.01M361.9 378.3h.01M359.4 377.9h.01" fill="none" stroke="#444" stroke-width="0.75" stroke-linecap="round" opacity="0.8"/>
<text x="313.90" y="395.40" font-size="4.4" text-anchor="middle" font-weight="normal" font-style="normal" fill="#111"  stroke="#111" stroke-width="0.1">BL</text>
<text x="313.90" y="401.00" font-size="4.4" text-anchor="middle" font-weight="normal" font-style="normal" fill="#111"  stroke="#111" stroke-width="0.1">(142)</text>
<text x="324.80" y="395.40" font-size="4.4" text-anchor="middle" font-weight="normal" font-style="normal" fill="#111"  stroke="#111" stroke-width="0.1">HER2</text>
<text x="324.80" y="401.00" font-size="4.4" text-anchor="middle" font-weight="normal" font-style="normal" fill="#111"  stroke="#111" stroke-width="0.1">(70)</text>
<text x="336.60" y="395.40" font-size="4.4" text-anchor="middle" font-weight="normal" font-style="normal" fill="#111"  stroke="#111" stroke-width="0.1">LumA</text>
<text x="336.60" y="401.00" font-size="4.4" text-anchor="middle" font-weight="normal" font-style="normal" fill="#111"  stroke="#111" stroke-width="0.1">(192)</text>
<text x="348.00" y="395.40" font-size="4.4" text-anchor="middle" font-weight="normal" font-style="normal" fill="#111"  stroke="#111" stroke-width="0.1">LumB</text>
<text x="348.00" y="401.00" font-size="4.4" text-anchor="middle" font-weight="normal" font-style="normal" fill="#111"  stroke="#111" stroke-width="0.1">(123)</text>
<text x="359.30" y="395.40" font-size="4.4" text-anchor="middle" font-weight="normal" font-style="normal" fill="#111"  stroke="#111" stroke-width="0.1">NL</text>
<text x="359.30" y="401.00" font-size="4.4" text-anchor="middle" font-weight="normal" font-style="normal" fill="#111"  stroke="#111" stroke-width="0.1">(51)</text>
<path d="M384.50 292.00V333.50H445.00" fill="none" stroke="#777" stroke-width="0.6"/>
<text x="384.10" y="303.10" font-size="3.8" fill="#222" stroke="#222" stroke-width="0.06" text-anchor="end">12.5</text>
<text x="384.10" y="314.00" font-size="3.8" fill="#222" stroke="#222" stroke-width="0.06" text-anchor="end">10.0</text>
<text x="384.10" y="324.10" font-size="3.8" fill="#222" stroke="#222" stroke-width="0.06" text-anchor="end">7.5</text>
<text x="384.10" y="334.10" font-size="3.8" fill="#222" stroke="#222" stroke-width="0.06" text-anchor="end">5.0</text>
<text x="371.80" y="312.60" font-size="4.2" fill="#111" stroke="#111" stroke-width="0.06" text-anchor="middle" transform="rotate(-90 371.80 312.60)"><tspan font-style="italic">CCNE1</tspan> expression (log2)</text>
<text x="411.00" y="288.80" font-size="4.4" text-anchor="middle" font-weight="normal" font-style="normal" fill="#111"  stroke="#111" stroke-width="0.1">METABRIC</text>
<path d="M388.10 292.50H432.00" stroke="#707070" stroke-width="0.65"/>
<text x="432.30" y="294.10" font-size="6.0" text-anchor="start" font-weight="normal" font-style="normal" fill="#333" >***</text>
<path d="M388.10 296.50H421.20" stroke="#707070" stroke-width="0.65"/>
<text x="421.50" y="298.00" font-size="6.0" text-anchor="start" font-weight="normal" font-style="normal" fill="#333" >***</text>
<path d="M388.10 300.50H411.10" stroke="#707070" stroke-width="0.65"/>
<text x="411.40" y="301.80" font-size="6.0" text-anchor="start" font-weight="normal" font-style="normal" fill="#333" >***</text>
<path d="M388.10 303.50H399.40" stroke="#707070" stroke-width="0.65"/>
<text x="399.70" y="305.50" font-size="6.0" text-anchor="start" font-weight="normal" font-style="normal" fill="#333" >***</text>
<path d="M390.40 309.00V318.60M390.40 325.30V331.00M388.90 309.00H391.90M388.90 331.00H391.90" stroke="#777" stroke-width="0.35" stroke-dasharray="0.8 0.5" fill="none"/>
<rect x="386.00" y="318.60" width="8.80" height="6.70" fill="#e8202a" stroke="#444" stroke-width="0.4"/>
<path d="M386.00 322.00H394.80" stroke="#222" stroke-width="0.6"/>
<path d="M392.7 317.5h.01M388.8 321.8h.01M389.8 319.1h.01M392.7 318.9h.01M391.4 312.3h.01M391.0 321.4h.01M389.4 315.1h.01M393.5 325.3h.01M393.3 319.1h.01M388.2 328.4h.01M390.1 320.1h.01M389.2 319.9h.01M392.7 319.5h.01M386.8 328.6h.01M390.1 319.5h.01M390.0 321.9h.01M390.4 320.3h.01M389.9 324.9h.01M387.5 316.1h.01M388.0 319.8h.01M387.6 329.4h.01M387.7 311.9h.01M391.2 324.5h.01M388.9 324.4h.01M388.5 319.1h.01M387.1 310.6h.01M387.2 318.7h.01M389.2 319.4h.01M386.8 323.7h.01M390.1 320.9h.01M392.0 322.2h.01M388.8 314.4h.01M393.4 320.5h.01M391.3 326.8h.01M388.3 315.4h.01M388.1 319.9h.01M386.9 319.8h.01M387.2 323.5h.01M388.0 324.5h.01M393.6 322.6h.01M387.2 312.0h.01M392.7 319.5h.01M392.4 311.4h.01M390.4 313.9h.01M392.3 321.4h.01M391.3 322.0h.01M393.3 330.2h.01M393.3 320.9h.01M391.2 326.8h.01M388.1 311.9h.01M391.3 315.0h.01M388.7 322.6h.01M386.8 321.4h.01M393.0 322.1h.01M389.2 329.9h.01M393.4 321.6h.01M392.8 324.3h.01M387.0 320.0h.01M389.5 311.2h.01M390.2 321.0h.01M392.9 330.0h.01M391.0 312.5h.01M387.4 321.5h.01M393.1 325.0h.01M392.9 311.1h.01M390.4 320.9h.01M393.3 320.3h.01M390.6 319.1h.01M387.0 319.2h.01M387.1 324.5h.01M388.2 324.5h.01M392.3 324.6h.01M388.8 320.6h.01M391.0 325.2h.01M389.6 324.9h.01M387.6 322.1h.01M389.5 309.0h.01M393.1 320.0h.01M391.5 323.8h.01" fill="none" stroke="#333" stroke-width="0.75" stroke-linecap="round" opacity="0.8"/>
<path d="M401.65 314.00V322.30M401.65 326.50V331.00M400.15 314.00H403.15M400.15 331.00H403.15" stroke="#777" stroke-width="0.35" stroke-dasharray="0.8 0.5" fill="none"/>
<rect x="397.20" y="322.30" width="8.90" height="4.20" fill="#cc4f94" stroke="#444" stroke-width="0.4"/>
<path d="M397.20 324.50H406.10" stroke="#222" stroke-width="0.6"/>
<path d="M398.4 326.3h.01M400.9 330.2h.01M403.0 323.9h.01M399.0 316.7h.01M398.7 322.6h.01M403.0 322.9h.01M398.5 326.3h.01M403.4 321.7h.01M404.8 323.1h.01M398.6 323.8h.01M402.5 330.5h.01M398.1 324.8h.01M405.2 323.5h.01M399.0 326.0h.01M401.9 325.5h.01M401.9 315.4h.01M403.3 322.4h.01M401.4 323.2h.01M405.1 324.9h.01M402.9 328.9h.01M398.8 321.1h.01M399.5 322.3h.01M403.5 323.0h.01M398.9 323.7h.01M404.5 318.3h.01M404.0 322.4h.01M403.1 325.9h.01M402.8 318.4h.01M404.3 326.1h.01M399.6 316.0h.01M405.1 322.8h.01M399.7 322.2h.01M401.3 326.5h.01M399.0 321.7h.01M403.0 324.1h.01M398.6 323.2h.01M401.1 328.3h.01M400.0 321.0h.01M398.1 324.9h.01M404.7 316.6h.01M399.4 325.1h.01M402.0 325.5h.01M402.5 320.1h.01M404.4 330.4h.01M404.2 324.1h.01M401.8 320.5h.01M401.7 325.0h.01M403.2 326.3h.01M402.1 325.8h.01M403.1 322.4h.01M402.2 324.5h.01M403.0 325.9h.01M405.1 320.8h.01M402.4 325.9h.01M399.1 323.4h.01M398.0 324.3h.01M402.2 328.8h.01M400.5 315.9h.01M404.9 326.4h.01M402.5 323.3h.01M399.7 317.3h.01M399.1 325.7h.01M402.4 325.7h.01M401.2 329.7h.01M402.5 314.7h.01M403.9 317.1h.01M401.4 322.5h.01M398.5 321.3h.01M403.4 324.3h.01M400.3 324.8h.01M404.2 326.3h.01M401.8 325.4h.01M403.5 326.3h.01M404.6 325.0h.01M398.2 324.4h.01M402.4 318.1h.01M400.8 325.8h.01M404.9 324.0h.01M400.7 322.9h.01" fill="none" stroke="#222" stroke-width="0.75" stroke-linecap="round" opacity="0.8"/>
<path d="M412.65 320.00V325.30M412.65 329.00V332.00M411.15 320.00H414.15M411.15 332.00H414.15" stroke="#777" stroke-width="0.35" stroke-dasharray="0.8 0.5" fill="none"/>
<rect x="408.30" y="325.30" width="8.70" height="3.70" fill="#222" stroke="#444" stroke-width="0.4"/>
<path d="M408.30 327.00H417.00" stroke="#222" stroke-width="0.6"/>
<path d="M415.3 327.0h.01M414.6 328.9h.01M413.5 328.3h.01M410.6 327.6h.01M415.0 327.3h.01M410.9 328.2h.01M413.2 327.2h.01M415.1 326.2h.01M415.6 322.6h.01M414.1 322.8h.01M416.0 326.9h.01M410.6 326.1h.01M410.1 328.9h.01M415.3 327.6h.01M415.5 326.8h.01M409.2 328.9h.01M410.5 325.8h.01M413.5 325.9h.01M411.3 327.5h.01M411.7 325.9h.01M414.3 326.7h.01M414.6 328.7h.01M412.1 325.9h.01M409.3 328.0h.01M414.3 328.1h.01M415.2 326.9h.01M414.4 329.0h.01M414.9 328.8h.01M415.1 330.4h.01M412.3 331.5h.01M415.4 326.5h.01M410.7 326.5h.01M411.9 327.2h.01M412.4 327.2h.01M415.0 325.3h.01M410.6 322.7h.01M410.6 328.7h.01M410.7 326.9h.01M412.8 327.0h.01M411.2 325.1h.01M415.0 328.3h.01M410.5 328.4h.01M413.2 326.0h.01M409.1 325.3h.01M409.2 327.1h.01M413.7 326.7h.01M416.2 328.7h.01M412.5 329.8h.01M413.7 325.7h.01M412.9 328.2h.01M414.0 328.7h.01M410.0 322.5h.01M412.6 331.4h.01M411.2 327.1h.01M412.5 331.1h.01M409.8 325.6h.01M412.6 326.5h.01M410.7 331.9h.01M412.2 329.9h.01M410.0 321.5h.01M411.4 330.0h.01M415.6 326.5h.01M413.7 324.8h.01M415.2 327.4h.01M416.1 325.4h.01M415.4 329.4h.01M415.9 322.4h.01M416.0 322.2h.01M413.2 327.0h.01M410.3 321.0h.01M413.9 326.0h.01M415.6 328.9h.01M415.9 326.5h.01M411.9 331.5h.01M414.9 320.2h.01M414.2 326.1h.01M414.5 325.4h.01M410.8 326.5h.01M413.2 325.2h.01M414.0 325.6h.01M412.7 320.8h.01M411.5 330.8h.01M415.1 328.9h.01M414.2 326.1h.01M412.3 329.7h.01M410.5 321.5h.01M414.3 322.7h.01M409.6 326.7h.01M409.2 327.6h.01M410.5 326.5h.01M413.4 327.3h.01M410.7 327.1h.01M415.3 328.3h.01M409.6 329.0h.01M411.2 324.6h.01M413.6 329.0h.01M413.5 325.9h.01M411.3 327.6h.01M413.1 329.3h.01M413.1 325.7h.01M409.9 329.9h.01M413.3 327.3h.01M414.4 327.2h.01M412.1 326.6h.01M414.0 329.8h.01M412.8 321.6h.01M409.2 322.4h.01M409.1 326.7h.01M411.3 329.7h.01M411.3 331.1h.01M413.2 327.7h.01M413.4 326.2h.01M410.2 328.6h.01M415.0 329.2h.01M412.3 327.6h.01M411.2 327.3h.01M416.0 326.2h.01M413.9 326.6h.01M409.7 320.9h.01M410.6 326.3h.01M413.9 326.7h.01M410.8 330.5h.01M414.7 328.4h.01M411.8 328.0h.01M412.0 327.8h.01M412.3 326.5h.01M411.3 326.8h.01M415.4 326.7h.01M409.8 325.4h.01M413.4 329.3h.01M415.2 327.4h.01M412.6 331.2h.01M414.1 324.9h.01M414.2 326.1h.01M412.5 327.4h.01M412.0 328.2h.01M411.1 329.1h.01M411.5 325.9h.01M409.5 328.7h.01M414.0 327.9h.01M413.7 328.3h.01M413.9 323.3h.01M416.2 327.8h.01M414.9 326.4h.01M415.1 326.7h.01M414.6 328.7h.01M413.1 328.1h.01M411.4 330.1h.01M413.6 326.8h.01M414.6 328.3h.01M414.1 328.4h.01M411.3 326.5h.01M414.1 326.4h.01M414.2 321.1h.01M410.9 324.6h.01M409.2 320.5h.01M413.1 325.5h.01M413.0 328.4h.01M411.4 324.3h.01M413.2 325.4h.01M412.5 328.2h.01M412.5 326.0h.01M413.0 329.4h.01M415.9 328.3h.01M415.2 326.5h.01M415.9 327.4h.01M411.8 327.2h.01M412.2 331.7h.01M416.1 330.4h.01M411.2 328.1h.01M414.8 326.3h.01M414.6 320.5h.01M412.9 325.5h.01M410.5 327.6h.01M410.4 326.4h.01M411.9 326.4h.01M412.2 324.5h.01M409.5 325.0h.01M416.1 325.5h.01M415.9 321.3h.01M410.4 327.6h.01M411.2 326.7h.01M415.1 327.2h.01M413.4 328.1h.01" fill="none" stroke="#000" stroke-width="0.75" stroke-linecap="round" opacity="0.8"/>
<path d="M423.45 316.00V324.00M423.45 327.60V332.00M421.95 316.00H424.95M421.95 332.00H424.95" stroke="#777" stroke-width="0.35" stroke-dasharray="0.8 0.5" fill="none"/>
<rect x="419.00" y="324.00" width="8.90" height="3.60" fill="#1a3348" stroke="#444" stroke-width="0.4"/>
<path d="M419.00 326.00H427.90" stroke="#222" stroke-width="0.6"/>
<path d="M421.0 323.0h.01M420.2 326.2h.01M422.8 326.9h.01M422.1 317.8h.01M426.6 316.1h.01M426.0 328.8h.01M420.6 329.8h.01M420.7 316.7h.01M421.4 326.5h.01M424.7 323.3h.01M420.7 322.8h.01M424.2 319.0h.01M423.1 324.1h.01M422.1 324.0h.01M420.7 325.4h.01M423.8 316.4h.01M421.4 320.7h.01M425.0 319.4h.01M421.4 326.3h.01M426.0 324.0h.01M421.7 327.1h.01M426.3 326.3h.01M421.8 318.7h.01M426.2 324.3h.01M424.7 322.5h.01M422.2 324.2h.01M423.0 326.8h.01M422.8 319.8h.01M424.4 326.3h.01M422.3 325.3h.01M424.3 327.5h.01M422.7 324.3h.01M422.7 322.6h.01M424.6 318.0h.01M425.9 329.0h.01M420.5 327.0h.01M420.2 321.1h.01M424.8 322.9h.01M422.5 323.9h.01M424.1 325.5h.01M426.3 322.3h.01M421.4 327.1h.01M423.0 325.9h.01M421.4 326.6h.01M424.9 329.5h.01M425.2 328.3h.01M422.0 320.0h.01M426.2 331.5h.01M423.1 324.4h.01M426.6 326.3h.01M422.0 325.7h.01M425.7 327.1h.01M420.9 326.0h.01M420.6 324.8h.01M421.2 326.5h.01M424.2 330.4h.01M422.2 317.7h.01M423.6 325.8h.01M419.9 327.2h.01M425.0 327.0h.01M424.2 324.8h.01M424.9 320.7h.01M425.3 324.5h.01M422.1 325.3h.01M421.7 319.9h.01M426.8 325.8h.01M419.9 316.4h.01M426.4 325.5h.01M420.8 327.3h.01M421.3 329.0h.01M420.9 327.4h.01M419.9 326.1h.01M427.0 316.0h.01M422.3 326.1h.01M420.3 324.1h.01M424.8 317.9h.01M422.2 324.6h.01M422.1 330.3h.01M421.0 321.5h.01M421.0 331.4h.01M425.1 328.4h.01M421.7 323.8h.01M424.4 326.6h.01M423.4 327.0h.01M425.9 326.3h.01M424.9 326.1h.01M419.9 325.8h.01M423.2 326.5h.01M421.8 327.1h.01M424.0 322.9h.01M421.1 326.2h.01M426.9 325.4h.01M421.5 326.2h.01M425.3 324.9h.01M426.9 327.3h.01M425.4 326.0h.01M425.2 326.8h.01M425.7 324.3h.01M426.3 325.7h.01M422.2 324.7h.01M425.2 317.2h.01M422.2 326.5h.01M425.3 324.3h.01M425.9 317.6h.01M420.3 319.3h.01M421.4 318.0h.01M422.6 327.7h.01M420.5 319.4h.01M422.5 327.6h.01M423.8 322.7h.01M420.0 319.2h.01M423.4 324.9h.01M426.9 316.3h.01M423.2 327.4h.01M424.5 324.8h.01M425.2 323.3h.01M425.7 326.4h.01M425.6 317.6h.01M422.7 324.9h.01M420.7 328.2h.01M422.9 326.0h.01M421.7 324.2h.01M423.6 323.7h.01M423.5 326.9h.01M421.9 327.2h.01M421.5 326.5h.01M424.7 316.3h.01M422.5 319.3h.01M425.7 324.7h.01M425.5 324.5h.01M423.2 324.8h.01M423.2 327.2h.01M421.9 325.7h.01M427.0 320.4h.01M420.3 325.5h.01M420.9 325.8h.01M420.7 327.3h.01M421.5 325.9h.01M420.3 326.0h.01M420.1 327.0h.01M423.6 317.1h.01M421.9 324.7h.01M421.3 324.7h.01M423.1 324.9h.01M426.0 319.1h.01M424.2 316.9h.01M420.5 317.4h.01M422.3 326.7h.01M420.1 326.3h.01M423.1 324.2h.01M422.7 317.2h.01M421.9 326.0h.01M421.5 327.0h.01M422.9 327.4h.01" fill="none" stroke="#000" stroke-width="0.75" stroke-linecap="round" opacity="0.8"/>
<path d="M434.25 322.00V326.00M434.25 328.60V331.00M432.75 322.00H435.75M432.75 331.00H435.75" stroke="#777" stroke-width="0.35" stroke-dasharray="0.8 0.5" fill="none"/>
<rect x="430.00" y="326.00" width="8.50" height="2.60" fill="#3a9a44" stroke="#444" stroke-width="0.4"/>
<path d="M430.00 327.30H438.50" stroke="#222" stroke-width="0.6"/>
<path d="M434.7 327.2h.01M437.4 324.6h.01M437.0 328.3h.01M432.3 327.7h.01M433.3 326.7h.01M435.1 328.4h.01M435.9 326.4h.01M434.1 327.5h.01M431.5 327.1h.01M437.5 326.9h.01M435.7 322.9h.01M433.1 323.5h.01M437.5 326.9h.01M433.0 327.1h.01M435.2 325.8h.01M437.2 326.3h.01M435.1 327.9h.01M434.7 327.3h.01M435.1 327.9h.01M435.9 328.7h.01M435.3 330.9h.01M436.1 325.0h.01M431.5 330.9h.01M431.3 327.9h.01M435.0 328.2h.01M431.4 326.7h.01M436.9 327.8h.01M436.2 330.9h.01M435.8 327.3h.01M436.5 326.1h.01M433.6 324.9h.01M431.7 327.4h.01M433.3 327.6h.01M430.9 328.7h.01M436.5 323.8h.01M434.3 329.3h.01M435.4 327.9h.01M432.0 323.2h.01M433.1 326.1h.01M432.3 326.3h.01M433.7 323.4h.01M436.5 329.6h.01M435.8 326.4h.01M437.5 329.6h.01M436.7 327.6h.01M436.4 323.3h.01M436.7 326.0h.01M435.9 326.8h.01M431.7 328.8h.01" fill="none" stroke="#222" stroke-width="0.75" stroke-linecap="round" opacity="0.8"/>
<text x="390.40" y="338.30" font-size="4.4" text-anchor="middle" font-weight="normal" font-style="normal" fill="#111"  stroke="#111" stroke-width="0.1">BL</text>
<text x="390.40" y="343.90" font-size="4.4" text-anchor="middle" font-weight="normal" font-style="normal" fill="#111"  stroke="#111" stroke-width="0.1">(131)</text>
<text x="401.60" y="338.30" font-size="4.4" text-anchor="middle" font-weight="normal" font-style="normal" fill="#111"  stroke="#111" stroke-width="0.1">HER2</text>
<text x="401.60" y="343.90" font-size="4.4" text-anchor="middle" font-weight="normal" font-style="normal" fill="#111"  stroke="#111" stroke-width="0.1">(133)</text>
<text x="412.60" y="338.30" font-size="4.4" text-anchor="middle" font-weight="normal" font-style="normal" fill="#111"  stroke="#111" stroke-width="0.1">LumA</text>
<text x="412.60" y="343.90" font-size="4.4" text-anchor="middle" font-weight="normal" font-style="normal" fill="#111"  stroke="#111" stroke-width="0.1">(476)</text>
<text x="423.50" y="338.30" font-size="4.4" text-anchor="middle" font-weight="normal" font-style="normal" fill="#111"  stroke="#111" stroke-width="0.1">LumB</text>
<text x="423.50" y="343.90" font-size="4.4" text-anchor="middle" font-weight="normal" font-style="normal" fill="#111"  stroke="#111" stroke-width="0.1">(373)</text>
<text x="434.20" y="338.30" font-size="4.4" text-anchor="middle" font-weight="normal" font-style="normal" fill="#111"  stroke="#111" stroke-width="0.1">NL</text>
<text x="434.20" y="343.90" font-size="4.4" text-anchor="middle" font-weight="normal" font-style="normal" fill="#111"  stroke="#111" stroke-width="0.1">(81)</text>
<path d="M384.50 349.20V390.50H445.00" fill="none" stroke="#777" stroke-width="0.6"/>
<text x="384.10" y="353.30" font-size="3.8" fill="#222" stroke="#222" stroke-width="0.06" text-anchor="end">12</text>
<text x="384.10" y="360.10" font-size="3.8" fill="#222" stroke="#222" stroke-width="0.06" text-anchor="end">11</text>
<text x="384.10" y="367.30" font-size="3.8" fill="#222" stroke="#222" stroke-width="0.06" text-anchor="end">10</text>
<text x="384.10" y="374.50" font-size="3.8" fill="#222" stroke="#222" stroke-width="0.06" text-anchor="end">9</text>
<text x="384.10" y="381.60" font-size="3.8" fill="#222" stroke="#222" stroke-width="0.06" text-anchor="end">8</text>
<text x="384.10" y="388.60" font-size="3.8" fill="#222" stroke="#222" stroke-width="0.06" text-anchor="end">7</text>
<text x="371.80" y="369.60" font-size="4.2" fill="#111" stroke="#111" stroke-width="0.06" text-anchor="middle" transform="rotate(-90 371.80 369.60)"><tspan font-style="italic">CDK2</tspan> expression (log2)</text>
<path d="M388.10 349.50H432.00" stroke="#707070" stroke-width="0.65"/>
<text x="432.30" y="350.90" font-size="6.0" text-anchor="start" font-weight="normal" font-style="normal" fill="#333" >***</text>
<path d="M388.10 356.50H410.30" stroke="#707070" stroke-width="0.65"/>
<text x="410.60" y="358.50" font-size="6.0" text-anchor="start" font-weight="normal" font-style="normal" fill="#333" >***</text>
<path d="M390.40 370.00V376.60M390.40 380.60V385.00M388.90 370.00H391.90M388.90 385.00H391.90" stroke="#777" stroke-width="0.35" stroke-dasharray="0.8 0.5" fill="none"/>
<rect x="386.00" y="376.60" width="8.80" height="4.00" fill="#e8202a" stroke="#444" stroke-width="0.4"/>
<path d="M386.00 378.50H394.80" stroke="#222" stroke-width="0.6"/>
<path d="M393.6 373.2h.01M391.2 378.2h.01M389.8 377.4h.01M389.8 379.3h.01M388.4 377.7h.01M389.3 383.5h.01M392.3 374.7h.01M389.7 378.9h.01M387.6 381.4h.01M388.4 378.4h.01M393.6 380.4h.01M391.3 376.7h.01M391.8 383.3h.01M390.3 377.2h.01M391.7 371.6h.01M392.3 372.3h.01M392.3 380.5h.01M393.8 378.9h.01M391.8 377.4h.01M392.3 372.3h.01M390.2 379.3h.01M393.8 378.6h.01M393.6 371.9h.01M391.0 372.2h.01M387.2 376.8h.01M387.3 380.1h.01M389.4 383.1h.01M392.3 378.9h.01M389.7 380.5h.01M388.7 377.1h.01M387.8 380.4h.01M390.2 381.6h.01M393.5 377.4h.01M387.7 379.7h.01M389.3 378.0h.01M391.0 379.2h.01M389.8 374.7h.01M389.6 378.8h.01M389.1 384.4h.01M392.8 371.4h.01M390.8 379.0h.01M386.9 380.1h.01M393.4 378.5h.01M389.2 383.5h.01M388.5 379.0h.01M387.4 378.0h.01M393.0 377.3h.01M390.9 381.2h.01M389.3 380.2h.01M387.3 377.8h.01M391.4 377.7h.01M388.9 378.5h.01M390.0 373.6h.01M393.3 380.8h.01M388.2 378.5h.01M392.6 373.7h.01M392.5 379.7h.01M389.7 383.3h.01M392.5 383.8h.01M392.4 379.9h.01M389.9 378.4h.01M393.7 373.4h.01M392.1 377.6h.01M389.0 374.6h.01M389.6 381.4h.01M392.8 378.3h.01M388.6 379.4h.01M391.3 378.3h.01M390.6 379.0h.01M389.8 380.5h.01M386.9 376.6h.01M391.6 383.4h.01M390.0 376.7h.01M391.4 376.9h.01M392.9 378.5h.01M390.5 378.1h.01M391.9 372.7h.01M387.1 379.1h.01M391.9 377.4h.01" fill="none" stroke="#333" stroke-width="0.75" stroke-linecap="round" opacity="0.8"/>
<path d="M401.65 371.00V377.20M401.65 381.10V386.00M400.15 371.00H403.15M400.15 386.00H403.15" stroke="#777" stroke-width="0.35" stroke-dasharray="0.8 0.5" fill="none"/>
<rect x="397.20" y="377.20" width="8.90" height="3.90" fill="#cc4f94" stroke="#444" stroke-width="0.4"/>
<path d="M397.20 379.00H406.10" stroke="#222" stroke-width="0.6"/>
<path d="M400.2 380.0h.01M403.5 384.4h.01M401.3 377.4h.01M403.3 377.3h.01M404.6 383.7h.01M405.2 378.7h.01M400.1 380.2h.01M405.3 380.3h.01M401.7 380.3h.01M398.6 378.0h.01M398.1 374.2h.01M398.6 381.0h.01M403.1 380.7h.01M398.3 374.8h.01M402.3 379.6h.01M404.1 379.6h.01M399.2 379.2h.01M398.5 378.0h.01M398.9 375.2h.01M404.0 373.9h.01M400.1 378.5h.01M402.4 380.3h.01M398.9 385.3h.01M404.5 375.5h.01M404.2 377.1h.01M401.1 377.6h.01M401.5 378.7h.01M403.2 379.6h.01M403.2 374.4h.01M400.2 375.9h.01M405.0 379.5h.01M400.1 371.2h.01M402.7 384.9h.01M399.9 373.7h.01M403.2 377.6h.01M403.1 381.4h.01M401.8 371.5h.01M399.8 378.1h.01M398.1 372.2h.01M401.0 384.3h.01M402.5 380.4h.01M402.5 378.6h.01M405.3 378.2h.01M403.2 378.6h.01M401.5 378.1h.01M398.6 378.8h.01M404.2 379.8h.01M402.3 377.7h.01M398.4 375.7h.01M403.5 381.0h.01M403.6 379.8h.01M403.6 377.6h.01M398.3 379.4h.01M402.1 375.5h.01M403.0 379.8h.01M403.3 377.5h.01M401.9 377.7h.01M400.3 372.5h.01M399.2 380.3h.01M398.5 378.5h.01M398.2 373.1h.01M400.2 371.7h.01M404.7 378.6h.01M402.0 380.4h.01M400.7 384.7h.01M400.9 380.0h.01M402.3 379.9h.01M399.3 378.4h.01M402.6 380.6h.01M400.5 371.9h.01M404.2 380.7h.01M398.5 377.4h.01M401.2 378.6h.01M402.6 380.5h.01M405.2 371.7h.01M403.2 378.6h.01M402.2 375.1h.01M399.2 375.5h.01M405.1 378.0h.01" fill="none" stroke="#222" stroke-width="0.75" stroke-linecap="round" opacity="0.8"/>
<path d="M412.65 372.00V378.30M412.65 382.00V387.00M411.15 372.00H414.15M411.15 387.00H414.15" stroke="#777" stroke-width="0.35" stroke-dasharray="0.8 0.5" fill="none"/>
<rect x="408.30" y="378.30" width="8.70" height="3.70" fill="#111" stroke="#444" stroke-width="0.4"/>
<path d="M408.30 380.00H417.00" stroke="#222" stroke-width="0.6"/>
<path d="M416.1 377.4h.01M413.0 381.2h.01M409.2 381.6h.01M413.6 377.6h.01M415.3 379.6h.01M413.4 383.3h.01M413.1 373.5h.01M409.6 385.4h.01M410.0 372.9h.01M412.5 376.6h.01M415.2 384.1h.01M411.7 384.6h.01M415.9 379.3h.01M411.0 372.0h.01M414.9 372.5h.01M411.2 381.0h.01M411.8 379.0h.01M414.8 378.4h.01M414.1 380.6h.01M409.1 383.9h.01M413.1 381.3h.01M415.2 381.5h.01M411.5 380.2h.01M412.5 379.1h.01M413.4 380.4h.01M409.8 373.9h.01M414.2 381.9h.01M410.0 383.5h.01M409.9 382.8h.01M413.7 381.8h.01M412.2 379.5h.01M412.1 383.7h.01M409.3 383.3h.01M412.6 380.5h.01M410.9 378.8h.01M415.8 380.0h.01M413.3 375.5h.01M411.9 380.3h.01M415.0 378.5h.01M414.4 381.7h.01M414.1 380.4h.01M411.2 380.3h.01M412.2 374.0h.01M414.5 380.8h.01M416.0 381.4h.01M409.1 379.2h.01M410.6 380.6h.01M410.7 381.0h.01M411.8 382.9h.01M413.8 378.3h.01M413.8 380.0h.01M415.0 379.1h.01M414.4 381.7h.01M415.1 385.8h.01M415.6 377.2h.01M411.4 381.6h.01M409.3 381.0h.01M416.2 385.5h.01M409.4 379.3h.01M410.7 381.4h.01M410.2 381.8h.01M410.2 381.9h.01M409.8 380.8h.01M410.8 383.9h.01M416.0 381.3h.01M410.1 376.7h.01M413.9 379.6h.01M411.5 381.8h.01M411.6 372.1h.01M412.1 381.7h.01M413.4 379.7h.01M413.6 379.1h.01M409.7 381.8h.01M416.0 373.6h.01M415.5 375.1h.01M411.3 383.6h.01M413.3 380.6h.01M412.7 381.6h.01M414.1 380.8h.01M409.2 376.9h.01M412.5 381.7h.01M409.8 373.9h.01M412.5 383.8h.01M415.2 379.2h.01M413.5 380.8h.01M410.4 380.6h.01M413.1 379.5h.01M412.9 380.6h.01M413.2 381.2h.01M412.8 383.5h.01M411.1 379.6h.01M412.4 381.1h.01M415.2 381.2h.01M416.0 373.9h.01M412.3 379.1h.01M415.7 380.7h.01M414.3 380.7h.01M414.0 378.1h.01M409.5 382.5h.01M410.7 378.6h.01M412.5 380.1h.01M409.3 378.7h.01M414.5 379.2h.01M412.2 385.8h.01M410.5 380.2h.01M410.5 376.2h.01M415.6 373.6h.01M410.2 372.4h.01M409.3 372.1h.01M411.9 372.8h.01M412.7 381.9h.01M413.1 376.9h.01M409.9 380.5h.01M412.9 380.5h.01M414.3 380.8h.01M409.7 381.8h.01M410.4 372.5h.01M410.4 386.7h.01M416.1 379.1h.01M412.0 378.0h.01M414.3 381.7h.01M410.5 380.1h.01M412.2 380.3h.01M414.3 380.2h.01M412.2 376.7h.01M414.3 380.2h.01M410.4 381.1h.01M413.0 379.9h.01M415.8 379.2h.01M409.5 378.5h.01M410.2 372.6h.01M412.1 378.6h.01M412.3 380.0h.01M412.3 378.5h.01M415.3 374.4h.01M412.4 374.5h.01M414.1 381.6h.01M412.6 379.3h.01M411.4 374.8h.01M414.2 381.7h.01M413.9 382.7h.01M413.0 378.8h.01M414.2 377.1h.01M414.6 386.9h.01M411.2 379.1h.01M414.1 378.6h.01M414.5 379.8h.01M410.2 381.6h.01M414.6 379.1h.01M415.4 378.9h.01M415.3 381.6h.01M410.6 374.0h.01M411.3 380.1h.01M413.4 380.9h.01M414.4 379.7h.01M412.3 383.2h.01M413.2 372.7h.01M412.5 380.0h.01M416.2 381.2h.01M413.9 379.1h.01M416.0 378.7h.01M414.5 379.6h.01M413.9 381.1h.01M415.9 382.0h.01M415.9 380.4h.01M415.8 379.8h.01M415.6 386.9h.01M413.6 380.3h.01M412.5 380.2h.01M415.2 382.9h.01M411.5 380.6h.01M413.8 376.6h.01M416.1 385.3h.01M409.8 376.1h.01M409.4 384.3h.01M413.6 379.6h.01M415.2 379.6h.01M414.4 379.5h.01M413.6 381.9h.01M412.4 372.1h.01M411.5 381.3h.01M412.8 380.0h.01M415.7 379.1h.01M410.1 381.8h.01" fill="none" stroke="#000" stroke-width="0.75" stroke-linecap="round" opacity="0.8"/>
<path d="M423.45 368.00V376.00M423.45 380.60V386.00M421.95 368.00H424.95M421.95 386.00H424.95" stroke="#777" stroke-width="0.35" stroke-dasharray="0.8 0.5" fill="none"/>
<rect x="419.00" y="376.00" width="8.90" height="4.60" fill="#1a3348" stroke="#444" stroke-width="0.4"/>
<path d="M419.00 378.00H427.90" stroke="#222" stroke-width="0.6"/>
<path d="M421.9 379.7h.01M424.4 377.7h.01M421.1 378.0h.01M420.5 379.5h.01M423.7 383.3h.01M426.1 378.2h.01M420.0 368.7h.01M421.4 379.6h.01M421.1 381.6h.01M425.7 379.2h.01M423.5 372.9h.01M422.9 379.1h.01M422.4 378.2h.01M423.4 384.6h.01M424.3 378.4h.01M421.8 372.8h.01M425.6 385.8h.01M420.9 378.0h.01M426.0 378.1h.01M423.2 379.2h.01M421.7 382.3h.01M420.7 380.0h.01M421.5 376.6h.01M426.1 370.4h.01M421.1 380.3h.01M425.1 379.9h.01M422.5 372.8h.01M424.2 369.9h.01M421.8 376.6h.01M420.7 374.8h.01M421.8 379.8h.01M422.2 381.5h.01M426.8 375.5h.01M425.8 374.5h.01M423.9 383.5h.01M424.7 378.7h.01M420.7 384.6h.01M427.0 376.2h.01M422.6 376.0h.01M421.7 376.7h.01M422.2 377.6h.01M421.2 377.1h.01M419.9 374.4h.01M425.3 379.2h.01M424.4 379.0h.01M424.1 374.4h.01M424.4 380.1h.01M425.8 370.3h.01M425.2 377.5h.01M423.4 378.5h.01M426.9 385.5h.01M420.8 377.2h.01M424.9 375.4h.01M424.1 385.4h.01M420.6 379.4h.01M423.6 379.1h.01M421.4 378.6h.01M422.6 376.3h.01M425.9 376.5h.01M424.0 377.8h.01M425.7 378.7h.01M423.0 380.2h.01M423.5 379.9h.01M424.2 376.9h.01M425.8 372.3h.01M423.1 379.0h.01M423.6 378.4h.01M426.5 379.1h.01M420.2 380.5h.01M421.1 379.8h.01M420.3 379.0h.01M422.1 377.6h.01M420.9 382.2h.01M422.2 380.5h.01M424.4 380.2h.01M419.9 385.3h.01M422.8 379.3h.01M424.2 379.7h.01M424.0 375.5h.01M420.4 378.8h.01M426.2 369.7h.01M420.1 378.9h.01M423.3 380.0h.01M419.9 380.5h.01M423.9 378.1h.01M424.3 372.8h.01M425.1 380.6h.01M420.7 376.9h.01M420.0 376.0h.01M422.3 380.2h.01M425.6 379.5h.01M426.6 379.8h.01M426.7 379.9h.01M425.7 379.2h.01M426.4 375.9h.01M425.6 378.0h.01M423.3 379.8h.01M422.0 377.5h.01M423.0 379.1h.01M422.4 378.1h.01M423.7 377.8h.01M423.5 368.0h.01M426.1 376.6h.01M425.6 370.5h.01M424.5 378.1h.01M424.0 382.3h.01M426.1 380.2h.01M420.0 380.3h.01M425.6 371.0h.01M420.4 380.3h.01M420.9 381.9h.01M419.9 378.7h.01M420.7 369.6h.01M425.7 378.3h.01M425.3 377.0h.01M421.3 377.5h.01M424.5 377.5h.01M421.4 376.7h.01M426.7 380.2h.01M426.4 377.7h.01M423.3 375.0h.01M421.9 384.4h.01M424.3 370.1h.01M423.2 369.8h.01M426.5 376.9h.01M426.5 379.4h.01M423.9 376.1h.01M426.6 378.0h.01M422.6 373.0h.01M423.2 384.6h.01M422.0 380.3h.01M426.6 378.7h.01M425.0 379.2h.01M426.3 379.3h.01M425.7 382.4h.01M422.2 382.0h.01M421.2 377.2h.01M420.2 376.2h.01M420.6 378.3h.01M420.9 377.1h.01M425.5 373.8h.01M420.5 379.8h.01M422.4 378.9h.01M419.9 380.0h.01M426.9 378.5h.01M423.0 385.1h.01M425.1 376.6h.01M423.3 371.4h.01M422.1 373.3h.01M425.1 378.0h.01M423.6 376.7h.01M426.4 377.9h.01M426.7 375.4h.01M426.7 380.2h.01" fill="none" stroke="#000" stroke-width="0.75" stroke-linecap="round" opacity="0.8"/>
<path d="M434.25 374.00V378.90M434.25 381.60V385.00M432.75 374.00H435.75M432.75 385.00H435.75" stroke="#777" stroke-width="0.35" stroke-dasharray="0.8 0.5" fill="none"/>
<rect x="430.00" y="378.90" width="8.50" height="2.70" fill="#3a9a44" stroke="#444" stroke-width="0.4"/>
<path d="M430.00 380.00H438.50" stroke="#222" stroke-width="0.6"/>
<path d="M431.1 381.4h.01M433.2 380.2h.01M432.8 380.3h.01M435.1 380.4h.01M434.8 381.6h.01M431.5 379.9h.01M435.1 377.4h.01M431.3 382.6h.01M432.6 377.4h.01M433.2 374.4h.01M434.2 375.0h.01M435.5 379.6h.01M433.1 376.8h.01M431.8 375.2h.01M435.6 379.7h.01M435.7 384.9h.01M435.5 378.9h.01M434.8 379.2h.01M433.1 379.8h.01M435.2 377.9h.01M432.2 381.5h.01M434.1 379.9h.01M431.3 380.6h.01M434.1 375.0h.01M434.4 380.2h.01M434.9 376.7h.01M434.3 382.0h.01M432.8 377.0h.01M437.2 379.3h.01M434.8 378.4h.01M435.4 379.8h.01M433.4 380.5h.01M431.1 374.2h.01M437.7 381.0h.01M435.6 379.5h.01M435.6 379.7h.01M430.9 380.9h.01M431.7 379.4h.01M433.1 381.3h.01M433.5 379.6h.01M435.0 377.3h.01M430.9 378.4h.01M434.9 384.8h.01M431.4 381.1h.01M435.5 380.6h.01M434.5 380.0h.01M432.0 380.8h.01M435.3 379.2h.01M435.2 382.9h.01" fill="none" stroke="#222" stroke-width="0.75" stroke-linecap="round" opacity="0.8"/>
<text x="390.40" y="395.40" font-size="4.4" text-anchor="middle" font-weight="normal" font-style="normal" fill="#111"  stroke="#111" stroke-width="0.1">BL</text>
<text x="390.40" y="401.00" font-size="4.4" text-anchor="middle" font-weight="normal" font-style="normal" fill="#111"  stroke="#111" stroke-width="0.1">(131)</text>
<text x="401.60" y="395.40" font-size="4.4" text-anchor="middle" font-weight="normal" font-style="normal" fill="#111"  stroke="#111" stroke-width="0.1">HER2</text>
<text x="401.60" y="401.00" font-size="4.4" text-anchor="middle" font-weight="normal" font-style="normal" fill="#111"  stroke="#111" stroke-width="0.1">(133)</text>
<text x="412.60" y="395.40" font-size="4.4" text-anchor="middle" font-weight="normal" font-style="normal" fill="#111"  stroke="#111" stroke-width="0.1">LumA</text>
<text x="412.60" y="401.00" font-size="4.4" text-anchor="middle" font-weight="normal" font-style="normal" fill="#111"  stroke="#111" stroke-width="0.1">(476)</text>
<text x="423.50" y="395.40" font-size="4.4" text-anchor="middle" font-weight="normal" font-style="normal" fill="#111"  stroke="#111" stroke-width="0.1">LumB</text>
<text x="423.50" y="401.00" font-size="4.4" text-anchor="middle" font-weight="normal" font-style="normal" fill="#111"  stroke="#111" stroke-width="0.1">(373)</text>
<text x="434.20" y="395.40" font-size="4.4" text-anchor="middle" font-weight="normal" font-style="normal" fill="#111"  stroke="#111" stroke-width="0.1">NL</text>
<text x="434.20" y="401.00" font-size="4.4" text-anchor="middle" font-weight="normal" font-style="normal" fill="#111"  stroke="#111" stroke-width="0.1">(81)</text>
<text x="7.60" y="427.20" font-size="9.85" text-anchor="start" font-weight="bold" font-style="normal" fill="#111" >(D) KM plotter 10-year overall survival in 1402 breast cancer samples</text>
<rect x="36.80" y="439.40" width="97.70" height="80.70" fill="none" stroke="#aaa" stroke-width="0.6"/>
<path d="M35.40 517.10H36.80" stroke="#999" stroke-width="0.4"/>
<path d="M35.40 502.16H36.80" stroke="#999" stroke-width="0.4"/>
<path d="M35.40 487.22H36.80" stroke="#999" stroke-width="0.4"/>
<path d="M35.40 472.28H36.80" stroke="#999" stroke-width="0.4"/>
<path d="M35.40 457.34H36.80" stroke="#999" stroke-width="0.4"/>
<path d="M35.40 442.40H36.80" stroke="#999" stroke-width="0.4"/>
<text x="32.90" y="442.40" font-size="6.4" font-weight="bold" fill="#222" text-anchor="middle" transform="rotate(-90 32.90 442.40)">1.0</text>
<text x="32.90" y="483.75" font-size="6.4" font-weight="bold" fill="#222" text-anchor="middle" transform="rotate(-90 32.90 483.75)">0.5</text>
<text x="32.90" y="517.10" font-size="6.4" font-weight="bold" fill="#222" text-anchor="middle" transform="rotate(-90 32.90 517.10)">0.0</text>
<text x="20.80" y="482.25" font-size="6.4" fill="#555" text-anchor="middle" transform="rotate(-90 20.80 482.25)">Probability</text>
<path d="M40.40 520.10V521.30" stroke="#999" stroke-width="0.4"/>
<path d="M55.48 520.10V521.30" stroke="#999" stroke-width="0.4"/>
<path d="M70.57 520.10V521.30" stroke="#999" stroke-width="0.4"/>
<path d="M85.65 520.10V521.30" stroke="#999" stroke-width="0.4"/>
<path d="M100.73 520.10V521.30" stroke="#999" stroke-width="0.4"/>
<path d="M115.82 520.10V521.30" stroke="#999" stroke-width="0.4"/>
<path d="M130.90 520.10V521.30" stroke="#999" stroke-width="0.4"/>
<text x="39.70" y="529.30" font-size="6.3" text-anchor="middle" font-weight="bold" font-style="normal" fill="#222" >0.0</text>
<text x="131.30" y="529.30" font-size="6.3" text-anchor="middle" font-weight="bold" font-style="normal" fill="#222" >120</text>
<text x="84.15" y="532.10" font-size="6.8" text-anchor="middle" font-weight="normal" font-style="normal" fill="#444" >Time</text>
<path d="M37.10 442.30H38.47V442.47H40.04V442.47H41.50V442.53H42.65V442.62H44.16V442.65H45.57V443.27H46.64V443.57H47.27V443.64H48.01V444.11H49.57V444.36H51.29V445.48H52.86V445.54H54.63V446.47H55.98V447.07H56.68V447.07H58.29V447.44H59.97V447.78H61.75V448.18H62.66V448.74H63.68V448.74H65.26V449.29H66.69V449.29H68.09V449.66H69.88V450.33H71.59V450.33H72.95V450.45H74.17V450.79H75.53V451.22H76.96V451.36H78.56V451.75H80.06V452.36H81.86V452.77H82.71V452.77H84.16V453.21H85.04V453.53H86.72V453.87H87.36V453.87H88.45V454.30H90.05V454.30H90.86V454.43H92.38V454.61H94.00V455.25H95.28V455.26H96.42V455.56H97.16V455.67H98.70V455.97H100.22V456.63H100.95V456.63H102.59V457.22H104.23V457.22H105.66V457.44H107.02V457.72H108.59V457.72H110.32V458.32H110.92V458.47H112.12V458.47H113.88V458.61H114.60V459.03H115.96V459.03H116.68V459.20H117.87V459.44H119.11V459.71H120.28V459.80H121.64V459.80H123.16V459.88H124.19V460.36H124.89V460.42H126.36V460.51H127.54V460.51H128.34V460.64H129.64V460.80H130.44V461.07H131.20V461.49" fill="none" stroke="#111" stroke-width="1.25"/>
<path d="M38.47 441.57v1.8M40.04 441.57v1.8M42.65 441.72v1.8M44.16 441.75v1.8M46.64 442.67v1.8M47.27 442.74v1.8M48.01 443.21v1.8M49.57 443.46v1.8M51.29 444.58v1.8M55.98 446.17v1.8M58.29 446.54v1.8M59.97 446.88v1.8M62.66 447.84v1.8M63.68 447.84v1.8M65.26 448.39v1.8M66.69 448.39v1.8M68.09 448.76v1.8M69.88 449.43v1.8M71.59 449.43v1.8M72.95 449.55v1.8M74.17 449.89v1.8M75.53 450.32v1.8M76.96 450.46v1.8M78.56 450.85v1.8M80.06 451.46v1.8M84.16 452.31v1.8M85.04 452.63v1.8M87.36 452.97v1.8M88.45 453.40v1.8M90.86 453.53v1.8M92.38 453.71v1.8M94.00 454.35v1.8M95.28 454.36v1.8M96.42 454.66v1.8M97.16 454.77v1.8M98.70 455.07v1.8M100.22 455.73v1.8M100.95 455.73v1.8M102.59 456.32v1.8M105.66 456.54v1.8M107.02 456.82v1.8M108.59 456.82v1.8M110.32 457.42v1.8M110.92 457.57v1.8M112.12 457.57v1.8M113.88 457.71v1.8M114.60 458.13v1.8M115.96 458.13v1.8M117.87 458.54v1.8M120.28 458.90v1.8M121.64 458.90v1.8M123.16 458.98v1.8M124.19 459.46v1.8M124.89 459.52v1.8M127.54 459.61v1.8M128.34 459.74v1.8M129.64 459.90v1.8M130.44 460.17v1.8" stroke="#111" stroke-width="0.6"/>
<path d="M37.10 442.30H37.77V442.30H39.01V442.35H40.70V442.77H41.66V442.77H42.55V442.77H43.43V443.31H45.19V443.72H46.50V444.44H48.02V445.57H49.47V446.52H50.48V447.00H52.15V447.71H52.88V448.06H53.76V448.56H55.35V449.45H56.46V449.60H57.24V449.81H57.87V450.52H59.26V450.92H60.61V451.35H61.76V451.42H62.99V451.94H64.18V452.76H65.10V452.76H66.31V453.27H67.08V453.34H68.53V454.24H70.00V454.65H70.75V454.76H71.37V454.76H73.11V455.23H73.83V455.53H75.00V455.66H76.23V456.23H77.28V456.23H78.73V456.69H79.47V456.70H81.16V456.95H82.24V457.21H83.67V457.94H84.77V458.12H85.38V458.16H86.64V458.31H87.94V458.89H89.16V459.33H90.52V459.93H92.01V460.64H92.97V461.13H94.69V461.50H96.39V462.24H98.18V462.98H99.05V463.33H100.69V463.66H101.64V463.69H102.78V464.36H104.33V464.72H106.06V464.72H107.52V465.13H108.88V465.57H110.60V466.13H111.43V466.13H113.20V466.33H114.13V466.46H115.07V466.53H116.82V466.98H118.03V466.98H119.57V467.34H120.61V467.34H121.77V467.43H122.50V467.43H124.28V467.45H125.60V467.48H126.52V468.05H128.16V468.05H129.88V468.12H131.20V468.30" fill="none" stroke="#ee1111" stroke-width="1.25"/>
<path d="M37.77 441.40v1.8M39.01 441.45v1.8M40.70 441.87v1.8M41.66 441.87v1.8M42.55 441.87v1.8M43.43 442.41v1.8M45.19 442.82v1.8M46.50 443.54v1.8M48.02 444.67v1.8M49.47 445.62v1.8M50.48 446.10v1.8M52.15 446.81v1.8M52.88 447.16v1.8M53.76 447.66v1.8M55.35 448.55v1.8M57.24 448.91v1.8M57.87 449.62v1.8M59.26 450.02v1.8M61.76 450.52v1.8M62.99 451.04v1.8M64.18 451.86v1.8M65.10 451.86v1.8M66.31 452.37v1.8M67.08 452.44v1.8M68.53 453.34v1.8M70.00 453.75v1.8M71.37 453.86v1.8M73.11 454.33v1.8M73.83 454.63v1.8M75.00 454.76v1.8M76.23 455.33v1.8M77.28 455.33v1.8M78.73 455.79v1.8M79.47 455.80v1.8M81.16 456.05v1.8M82.24 456.31v1.8M83.67 457.04v1.8M84.77 457.22v1.8M85.38 457.26v1.8M86.64 457.41v1.8M87.94 457.99v1.8M90.52 459.03v1.8M92.01 459.74v1.8M92.97 460.23v1.8M94.69 460.60v1.8M96.39 461.34v1.8M98.18 462.08v1.8M100.69 462.76v1.8M102.78 463.46v1.8M104.33 463.82v1.8M106.06 463.82v1.8M107.52 464.23v1.8M108.88 464.67v1.8M110.60 465.23v1.8M111.43 465.23v1.8M113.20 465.43v1.8M114.13 465.56v1.8M115.07 465.63v1.8M116.82 466.08v1.8M118.03 466.08v1.8M119.57 466.44v1.8M120.61 466.44v1.8M121.77 466.53v1.8M122.50 466.53v1.8M124.28 466.55v1.8M125.60 466.58v1.8M126.52 467.15v1.8M128.16 467.15v1.8M129.88 467.22v1.8M131.20 467.40v1.8" stroke="#ee1111" stroke-width="0.6"/>
<text x="126.00" y="480.20" font-size="8.1" text-anchor="end" font-weight="bold" font-style="italic" fill="#111" >CCNE1</text>
<text x="41.80" y="509.50" font-size="5.8" text-anchor="start" font-weight="bold" font-style="normal" fill="#222" >HR: 1.53 (1.2–1.95)</text>
<text x="41.80" y="516.20" font-size="5.8" text-anchor="start" font-weight="bold" font-style="normal" fill="#222" ><tspan font-style="italic">P</tspan> = 0.00048</text>
<text x="137.60" y="468.00" font-size="6.5" text-anchor="start" font-weight="bold" font-style="normal" fill="#222" >***</text>
<text x="20.00" y="539.80" font-size="6.1" text-anchor="start" font-weight="bold" font-style="normal" fill="#111" >Low</text>
<text x="20.00" y="546.80" font-size="6.1" text-anchor="start" font-weight="bold" font-style="normal" fill="#ee1111" >High</text>
<text x="43.10" y="539.80" font-size="6.4" text-anchor="middle" font-weight="normal" font-style="normal" fill="#333" >1052</text>
<text x="43.10" y="546.80" font-size="6.4" text-anchor="middle" font-weight="normal" font-style="normal" fill="#ee1111" >350</text>
<text x="58.27" y="539.80" font-size="6.4" text-anchor="middle" font-weight="normal" font-style="normal" fill="#333" >997</text>
<text x="58.27" y="546.80" font-size="6.4" text-anchor="middle" font-weight="normal" font-style="normal" fill="#ee1111" >314</text>
<text x="73.43" y="539.80" font-size="6.4" text-anchor="middle" font-weight="normal" font-style="normal" fill="#333" >900</text>
<text x="73.43" y="546.80" font-size="6.4" text-anchor="middle" font-weight="normal" font-style="normal" fill="#ee1111" >247</text>
<text x="88.60" y="539.80" font-size="6.4" text-anchor="middle" font-weight="normal" font-style="normal" fill="#333" >787</text>
<text x="88.60" y="546.80" font-size="6.4" text-anchor="middle" font-weight="normal" font-style="normal" fill="#ee1111" >193</text>
<text x="103.77" y="539.80" font-size="6.4" text-anchor="middle" font-weight="normal" font-style="normal" fill="#333" >590</text>
<text x="103.77" y="546.80" font-size="6.4" text-anchor="middle" font-weight="normal" font-style="normal" fill="#ee1111" >126</text>
<text x="118.93" y="539.80" font-size="6.4" text-anchor="middle" font-weight="normal" font-style="normal" fill="#333" >399</text>
<text x="118.93" y="546.80" font-size="6.4" text-anchor="middle" font-weight="normal" font-style="normal" fill="#ee1111" >78</text>
<text x="134.10" y="539.80" font-size="6.4" text-anchor="middle" font-weight="normal" font-style="normal" fill="#333" >311</text>
<text x="134.10" y="546.80" font-size="6.4" text-anchor="middle" font-weight="normal" font-style="normal" fill="#ee1111" >63</text>
<rect x="187.40" y="437.40" width="97.20" height="80.80" fill="none" stroke="#aaa" stroke-width="0.6"/>
<path d="M186.00 515.20H187.40" stroke="#999" stroke-width="0.4"/>
<path d="M186.00 500.24H187.40" stroke="#999" stroke-width="0.4"/>
<path d="M186.00 485.28H187.40" stroke="#999" stroke-width="0.4"/>
<path d="M186.00 470.32H187.40" stroke="#999" stroke-width="0.4"/>
<path d="M186.00 455.36H187.40" stroke="#999" stroke-width="0.4"/>
<path d="M186.00 440.40H187.40" stroke="#999" stroke-width="0.4"/>
<text x="183.50" y="440.40" font-size="6.4" font-weight="bold" fill="#222" text-anchor="middle" transform="rotate(-90 183.50 440.40)">1.0</text>
<text x="183.50" y="481.80" font-size="6.4" font-weight="bold" fill="#222" text-anchor="middle" transform="rotate(-90 183.50 481.80)">0.5</text>
<text x="183.50" y="515.20" font-size="6.4" font-weight="bold" fill="#222" text-anchor="middle" transform="rotate(-90 183.50 515.20)">0.0</text>
<text x="171.40" y="480.30" font-size="6.4" fill="#555" text-anchor="middle" transform="rotate(-90 171.40 480.30)">Probability</text>
<path d="M191.00 518.20V519.40" stroke="#999" stroke-width="0.4"/>
<path d="M206.00 518.20V519.40" stroke="#999" stroke-width="0.4"/>
<path d="M221.00 518.20V519.40" stroke="#999" stroke-width="0.4"/>
<path d="M236.00 518.20V519.40" stroke="#999" stroke-width="0.4"/>
<path d="M251.00 518.20V519.40" stroke="#999" stroke-width="0.4"/>
<path d="M266.00 518.20V519.40" stroke="#999" stroke-width="0.4"/>
<path d="M281.00 518.20V519.40" stroke="#999" stroke-width="0.4"/>
<text x="190.30" y="527.40" font-size="6.3" text-anchor="middle" font-weight="bold" font-style="normal" fill="#222" >0.0</text>
<text x="281.40" y="527.40" font-size="6.3" text-anchor="middle" font-weight="bold" font-style="normal" fill="#222" >120</text>
<text x="234.50" y="530.20" font-size="6.8" text-anchor="middle" font-weight="normal" font-style="normal" fill="#444" >Time</text>
<path d="M187.60 440.30H188.81V440.34H190.38V440.97H192.04V441.40H193.41V441.40H194.40V441.73H195.38V441.95H197.03V442.21H197.68V442.21H198.48V442.47H199.79V442.68H200.54V442.71H202.05V442.96H203.82V443.79H204.74V443.79H205.64V444.04H206.90V444.38H207.86V444.38H209.50V444.55H210.53V445.21H211.26V445.23H212.26V445.39H213.15V446.08H214.76V446.74H216.12V447.06H217.44V447.44H218.95V447.77H220.01V448.19H220.64V448.41H221.75V448.41H223.44V449.33H225.17V449.95H226.30V450.17H227.47V450.17H228.88V450.57H229.70V450.61H231.29V450.96H232.14V451.13H233.40V451.80H235.10V452.30H236.63V452.30H238.25V452.59H239.13V452.99H240.24V453.00H241.03V453.52H241.76V453.52H242.67V453.92H244.12V454.16H245.02V454.16H245.77V454.39H246.65V454.71H247.85V454.71H249.57V454.81H250.38V455.14H251.60V455.14H253.38V455.39H255.16V455.55H255.77V455.96H257.42V455.96H259.21V456.20H260.86V456.69H261.88V456.69H263.42V456.95H264.61V457.22H265.78V457.32H266.97V457.66H267.66V457.71H269.03V457.93H270.20V457.93H271.29V457.93H272.38V457.93H273.79V458.30H275.05V458.30H276.48V458.83H278.23V458.83H279.16V458.83H279.93V458.92H280.77V458.99H281.20V459.29" fill="none" stroke="#111" stroke-width="1.25"/>
<path d="M188.81 439.44v1.8M190.38 440.07v1.8M192.04 440.50v1.8M193.41 440.50v1.8M194.40 440.83v1.8M195.38 441.05v1.8M197.03 441.31v1.8M197.68 441.31v1.8M199.79 441.78v1.8M202.05 442.06v1.8M203.82 442.89v1.8M205.64 443.14v1.8M206.90 443.48v1.8M207.86 443.48v1.8M210.53 444.31v1.8M211.26 444.33v1.8M212.26 444.49v1.8M213.15 445.18v1.8M214.76 445.84v1.8M216.12 446.16v1.8M218.95 446.87v1.8M220.64 447.51v1.8M221.75 447.51v1.8M223.44 448.43v1.8M225.17 449.05v1.8M226.30 449.27v1.8M227.47 449.27v1.8M228.88 449.67v1.8M229.70 449.71v1.8M231.29 450.06v1.8M232.14 450.23v1.8M235.10 451.40v1.8M236.63 451.40v1.8M238.25 451.69v1.8M239.13 452.09v1.8M240.24 452.10v1.8M241.03 452.62v1.8M244.12 453.26v1.8M245.02 453.26v1.8M245.77 453.49v1.8M246.65 453.81v1.8M247.85 453.81v1.8M249.57 453.91v1.8M250.38 454.24v1.8M253.38 454.49v1.8M255.16 454.65v1.8M255.77 455.06v1.8M257.42 455.06v1.8M259.21 455.30v1.8M260.86 455.79v1.8M261.88 455.79v1.8M263.42 456.05v1.8M264.61 456.32v1.8M265.78 456.42v1.8M266.97 456.76v1.8M269.03 457.03v1.8M270.20 457.03v1.8M271.29 457.03v1.8M272.38 457.03v1.8M275.05 457.40v1.8M276.48 457.93v1.8M278.23 457.93v1.8M279.16 457.93v1.8M279.93 458.02v1.8M280.77 458.09v1.8" stroke="#111" stroke-width="0.6"/>
<path d="M187.60 440.30H188.52V440.41H189.68V440.92H190.94V440.92H191.73V441.42H193.01V441.65H194.02V441.72H195.80V442.31H197.35V442.45H199.09V442.72H200.16V443.20H201.62V443.51H202.70V443.51H203.30V443.56H204.61V443.91H205.82V444.30H207.35V444.30H208.39V444.87H209.76V445.13H211.35V445.94H212.95V446.62H213.96V446.73H215.55V447.42H217.07V447.96H218.86V448.40H220.07V448.71H221.55V449.78H222.65V449.78H224.08V450.67H225.73V450.92H226.72V451.69H228.41V452.44H229.63V452.85H231.12V453.43H232.26V454.31H233.79V455.24H234.94V455.45H236.23V456.38H237.21V456.71H238.25V457.15H239.90V457.53H241.37V457.84H242.49V458.67H243.99V458.83H244.91V459.16H245.72V459.71H247.18V460.24H248.59V460.44H249.95V460.94H251.30V460.94H253.06V460.94H254.39V461.30H255.43V461.30H256.13V461.36H257.62V461.36H259.36V461.65H260.71V461.90H262.38V461.90H263.86V461.90H265.52V462.06H266.50V462.52H267.28V462.52H268.64V462.58H270.29V462.59H271.21V463.03H272.61V463.21H273.91V463.21H274.73V463.42H276.13V463.51H277.20V463.51H278.31V463.88H279.80V463.88H281.20V463.88" fill="none" stroke="#ee1111" stroke-width="1.25"/>
<path d="M188.52 439.51v1.8M189.68 440.02v1.8M190.94 440.02v1.8M191.73 440.52v1.8M193.01 440.75v1.8M194.02 440.82v1.8M197.35 441.55v1.8M199.09 441.82v1.8M200.16 442.30v1.8M201.62 442.61v1.8M202.70 442.61v1.8M205.82 443.40v1.8M207.35 443.40v1.8M208.39 443.97v1.8M209.76 444.23v1.8M212.95 445.72v1.8M215.55 446.52v1.8M217.07 447.06v1.8M218.86 447.50v1.8M220.07 447.81v1.8M221.55 448.88v1.8M222.65 448.88v1.8M224.08 449.77v1.8M226.72 450.79v1.8M228.41 451.54v1.8M229.63 451.95v1.8M231.12 452.53v1.8M232.26 453.41v1.8M233.79 454.34v1.8M234.94 454.55v1.8M236.23 455.48v1.8M237.21 455.81v1.8M238.25 456.25v1.8M239.90 456.63v1.8M241.37 456.94v1.8M242.49 457.77v1.8M243.99 457.93v1.8M245.72 458.81v1.8M247.18 459.34v1.8M248.59 459.54v1.8M249.95 460.04v1.8M253.06 460.04v1.8M254.39 460.40v1.8M255.43 460.40v1.8M257.62 460.46v1.8M260.71 461.00v1.8M262.38 461.00v1.8M263.86 461.00v1.8M265.52 461.16v1.8M266.50 461.62v1.8M267.28 461.62v1.8M270.29 461.69v1.8M271.21 462.13v1.8M273.91 462.31v1.8M274.73 462.52v1.8M276.13 462.61v1.8M277.20 462.61v1.8M278.31 462.98v1.8M279.80 462.98v1.8M281.20 462.98v1.8" stroke="#ee1111" stroke-width="0.6"/>
<text x="270.60" y="478.00" font-size="8.1" text-anchor="end" font-weight="bold" font-style="italic" fill="#111" >CDK2</text>
<text x="192.40" y="507.60" font-size="5.8" text-anchor="start" font-weight="bold" font-style="normal" fill="#222" >HR: 1.28 (1.00–1.64)</text>
<text x="192.40" y="514.30" font-size="5.8" text-anchor="start" font-weight="bold" font-style="normal" fill="#222" ><tspan font-style="italic">P</tspan> = 0.045</text>
<text x="288.00" y="465.20" font-size="6.5" text-anchor="start" font-weight="bold" font-style="normal" fill="#222" >*</text>
<text x="170.60" y="539.00" font-size="6.1" text-anchor="start" font-weight="bold" font-style="normal" fill="#111" >Low</text>
<text x="170.60" y="546.00" font-size="6.1" text-anchor="start" font-weight="bold" font-style="normal" fill="#ee1111" >High</text>
<text x="193.70" y="539.00" font-size="6.4" text-anchor="middle" font-weight="normal" font-style="normal" fill="#333" >1054</text>
<text x="193.70" y="546.00" font-size="6.4" text-anchor="middle" font-weight="normal" font-style="normal" fill="#ee1111" >348</text>
<text x="208.78" y="539.00" font-size="6.4" text-anchor="middle" font-weight="normal" font-style="normal" fill="#333" >997</text>
<text x="208.78" y="546.00" font-size="6.4" text-anchor="middle" font-weight="normal" font-style="normal" fill="#ee1111" >314</text>
<text x="223.87" y="539.00" font-size="6.4" text-anchor="middle" font-weight="normal" font-style="normal" fill="#333" >871</text>
<text x="223.87" y="546.00" font-size="6.4" text-anchor="middle" font-weight="normal" font-style="normal" fill="#ee1111" >276</text>
<text x="238.95" y="539.00" font-size="6.4" text-anchor="middle" font-weight="normal" font-style="normal" fill="#333" >770</text>
<text x="238.95" y="546.00" font-size="6.4" text-anchor="middle" font-weight="normal" font-style="normal" fill="#ee1111" >210</text>
<text x="254.03" y="539.00" font-size="6.4" text-anchor="middle" font-weight="normal" font-style="normal" fill="#333" >566</text>
<text x="254.03" y="546.00" font-size="6.4" text-anchor="middle" font-weight="normal" font-style="normal" fill="#ee1111" >150</text>
<text x="269.12" y="539.00" font-size="6.4" text-anchor="middle" font-weight="normal" font-style="normal" fill="#333" >377</text>
<text x="269.12" y="546.00" font-size="6.4" text-anchor="middle" font-weight="normal" font-style="normal" fill="#ee1111" >100</text>
<text x="284.20" y="539.00" font-size="6.4" text-anchor="middle" font-weight="normal" font-style="normal" fill="#333" >291</text>
<text x="284.20" y="546.00" font-size="6.4" text-anchor="middle" font-weight="normal" font-style="normal" fill="#ee1111" >83</text>
<rect x="328.60" y="437.10" width="97.20" height="80.30" fill="none" stroke="#aaa" stroke-width="0.6"/>
<path d="M327.20 514.40H328.60" stroke="#999" stroke-width="0.4"/>
<path d="M327.20 499.54H328.60" stroke="#999" stroke-width="0.4"/>
<path d="M327.20 484.68H328.60" stroke="#999" stroke-width="0.4"/>
<path d="M327.20 469.82H328.60" stroke="#999" stroke-width="0.4"/>
<path d="M327.20 454.96H328.60" stroke="#999" stroke-width="0.4"/>
<path d="M327.20 440.10H328.60" stroke="#999" stroke-width="0.4"/>
<text x="324.70" y="440.10" font-size="6.4" font-weight="bold" fill="#222" text-anchor="middle" transform="rotate(-90 324.70 440.10)">1.0</text>
<text x="324.70" y="481.25" font-size="6.4" font-weight="bold" fill="#222" text-anchor="middle" transform="rotate(-90 324.70 481.25)">0.5</text>
<text x="324.70" y="514.40" font-size="6.4" font-weight="bold" fill="#222" text-anchor="middle" transform="rotate(-90 324.70 514.40)">0.0</text>
<text x="312.60" y="479.75" font-size="6.4" fill="#555" text-anchor="middle" transform="rotate(-90 312.60 479.75)">Probability</text>
<path d="M332.20 517.40V518.60" stroke="#999" stroke-width="0.4"/>
<path d="M347.20 517.40V518.60" stroke="#999" stroke-width="0.4"/>
<path d="M362.20 517.40V518.60" stroke="#999" stroke-width="0.4"/>
<path d="M377.20 517.40V518.60" stroke="#999" stroke-width="0.4"/>
<path d="M392.20 517.40V518.60" stroke="#999" stroke-width="0.4"/>
<path d="M407.20 517.40V518.60" stroke="#999" stroke-width="0.4"/>
<path d="M422.20 517.40V518.60" stroke="#999" stroke-width="0.4"/>
<text x="331.50" y="526.60" font-size="6.3" text-anchor="middle" font-weight="bold" font-style="normal" fill="#222" >0.0</text>
<text x="422.60" y="526.60" font-size="6.3" text-anchor="middle" font-weight="bold" font-style="normal" fill="#222" >120</text>
<text x="375.70" y="529.40" font-size="6.8" text-anchor="middle" font-weight="normal" font-style="normal" fill="#444" >Time</text>
<path d="M331.60 439.80H332.41V439.88H333.38V440.41H334.92V440.61H335.57V440.66H336.67V441.00H338.46V441.32H339.96V441.60H341.56V441.83H343.02V442.41H344.61V442.76H345.47V442.76H347.14V442.78H348.77V443.50H349.72V443.61H351.21V443.95H352.22V444.20H353.88V444.79H355.51V445.11H357.22V445.50H358.56V445.90H359.42V446.24H360.72V446.24H362.11V447.06H363.21V447.06H364.68V447.56H365.58V447.94H366.86V447.94H368.51V448.31H369.74V448.90H370.65V448.90H372.05V449.28H373.28V449.89H374.07V449.98H375.70V450.20H376.65V450.28H377.54V450.31H379.16V450.90H379.98V451.38H380.72V451.38H381.47V451.38H382.23V451.53H383.96V452.06H384.60V452.06H385.61V452.42H386.76V452.56H387.80V452.60H389.38V452.97H390.75V453.58H392.21V453.79H392.83V453.79H394.20V454.45H395.97V454.52H396.62V454.71H397.83V455.13H399.17V455.18H400.82V455.26H401.72V455.61H402.65V455.61H404.11V455.96H405.29V455.96H405.91V456.01H407.12V456.62H408.15V456.62H409.66V456.68H411.41V457.34H412.25V457.34H413.91V457.66H414.79V457.66H416.29V458.03H417.37V458.18H418.86V458.33H420.58V458.53H422.31V459.02H422.40V459.02" fill="none" stroke="#111" stroke-width="1.25"/>
<path d="M332.41 438.98v1.8M333.38 439.51v1.8M334.92 439.71v1.8M336.67 440.10v1.8M338.46 440.42v1.8M339.96 440.70v1.8M341.56 440.93v1.8M343.02 441.51v1.8M344.61 441.86v1.8M345.47 441.86v1.8M347.14 441.88v1.8M348.77 442.60v1.8M351.21 443.05v1.8M352.22 443.30v1.8M353.88 443.89v1.8M355.51 444.21v1.8M358.56 445.00v1.8M359.42 445.34v1.8M360.72 445.34v1.8M362.11 446.16v1.8M363.21 446.16v1.8M365.58 447.04v1.8M366.86 447.04v1.8M368.51 447.41v1.8M369.74 448.00v1.8M370.65 448.00v1.8M373.28 448.99v1.8M374.07 449.08v1.8M375.70 449.30v1.8M376.65 449.38v1.8M377.54 449.41v1.8M379.16 450.00v1.8M379.98 450.48v1.8M380.72 450.48v1.8M382.23 450.63v1.8M383.96 451.16v1.8M384.60 451.16v1.8M385.61 451.52v1.8M386.76 451.66v1.8M387.80 451.70v1.8M389.38 452.07v1.8M390.75 452.68v1.8M392.83 452.89v1.8M394.20 453.55v1.8M396.62 453.81v1.8M397.83 454.23v1.8M399.17 454.28v1.8M400.82 454.36v1.8M401.72 454.71v1.8M402.65 454.71v1.8M404.11 455.06v1.8M405.91 455.11v1.8M407.12 455.72v1.8M408.15 455.72v1.8M411.41 456.44v1.8M412.25 456.44v1.8M413.91 456.76v1.8M417.37 457.28v1.8M418.86 457.43v1.8M420.58 457.63v1.8M422.31 458.12v1.8M422.40 458.12v1.8" stroke="#111" stroke-width="0.6"/>
<path d="M331.60 439.80H332.84V439.81H333.66V440.14H335.22V440.66H335.98V440.75H337.41V440.75H338.26V440.80H339.93V441.35H341.24V441.39H342.71V442.20H343.67V442.20H345.08V443.05H345.83V443.93H346.68V444.29H347.52V444.53H349.00V445.84H349.77V446.07H351.05V446.81H352.70V447.69H354.12V448.47H355.73V449.05H356.61V449.71H357.89V449.71H358.83V450.57H360.39V450.87H361.93V451.37H362.98V451.50H363.79V452.16H365.54V452.51H366.79V453.09H367.51V453.41H368.77V453.88H370.55V454.45H371.83V454.47H373.50V455.38H374.61V455.65H375.56V455.79H376.71V456.40H377.34V456.96H378.89V457.25H380.31V457.66H381.91V458.71H383.15V458.92H384.64V459.28H386.02V460.01H387.18V460.40H387.81V460.73H389.18V461.11H390.19V461.14H391.08V461.74H392.03V461.74H393.29V462.07H394.16V462.29H395.22V462.53H396.53V462.65H398.27V462.96H399.37V462.98H401.13V463.12H402.53V463.47H403.95V463.47H404.91V463.72H406.63V463.87H407.30V463.89H408.52V464.30H410.06V464.30H410.81V464.43H411.96V464.43H412.87V464.61H413.71V464.61H414.94V464.90H416.67V464.90H417.70V464.90H419.41V465.37H421.18V465.48H422.40V465.62" fill="none" stroke="#ee1111" stroke-width="1.25"/>
<path d="M332.84 438.91v1.8M333.66 439.24v1.8M335.22 439.76v1.8M335.98 439.85v1.8M337.41 439.85v1.8M342.71 441.30v1.8M343.67 441.30v1.8M345.08 442.15v1.8M345.83 443.03v1.8M346.68 443.39v1.8M349.00 444.94v1.8M349.77 445.17v1.8M351.05 445.91v1.8M352.70 446.79v1.8M355.73 448.15v1.8M356.61 448.81v1.8M357.89 448.81v1.8M358.83 449.67v1.8M360.39 449.97v1.8M361.93 450.47v1.8M362.98 450.60v1.8M363.79 451.26v1.8M365.54 451.61v1.8M367.51 452.51v1.8M368.77 452.98v1.8M371.83 453.57v1.8M373.50 454.48v1.8M374.61 454.75v1.8M375.56 454.89v1.8M378.89 456.35v1.8M380.31 456.76v1.8M383.15 458.02v1.8M384.64 458.38v1.8M386.02 459.11v1.8M389.18 460.21v1.8M390.19 460.24v1.8M391.08 460.84v1.8M392.03 460.84v1.8M393.29 461.17v1.8M394.16 461.39v1.8M395.22 461.63v1.8M396.53 461.75v1.8M398.27 462.06v1.8M399.37 462.08v1.8M401.13 462.22v1.8M402.53 462.57v1.8M403.95 462.57v1.8M404.91 462.82v1.8M406.63 462.97v1.8M407.30 462.99v1.8M408.52 463.40v1.8M410.06 463.40v1.8M410.81 463.53v1.8M411.96 463.53v1.8M412.87 463.71v1.8M413.71 463.71v1.8M414.94 464.00v1.8M416.67 464.00v1.8M419.41 464.47v1.8M421.18 464.58v1.8M422.40 464.72v1.8" stroke="#ee1111" stroke-width="0.6"/>
<text x="419.80" y="477.30" font-size="8.1" text-anchor="end" font-weight="bold" font-style="italic" fill="#111" >CCNE1</text>
<text x="419.80" y="486.90" font-size="8.1" text-anchor="end" font-weight="bold" font-style="italic" fill="#111" >+CDK2</text>
<text x="333.60" y="506.80" font-size="5.8" text-anchor="start" font-weight="bold" font-style="normal" fill="#222" >HR: 1.57 (1.24–2.00)</text>
<text x="333.60" y="513.50" font-size="5.8" text-anchor="start" font-weight="bold" font-style="normal" fill="#222" ><tspan font-style="italic">P</tspan> = 0.00019</text>
<text x="431.80" y="465.40" font-size="6.5" text-anchor="start" font-weight="bold" font-style="normal" fill="#222" >***</text>
<text x="311.80" y="538.50" font-size="6.1" text-anchor="start" font-weight="bold" font-style="normal" fill="#111" >Low</text>
<text x="311.80" y="545.50" font-size="6.1" text-anchor="start" font-weight="bold" font-style="normal" fill="#ee1111" >High</text>
<text x="334.90" y="538.50" font-size="6.4" text-anchor="middle" font-weight="normal" font-style="normal" fill="#333" >1054</text>
<text x="334.90" y="545.50" font-size="6.4" text-anchor="middle" font-weight="normal" font-style="normal" fill="#ee1111" >348</text>
<text x="349.98" y="538.50" font-size="6.4" text-anchor="middle" font-weight="normal" font-style="normal" fill="#333" >1000</text>
<text x="349.98" y="545.50" font-size="6.4" text-anchor="middle" font-weight="normal" font-style="normal" fill="#ee1111" >311</text>
<text x="365.07" y="538.50" font-size="6.4" text-anchor="middle" font-weight="normal" font-style="normal" fill="#333" >892</text>
<text x="365.07" y="545.50" font-size="6.4" text-anchor="middle" font-weight="normal" font-style="normal" fill="#ee1111" >255</text>
<text x="380.15" y="538.50" font-size="6.4" text-anchor="middle" font-weight="normal" font-style="normal" fill="#333" >785</text>
<text x="380.15" y="545.50" font-size="6.4" text-anchor="middle" font-weight="normal" font-style="normal" fill="#ee1111" >195</text>
<text x="395.23" y="538.50" font-size="6.4" text-anchor="middle" font-weight="normal" font-style="normal" fill="#333" >588</text>
<text x="395.23" y="545.50" font-size="6.4" text-anchor="middle" font-weight="normal" font-style="normal" fill="#ee1111" >128</text>
<text x="410.32" y="538.50" font-size="6.4" text-anchor="middle" font-weight="normal" font-style="normal" fill="#333" >389</text>
<text x="410.32" y="545.50" font-size="6.4" text-anchor="middle" font-weight="normal" font-style="normal" fill="#ee1111" >88</text>
<text x="425.40" y="538.50" font-size="6.4" text-anchor="middle" font-weight="normal" font-style="normal" fill="#333" >300</text>
<text x="425.40" y="545.50" font-size="6.4" text-anchor="middle" font-weight="normal" font-style="normal" fill="#ee1111" >74</text>
</svg></body></html>
